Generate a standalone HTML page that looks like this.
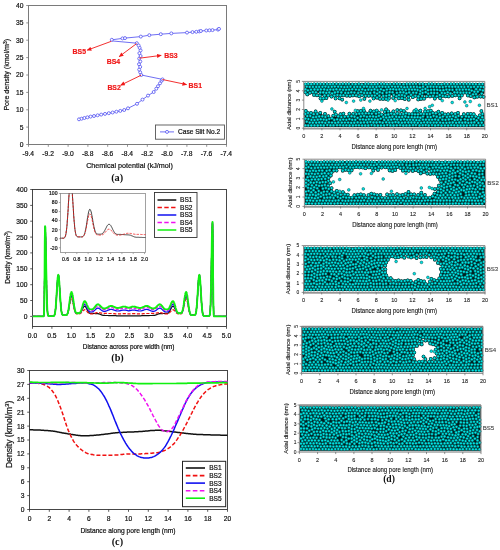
<!DOCTYPE html>
<html><head><meta charset="utf-8"><title>Figure</title>
<style>
html,body{margin:0;padding:0;background:#fff}
svg{display:block;font-family:"Liberation Sans", Arial, sans-serif}
.p circle{r:1.38px;fill:#00e6e6;stroke:#004848;stroke-width:.5px}
</style></head><body>
<svg width="500" height="550" viewBox="0 0 500 550">
<rect width="500" height="550" fill="#fff"/>
<g id="plot-a">
<rect x="28.5" y="5.5" width="198" height="139" fill="none" stroke="#7a7a7a" stroke-width="1"/>
<line x1="26.2" y1="144.5" x2="28.5" y2="144.5" stroke="#7a7a7a" stroke-width="0.8"/>
<text x="23.5" y="146.9" font-size="6.7" text-anchor="end" fill="#111" stroke="#111" stroke-width="0.2">0</text>
<line x1="26.2" y1="127.1" x2="28.5" y2="127.1" stroke="#7a7a7a" stroke-width="0.8"/>
<text x="23.5" y="129.5" font-size="6.7" text-anchor="end" fill="#111" stroke="#111" stroke-width="0.2">5</text>
<line x1="26.2" y1="109.8" x2="28.5" y2="109.8" stroke="#7a7a7a" stroke-width="0.8"/>
<text x="23.5" y="112.2" font-size="6.7" text-anchor="end" fill="#111" stroke="#111" stroke-width="0.2">10</text>
<line x1="26.2" y1="92.4" x2="28.5" y2="92.4" stroke="#7a7a7a" stroke-width="0.8"/>
<text x="23.5" y="94.8" font-size="6.7" text-anchor="end" fill="#111" stroke="#111" stroke-width="0.2">15</text>
<line x1="26.2" y1="75" x2="28.5" y2="75" stroke="#7a7a7a" stroke-width="0.8"/>
<text x="23.5" y="77.4" font-size="6.7" text-anchor="end" fill="#111" stroke="#111" stroke-width="0.2">20</text>
<line x1="26.2" y1="57.6" x2="28.5" y2="57.6" stroke="#7a7a7a" stroke-width="0.8"/>
<text x="23.5" y="60" font-size="6.7" text-anchor="end" fill="#111" stroke="#111" stroke-width="0.2">25</text>
<line x1="26.2" y1="40.2" x2="28.5" y2="40.2" stroke="#7a7a7a" stroke-width="0.8"/>
<text x="23.5" y="42.6" font-size="6.7" text-anchor="end" fill="#111" stroke="#111" stroke-width="0.2">30</text>
<line x1="26.2" y1="22.9" x2="28.5" y2="22.9" stroke="#7a7a7a" stroke-width="0.8"/>
<text x="23.5" y="25.3" font-size="6.7" text-anchor="end" fill="#111" stroke="#111" stroke-width="0.2">35</text>
<line x1="26.2" y1="5.5" x2="28.5" y2="5.5" stroke="#7a7a7a" stroke-width="0.8"/>
<text x="23.5" y="7.9" font-size="6.7" text-anchor="end" fill="#111" stroke="#111" stroke-width="0.2">40</text>
<line x1="28.5" y1="144.5" x2="28.5" y2="146.8" stroke="#7a7a7a" stroke-width="0.8"/>
<text x="28.3" y="155.7" font-size="6.7" text-anchor="middle" fill="#111" stroke="#111" stroke-width="0.2">-9.4</text>
<line x1="48.3" y1="144.5" x2="48.3" y2="146.8" stroke="#7a7a7a" stroke-width="0.8"/>
<text x="48.1" y="155.7" font-size="6.7" text-anchor="middle" fill="#111" stroke="#111" stroke-width="0.2">-9.2</text>
<line x1="68.1" y1="144.5" x2="68.1" y2="146.8" stroke="#7a7a7a" stroke-width="0.8"/>
<text x="67.9" y="155.7" font-size="6.7" text-anchor="middle" fill="#111" stroke="#111" stroke-width="0.2">-9.0</text>
<line x1="87.9" y1="144.5" x2="87.9" y2="146.8" stroke="#7a7a7a" stroke-width="0.8"/>
<text x="87.7" y="155.7" font-size="6.7" text-anchor="middle" fill="#111" stroke="#111" stroke-width="0.2">-8.8</text>
<line x1="107.7" y1="144.5" x2="107.7" y2="146.8" stroke="#7a7a7a" stroke-width="0.8"/>
<text x="107.5" y="155.7" font-size="6.7" text-anchor="middle" fill="#111" stroke="#111" stroke-width="0.2">-8.6</text>
<line x1="127.5" y1="144.5" x2="127.5" y2="146.8" stroke="#7a7a7a" stroke-width="0.8"/>
<text x="127.3" y="155.7" font-size="6.7" text-anchor="middle" fill="#111" stroke="#111" stroke-width="0.2">-8.4</text>
<line x1="147.3" y1="144.5" x2="147.3" y2="146.8" stroke="#7a7a7a" stroke-width="0.8"/>
<text x="147.1" y="155.7" font-size="6.7" text-anchor="middle" fill="#111" stroke="#111" stroke-width="0.2">-8.2</text>
<line x1="167.1" y1="144.5" x2="167.1" y2="146.8" stroke="#7a7a7a" stroke-width="0.8"/>
<text x="166.9" y="155.7" font-size="6.7" text-anchor="middle" fill="#111" stroke="#111" stroke-width="0.2">-8.0</text>
<line x1="186.9" y1="144.5" x2="186.9" y2="146.8" stroke="#7a7a7a" stroke-width="0.8"/>
<text x="186.7" y="155.7" font-size="6.7" text-anchor="middle" fill="#111" stroke="#111" stroke-width="0.2">-7.8</text>
<line x1="206.7" y1="144.5" x2="206.7" y2="146.8" stroke="#7a7a7a" stroke-width="0.8"/>
<text x="206.5" y="155.7" font-size="6.7" text-anchor="middle" fill="#111" stroke="#111" stroke-width="0.2">-7.6</text>
<line x1="226.5" y1="144.5" x2="226.5" y2="146.8" stroke="#7a7a7a" stroke-width="0.8"/>
<text x="226.3" y="155.7" font-size="6.7" text-anchor="middle" fill="#111" stroke="#111" stroke-width="0.2">-7.4</text>
<text x="129.5" y="167.5" font-size="7.2" text-anchor="middle" fill="#111" stroke="#111" stroke-width="0.2">Chemical potential (kJ/mol)</text>
<text x="9.4" y="74.8" font-size="7.1" text-anchor="middle" fill="#111" stroke="#111" stroke-width="0.2" transform="rotate(-90 9.4 74.8)">Pore density (kmol/m<tspan dy="-2.4" font-size="4.8">3</tspan><tspan dy="2.4">)</tspan></text>
<text x="117.2" y="181.2" font-size="10.3" text-anchor="middle" fill="#111" font-weight="bold" font-family='"Liberation Serif", "Times New Roman", serif'>(a)</text>
<polyline points="79,119.3 81.6,118.7 84.4,118 87.4,117.3 90.6,116.6 94,116 97.6,115.3 101.2,114.6 105,113.9 108.8,113.2 112.6,112.5 116.4,111.7 120.3,110.9 124.2,110 128,108.3 137,103.8 142.5,99.6 148,95.6 153.7,92 156.3,88.7 158,86.2 160,83.3 161.6,80.8 162.5,79.4 141.3,75 140.2,72.3 139.2,69.6 140.2,66.9 139,64.2 140.3,61.5 139.2,58.6 140.6,56 139.4,53.2 140.6,50.4 139.6,47.8 138.6,45.4 136.8,43.2 111.8,40.9 111.8,39.8 122.5,38.4 125,38.1 140.8,36.6 149.3,35.2 160.8,34.2 171.3,33.4 187,32.6 192.5,32.1 196.3,31.8 199.3,31.4 200.9,31 206.3,30.5 209.5,30.3 212.5,30.1 218,29.6 219,28.9" fill="none" stroke="#4a4af0" stroke-width="0.8"/>
<circle cx="79" cy="119.3" r="1.5" fill="#fff" stroke="#4a4af0" stroke-width="0.75"/>
<circle cx="81.6" cy="118.7" r="1.5" fill="#fff" stroke="#4a4af0" stroke-width="0.75"/>
<circle cx="84.4" cy="118" r="1.5" fill="#fff" stroke="#4a4af0" stroke-width="0.75"/>
<circle cx="87.4" cy="117.3" r="1.5" fill="#fff" stroke="#4a4af0" stroke-width="0.75"/>
<circle cx="90.6" cy="116.6" r="1.5" fill="#fff" stroke="#4a4af0" stroke-width="0.75"/>
<circle cx="94" cy="116" r="1.5" fill="#fff" stroke="#4a4af0" stroke-width="0.75"/>
<circle cx="97.6" cy="115.3" r="1.5" fill="#fff" stroke="#4a4af0" stroke-width="0.75"/>
<circle cx="101.2" cy="114.6" r="1.5" fill="#fff" stroke="#4a4af0" stroke-width="0.75"/>
<circle cx="105" cy="113.9" r="1.5" fill="#fff" stroke="#4a4af0" stroke-width="0.75"/>
<circle cx="108.8" cy="113.2" r="1.5" fill="#fff" stroke="#4a4af0" stroke-width="0.75"/>
<circle cx="112.6" cy="112.5" r="1.5" fill="#fff" stroke="#4a4af0" stroke-width="0.75"/>
<circle cx="116.4" cy="111.7" r="1.5" fill="#fff" stroke="#4a4af0" stroke-width="0.75"/>
<circle cx="120.3" cy="110.9" r="1.5" fill="#fff" stroke="#4a4af0" stroke-width="0.75"/>
<circle cx="124.2" cy="110" r="1.5" fill="#fff" stroke="#4a4af0" stroke-width="0.75"/>
<circle cx="128" cy="108.3" r="1.5" fill="#fff" stroke="#4a4af0" stroke-width="0.75"/>
<circle cx="137" cy="103.8" r="1.5" fill="#fff" stroke="#4a4af0" stroke-width="0.75"/>
<circle cx="142.5" cy="99.6" r="1.5" fill="#fff" stroke="#4a4af0" stroke-width="0.75"/>
<circle cx="148" cy="95.6" r="1.5" fill="#fff" stroke="#4a4af0" stroke-width="0.75"/>
<circle cx="153.7" cy="92" r="1.5" fill="#fff" stroke="#4a4af0" stroke-width="0.75"/>
<circle cx="156.3" cy="88.7" r="1.5" fill="#fff" stroke="#4a4af0" stroke-width="0.75"/>
<circle cx="158" cy="86.2" r="1.5" fill="#fff" stroke="#4a4af0" stroke-width="0.75"/>
<circle cx="160" cy="83.3" r="1.5" fill="#fff" stroke="#4a4af0" stroke-width="0.75"/>
<circle cx="161.6" cy="80.8" r="1.5" fill="#fff" stroke="#4a4af0" stroke-width="0.75"/>
<circle cx="162.5" cy="79.4" r="1.5" fill="#fff" stroke="#4a4af0" stroke-width="0.75"/>
<circle cx="141.3" cy="75" r="1.5" fill="#fff" stroke="#4a4af0" stroke-width="0.75"/>
<circle cx="140.2" cy="72.3" r="1.5" fill="#fff" stroke="#4a4af0" stroke-width="0.75"/>
<circle cx="139.2" cy="69.6" r="1.5" fill="#fff" stroke="#4a4af0" stroke-width="0.75"/>
<circle cx="140.2" cy="66.9" r="1.5" fill="#fff" stroke="#4a4af0" stroke-width="0.75"/>
<circle cx="139" cy="64.2" r="1.5" fill="#fff" stroke="#4a4af0" stroke-width="0.75"/>
<circle cx="140.3" cy="61.5" r="1.5" fill="#fff" stroke="#4a4af0" stroke-width="0.75"/>
<circle cx="139.2" cy="58.6" r="1.5" fill="#fff" stroke="#4a4af0" stroke-width="0.75"/>
<circle cx="140.6" cy="56" r="1.5" fill="#fff" stroke="#4a4af0" stroke-width="0.75"/>
<circle cx="139.4" cy="53.2" r="1.5" fill="#fff" stroke="#4a4af0" stroke-width="0.75"/>
<circle cx="140.6" cy="50.4" r="1.5" fill="#fff" stroke="#4a4af0" stroke-width="0.75"/>
<circle cx="139.6" cy="47.8" r="1.5" fill="#fff" stroke="#4a4af0" stroke-width="0.75"/>
<circle cx="138.6" cy="45.4" r="1.5" fill="#fff" stroke="#4a4af0" stroke-width="0.75"/>
<circle cx="136.8" cy="43.2" r="1.5" fill="#fff" stroke="#4a4af0" stroke-width="0.75"/>
<circle cx="111.8" cy="39.8" r="1.5" fill="#fff" stroke="#4a4af0" stroke-width="0.75"/>
<circle cx="122.5" cy="38.4" r="1.5" fill="#fff" stroke="#4a4af0" stroke-width="0.75"/>
<circle cx="125" cy="38.1" r="1.5" fill="#fff" stroke="#4a4af0" stroke-width="0.75"/>
<circle cx="140.8" cy="36.6" r="1.5" fill="#fff" stroke="#4a4af0" stroke-width="0.75"/>
<circle cx="149.3" cy="35.2" r="1.5" fill="#fff" stroke="#4a4af0" stroke-width="0.75"/>
<circle cx="160.8" cy="34.2" r="1.5" fill="#fff" stroke="#4a4af0" stroke-width="0.75"/>
<circle cx="171.3" cy="33.4" r="1.5" fill="#fff" stroke="#4a4af0" stroke-width="0.75"/>
<circle cx="187" cy="32.6" r="1.5" fill="#fff" stroke="#4a4af0" stroke-width="0.75"/>
<circle cx="192.5" cy="32.1" r="1.5" fill="#fff" stroke="#4a4af0" stroke-width="0.75"/>
<circle cx="196.3" cy="31.8" r="1.5" fill="#fff" stroke="#4a4af0" stroke-width="0.75"/>
<circle cx="199.3" cy="31.4" r="1.5" fill="#fff" stroke="#4a4af0" stroke-width="0.75"/>
<circle cx="200.9" cy="31" r="1.5" fill="#fff" stroke="#4a4af0" stroke-width="0.75"/>
<circle cx="206.3" cy="30.5" r="1.5" fill="#fff" stroke="#4a4af0" stroke-width="0.75"/>
<circle cx="209.5" cy="30.3" r="1.5" fill="#fff" stroke="#4a4af0" stroke-width="0.75"/>
<circle cx="212.5" cy="30.1" r="1.5" fill="#fff" stroke="#4a4af0" stroke-width="0.75"/>
<circle cx="218" cy="29.6" r="1.5" fill="#fff" stroke="#4a4af0" stroke-width="0.75"/>
<circle cx="219" cy="28.9" r="1.5" fill="#fff" stroke="#4a4af0" stroke-width="0.75"/>
<defs><marker id="ah" viewBox="0 0 10 10" refX="9" refY="5" markerWidth="5.2" markerHeight="4.6" orient="auto" markerUnits="userSpaceOnUse"><path d="M0,0.6 L10,5 L0,9.4 z" fill="#f01818"/></marker></defs>
<line x1="111.3" y1="41.3" x2="87.2" y2="50.2" stroke="#f01818" stroke-width="0.9" marker-end="url(#ah)"/>
<line x1="136.6" y1="43.6" x2="119.2" y2="56.6" stroke="#f01818" stroke-width="0.9" marker-end="url(#ah)"/>
<line x1="139.4" y1="58.2" x2="161.2" y2="55.4" stroke="#f01818" stroke-width="0.9" marker-end="url(#ah)"/>
<line x1="162.4" y1="79.5" x2="186.6" y2="84.6" stroke="#f01818" stroke-width="0.9" marker-end="url(#ah)"/>
<line x1="141.2" y1="75.2" x2="120.6" y2="85.2" stroke="#f01818" stroke-width="0.9" marker-end="url(#ah)"/>
<text x="72.6" y="53.6" font-size="6.9" text-anchor="start" fill="#f01818" stroke="#f01818" stroke-width="0.2" font-weight="bold">BS5</text>
<text x="106.8" y="63.6" font-size="6.9" text-anchor="start" fill="#f01818" stroke="#f01818" stroke-width="0.2" font-weight="bold">BS4</text>
<text x="164.2" y="58" font-size="6.9" text-anchor="start" fill="#f01818" stroke="#f01818" stroke-width="0.2" font-weight="bold">BS3</text>
<text x="188.6" y="88" font-size="6.9" text-anchor="start" fill="#f01818" stroke="#f01818" stroke-width="0.2" font-weight="bold">BS1</text>
<text x="107.4" y="90.4" font-size="6.9" text-anchor="start" fill="#f01818" stroke="#f01818" stroke-width="0.2" font-weight="bold">BS2</text>
<rect x="155.5" y="125" width="69" height="14.2" fill="#fff" stroke="#555" stroke-width="0.9"/>
<line x1="160" y1="131.9" x2="174" y2="131.9" stroke="#4a4af0" stroke-width="0.8"/>
<circle cx="167" cy="131.9" r="1.5" fill="#fff" stroke="#4a4af0" stroke-width="0.75"/>
<text x="178" y="134.3" font-size="6.6" text-anchor="start" fill="#111" stroke="#111" stroke-width="0.2">Case Slit No.2</text>
</g>
<g id="plot-b">
<rect x="32.5" y="189.5" width="194" height="137" fill="none" stroke="#333" stroke-width="0.9"/>
<line x1="30.2" y1="316.4" x2="32.5" y2="316.4" stroke="#333" stroke-width="0.8"/>
<text x="27.5" y="318.8" font-size="6.7" text-anchor="end" fill="#111" stroke="#111" stroke-width="0.2">0</text>
<line x1="30.2" y1="300.5" x2="32.5" y2="300.5" stroke="#333" stroke-width="0.8"/>
<text x="27.5" y="302.9" font-size="6.7" text-anchor="end" fill="#111" stroke="#111" stroke-width="0.2">50</text>
<line x1="30.2" y1="284.7" x2="32.5" y2="284.7" stroke="#333" stroke-width="0.8"/>
<text x="27.5" y="287.1" font-size="6.7" text-anchor="end" fill="#111" stroke="#111" stroke-width="0.2">100</text>
<line x1="30.2" y1="268.8" x2="32.5" y2="268.8" stroke="#333" stroke-width="0.8"/>
<text x="27.5" y="271.2" font-size="6.7" text-anchor="end" fill="#111" stroke="#111" stroke-width="0.2">150</text>
<line x1="30.2" y1="252.9" x2="32.5" y2="252.9" stroke="#333" stroke-width="0.8"/>
<text x="27.5" y="255.3" font-size="6.7" text-anchor="end" fill="#111" stroke="#111" stroke-width="0.2">200</text>
<line x1="30.2" y1="237.1" x2="32.5" y2="237.1" stroke="#333" stroke-width="0.8"/>
<text x="27.5" y="239.5" font-size="6.7" text-anchor="end" fill="#111" stroke="#111" stroke-width="0.2">250</text>
<line x1="30.2" y1="221.2" x2="32.5" y2="221.2" stroke="#333" stroke-width="0.8"/>
<text x="27.5" y="223.6" font-size="6.7" text-anchor="end" fill="#111" stroke="#111" stroke-width="0.2">300</text>
<line x1="30.2" y1="205.4" x2="32.5" y2="205.4" stroke="#333" stroke-width="0.8"/>
<text x="27.5" y="207.8" font-size="6.7" text-anchor="end" fill="#111" stroke="#111" stroke-width="0.2">350</text>
<line x1="30.2" y1="189.5" x2="32.5" y2="189.5" stroke="#333" stroke-width="0.8"/>
<text x="27.5" y="191.9" font-size="6.7" text-anchor="end" fill="#111" stroke="#111" stroke-width="0.2">400</text>
<line x1="32.5" y1="326.5" x2="32.5" y2="328.8" stroke="#333" stroke-width="0.8"/>
<text x="32.5" y="337.9" font-size="6.7" text-anchor="middle" fill="#111" stroke="#111" stroke-width="0.2">0.0</text>
<line x1="51.9" y1="326.5" x2="51.9" y2="328.8" stroke="#333" stroke-width="0.8"/>
<text x="51.9" y="337.9" font-size="6.7" text-anchor="middle" fill="#111" stroke="#111" stroke-width="0.2">0.5</text>
<line x1="71.3" y1="326.5" x2="71.3" y2="328.8" stroke="#333" stroke-width="0.8"/>
<text x="71.3" y="337.9" font-size="6.7" text-anchor="middle" fill="#111" stroke="#111" stroke-width="0.2">1.0</text>
<line x1="90.7" y1="326.5" x2="90.7" y2="328.8" stroke="#333" stroke-width="0.8"/>
<text x="90.7" y="337.9" font-size="6.7" text-anchor="middle" fill="#111" stroke="#111" stroke-width="0.2">1.5</text>
<line x1="110.1" y1="326.5" x2="110.1" y2="328.8" stroke="#333" stroke-width="0.8"/>
<text x="110.1" y="337.9" font-size="6.7" text-anchor="middle" fill="#111" stroke="#111" stroke-width="0.2">2.0</text>
<line x1="129.5" y1="326.5" x2="129.5" y2="328.8" stroke="#333" stroke-width="0.8"/>
<text x="129.5" y="337.9" font-size="6.7" text-anchor="middle" fill="#111" stroke="#111" stroke-width="0.2">2.5</text>
<line x1="148.9" y1="326.5" x2="148.9" y2="328.8" stroke="#333" stroke-width="0.8"/>
<text x="148.9" y="337.9" font-size="6.7" text-anchor="middle" fill="#111" stroke="#111" stroke-width="0.2">3.0</text>
<line x1="168.3" y1="326.5" x2="168.3" y2="328.8" stroke="#333" stroke-width="0.8"/>
<text x="168.3" y="337.9" font-size="6.7" text-anchor="middle" fill="#111" stroke="#111" stroke-width="0.2">3.5</text>
<line x1="187.7" y1="326.5" x2="187.7" y2="328.8" stroke="#333" stroke-width="0.8"/>
<text x="187.7" y="337.9" font-size="6.7" text-anchor="middle" fill="#111" stroke="#111" stroke-width="0.2">4.0</text>
<line x1="207.1" y1="326.5" x2="207.1" y2="328.8" stroke="#333" stroke-width="0.8"/>
<text x="207.1" y="337.9" font-size="6.7" text-anchor="middle" fill="#111" stroke="#111" stroke-width="0.2">4.5</text>
<line x1="226.5" y1="326.5" x2="226.5" y2="328.8" stroke="#333" stroke-width="0.8"/>
<text x="226.5" y="337.9" font-size="6.7" text-anchor="middle" fill="#111" stroke="#111" stroke-width="0.2">5.0</text>
<text x="128.6" y="348.8" font-size="6.4" text-anchor="middle" fill="#111" stroke="#111" stroke-width="0.2">Distance across pore width (nm)</text>
<text x="10.2" y="257.4" font-size="6.7" text-anchor="middle" fill="#111" stroke="#111" stroke-width="0.2" transform="rotate(-90 10.2 257.4)">Density (kmol/m<tspan dy="-2.2" font-size="4.6">3</tspan><tspan dy="2.2">)</tspan></text>
<text x="117.5" y="361.4" font-size="10.3" text-anchor="middle" fill="#111" font-weight="bold" font-family='"Liberation Serif", "Times New Roman", serif'>(b)</text>
<polyline points="32.5,316.4 32.6,316.4 32.8,316.4 32.9,316.4 33.1,316.4 33.2,316.4 33.3,316.4 33.5,316.4 33.6,316.4 33.7,316.4 33.9,316.4 34,316.4 34.2,316.4 34.3,316.4 34.4,316.4 34.6,316.4 34.7,316.4 34.9,316.4 35,316.4 35.1,316.4 35.3,316.4 35.4,316.4 35.6,316.4 35.7,316.4 35.8,316.4 36,316.4 36.1,316.4 36.2,316.4 36.4,316.4 36.5,316.4 36.7,316.4 36.8,316.4 36.9,316.4 37.1,316.4 37.2,316.4 37.4,316.4 37.5,316.4 37.6,316.4 37.8,316.4 37.9,316.4 38,316.4 38.2,316.4 38.3,316.4 38.5,316.4 38.6,316.4 38.7,316.4 38.9,316.4 39,316.4 39.2,316.4 39.3,316.4 39.4,316.4 39.6,316.4 39.7,316.4 39.8,316.4 40,316.4 40.1,316.4 40.3,316.4 40.4,316.4 40.5,316.4 40.7,316.4 40.8,316.4 41,316.4 41.1,316.4 41.2,316.4 41.4,316.4 41.5,316.4 41.7,316.4 41.8,316.4 41.9,316.4 42.1,316.4 42.2,316.4 42.3,316.4 42.5,316.4 42.6,316.4 42.8,316.4 42.9,316.4 43,316.4 43.2,316.4 43.3,316.4 43.5,316.4 43.6,316.3 43.7,316 43.9,315.3 44,313.4 44.1,309.4 44.3,302.2 44.4,290.9 44.6,275.9 44.7,258.7 44.8,242.4 45,230.8 45.1,226.9 45.3,227.9 45.4,230.6 45.5,234.8 45.7,240.3 45.8,246.9 46,254.1 46.1,261.7 46.2,269.4 46.4,276.8 46.5,283.7 46.6,290 46.8,295.5 46.9,300.3 47.1,304.2 47.2,307.4 47.3,309.9 47.5,311.7 47.6,313.1 47.8,314.2 47.9,314.8 48,315.3 48.2,315.6 48.3,315.8 48.4,315.9 48.6,316 48.7,316 48.9,316.1 49,316.1 49.1,316.1 49.3,316.1 49.4,316.1 49.6,316.1 49.7,316.1 49.8,316.1 50,316.1 50.1,316.1 50.2,316.1 50.4,316.1 50.5,316.1 50.7,316.1 50.8,316.1 50.9,316.1 51.1,316.1 51.2,316.1 51.4,316.1 51.5,316.1 51.6,316.1 51.8,316.1 51.9,316.1 52.1,316.1 52.2,316.1 52.3,316.1 52.5,316.1 52.6,316.1 52.7,316.1 52.9,316.1 53,316.1 53.2,316.1 53.3,316.1 53.4,316 53.6,316 53.7,316 53.9,315.9 54,315.8 54.1,315.7 54.3,315.5 54.4,315.2 54.5,314.9 54.7,314.5 54.8,314 55,313.3 55.1,312.6 55.2,311.7 55.4,310.6 55.5,309.4 55.7,308 55.8,306.4 55.9,304.7 56.1,302.8 56.2,300.8 56.4,298.6 56.5,296.4 56.6,294.1 56.8,291.7 56.9,289.4 57,287.1 57.2,284.9 57.3,282.9 57.5,281 57.6,279.3 57.7,277.9 57.9,276.7 58,275.9 58.2,275.4 58.3,275.2 58.4,275.3 58.6,275.8 58.7,276.6 58.8,277.6 59,279 59.1,280.6 59.3,282.4 59.4,284.4 59.5,286.6 59.7,288.8 59.8,291 60,293.3 60.1,295.6 60.2,297.8 60.4,299.9 60.5,301.9 60.7,303.7 60.8,305.5 60.9,307 61.1,308.4 61.2,309.6 61.3,310.7 61.5,311.6 61.6,312.4 61.8,313 61.9,313.5 62,313.9 62.2,314.3 62.3,314.5 62.5,314.7 62.6,314.8 62.7,314.9 62.9,315 63,315.1 63.1,315.1 63.3,315.1 63.4,315.1 63.6,315.1 63.7,315.1 63.8,315.1 64,315.1 64.1,315.1 64.3,315.1 64.4,315.1 64.5,315.1 64.7,315.1 64.8,315.1 64.9,315.1 65.1,315.1 65.2,315.1 65.4,315.1 65.5,315.1 65.6,315.1 65.8,315.1 65.9,315.1 66.1,315.1 66.2,315.1 66.3,315 66.5,315 66.6,314.9 66.8,314.9 66.9,314.7 67,314.6 67.2,314.4 67.3,314.2 67.4,314 67.6,313.7 67.7,313.3 67.9,312.9 68,312.5 68.1,311.9 68.3,311.4 68.4,310.7 68.6,310.1 68.7,309.3 68.8,308.6 69,307.7 69.1,306.9 69.2,306 69.4,305.1 69.5,304.2 69.7,303.3 69.8,302.4 69.9,301.5 70.1,300.6 70.2,299.8 70.4,299.1 70.5,298.4 70.6,297.7 70.8,297.2 70.9,296.7 71.1,296.3 71.2,296 71.3,295.9 71.5,295.8 71.6,295.8 71.7,295.9 71.9,296.1 72,296.5 72.2,296.8 72.3,297.3 72.4,297.9 72.6,298.5 72.7,299.1 72.9,299.9 73,300.6 73.1,301.4 73.3,302.2 73.4,303 73.5,303.9 73.7,304.7 73.8,305.5 74,306.3 74.1,307 74.2,307.7 74.4,308.4 74.5,309 74.7,309.6 74.8,310.2 74.9,310.6 75.1,311.1 75.2,311.5 75.3,311.8 75.5,312.1 75.6,312.3 75.8,312.5 75.9,312.7 76,312.8 76.2,312.9 76.3,313 76.5,313.1 76.6,313.1 76.7,313.2 76.9,313.2 77,313.2 77.2,313.2 77.3,313.2 77.4,313.2 77.6,313.2 77.7,313.2 77.8,313.2 78,313.2 78.1,313.2 78.3,313.2 78.4,313.2 78.5,313.2 78.7,313.2 78.8,313.2 79,313.2 79.1,313.2 79.2,313.2 79.4,313.1 79.5,313.1 79.6,313 79.8,313 79.9,312.9 80.1,312.8 80.2,312.7 80.3,312.6 80.5,312.5 80.6,312.3 80.8,312.2 80.9,312 81,311.8 81.2,311.6 81.3,311.4 81.5,311.1 81.6,310.9 81.7,310.6 81.9,310.3 82,310.1 82.1,309.8 82.3,309.5 82.4,309.2 82.6,308.9 82.7,308.6 82.8,308.4 83,308.1 83.1,307.8 83.3,307.6 83.4,307.4 83.5,307.1 83.7,307 83.8,306.8 83.9,306.6 84.1,306.5 84.2,306.4 84.4,306.3 84.5,306.3 84.6,306.2 84.8,306.3 84.9,306.3 85.1,306.3 85.2,306.4 85.3,306.5 85.5,306.7 85.6,306.8 85.7,307 85.9,307.2 86,307.5 86.2,307.7 86.3,308 86.4,308.2 86.6,308.5 86.7,308.8 86.9,309.1 87,309.4 87.1,309.7 87.3,310 87.4,310.2 87.6,310.5 87.7,310.8 87.8,311.1 88,311.3 88.1,311.5 88.2,311.8 88.4,312 88.5,312.2 88.7,312.4 88.8,312.5 88.9,312.7 89.1,312.8 89.2,312.9 89.4,313 89.5,313.1 89.6,313.2 89.8,313.2 89.9,313.3 90,313.3 90.2,313.3 90.3,313.4 90.5,313.4 90.6,313.4 90.7,313.4 90.9,313.4 91,313.4 91.2,313.4 91.3,313.4 91.4,313.4 91.6,313.4 91.7,313.4 91.9,313.4 92,313.4 92.1,313.4 92.3,313.4 92.4,313.4 92.5,313.4 92.7,313.4 92.8,313.4 93,313.4 93.1,313.4 93.2,313.4 93.4,313.4 93.5,313.4 93.7,313.4 93.8,313.5 93.9,313.5 94.1,313.5 94.2,313.5 94.3,313.5 94.5,313.5 94.6,313.5 94.8,313.5 94.9,313.5 95,313.6 95.2,313.6 95.3,313.6 95.5,313.6 95.6,313.6 95.7,313.6 95.9,313.6 96,313.6 96.1,313.6 96.3,313.6 96.4,313.7 96.6,313.7 96.7,313.7 96.8,313.7 97,313.7 97.1,313.7 97.3,313.7 97.4,313.7 97.5,313.7 97.7,313.7 97.8,313.7 98,313.7 98.1,313.7 98.2,313.7 98.4,313.7 98.5,313.8 98.6,313.8 98.8,313.8 98.9,313.8 99.1,313.9 99.2,313.9 99.3,314 99.5,314 99.6,314.1 99.8,314.1 99.9,314.2 100,314.2 100.2,314.3 100.3,314.3 100.4,314.4 100.6,314.5 100.7,314.5 100.9,314.6 101,314.7 101.1,314.7 101.3,314.8 101.4,314.8 101.6,314.9 101.7,315 101.8,315 102,315.1 102.1,315.1 102.3,315.2 102.4,315.2 102.5,315.2 102.7,315.3 102.8,315.3 102.9,315.3 103.1,315.4 103.2,315.4 103.4,315.4 103.5,315.4 103.6,315.4 103.8,315.4 103.9,315.4 104.1,315.4 104.2,315.4 104.3,315.4 104.5,315.4 104.6,315.4 104.7,315.4 104.9,315.4 105,315.5 105.2,315.5 105.3,315.5 105.4,315.5 105.6,315.5 105.7,315.5 105.9,315.5 106,315.5 106.1,315.5 106.3,315.5 106.4,315.5 106.6,315.5 106.7,315.5 106.8,315.5 107,315.5 107.1,315.5 107.2,315.5 107.4,315.5 107.5,315.5 107.7,315.5 107.8,315.5 107.9,315.5 108.1,315.5 108.2,315.5 108.4,315.5 108.5,315.6 108.6,315.6 108.8,315.6 108.9,315.6 109,315.6 109.2,315.6 109.3,315.6 109.5,315.6 109.6,315.6 109.7,315.6 109.9,315.6 110,315.6 110.2,315.6 110.3,315.6 110.4,315.6 110.6,315.6 110.7,315.6 110.8,315.6 111,315.6 111.1,315.6 111.3,315.6 111.4,315.6 111.5,315.6 111.7,315.6 111.8,315.6 112,315.6 112.1,315.6 112.2,315.6 112.4,315.6 112.5,315.6 112.7,315.6 112.8,315.6 112.9,315.6 113.1,315.6 113.2,315.6 113.3,315.6 113.5,315.7 113.6,315.7 113.8,315.7 113.9,315.7 114,315.7 114.2,315.7 114.3,315.7 114.5,315.7 114.6,315.7 114.7,315.7 114.9,315.7 115,315.7 115.1,315.7 115.3,315.7 115.4,315.7 115.6,315.7 115.7,315.7 115.8,315.7 116,315.7 116.1,315.7 116.3,315.7 116.4,315.8 116.5,315.8 116.7,315.8 116.8,315.8 117,315.8 117.1,315.8 117.2,315.8 117.4,315.8 117.5,315.8 117.6,315.8 117.8,315.8 117.9,315.8 118.1,315.8 118.2,315.8 118.3,315.8 118.5,315.8 118.6,315.8 118.8,315.8 118.9,315.8 119,315.8 119.2,315.8 119.3,315.8 119.4,315.8 119.6,315.8 119.7,315.8 119.9,315.8 120,315.8 120.1,315.8 120.3,315.8 120.4,315.8 120.6,315.8 120.7,315.8 120.8,315.8 121,315.8 121.1,315.8 121.2,315.8 121.4,315.8 121.5,315.8 121.7,315.8 121.8,315.8 121.9,315.8 122.1,315.8 122.2,315.8 122.4,315.8 122.5,315.8 122.6,315.8 122.8,315.8 122.9,315.8 123.1,315.8 123.2,315.8 123.3,315.8 123.5,315.8 123.6,315.8 123.7,315.8 123.9,315.8 124,315.8 124.2,315.8 124.3,315.8 124.4,315.8 124.6,315.8 124.7,315.8 124.9,315.8 125,315.8 125.1,315.8 125.3,315.8 125.4,315.8 125.5,315.8 125.7,315.8 125.8,315.8 126,315.8 126.1,315.8 126.2,315.8 126.4,315.8 126.5,315.8 126.7,315.8 126.8,315.8 126.9,315.8 127.1,315.8 127.2,315.8 127.4,315.8 127.5,315.8 127.6,315.8 127.8,315.8 127.9,315.8 128,315.8 128.2,315.8 128.3,315.8 128.5,315.8 128.6,315.8 128.7,315.8 128.9,315.8 129,315.8 129.2,315.8 129.3,315.8 129.4,315.8 129.6,315.8 129.7,315.8 129.8,315.8 130,315.8 130.1,315.8 130.3,315.8 130.4,315.8 130.5,315.8 130.7,315.8 130.8,315.8 131,315.8 131.1,315.8 131.2,315.8 131.4,315.8 131.5,315.8 131.6,315.8 131.8,315.8 131.9,315.8 132.1,315.8 132.2,315.8 132.3,315.8 132.5,315.8 132.6,315.8 132.8,315.8 132.9,315.8 133,315.8 133.2,315.8 133.3,315.8 133.5,315.8 133.6,315.8 133.7,315.8 133.9,315.8 134,315.8 134.1,315.8 134.3,315.8 134.4,315.8 134.6,315.8 134.7,315.8 134.8,315.8 135,315.8 135.1,315.8 135.3,315.8 135.4,315.8 135.5,315.8 135.7,315.8 135.8,315.8 135.9,315.8 136.1,315.8 136.2,315.8 136.4,315.8 136.5,315.8 136.6,315.8 136.8,315.8 136.9,315.8 137.1,315.8 137.2,315.8 137.3,315.8 137.5,315.8 137.6,315.8 137.8,315.8 137.9,315.8 138,315.8 138.2,315.8 138.3,315.8 138.4,315.8 138.6,315.8 138.7,315.8 138.9,315.8 139,315.8 139.1,315.8 139.3,315.8 139.4,315.8 139.6,315.8 139.7,315.8 139.8,315.8 140,315.8 140.1,315.8 140.2,315.8 140.4,315.8 140.5,315.8 140.7,315.8 140.8,315.8 140.9,315.8 141.1,315.8 141.2,315.8 141.4,315.7 141.5,315.7 141.6,315.7 141.8,315.7 141.9,315.7 142,315.7 142.2,315.7 142.3,315.7 142.5,315.7 142.6,315.7 142.7,315.7 142.9,315.7 143,315.7 143.2,315.7 143.3,315.7 143.4,315.7 143.6,315.7 143.7,315.7 143.9,315.7 144,315.7 144.1,315.7 144.3,315.7 144.4,315.6 144.5,315.6 144.7,315.6 144.8,315.6 145,315.6 145.1,315.6 145.2,315.6 145.4,315.6 145.5,315.6 145.7,315.6 145.8,315.6 145.9,315.6 146.1,315.6 146.2,315.6 146.3,315.6 146.5,315.6 146.6,315.6 146.8,315.6 146.9,315.6 147,315.6 147.2,315.6 147.3,315.6 147.5,315.6 147.6,315.6 147.7,315.6 147.9,315.6 148,315.6 148.2,315.6 148.3,315.6 148.4,315.6 148.6,315.6 148.7,315.6 148.8,315.6 149,315.6 149.1,315.6 149.3,315.6 149.4,315.5 149.5,315.5 149.7,315.5 149.8,315.5 150,315.5 150.1,315.5 150.2,315.5 150.4,315.5 150.5,315.5 150.6,315.5 150.8,315.5 150.9,315.5 151.1,315.5 151.2,315.5 151.3,315.5 151.5,315.5 151.6,315.5 151.8,315.5 151.9,315.5 152,315.5 152.2,315.5 152.3,315.5 152.4,315.5 152.6,315.5 152.7,315.4 152.9,315.4 153,315.4 153.1,315.4 153.3,315.4 153.4,315.4 153.6,315.4 153.7,315.4 153.8,315.4 154,315.4 154.1,315.4 154.3,315.4 154.4,315.4 154.5,315.4 154.7,315.3 154.8,315.3 154.9,315.3 155.1,315.2 155.2,315.2 155.4,315.2 155.5,315.1 155.6,315.1 155.8,315 155.9,315 156.1,314.9 156.2,314.9 156.3,314.8 156.5,314.7 156.6,314.7 156.7,314.6 156.9,314.6 157,314.5 157.2,314.4 157.3,314.4 157.4,314.3 157.6,314.2 157.7,314.2 157.9,314.1 158,314.1 158.1,314 158.3,314 158.4,313.9 158.6,313.9 158.7,313.8 158.8,313.8 159,313.8 159.1,313.8 159.2,313.7 159.4,313.7 159.5,313.7 159.7,313.7 159.8,313.7 159.9,313.7 160.1,313.7 160.2,313.7 160.4,313.7 160.5,313.7 160.6,313.7 160.8,313.7 160.9,313.7 161,313.7 161.2,313.7 161.3,313.7 161.5,313.6 161.6,313.6 161.7,313.6 161.9,313.6 162,313.6 162.2,313.6 162.3,313.6 162.4,313.6 162.6,313.6 162.7,313.5 162.9,313.5 163,313.5 163.1,313.5 163.3,313.5 163.4,313.5 163.5,313.5 163.7,313.5 163.8,313.5 164,313.5 164.1,313.4 164.2,313.4 164.4,313.4 164.5,313.4 164.7,313.4 164.8,313.4 164.9,313.4 165.1,313.4 165.2,313.4 165.3,313.4 165.5,313.4 165.6,313.4 165.8,313.4 165.9,313.4 166,313.4 166.2,313.4 166.3,313.4 166.5,313.4 166.6,313.4 166.7,313.4 166.9,313.4 167,313.4 167.1,313.4 167.3,313.4 167.4,313.3 167.6,313.3 167.7,313.3 167.8,313.2 168,313.2 168.1,313.1 168.3,313 168.4,312.9 168.5,312.8 168.7,312.7 168.8,312.5 169,312.4 169.1,312.2 169.2,312 169.4,311.8 169.5,311.6 169.6,311.4 169.8,311.1 169.9,310.8 170.1,310.6 170.2,310.3 170.3,310 170.5,309.7 170.6,309.4 170.8,309.1 170.9,308.8 171,308.6 171.2,308.3 171.3,308 171.4,307.8 171.6,307.5 171.7,307.3 171.9,307.1 172,306.9 172.1,306.7 172.3,306.6 172.4,306.5 172.6,306.4 172.7,306.3 172.8,306.3 173,306.2 173.1,306.3 173.3,306.3 173.4,306.4 173.5,306.5 173.7,306.6 173.8,306.7 173.9,306.9 174.1,307.1 174.2,307.3 174.4,307.5 174.5,307.8 174.6,308 174.8,308.3 174.9,308.6 175.1,308.9 175.2,309.1 175.3,309.4 175.5,309.7 175.6,310 175.7,310.3 175.9,310.5 176,310.8 176.2,311.1 176.3,311.3 176.4,311.5 176.6,311.7 176.7,311.9 176.9,312.1 177,312.3 177.1,312.4 177.3,312.6 177.4,312.7 177.5,312.8 177.7,312.9 177.8,313 178,313 178.1,313.1 178.2,313.1 178.4,313.2 178.5,313.2 178.7,313.2 178.8,313.2 178.9,313.2 179.1,313.2 179.2,313.2 179.4,313.2 179.5,313.2 179.6,313.2 179.8,313.2 179.9,313.2 180,313.2 180.2,313.2 180.3,313.2 180.5,313.2 180.6,313.2 180.7,313.2 180.9,313.2 181,313.1 181.2,313.1 181.3,313 181.4,313 181.6,312.9 181.7,312.7 181.8,312.6 182,312.4 182.1,312.1 182.3,311.8 182.4,311.5 182.5,311.2 182.7,310.7 182.8,310.3 183,309.7 183.1,309.2 183.2,308.5 183.4,307.9 183.5,307.2 183.7,306.4 183.8,305.6 183.9,304.9 184.1,304 184.2,303.2 184.3,302.4 184.5,301.6 184.6,300.8 184.8,300 184.9,299.3 185,298.6 185.2,298 185.3,297.4 185.5,296.9 185.6,296.5 185.7,296.2 185.9,296 186,295.8 186.1,295.8 186.3,295.8 186.4,296 186.6,296.2 186.7,296.6 186.8,297.1 187,297.6 187.1,298.2 187.3,298.9 187.4,299.7 187.5,300.5 187.7,301.3 187.8,302.2 187.9,303.1 188.1,304 188.2,304.9 188.4,305.8 188.5,306.7 188.6,307.6 188.8,308.4 188.9,309.2 189.1,309.9 189.2,310.6 189.3,311.2 189.5,311.8 189.6,312.4 189.8,312.8 189.9,313.2 190,313.6 190.2,313.9 190.3,314.2 190.4,314.4 190.6,314.6 190.7,314.7 190.9,314.8 191,314.9 191.1,315 191.3,315 191.4,315.1 191.6,315.1 191.7,315.1 191.8,315.1 192,315.1 192.1,315.1 192.2,315.1 192.4,315.1 192.5,315.1 192.7,315.1 192.8,315.1 192.9,315.1 193.1,315.1 193.2,315.1 193.4,315.1 193.5,315.1 193.6,315.1 193.8,315.1 193.9,315.1 194.1,315.1 194.2,315.1 194.3,315.1 194.5,315.1 194.6,315.1 194.7,315 194.9,315 195,314.9 195.2,314.7 195.3,314.6 195.4,314.3 195.6,314 195.7,313.6 195.9,313.1 196,312.5 196.1,311.8 196.3,310.9 196.4,309.9 196.5,308.7 196.7,307.3 196.8,305.8 197,304.1 197.1,302.3 197.2,300.3 197.4,298.2 197.5,296 197.7,293.8 197.8,291.5 197.9,289.2 198.1,287 198.2,284.9 198.3,282.8 198.5,281 198.6,279.3 198.8,277.9 198.9,276.8 199,275.9 199.2,275.4 199.3,275.2 199.5,275.3 199.6,275.7 199.7,276.5 199.9,277.6 200,279 200.2,280.6 200.3,282.5 200.4,284.5 200.6,286.7 200.7,288.9 200.8,291.3 201,293.6 201.1,295.9 201.3,298.2 201.4,300.3 201.5,302.4 201.7,304.3 201.8,306.1 202,307.7 202.1,309.1 202.2,310.4 202.4,311.5 202.5,312.4 202.6,313.2 202.8,313.9 202.9,314.4 203.1,314.8 203.2,315.2 203.3,315.4 203.5,315.6 203.6,315.8 203.8,315.9 203.9,316 204,316 204.2,316 204.3,316.1 204.5,316.1 204.6,316.1 204.7,316.1 204.9,316.1 205,316.1 205.1,316.1 205.3,316.1 205.4,316.1 205.6,316.1 205.7,316.1 205.8,316.1 206,316.1 206.1,316.1 206.3,316.1 206.4,316.1 206.5,316.1 206.7,316.1 206.8,316.1 206.9,316.1 207.1,316.1 207.2,316.1 207.4,316.1 207.5,316.1 207.6,316.1 207.8,316.1 207.9,316.1 208.1,316.1 208.2,316.1 208.3,316.1 208.5,316.1 208.6,316.1 208.8,316 208.9,316 209,316 209.2,315.9 209.3,315.8 209.4,315.6 209.6,315.3 209.7,314.9 209.9,314.2 210,313.2 210.1,311.9 210.3,310 210.4,307.5 210.6,304.3 210.7,300.4 210.8,295.6 211,290 211.1,283.5 211.2,276.4 211.4,268.7 211.5,260.6 211.7,252.6 211.8,244.9 211.9,237.9 212.1,231.8 212.2,227.1 212.4,223.9 212.5,222.5 212.6,224.9 212.8,235.6 212.9,252 213,270.2 213.2,286.7 213.3,299.4 213.5,307.8 213.6,312.6 213.7,314.9 213.9,315.9 214,316.3 214.2,316.4 214.3,316.4 214.4,316.4 214.6,316.4 214.7,316.4 214.9,316.4 215,316.4 215.1,316.4 215.3,316.4 215.4,316.4 215.5,316.4 215.7,316.4 215.8,316.4 216,316.4 216.1,316.4 216.2,316.4 216.4,316.4 216.5,316.4 216.7,316.4 216.8,316.4 216.9,316.4 217.1,316.4 217.2,316.4 217.3,316.4 217.5,316.4 217.6,316.4 217.8,316.4 217.9,316.4 218,316.4 218.2,316.4 218.3,316.4 218.5,316.4 218.6,316.4 218.7,316.4 218.9,316.4 219,316.4 219.2,316.4 219.3,316.4 219.4,316.4 219.6,316.4 219.7,316.4 219.8,316.4 220,316.4 220.1,316.4 220.3,316.4 220.4,316.4 220.5,316.4 220.7,316.4 220.8,316.4 221,316.4 221.1,316.4 221.2,316.4 221.4,316.4 221.5,316.4 221.6,316.4 221.8,316.4 221.9,316.4 222.1,316.4 222.2,316.4 222.3,316.4 222.5,316.4 222.6,316.4 222.8,316.4 222.9,316.4 223,316.4 223.2,316.4 223.3,316.4 223.4,316.4 223.6,316.4 223.7,316.4 223.9,316.4 224,316.4 224.1,316.4 224.3,316.4 224.4,316.4 224.6,316.4 224.7,316.4 224.8,316.4 225,316.4 225.1,316.4 225.3,316.4 225.4,316.4 225.5,316.4 225.7,316.4 225.8,316.4 225.9,316.4 226.1,316.4 226.2,316.4 226.4,316.4 226.5,316.4" fill="none" stroke="#111" stroke-width="1.2" stroke-linejoin="round"/>
<polyline points="32.5,316.4 32.6,316.4 32.8,316.4 32.9,316.4 33.1,316.4 33.2,316.4 33.3,316.4 33.5,316.4 33.6,316.4 33.7,316.4 33.9,316.4 34,316.4 34.2,316.4 34.3,316.4 34.4,316.4 34.6,316.4 34.7,316.4 34.9,316.4 35,316.4 35.1,316.4 35.3,316.4 35.4,316.4 35.6,316.4 35.7,316.4 35.8,316.4 36,316.4 36.1,316.4 36.2,316.4 36.4,316.4 36.5,316.4 36.7,316.4 36.8,316.4 36.9,316.4 37.1,316.4 37.2,316.4 37.4,316.4 37.5,316.4 37.6,316.4 37.8,316.4 37.9,316.4 38,316.4 38.2,316.4 38.3,316.4 38.5,316.4 38.6,316.4 38.7,316.4 38.9,316.4 39,316.4 39.2,316.4 39.3,316.4 39.4,316.4 39.6,316.4 39.7,316.4 39.8,316.4 40,316.4 40.1,316.4 40.3,316.4 40.4,316.4 40.5,316.4 40.7,316.4 40.8,316.4 41,316.4 41.1,316.4 41.2,316.4 41.4,316.4 41.5,316.4 41.7,316.4 41.8,316.4 41.9,316.4 42.1,316.4 42.2,316.4 42.3,316.4 42.5,316.4 42.6,316.4 42.8,316.4 42.9,316.4 43,316.4 43.2,316.4 43.3,316.4 43.5,316.4 43.6,316.3 43.7,316 43.9,315.3 44,313.4 44.1,309.4 44.3,302.2 44.4,290.9 44.6,275.9 44.7,258.7 44.8,242.4 45,230.8 45.1,226.9 45.3,227.9 45.4,230.6 45.5,234.8 45.7,240.3 45.8,246.9 46,254.1 46.1,261.7 46.2,269.4 46.4,276.8 46.5,283.7 46.6,290 46.8,295.5 46.9,300.3 47.1,304.2 47.2,307.4 47.3,309.9 47.5,311.7 47.6,313.1 47.8,314.2 47.9,314.8 48,315.3 48.2,315.6 48.3,315.8 48.4,315.9 48.6,316 48.7,316 48.9,316.1 49,316.1 49.1,316.1 49.3,316.1 49.4,316.1 49.6,316.1 49.7,316.1 49.8,316.1 50,316.1 50.1,316.1 50.2,316.1 50.4,316.1 50.5,316.1 50.7,316.1 50.8,316.1 50.9,316.1 51.1,316.1 51.2,316.1 51.4,316.1 51.5,316.1 51.6,316.1 51.8,316.1 51.9,316.1 52.1,316.1 52.2,316.1 52.3,316.1 52.5,316.1 52.6,316.1 52.7,316.1 52.9,316.1 53,316.1 53.2,316.1 53.3,316.1 53.4,316 53.6,316 53.7,316 53.9,315.9 54,315.8 54.1,315.7 54.3,315.5 54.4,315.2 54.5,314.9 54.7,314.5 54.8,314 55,313.3 55.1,312.6 55.2,311.7 55.4,310.6 55.5,309.4 55.7,308 55.8,306.4 55.9,304.7 56.1,302.8 56.2,300.8 56.4,298.6 56.5,296.4 56.6,294.1 56.8,291.7 56.9,289.4 57,287.1 57.2,284.9 57.3,282.9 57.5,281 57.6,279.3 57.7,277.9 57.9,276.7 58,275.9 58.2,275.4 58.3,275.2 58.4,275.3 58.6,275.8 58.7,276.6 58.8,277.6 59,279 59.1,280.6 59.3,282.4 59.4,284.4 59.5,286.6 59.7,288.8 59.8,291 60,293.3 60.1,295.6 60.2,297.8 60.4,299.9 60.5,301.9 60.7,303.7 60.8,305.5 60.9,307 61.1,308.4 61.2,309.6 61.3,310.7 61.5,311.6 61.6,312.4 61.8,313 61.9,313.5 62,313.9 62.2,314.3 62.3,314.5 62.5,314.7 62.6,314.8 62.7,314.9 62.9,315 63,315.1 63.1,315.1 63.3,315.1 63.4,315.1 63.6,315.1 63.7,315.1 63.8,315.1 64,315.1 64.1,315.1 64.3,315.1 64.4,315.1 64.5,315.1 64.7,315.1 64.8,315.1 64.9,315.1 65.1,315.1 65.2,315.1 65.4,315.1 65.5,315.1 65.6,315.1 65.8,315.1 65.9,315.1 66.1,315.1 66.2,315.1 66.3,315.1 66.5,315 66.6,315 66.8,314.9 66.9,314.8 67,314.7 67.2,314.5 67.3,314.4 67.4,314.2 67.6,313.9 67.7,313.6 67.9,313.3 68,312.9 68.1,312.5 68.3,312 68.4,311.5 68.6,310.9 68.7,310.3 68.8,309.6 69,309 69.1,308.2 69.2,307.5 69.4,306.8 69.5,306 69.7,305.2 69.8,304.5 69.9,303.7 70.1,303 70.2,302.3 70.4,301.7 70.5,301.1 70.6,300.6 70.8,300.1 70.9,299.7 71.1,299.4 71.2,299.2 71.3,299 71.5,299 71.6,299 71.7,299.1 71.9,299.3 72,299.5 72.2,299.9 72.3,300.3 72.4,300.7 72.6,301.3 72.7,301.8 72.9,302.4 73,303.1 73.1,303.8 73.3,304.5 73.4,305.2 73.5,305.9 73.7,306.6 73.8,307.2 74,307.9 74.1,308.6 74.2,309.2 74.4,309.7 74.5,310.3 74.7,310.8 74.8,311.2 74.9,311.6 75.1,312 75.2,312.3 75.3,312.6 75.5,312.9 75.6,313.1 75.8,313.3 75.9,313.4 76,313.5 76.2,313.6 76.3,313.7 76.5,313.7 76.6,313.8 76.7,313.8 76.9,313.8 77,313.8 77.2,313.9 77.3,313.9 77.4,313.9 77.6,313.9 77.7,313.9 77.8,313.9 78,313.9 78.1,313.9 78.3,313.9 78.4,313.9 78.5,313.9 78.7,313.9 78.8,313.9 79,313.8 79.1,313.8 79.2,313.8 79.4,313.8 79.5,313.8 79.6,313.8 79.8,313.7 79.9,313.7 80.1,313.6 80.2,313.6 80.3,313.5 80.5,313.4 80.6,313.3 80.8,313.2 80.9,313.1 81,313 81.2,312.9 81.3,312.8 81.5,312.6 81.6,312.5 81.7,312.3 81.9,312.2 82,312 82.1,311.8 82.3,311.7 82.4,311.5 82.6,311.3 82.7,311.1 82.8,311 83,310.8 83.1,310.7 83.3,310.5 83.4,310.4 83.5,310.3 83.7,310.2 83.8,310.1 83.9,310 84.1,309.9 84.2,309.8 84.4,309.8 84.5,309.8 84.6,309.7 84.8,309.7 84.9,309.8 85.1,309.8 85.2,309.8 85.3,309.9 85.5,310 85.6,310.1 85.7,310.2 85.9,310.3 86,310.4 86.2,310.6 86.3,310.7 86.4,310.9 86.6,311 86.7,311.2 86.9,311.4 87,311.5 87.1,311.7 87.3,311.9 87.4,312 87.6,312.2 87.7,312.4 87.8,312.5 88,312.7 88.1,312.8 88.2,312.9 88.4,313.1 88.5,313.2 88.7,313.3 88.8,313.4 88.9,313.4 89.1,313.5 89.2,313.6 89.4,313.6 89.5,313.7 89.6,313.7 89.8,313.8 89.9,313.8 90,313.8 90.2,313.8 90.3,313.8 90.5,313.9 90.6,313.9 90.7,313.9 90.9,313.9 91,313.9 91.2,313.9 91.3,313.9 91.4,313.9 91.6,313.9 91.7,313.9 91.9,313.9 92,313.8 92.1,313.8 92.3,313.8 92.4,313.8 92.5,313.8 92.7,313.8 92.8,313.8 93,313.8 93.1,313.7 93.2,313.7 93.4,313.7 93.5,313.6 93.7,313.6 93.8,313.6 93.9,313.5 94.1,313.5 94.2,313.5 94.3,313.4 94.5,313.4 94.6,313.3 94.8,313.3 94.9,313.2 95,313.2 95.2,313.2 95.3,313.1 95.5,313.1 95.6,313 95.7,313 95.9,312.9 96,312.9 96.1,312.9 96.3,312.8 96.4,312.8 96.6,312.7 96.7,312.7 96.8,312.7 97,312.7 97.1,312.6 97.3,312.6 97.4,312.6 97.5,312.6 97.7,312.6 97.8,312.6 98,312.6 98.1,312.6 98.2,312.6 98.4,312.6 98.5,312.6 98.6,312.6 98.8,312.6 98.9,312.7 99.1,312.7 99.2,312.7 99.3,312.7 99.5,312.7 99.6,312.8 99.8,312.8 99.9,312.8 100,312.8 100.2,312.9 100.3,312.9 100.4,312.9 100.6,312.9 100.7,313 100.9,313 101,313 101.1,313.1 101.3,313.1 101.4,313.1 101.6,313.1 101.7,313.2 101.8,313.2 102,313.2 102.1,313.2 102.3,313.3 102.4,313.3 102.5,313.3 102.7,313.3 102.8,313.3 102.9,313.3 103.1,313.3 103.2,313.4 103.4,313.4 103.5,313.4 103.6,313.4 103.8,313.4 103.9,313.4 104.1,313.4 104.2,313.4 104.3,313.4 104.5,313.4 104.6,313.4 104.7,313.4 104.9,313.4 105,313.4 105.2,313.4 105.3,313.4 105.4,313.4 105.6,313.4 105.7,313.4 105.9,313.4 106,313.4 106.1,313.4 106.3,313.4 106.4,313.4 106.6,313.4 106.7,313.4 106.8,313.4 107,313.4 107.1,313.4 107.2,313.4 107.4,313.5 107.5,313.5 107.7,313.5 107.8,313.5 107.9,313.5 108.1,313.5 108.2,313.5 108.4,313.5 108.5,313.5 108.6,313.5 108.8,313.5 108.9,313.5 109,313.5 109.2,313.5 109.3,313.5 109.5,313.5 109.6,313.5 109.7,313.5 109.9,313.5 110,313.5 110.2,313.5 110.3,313.5 110.4,313.5 110.6,313.5 110.7,313.5 110.8,313.5 111,313.5 111.1,313.5 111.3,313.5 111.4,313.5 111.5,313.5 111.7,313.6 111.8,313.6 112,313.6 112.1,313.6 112.2,313.6 112.4,313.6 112.5,313.6 112.7,313.6 112.8,313.6 112.9,313.6 113.1,313.6 113.2,313.6 113.3,313.6 113.5,313.6 113.6,313.6 113.8,313.7 113.9,313.7 114,313.7 114.2,313.7 114.3,313.7 114.5,313.7 114.6,313.7 114.7,313.7 114.9,313.7 115,313.8 115.1,313.8 115.3,313.8 115.4,313.8 115.6,313.8 115.7,313.8 115.8,313.8 116,313.8 116.1,313.8 116.3,313.8 116.4,313.8 116.5,313.8 116.7,313.8 116.8,313.8 117,313.9 117.1,313.9 117.2,313.9 117.4,313.9 117.5,313.9 117.6,313.9 117.8,313.9 117.9,313.9 118.1,313.9 118.2,313.9 118.3,313.9 118.5,313.9 118.6,313.9 118.8,313.9 118.9,313.8 119,313.8 119.2,313.8 119.3,313.8 119.4,313.8 119.6,313.8 119.7,313.8 119.9,313.8 120,313.8 120.1,313.8 120.3,313.8 120.4,313.8 120.6,313.8 120.7,313.8 120.8,313.8 121,313.8 121.1,313.8 121.2,313.8 121.4,313.8 121.5,313.8 121.7,313.8 121.8,313.8 121.9,313.7 122.1,313.7 122.2,313.7 122.4,313.7 122.5,313.7 122.6,313.7 122.8,313.7 122.9,313.7 123.1,313.7 123.2,313.7 123.3,313.7 123.5,313.7 123.6,313.7 123.7,313.7 123.9,313.7 124,313.7 124.2,313.7 124.3,313.7 124.4,313.7 124.6,313.7 124.7,313.7 124.9,313.7 125,313.7 125.1,313.7 125.3,313.7 125.4,313.7 125.5,313.7 125.7,313.7 125.8,313.7 126,313.7 126.1,313.7 126.2,313.8 126.4,313.8 126.5,313.8 126.7,313.8 126.8,313.8 126.9,313.8 127.1,313.8 127.2,313.8 127.4,313.8 127.5,313.8 127.6,313.8 127.8,313.8 127.9,313.8 128,313.8 128.2,313.8 128.3,313.8 128.5,313.8 128.6,313.9 128.7,313.9 128.9,313.9 129,313.9 129.2,313.8 129.3,313.8 129.4,313.8 129.6,313.8 129.7,313.8 129.8,313.8 130,313.8 130.1,313.8 130.3,313.8 130.4,313.8 130.5,313.8 130.7,313.8 130.8,313.8 131,313.8 131.1,313.8 131.2,313.8 131.4,313.8 131.5,313.7 131.6,313.7 131.8,313.7 131.9,313.7 132.1,313.7 132.2,313.7 132.3,313.7 132.5,313.7 132.6,313.7 132.8,313.7 132.9,313.7 133,313.7 133.2,313.7 133.3,313.7 133.5,313.7 133.6,313.7 133.7,313.7 133.9,313.7 134,313.7 134.1,313.7 134.3,313.7 134.4,313.7 134.6,313.7 134.7,313.7 134.8,313.7 135,313.7 135.1,313.7 135.3,313.7 135.4,313.7 135.5,313.7 135.7,313.7 135.8,313.8 135.9,313.8 136.1,313.8 136.2,313.8 136.4,313.8 136.5,313.8 136.6,313.8 136.8,313.8 136.9,313.8 137.1,313.8 137.2,313.8 137.3,313.8 137.5,313.8 137.6,313.8 137.8,313.8 137.9,313.8 138,313.8 138.2,313.8 138.3,313.8 138.4,313.8 138.6,313.8 138.7,313.8 138.9,313.9 139,313.9 139.1,313.9 139.3,313.9 139.4,313.9 139.6,313.9 139.7,313.9 139.8,313.9 140,313.9 140.1,313.9 140.2,313.9 140.4,313.9 140.5,313.9 140.7,313.9 140.8,313.8 140.9,313.8 141.1,313.8 141.2,313.8 141.4,313.8 141.5,313.8 141.6,313.8 141.8,313.8 141.9,313.8 142,313.8 142.2,313.8 142.3,313.8 142.5,313.8 142.6,313.8 142.7,313.7 142.9,313.7 143,313.7 143.2,313.7 143.3,313.7 143.4,313.7 143.6,313.7 143.7,313.7 143.9,313.7 144,313.7 144.1,313.6 144.3,313.6 144.4,313.6 144.5,313.6 144.7,313.6 144.8,313.6 145,313.6 145.1,313.6 145.2,313.6 145.4,313.6 145.5,313.6 145.7,313.6 145.8,313.6 145.9,313.6 146.1,313.5 146.2,313.5 146.3,313.5 146.5,313.5 146.6,313.5 146.8,313.5 146.9,313.5 147,313.5 147.2,313.5 147.3,313.5 147.5,313.5 147.6,313.5 147.7,313.5 147.9,313.5 148,313.5 148.2,313.5 148.3,313.5 148.4,313.5 148.6,313.5 148.7,313.5 148.8,313.5 149,313.5 149.1,313.5 149.3,313.5 149.4,313.5 149.5,313.5 149.7,313.5 149.8,313.5 150,313.5 150.1,313.5 150.2,313.5 150.4,313.4 150.5,313.4 150.6,313.4 150.8,313.4 150.9,313.4 151.1,313.4 151.2,313.4 151.3,313.4 151.5,313.4 151.6,313.4 151.8,313.4 151.9,313.4 152,313.4 152.2,313.4 152.3,313.4 152.4,313.4 152.6,313.4 152.7,313.4 152.9,313.4 153,313.4 153.1,313.4 153.3,313.4 153.4,313.4 153.6,313.4 153.7,313.4 153.8,313.4 154,313.4 154.1,313.4 154.3,313.4 154.4,313.4 154.5,313.3 154.7,313.3 154.8,313.3 154.9,313.3 155.1,313.3 155.2,313.3 155.4,313.3 155.5,313.2 155.6,313.2 155.8,313.2 155.9,313.2 156.1,313.1 156.2,313.1 156.3,313.1 156.5,313.1 156.6,313 156.7,313 156.9,313 157,312.9 157.2,312.9 157.3,312.9 157.4,312.9 157.6,312.8 157.7,312.8 157.9,312.8 158,312.8 158.1,312.7 158.3,312.7 158.4,312.7 158.6,312.7 158.7,312.7 158.8,312.6 159,312.6 159.1,312.6 159.2,312.6 159.4,312.6 159.5,312.6 159.7,312.6 159.8,312.6 159.9,312.6 160.1,312.6 160.2,312.6 160.4,312.6 160.5,312.6 160.6,312.7 160.8,312.7 160.9,312.7 161,312.7 161.2,312.8 161.3,312.8 161.5,312.8 161.6,312.9 161.7,312.9 161.9,313 162,313 162.2,313.1 162.3,313.1 162.4,313.1 162.6,313.2 162.7,313.2 162.9,313.3 163,313.3 163.1,313.4 163.3,313.4 163.4,313.5 163.5,313.5 163.7,313.5 163.8,313.6 164,313.6 164.1,313.6 164.2,313.7 164.4,313.7 164.5,313.7 164.7,313.7 164.8,313.8 164.9,313.8 165.1,313.8 165.2,313.8 165.3,313.8 165.5,313.8 165.6,313.8 165.8,313.9 165.9,313.9 166,313.9 166.2,313.9 166.3,313.9 166.5,313.9 166.6,313.9 166.7,313.9 166.9,313.9 167,313.9 167.1,313.9 167.3,313.8 167.4,313.8 167.6,313.8 167.7,313.8 167.8,313.8 168,313.7 168.1,313.7 168.3,313.7 168.4,313.6 168.5,313.5 168.7,313.5 168.8,313.4 169,313.3 169.1,313.2 169.2,313.1 169.4,313 169.5,312.8 169.6,312.7 169.8,312.5 169.9,312.4 170.1,312.2 170.2,312.1 170.3,311.9 170.5,311.7 170.6,311.6 170.8,311.4 170.9,311.2 171,311.1 171.2,310.9 171.3,310.8 171.4,310.6 171.6,310.5 171.7,310.3 171.9,310.2 172,310.1 172.1,310 172.3,309.9 172.4,309.9 172.6,309.8 172.7,309.8 172.8,309.7 173,309.7 173.1,309.7 173.3,309.8 173.4,309.8 173.5,309.9 173.7,309.9 173.8,310 173.9,310.1 174.1,310.2 174.2,310.4 174.4,310.5 174.5,310.6 174.6,310.8 174.8,311 174.9,311.1 175.1,311.3 175.2,311.5 175.3,311.6 175.5,311.8 175.6,312 175.7,312.1 175.9,312.3 176,312.4 176.2,312.6 176.3,312.7 176.4,312.9 176.6,313 176.7,313.1 176.9,313.2 177,313.3 177.1,313.4 177.3,313.5 177.4,313.6 177.5,313.6 177.7,313.7 177.8,313.7 178,313.7 178.1,313.8 178.2,313.8 178.4,313.8 178.5,313.8 178.7,313.8 178.8,313.9 178.9,313.9 179.1,313.9 179.2,313.9 179.4,313.9 179.5,313.9 179.6,313.9 179.8,313.9 179.9,313.9 180,313.9 180.2,313.9 180.3,313.9 180.5,313.9 180.6,313.8 180.7,313.8 180.9,313.8 181,313.8 181.2,313.8 181.3,313.7 181.4,313.6 181.6,313.5 181.7,313.4 181.8,313.3 182,313.1 182.1,312.9 182.3,312.7 182.4,312.4 182.5,312.1 182.7,311.7 182.8,311.3 183,310.9 183.1,310.4 183.2,309.9 183.4,309.3 183.5,308.7 183.7,308 183.8,307.4 183.9,306.7 184.1,306 184.2,305.3 184.3,304.6 184.5,303.9 184.6,303.2 184.8,302.6 184.9,302 185,301.4 185.2,300.8 185.3,300.4 185.5,299.9 185.6,299.6 185.7,299.3 185.9,299.1 186,299 186.1,299 186.3,299 186.4,299.1 186.6,299.3 186.7,299.6 186.8,300 187,300.5 187.1,301 187.3,301.6 187.4,302.2 187.5,302.9 187.7,303.6 187.8,304.3 187.9,305.1 188.1,305.8 188.2,306.6 188.4,307.4 188.5,308.1 188.6,308.8 188.8,309.5 188.9,310.2 189.1,310.8 189.2,311.4 189.3,311.9 189.5,312.4 189.6,312.8 189.8,313.2 189.9,313.5 190,313.8 190.2,314.1 190.3,314.3 190.4,314.5 190.6,314.7 190.7,314.8 190.9,314.9 191,315 191.1,315 191.3,315.1 191.4,315.1 191.6,315.1 191.7,315.1 191.8,315.1 192,315.1 192.1,315.1 192.2,315.1 192.4,315.1 192.5,315.1 192.7,315.1 192.8,315.1 192.9,315.1 193.1,315.1 193.2,315.1 193.4,315.1 193.5,315.1 193.6,315.1 193.8,315.1 193.9,315.1 194.1,315.1 194.2,315.1 194.3,315.1 194.5,315.1 194.6,315.1 194.7,315 194.9,315 195,314.9 195.2,314.7 195.3,314.6 195.4,314.3 195.6,314 195.7,313.6 195.9,313.1 196,312.5 196.1,311.8 196.3,310.9 196.4,309.9 196.5,308.7 196.7,307.3 196.8,305.8 197,304.1 197.1,302.3 197.2,300.3 197.4,298.2 197.5,296 197.7,293.8 197.8,291.5 197.9,289.2 198.1,287 198.2,284.9 198.3,282.8 198.5,281 198.6,279.3 198.8,277.9 198.9,276.8 199,275.9 199.2,275.4 199.3,275.2 199.5,275.3 199.6,275.7 199.7,276.5 199.9,277.6 200,279 200.2,280.6 200.3,282.5 200.4,284.5 200.6,286.7 200.7,288.9 200.8,291.3 201,293.6 201.1,295.9 201.3,298.2 201.4,300.3 201.5,302.4 201.7,304.3 201.8,306.1 202,307.7 202.1,309.1 202.2,310.4 202.4,311.5 202.5,312.4 202.6,313.2 202.8,313.9 202.9,314.4 203.1,314.8 203.2,315.2 203.3,315.4 203.5,315.6 203.6,315.8 203.8,315.9 203.9,316 204,316 204.2,316 204.3,316.1 204.5,316.1 204.6,316.1 204.7,316.1 204.9,316.1 205,316.1 205.1,316.1 205.3,316.1 205.4,316.1 205.6,316.1 205.7,316.1 205.8,316.1 206,316.1 206.1,316.1 206.3,316.1 206.4,316.1 206.5,316.1 206.7,316.1 206.8,316.1 206.9,316.1 207.1,316.1 207.2,316.1 207.4,316.1 207.5,316.1 207.6,316.1 207.8,316.1 207.9,316.1 208.1,316.1 208.2,316.1 208.3,316.1 208.5,316.1 208.6,316.1 208.8,316 208.9,316 209,316 209.2,315.9 209.3,315.8 209.4,315.6 209.6,315.3 209.7,314.9 209.9,314.2 210,313.2 210.1,311.9 210.3,310 210.4,307.5 210.6,304.3 210.7,300.4 210.8,295.6 211,290 211.1,283.5 211.2,276.4 211.4,268.7 211.5,260.6 211.7,252.6 211.8,244.9 211.9,237.9 212.1,231.8 212.2,227.1 212.4,223.9 212.5,222.5 212.6,224.9 212.8,235.6 212.9,252 213,270.2 213.2,286.7 213.3,299.4 213.5,307.8 213.6,312.6 213.7,314.9 213.9,315.9 214,316.3 214.2,316.4 214.3,316.4 214.4,316.4 214.6,316.4 214.7,316.4 214.9,316.4 215,316.4 215.1,316.4 215.3,316.4 215.4,316.4 215.5,316.4 215.7,316.4 215.8,316.4 216,316.4 216.1,316.4 216.2,316.4 216.4,316.4 216.5,316.4 216.7,316.4 216.8,316.4 216.9,316.4 217.1,316.4 217.2,316.4 217.3,316.4 217.5,316.4 217.6,316.4 217.8,316.4 217.9,316.4 218,316.4 218.2,316.4 218.3,316.4 218.5,316.4 218.6,316.4 218.7,316.4 218.9,316.4 219,316.4 219.2,316.4 219.3,316.4 219.4,316.4 219.6,316.4 219.7,316.4 219.8,316.4 220,316.4 220.1,316.4 220.3,316.4 220.4,316.4 220.5,316.4 220.7,316.4 220.8,316.4 221,316.4 221.1,316.4 221.2,316.4 221.4,316.4 221.5,316.4 221.6,316.4 221.8,316.4 221.9,316.4 222.1,316.4 222.2,316.4 222.3,316.4 222.5,316.4 222.6,316.4 222.8,316.4 222.9,316.4 223,316.4 223.2,316.4 223.3,316.4 223.4,316.4 223.6,316.4 223.7,316.4 223.9,316.4 224,316.4 224.1,316.4 224.3,316.4 224.4,316.4 224.6,316.4 224.7,316.4 224.8,316.4 225,316.4 225.1,316.4 225.3,316.4 225.4,316.4 225.5,316.4 225.7,316.4 225.8,316.4 225.9,316.4 226.1,316.4 226.2,316.4 226.4,316.4 226.5,316.4" fill="none" stroke="#f01010" stroke-width="1.2" stroke-dasharray="3.2 1.6" stroke-linejoin="round"/>
<polyline points="32.5,316.4 32.6,316.4 32.8,316.4 32.9,316.4 33.1,316.4 33.2,316.4 33.3,316.4 33.5,316.4 33.6,316.4 33.7,316.4 33.9,316.4 34,316.4 34.2,316.4 34.3,316.4 34.4,316.4 34.6,316.4 34.7,316.4 34.9,316.4 35,316.4 35.1,316.4 35.3,316.4 35.4,316.4 35.6,316.4 35.7,316.4 35.8,316.4 36,316.4 36.1,316.4 36.2,316.4 36.4,316.4 36.5,316.4 36.7,316.4 36.8,316.4 36.9,316.4 37.1,316.4 37.2,316.4 37.4,316.4 37.5,316.4 37.6,316.4 37.8,316.4 37.9,316.4 38,316.4 38.2,316.4 38.3,316.4 38.5,316.4 38.6,316.4 38.7,316.4 38.9,316.4 39,316.4 39.2,316.4 39.3,316.4 39.4,316.4 39.6,316.4 39.7,316.4 39.8,316.4 40,316.4 40.1,316.4 40.3,316.4 40.4,316.4 40.5,316.4 40.7,316.4 40.8,316.4 41,316.4 41.1,316.4 41.2,316.4 41.4,316.4 41.5,316.4 41.7,316.4 41.8,316.4 41.9,316.4 42.1,316.4 42.2,316.4 42.3,316.4 42.5,316.4 42.6,316.4 42.8,316.4 42.9,316.4 43,316.4 43.2,316.4 43.3,316.4 43.5,316.4 43.6,316.3 43.7,316 43.9,315.3 44,313.4 44.1,309.4 44.3,302.2 44.4,290.9 44.6,275.9 44.7,258.7 44.8,242.4 45,230.8 45.1,226.9 45.3,227.9 45.4,230.6 45.5,234.8 45.7,240.3 45.8,246.9 46,254.1 46.1,261.7 46.2,269.4 46.4,276.8 46.5,283.7 46.6,290 46.8,295.5 46.9,300.3 47.1,304.2 47.2,307.4 47.3,309.9 47.5,311.7 47.6,313.1 47.8,314.2 47.9,314.8 48,315.3 48.2,315.6 48.3,315.8 48.4,315.9 48.6,316 48.7,316 48.9,316.1 49,316.1 49.1,316.1 49.3,316.1 49.4,316.1 49.6,316.1 49.7,316.1 49.8,316.1 50,316.1 50.1,316.1 50.2,316.1 50.4,316.1 50.5,316.1 50.7,316.1 50.8,316.1 50.9,316.1 51.1,316.1 51.2,316.1 51.4,316.1 51.5,316.1 51.6,316.1 51.8,316.1 51.9,316.1 52.1,316.1 52.2,316.1 52.3,316.1 52.5,316.1 52.6,316.1 52.7,316.1 52.9,316.1 53,316.1 53.2,316.1 53.3,316.1 53.4,316 53.6,316 53.7,316 53.9,315.9 54,315.8 54.1,315.7 54.3,315.5 54.4,315.2 54.5,314.9 54.7,314.5 54.8,314 55,313.3 55.1,312.6 55.2,311.7 55.4,310.6 55.5,309.4 55.7,308 55.8,306.4 55.9,304.7 56.1,302.8 56.2,300.8 56.4,298.6 56.5,296.4 56.6,294.1 56.8,291.7 56.9,289.4 57,287.1 57.2,284.9 57.3,282.9 57.5,281 57.6,279.3 57.7,277.9 57.9,276.7 58,275.9 58.2,275.4 58.3,275.2 58.4,275.3 58.6,275.8 58.7,276.6 58.8,277.6 59,279 59.1,280.6 59.3,282.4 59.4,284.4 59.5,286.6 59.7,288.8 59.8,291 60,293.3 60.1,295.6 60.2,297.8 60.4,299.9 60.5,301.9 60.7,303.7 60.8,305.5 60.9,307 61.1,308.4 61.2,309.6 61.3,310.7 61.5,311.6 61.6,312.4 61.8,313 61.9,313.5 62,313.9 62.2,314.3 62.3,314.5 62.5,314.7 62.6,314.8 62.7,314.9 62.9,315 63,315.1 63.1,315.1 63.3,315.1 63.4,315.1 63.6,315.1 63.7,315.1 63.8,315.1 64,315.1 64.1,315.1 64.3,315.1 64.4,315.1 64.5,315.1 64.7,315.1 64.8,315.1 64.9,315.1 65.1,315.1 65.2,315.1 65.4,315.1 65.5,315.1 65.6,315.1 65.8,315.1 65.9,315.1 66.1,315.1 66.2,315.1 66.3,315 66.5,315 66.6,314.9 66.8,314.8 66.9,314.7 67,314.6 67.2,314.4 67.3,314.2 67.4,313.9 67.6,313.6 67.7,313.2 67.9,312.8 68,312.3 68.1,311.8 68.3,311.2 68.4,310.5 68.6,309.8 68.7,309.1 68.8,308.2 69,307.4 69.1,306.5 69.2,305.6 69.4,304.6 69.5,303.7 69.7,302.7 69.8,301.8 69.9,300.8 70.1,299.9 70.2,299.1 70.4,298.3 70.5,297.5 70.6,296.9 70.8,296.3 70.9,295.8 71.1,295.4 71.2,295.1 71.3,294.9 71.5,294.8 71.6,294.9 71.7,295 71.9,295.2 72,295.6 72.2,296 72.3,296.5 72.4,297.1 72.6,297.7 72.7,298.4 72.9,299.2 73,300 73.1,300.9 73.3,301.7 73.4,302.6 73.5,303.5 73.7,304.4 73.8,305.2 74,306.1 74.1,306.9 74.2,307.6 74.4,308.4 74.5,309 74.7,309.7 74.8,310.2 74.9,310.8 75.1,311.2 75.2,311.6 75.3,312 75.5,312.3 75.6,312.6 75.8,312.8 75.9,313 76,313.1 76.2,313.2 76.3,313.3 76.5,313.4 76.6,313.4 76.7,313.5 76.9,313.5 77,313.5 77.2,313.5 77.3,313.5 77.4,313.5 77.6,313.5 77.7,313.5 77.8,313.5 78,313.5 78.1,313.5 78.3,313.5 78.4,313.5 78.5,313.5 78.7,313.5 78.8,313.5 79,313.5 79.1,313.5 79.2,313.5 79.4,313.4 79.5,313.4 79.6,313.3 79.8,313.2 79.9,313.1 80.1,313 80.2,312.9 80.3,312.7 80.5,312.6 80.6,312.4 80.8,312.1 80.9,311.9 81,311.6 81.2,311.4 81.3,311.1 81.5,310.8 81.6,310.4 81.7,310.1 81.9,309.7 82,309.4 82.1,309 82.3,308.6 82.4,308.2 82.6,307.9 82.7,307.5 82.8,307.1 83,306.8 83.1,306.4 83.3,306.1 83.4,305.8 83.5,305.5 83.7,305.3 83.8,305 83.9,304.8 84.1,304.7 84.2,304.5 84.4,304.4 84.5,304.4 84.6,304.3 84.8,304.4 84.9,304.4 85.1,304.5 85.2,304.5 85.3,304.7 85.5,304.8 85.6,305 85.7,305.2 85.9,305.4 86,305.6 86.2,305.9 86.3,306.2 86.4,306.5 86.6,306.8 86.7,307.1 86.9,307.4 87,307.7 87.1,308 87.3,308.3 87.4,308.6 87.6,308.9 87.7,309.2 87.8,309.5 88,309.7 88.1,310 88.2,310.2 88.4,310.5 88.5,310.7 88.7,310.9 88.8,311 88.9,311.2 89.1,311.3 89.2,311.4 89.4,311.6 89.5,311.6 89.6,311.7 89.8,311.8 89.9,311.8 90,311.9 90.2,311.9 90.3,311.9 90.5,311.9 90.6,311.9 90.7,312 90.9,312 91,312 91.2,312 91.3,312 91.4,312 91.6,312 91.7,311.9 91.9,311.9 92,311.9 92.1,311.9 92.3,311.9 92.4,311.8 92.5,311.8 92.7,311.7 92.8,311.7 93,311.6 93.1,311.6 93.2,311.5 93.4,311.4 93.5,311.3 93.7,311.2 93.8,311.1 93.9,311 94.1,310.9 94.2,310.8 94.3,310.6 94.5,310.5 94.6,310.4 94.8,310.2 94.9,310.1 95,310 95.2,309.8 95.3,309.7 95.5,309.6 95.6,309.4 95.7,309.3 95.9,309.2 96,309 96.1,308.9 96.3,308.8 96.4,308.7 96.6,308.6 96.7,308.5 96.8,308.4 97,308.4 97.1,308.3 97.3,308.3 97.4,308.2 97.5,308.2 97.7,308.2 97.8,308.2 98,308.2 98.1,308.2 98.2,308.2 98.4,308.2 98.5,308.2 98.6,308.3 98.8,308.3 98.9,308.4 99.1,308.5 99.2,308.5 99.3,308.6 99.5,308.7 99.6,308.8 99.8,308.9 99.9,309 100,309.1 100.2,309.2 100.3,309.3 100.4,309.4 100.6,309.6 100.7,309.7 100.9,309.8 101,309.9 101.1,310 101.3,310.1 101.4,310.2 101.6,310.3 101.7,310.4 101.8,310.5 102,310.6 102.1,310.7 102.3,310.8 102.4,310.9 102.5,310.9 102.7,311 102.8,311.1 102.9,311.1 103.1,311.2 103.2,311.2 103.4,311.2 103.5,311.3 103.6,311.3 103.8,311.3 103.9,311.3 104.1,311.3 104.2,311.3 104.3,311.3 104.5,311.3 104.6,311.3 104.7,311.3 104.9,311.3 105,311.3 105.2,311.3 105.3,311.3 105.4,311.2 105.6,311.2 105.7,311.2 105.9,311.1 106,311.1 106.1,311 106.3,311 106.4,310.9 106.6,310.9 106.7,310.8 106.8,310.8 107,310.7 107.1,310.7 107.2,310.6 107.4,310.5 107.5,310.5 107.7,310.4 107.8,310.4 107.9,310.3 108.1,310.2 108.2,310.2 108.4,310.1 108.5,310.1 108.6,310 108.8,309.9 108.9,309.9 109,309.8 109.2,309.8 109.3,309.7 109.5,309.7 109.6,309.6 109.7,309.6 109.9,309.6 110,309.5 110.2,309.5 110.3,309.5 110.4,309.5 110.6,309.4 110.7,309.4 110.8,309.4 111,309.4 111.1,309.4 111.3,309.4 111.4,309.4 111.5,309.4 111.7,309.5 111.8,309.5 112,309.5 112.1,309.5 112.2,309.5 112.4,309.6 112.5,309.6 112.7,309.6 112.8,309.7 112.9,309.7 113.1,309.8 113.2,309.8 113.3,309.8 113.5,309.9 113.6,309.9 113.8,310 113.9,310 114,310.1 114.2,310.1 114.3,310.2 114.5,310.2 114.6,310.3 114.7,310.4 114.9,310.4 115,310.5 115.1,310.5 115.3,310.5 115.4,310.6 115.6,310.6 115.7,310.7 115.8,310.7 116,310.8 116.1,310.8 116.3,310.8 116.4,310.9 116.5,310.9 116.7,310.9 116.8,310.9 117,311 117.1,311 117.2,311 117.4,311 117.5,311 117.6,311 117.8,311 117.9,311 118.1,311 118.2,311 118.3,311 118.5,311 118.6,311 118.8,310.9 118.9,310.9 119,310.9 119.2,310.9 119.3,310.9 119.4,310.8 119.6,310.8 119.7,310.8 119.9,310.8 120,310.7 120.1,310.7 120.3,310.7 120.4,310.7 120.6,310.6 120.7,310.6 120.8,310.6 121,310.5 121.1,310.5 121.2,310.5 121.4,310.4 121.5,310.4 121.7,310.4 121.8,310.3 121.9,310.3 122.1,310.3 122.2,310.3 122.4,310.2 122.5,310.2 122.6,310.2 122.8,310.2 122.9,310.1 123.1,310.1 123.2,310.1 123.3,310.1 123.5,310.1 123.6,310.1 123.7,310.1 123.9,310.1 124,310.1 124.2,310.1 124.3,310.1 124.4,310.1 124.6,310.1 124.7,310.1 124.9,310.1 125,310.1 125.1,310.1 125.3,310.1 125.4,310.1 125.5,310.2 125.7,310.2 125.8,310.2 126,310.2 126.1,310.3 126.2,310.3 126.4,310.3 126.5,310.4 126.7,310.4 126.8,310.4 126.9,310.5 127.1,310.5 127.2,310.5 127.4,310.6 127.5,310.6 127.6,310.6 127.8,310.7 127.9,310.7 128,310.7 128.2,310.7 128.3,310.8 128.5,310.8 128.6,310.8 128.7,310.8 128.9,310.8 129,310.8 129.2,310.8 129.3,310.8 129.4,310.7 129.6,310.7 129.7,310.7 129.8,310.7 130,310.6 130.1,310.6 130.3,310.6 130.4,310.5 130.5,310.5 130.7,310.5 130.8,310.4 131,310.4 131.1,310.4 131.2,310.3 131.4,310.3 131.5,310.3 131.6,310.3 131.8,310.2 131.9,310.2 132.1,310.2 132.2,310.1 132.3,310.1 132.5,310.1 132.6,310.1 132.8,310.1 132.9,310.1 133,310.1 133.2,310.1 133.3,310.1 133.5,310.1 133.6,310.1 133.7,310.1 133.9,310.1 134,310.1 134.1,310.1 134.3,310.1 134.4,310.1 134.6,310.1 134.7,310.1 134.8,310.2 135,310.2 135.1,310.2 135.3,310.2 135.4,310.3 135.5,310.3 135.7,310.3 135.8,310.3 135.9,310.4 136.1,310.4 136.2,310.4 136.4,310.5 136.5,310.5 136.6,310.5 136.8,310.6 136.9,310.6 137.1,310.6 137.2,310.6 137.3,310.7 137.5,310.7 137.6,310.7 137.8,310.8 137.9,310.8 138,310.8 138.2,310.8 138.3,310.9 138.4,310.9 138.6,310.9 138.7,310.9 138.9,310.9 139,311 139.1,311 139.3,311 139.4,311 139.6,311 139.7,311 139.8,311 140,311 140.1,311 140.2,311 140.4,311 140.5,311 140.7,311 140.8,310.9 140.9,310.9 141.1,310.9 141.2,310.9 141.4,310.8 141.5,310.8 141.6,310.8 141.8,310.7 141.9,310.7 142,310.7 142.2,310.6 142.3,310.6 142.5,310.5 142.6,310.5 142.7,310.4 142.9,310.4 143,310.3 143.2,310.3 143.3,310.2 143.4,310.2 143.6,310.1 143.7,310 143.9,310 144,309.9 144.1,309.9 144.3,309.9 144.4,309.8 144.5,309.8 144.7,309.7 144.8,309.7 145,309.6 145.1,309.6 145.2,309.6 145.4,309.5 145.5,309.5 145.7,309.5 145.8,309.5 145.9,309.5 146.1,309.4 146.2,309.4 146.3,309.4 146.5,309.4 146.6,309.4 146.8,309.4 146.9,309.4 147,309.4 147.2,309.5 147.3,309.5 147.5,309.5 147.6,309.5 147.7,309.6 147.9,309.6 148,309.6 148.2,309.7 148.3,309.7 148.4,309.8 148.6,309.8 148.7,309.9 148.8,309.9 149,310 149.1,310 149.3,310.1 149.4,310.2 149.5,310.2 149.7,310.3 149.8,310.3 150,310.4 150.1,310.5 150.2,310.5 150.4,310.6 150.5,310.7 150.6,310.7 150.8,310.8 150.9,310.8 151.1,310.9 151.2,310.9 151.3,311 151.5,311 151.6,311.1 151.8,311.1 151.9,311.2 152,311.2 152.2,311.2 152.3,311.2 152.4,311.3 152.6,311.3 152.7,311.3 152.9,311.3 153,311.3 153.1,311.3 153.3,311.3 153.4,311.3 153.6,311.3 153.7,311.3 153.8,311.3 154,311.3 154.1,311.3 154.3,311.2 154.4,311.2 154.5,311.2 154.7,311.1 154.8,311.1 154.9,311 155.1,310.9 155.2,310.9 155.4,310.8 155.5,310.7 155.6,310.6 155.8,310.5 155.9,310.5 156.1,310.4 156.2,310.2 156.3,310.1 156.5,310 156.6,309.9 156.7,309.8 156.9,309.7 157,309.6 157.2,309.5 157.3,309.4 157.4,309.2 157.6,309.1 157.7,309 157.9,308.9 158,308.8 158.1,308.7 158.3,308.6 158.4,308.6 158.6,308.5 158.7,308.4 158.8,308.4 159,308.3 159.1,308.3 159.2,308.2 159.4,308.2 159.5,308.2 159.7,308.2 159.8,308.2 159.9,308.2 160.1,308.2 160.2,308.2 160.4,308.2 160.5,308.3 160.6,308.4 160.8,308.4 160.9,308.5 161,308.6 161.2,308.7 161.3,308.8 161.5,308.9 161.6,309 161.7,309.1 161.9,309.3 162,309.4 162.2,309.5 162.3,309.7 162.4,309.8 162.6,309.9 162.7,310.1 162.9,310.2 163,310.3 163.1,310.5 163.3,310.6 163.4,310.7 163.5,310.9 163.7,311 163.8,311.1 164,311.2 164.1,311.3 164.2,311.4 164.4,311.5 164.5,311.5 164.7,311.6 164.8,311.7 164.9,311.7 165.1,311.8 165.2,311.8 165.3,311.9 165.5,311.9 165.6,311.9 165.8,311.9 165.9,311.9 166,312 166.2,312 166.3,312 166.5,312 166.6,312 166.7,312 166.9,312 167,311.9 167.1,311.9 167.3,311.9 167.4,311.9 167.6,311.9 167.7,311.8 167.8,311.8 168,311.7 168.1,311.7 168.3,311.6 168.4,311.5 168.5,311.4 168.7,311.2 168.8,311.1 169,310.9 169.1,310.7 169.2,310.5 169.4,310.3 169.5,310 169.6,309.8 169.8,309.5 169.9,309.3 170.1,309 170.2,308.7 170.3,308.4 170.5,308.1 170.6,307.7 170.8,307.4 170.9,307.1 171,306.8 171.2,306.5 171.3,306.2 171.4,306 171.6,305.7 171.7,305.5 171.9,305.2 172,305 172.1,304.8 172.3,304.7 172.4,304.6 172.6,304.5 172.7,304.4 172.8,304.4 173,304.3 173.1,304.4 173.3,304.4 173.4,304.5 173.5,304.6 173.7,304.8 173.8,305 173.9,305.2 174.1,305.5 174.2,305.8 174.4,306.1 174.5,306.4 174.6,306.7 174.8,307.1 174.9,307.4 175.1,307.8 175.2,308.2 175.3,308.5 175.5,308.9 175.6,309.3 175.7,309.7 175.9,310 176,310.4 176.2,310.7 176.3,311 176.4,311.3 176.6,311.6 176.7,311.9 176.9,312.1 177,312.3 177.1,312.5 177.3,312.7 177.4,312.8 177.5,313 177.7,313.1 177.8,313.2 178,313.3 178.1,313.4 178.2,313.4 178.4,313.5 178.5,313.5 178.7,313.5 178.8,313.5 178.9,313.5 179.1,313.5 179.2,313.5 179.4,313.5 179.5,313.5 179.6,313.5 179.8,313.5 179.9,313.5 180,313.5 180.2,313.5 180.3,313.5 180.5,313.5 180.6,313.5 180.7,313.5 180.9,313.5 181,313.5 181.2,313.4 181.3,313.3 181.4,313.3 181.6,313.1 181.7,313 181.8,312.8 182,312.6 182.1,312.4 182.3,312.1 182.4,311.7 182.5,311.3 182.7,310.9 182.8,310.4 183,309.8 183.1,309.2 183.2,308.5 183.4,307.8 183.5,307 183.7,306.2 183.8,305.4 183.9,304.6 184.1,303.7 184.2,302.8 184.3,301.9 184.5,301 184.6,300.2 184.8,299.4 184.9,298.6 185,297.9 185.2,297.2 185.3,296.6 185.5,296.1 185.6,295.6 185.7,295.3 185.9,295 186,294.9 186.1,294.8 186.3,294.9 186.4,295 186.6,295.3 186.7,295.7 186.8,296.2 187,296.7 187.1,297.4 187.3,298.1 187.4,298.9 187.5,299.7 187.7,300.6 187.8,301.6 187.9,302.5 188.1,303.5 188.2,304.4 188.4,305.4 188.5,306.3 188.6,307.2 188.8,308.1 188.9,308.9 189.1,309.7 189.2,310.4 189.3,311.1 189.5,311.7 189.6,312.2 189.8,312.7 189.9,313.1 190,313.5 190.2,313.8 190.3,314.1 190.4,314.4 190.6,314.5 190.7,314.7 190.9,314.8 191,314.9 191.1,315 191.3,315 191.4,315.1 191.6,315.1 191.7,315.1 191.8,315.1 192,315.1 192.1,315.1 192.2,315.1 192.4,315.1 192.5,315.1 192.7,315.1 192.8,315.1 192.9,315.1 193.1,315.1 193.2,315.1 193.4,315.1 193.5,315.1 193.6,315.1 193.8,315.1 193.9,315.1 194.1,315.1 194.2,315.1 194.3,315.1 194.5,315.1 194.6,315.1 194.7,315 194.9,315 195,314.9 195.2,314.7 195.3,314.6 195.4,314.3 195.6,314 195.7,313.6 195.9,313.1 196,312.5 196.1,311.8 196.3,310.9 196.4,309.9 196.5,308.7 196.7,307.3 196.8,305.8 197,304.1 197.1,302.3 197.2,300.3 197.4,298.2 197.5,296 197.7,293.8 197.8,291.5 197.9,289.2 198.1,287 198.2,284.9 198.3,282.8 198.5,281 198.6,279.3 198.8,277.9 198.9,276.8 199,275.9 199.2,275.4 199.3,275.2 199.5,275.3 199.6,275.7 199.7,276.5 199.9,277.6 200,279 200.2,280.6 200.3,282.5 200.4,284.5 200.6,286.7 200.7,288.9 200.8,291.3 201,293.6 201.1,295.9 201.3,298.2 201.4,300.3 201.5,302.4 201.7,304.3 201.8,306.1 202,307.7 202.1,309.1 202.2,310.4 202.4,311.5 202.5,312.4 202.6,313.2 202.8,313.9 202.9,314.4 203.1,314.8 203.2,315.2 203.3,315.4 203.5,315.6 203.6,315.8 203.8,315.9 203.9,316 204,316 204.2,316 204.3,316.1 204.5,316.1 204.6,316.1 204.7,316.1 204.9,316.1 205,316.1 205.1,316.1 205.3,316.1 205.4,316.1 205.6,316.1 205.7,316.1 205.8,316.1 206,316.1 206.1,316.1 206.3,316.1 206.4,316.1 206.5,316.1 206.7,316.1 206.8,316.1 206.9,316.1 207.1,316.1 207.2,316.1 207.4,316.1 207.5,316.1 207.6,316.1 207.8,316.1 207.9,316.1 208.1,316.1 208.2,316.1 208.3,316.1 208.5,316.1 208.6,316.1 208.8,316 208.9,316 209,316 209.2,315.9 209.3,315.8 209.4,315.6 209.6,315.3 209.7,314.9 209.9,314.2 210,313.2 210.1,311.9 210.3,310 210.4,307.5 210.6,304.3 210.7,300.4 210.8,295.6 211,290 211.1,283.5 211.2,276.4 211.4,268.7 211.5,260.6 211.7,252.6 211.8,244.9 211.9,237.9 212.1,231.8 212.2,227.1 212.4,223.9 212.5,222.5 212.6,224.9 212.8,235.6 212.9,252 213,270.2 213.2,286.7 213.3,299.4 213.5,307.8 213.6,312.6 213.7,314.9 213.9,315.9 214,316.3 214.2,316.4 214.3,316.4 214.4,316.4 214.6,316.4 214.7,316.4 214.9,316.4 215,316.4 215.1,316.4 215.3,316.4 215.4,316.4 215.5,316.4 215.7,316.4 215.8,316.4 216,316.4 216.1,316.4 216.2,316.4 216.4,316.4 216.5,316.4 216.7,316.4 216.8,316.4 216.9,316.4 217.1,316.4 217.2,316.4 217.3,316.4 217.5,316.4 217.6,316.4 217.8,316.4 217.9,316.4 218,316.4 218.2,316.4 218.3,316.4 218.5,316.4 218.6,316.4 218.7,316.4 218.9,316.4 219,316.4 219.2,316.4 219.3,316.4 219.4,316.4 219.6,316.4 219.7,316.4 219.8,316.4 220,316.4 220.1,316.4 220.3,316.4 220.4,316.4 220.5,316.4 220.7,316.4 220.8,316.4 221,316.4 221.1,316.4 221.2,316.4 221.4,316.4 221.5,316.4 221.6,316.4 221.8,316.4 221.9,316.4 222.1,316.4 222.2,316.4 222.3,316.4 222.5,316.4 222.6,316.4 222.8,316.4 222.9,316.4 223,316.4 223.2,316.4 223.3,316.4 223.4,316.4 223.6,316.4 223.7,316.4 223.9,316.4 224,316.4 224.1,316.4 224.3,316.4 224.4,316.4 224.6,316.4 224.7,316.4 224.8,316.4 225,316.4 225.1,316.4 225.3,316.4 225.4,316.4 225.5,316.4 225.7,316.4 225.8,316.4 225.9,316.4 226.1,316.4 226.2,316.4 226.4,316.4 226.5,316.4" fill="none" stroke="#1010f0" stroke-width="1.2" stroke-linejoin="round"/>
<polyline points="32.5,316.4 32.6,316.4 32.8,316.4 32.9,316.4 33.1,316.4 33.2,316.4 33.3,316.4 33.5,316.4 33.6,316.4 33.7,316.4 33.9,316.4 34,316.4 34.2,316.4 34.3,316.4 34.4,316.4 34.6,316.4 34.7,316.4 34.9,316.4 35,316.4 35.1,316.4 35.3,316.4 35.4,316.4 35.6,316.4 35.7,316.4 35.8,316.4 36,316.4 36.1,316.4 36.2,316.4 36.4,316.4 36.5,316.4 36.7,316.4 36.8,316.4 36.9,316.4 37.1,316.4 37.2,316.4 37.4,316.4 37.5,316.4 37.6,316.4 37.8,316.4 37.9,316.4 38,316.4 38.2,316.4 38.3,316.4 38.5,316.4 38.6,316.4 38.7,316.4 38.9,316.4 39,316.4 39.2,316.4 39.3,316.4 39.4,316.4 39.6,316.4 39.7,316.4 39.8,316.4 40,316.4 40.1,316.4 40.3,316.4 40.4,316.4 40.5,316.4 40.7,316.4 40.8,316.4 41,316.4 41.1,316.4 41.2,316.4 41.4,316.4 41.5,316.4 41.7,316.4 41.8,316.4 41.9,316.4 42.1,316.4 42.2,316.4 42.3,316.4 42.5,316.4 42.6,316.4 42.8,316.4 42.9,316.4 43,316.4 43.2,316.4 43.3,316.4 43.5,316.4 43.6,316.3 43.7,316 43.9,315.3 44,313.4 44.1,309.4 44.3,302.2 44.4,290.9 44.6,275.9 44.7,258.7 44.8,242.4 45,230.8 45.1,226.9 45.3,227.9 45.4,230.6 45.5,234.8 45.7,240.3 45.8,246.9 46,254.1 46.1,261.7 46.2,269.4 46.4,276.8 46.5,283.7 46.6,290 46.8,295.5 46.9,300.3 47.1,304.2 47.2,307.4 47.3,309.9 47.5,311.7 47.6,313.1 47.8,314.2 47.9,314.8 48,315.3 48.2,315.6 48.3,315.8 48.4,315.9 48.6,316 48.7,316 48.9,316.1 49,316.1 49.1,316.1 49.3,316.1 49.4,316.1 49.6,316.1 49.7,316.1 49.8,316.1 50,316.1 50.1,316.1 50.2,316.1 50.4,316.1 50.5,316.1 50.7,316.1 50.8,316.1 50.9,316.1 51.1,316.1 51.2,316.1 51.4,316.1 51.5,316.1 51.6,316.1 51.8,316.1 51.9,316.1 52.1,316.1 52.2,316.1 52.3,316.1 52.5,316.1 52.6,316.1 52.7,316.1 52.9,316.1 53,316.1 53.2,316.1 53.3,316.1 53.4,316 53.6,316 53.7,316 53.9,315.9 54,315.8 54.1,315.7 54.3,315.5 54.4,315.2 54.5,314.9 54.7,314.5 54.8,314 55,313.3 55.1,312.6 55.2,311.7 55.4,310.6 55.5,309.4 55.7,308 55.8,306.4 55.9,304.7 56.1,302.8 56.2,300.8 56.4,298.6 56.5,296.4 56.6,294.1 56.8,291.7 56.9,289.4 57,287.1 57.2,284.9 57.3,282.9 57.5,281 57.6,279.3 57.7,277.9 57.9,276.7 58,275.9 58.2,275.4 58.3,275.2 58.4,275.3 58.6,275.8 58.7,276.6 58.8,277.6 59,279 59.1,280.6 59.3,282.4 59.4,284.4 59.5,286.6 59.7,288.8 59.8,291 60,293.3 60.1,295.6 60.2,297.8 60.4,299.9 60.5,301.9 60.7,303.7 60.8,305.5 60.9,307 61.1,308.4 61.2,309.6 61.3,310.7 61.5,311.6 61.6,312.4 61.8,313 61.9,313.5 62,313.9 62.2,314.3 62.3,314.5 62.5,314.7 62.6,314.8 62.7,314.9 62.9,315 63,315.1 63.1,315.1 63.3,315.1 63.4,315.1 63.6,315.1 63.7,315.1 63.8,315.1 64,315.1 64.1,315.1 64.3,315.1 64.4,315.1 64.5,315.1 64.7,315.1 64.8,315.1 64.9,315.1 65.1,315.1 65.2,315.1 65.4,315.1 65.5,315.1 65.6,315.1 65.8,315.1 65.9,315.1 66.1,315.1 66.2,315.1 66.3,315 66.5,315 66.6,314.9 66.8,314.8 66.9,314.7 67,314.5 67.2,314.4 67.3,314.1 67.4,313.8 67.6,313.5 67.7,313.1 67.9,312.7 68,312.1 68.1,311.6 68.3,310.9 68.4,310.2 68.6,309.5 68.7,308.7 68.8,307.8 69,306.9 69.1,305.9 69.2,305 69.4,304 69.5,302.9 69.7,301.9 69.8,300.9 69.9,299.9 70.1,299 70.2,298.1 70.4,297.2 70.5,296.4 70.6,295.7 70.8,295.1 70.9,294.6 71.1,294.2 71.2,293.8 71.3,293.6 71.5,293.6 71.6,293.6 71.7,293.7 71.9,294 72,294.3 72.2,294.8 72.3,295.3 72.4,295.9 72.6,296.6 72.7,297.4 72.9,298.2 73,299.1 73.1,300 73.3,300.9 73.4,301.8 73.5,302.7 73.7,303.7 73.8,304.6 74,305.5 74.1,306.3 74.2,307.1 74.4,307.9 74.5,308.6 74.7,309.3 74.8,309.9 74.9,310.4 75.1,310.9 75.2,311.4 75.3,311.7 75.5,312.1 75.6,312.4 75.8,312.6 75.9,312.8 76,312.9 76.2,313.1 76.3,313.2 76.5,313.2 76.6,313.3 76.7,313.3 76.9,313.3 77,313.4 77.2,313.4 77.3,313.4 77.4,313.4 77.6,313.4 77.7,313.4 77.8,313.4 78,313.4 78.1,313.4 78.3,313.4 78.4,313.4 78.5,313.4 78.7,313.4 78.8,313.4 79,313.4 79.1,313.3 79.2,313.3 79.4,313.2 79.5,313.2 79.6,313.1 79.8,313 79.9,312.9 80.1,312.8 80.2,312.6 80.3,312.4 80.5,312.2 80.6,312 80.8,311.8 80.9,311.5 81,311.2 81.2,310.9 81.3,310.5 81.5,310.2 81.6,309.8 81.7,309.4 81.9,309 82,308.6 82.1,308.1 82.3,307.7 82.4,307.3 82.6,306.8 82.7,306.4 82.8,306 83,305.6 83.1,305.2 83.3,304.8 83.4,304.5 83.5,304.1 83.7,303.8 83.8,303.6 83.9,303.3 84.1,303.1 84.2,303 84.4,302.9 84.5,302.8 84.6,302.8 84.8,302.8 84.9,302.8 85.1,302.9 85.2,303 85.3,303.1 85.5,303.2 85.6,303.4 85.7,303.6 85.9,303.9 86,304.1 86.2,304.4 86.3,304.7 86.4,305 86.6,305.3 86.7,305.6 86.9,305.9 87,306.2 87.1,306.6 87.3,306.9 87.4,307.2 87.6,307.5 87.7,307.8 87.8,308.1 88,308.4 88.1,308.6 88.2,308.9 88.4,309.1 88.5,309.3 88.7,309.5 88.8,309.7 88.9,309.9 89.1,310 89.2,310.2 89.4,310.3 89.5,310.4 89.6,310.4 89.8,310.5 89.9,310.6 90,310.6 90.2,310.6 90.3,310.7 90.5,310.7 90.6,310.7 90.7,310.7 90.9,310.7 91,310.7 91.2,310.7 91.3,310.7 91.4,310.7 91.6,310.7 91.7,310.7 91.9,310.7 92,310.6 92.1,310.6 92.3,310.6 92.4,310.5 92.5,310.5 92.7,310.4 92.8,310.4 93,310.3 93.1,310.2 93.2,310.1 93.4,310 93.5,309.9 93.7,309.8 93.8,309.7 93.9,309.6 94.1,309.4 94.2,309.3 94.3,309.1 94.5,309 94.6,308.8 94.8,308.7 94.9,308.5 95,308.4 95.2,308.2 95.3,308 95.5,307.9 95.6,307.7 95.7,307.6 95.9,307.4 96,307.3 96.1,307.1 96.3,307 96.4,306.9 96.6,306.8 96.7,306.7 96.8,306.6 97,306.5 97.1,306.4 97.3,306.4 97.4,306.3 97.5,306.3 97.7,306.3 97.8,306.2 98,306.2 98.1,306.3 98.2,306.3 98.4,306.3 98.5,306.3 98.6,306.4 98.8,306.5 98.9,306.5 99.1,306.6 99.2,306.7 99.3,306.8 99.5,306.9 99.6,307 99.8,307.1 99.9,307.2 100,307.3 100.2,307.4 100.3,307.5 100.4,307.7 100.6,307.8 100.7,307.9 100.9,308 101,308.2 101.1,308.3 101.3,308.4 101.4,308.5 101.6,308.6 101.7,308.8 101.8,308.9 102,309 102.1,309.1 102.3,309.1 102.4,309.2 102.5,309.3 102.7,309.4 102.8,309.4 102.9,309.5 103.1,309.5 103.2,309.6 103.4,309.6 103.5,309.7 103.6,309.7 103.8,309.7 103.9,309.7 104.1,309.7 104.2,309.7 104.3,309.7 104.5,309.7 104.6,309.7 104.7,309.7 104.9,309.7 105,309.7 105.2,309.7 105.3,309.7 105.4,309.6 105.6,309.6 105.7,309.5 105.9,309.5 106,309.5 106.1,309.4 106.3,309.4 106.4,309.3 106.6,309.2 106.7,309.2 106.8,309.1 107,309 107.1,309 107.2,308.9 107.4,308.8 107.5,308.8 107.7,308.7 107.8,308.6 107.9,308.5 108.1,308.5 108.2,308.4 108.4,308.3 108.5,308.3 108.6,308.2 108.8,308.1 108.9,308.1 109,308 109.2,307.9 109.3,307.9 109.5,307.8 109.6,307.8 109.7,307.7 109.9,307.7 110,307.7 110.2,307.6 110.3,307.6 110.4,307.6 110.6,307.5 110.7,307.5 110.8,307.5 111,307.5 111.1,307.5 111.3,307.5 111.4,307.5 111.5,307.5 111.7,307.6 111.8,307.6 112,307.6 112.1,307.6 112.2,307.7 112.4,307.7 112.5,307.7 112.7,307.8 112.8,307.8 112.9,307.9 113.1,307.9 113.2,308 113.3,308 113.5,308.1 113.6,308.1 113.8,308.2 113.9,308.3 114,308.3 114.2,308.4 114.3,308.4 114.5,308.5 114.6,308.6 114.7,308.6 114.9,308.7 115,308.8 115.1,308.8 115.3,308.9 115.4,308.9 115.6,309 115.7,309 115.8,309.1 116,309.1 116.1,309.2 116.3,309.2 116.4,309.3 116.5,309.3 116.7,309.3 116.8,309.3 117,309.4 117.1,309.4 117.2,309.4 117.4,309.4 117.5,309.4 117.6,309.4 117.8,309.4 117.9,309.4 118.1,309.4 118.2,309.4 118.3,309.4 118.5,309.4 118.6,309.4 118.8,309.3 118.9,309.3 119,309.3 119.2,309.3 119.3,309.2 119.4,309.2 119.6,309.2 119.7,309.1 119.9,309.1 120,309.1 120.1,309 120.3,309 120.4,308.9 120.6,308.9 120.7,308.9 120.8,308.8 121,308.8 121.1,308.7 121.2,308.7 121.4,308.7 121.5,308.6 121.7,308.6 121.8,308.5 121.9,308.5 122.1,308.5 122.2,308.4 122.4,308.4 122.5,308.4 122.6,308.3 122.8,308.3 122.9,308.3 123.1,308.3 123.2,308.2 123.3,308.2 123.5,308.2 123.6,308.2 123.7,308.2 123.9,308.2 124,308.2 124.2,308.2 124.3,308.2 124.4,308.2 124.6,308.2 124.7,308.2 124.9,308.2 125,308.2 125.1,308.2 125.3,308.3 125.4,308.3 125.5,308.3 125.7,308.3 125.8,308.4 126,308.4 126.1,308.5 126.2,308.5 126.4,308.5 126.5,308.6 126.7,308.6 126.8,308.7 126.9,308.7 127.1,308.8 127.2,308.8 127.4,308.9 127.5,308.9 127.6,308.9 127.8,309 127.9,309 128,309.1 128.2,309.1 128.3,309.1 128.5,309.2 128.6,309.2 128.7,309.2 128.9,309.2 129,309.2 129.2,309.2 129.3,309.1 129.4,309.1 129.6,309.1 129.7,309 129.8,309 130,309 130.1,308.9 130.3,308.9 130.4,308.8 130.5,308.8 130.7,308.7 130.8,308.7 131,308.6 131.1,308.6 131.2,308.6 131.4,308.5 131.5,308.5 131.6,308.4 131.8,308.4 131.9,308.3 132.1,308.3 132.2,308.3 132.3,308.3 132.5,308.2 132.6,308.2 132.8,308.2 132.9,308.2 133,308.2 133.2,308.2 133.3,308.2 133.5,308.2 133.6,308.2 133.7,308.2 133.9,308.2 134,308.2 134.1,308.2 134.3,308.2 134.4,308.2 134.6,308.2 134.7,308.3 134.8,308.3 135,308.3 135.1,308.4 135.3,308.4 135.4,308.4 135.5,308.5 135.7,308.5 135.8,308.5 135.9,308.6 136.1,308.6 136.2,308.7 136.4,308.7 136.5,308.7 136.6,308.8 136.8,308.8 136.9,308.9 137.1,308.9 137.2,308.9 137.3,309 137.5,309 137.6,309.1 137.8,309.1 137.9,309.1 138,309.2 138.2,309.2 138.3,309.2 138.4,309.3 138.6,309.3 138.7,309.3 138.9,309.3 139,309.4 139.1,309.4 139.3,309.4 139.4,309.4 139.6,309.4 139.7,309.4 139.8,309.4 140,309.4 140.1,309.4 140.2,309.4 140.4,309.4 140.5,309.4 140.7,309.4 140.8,309.3 140.9,309.3 141.1,309.3 141.2,309.3 141.4,309.2 141.5,309.2 141.6,309.1 141.8,309.1 141.9,309 142,309 142.2,308.9 142.3,308.9 142.5,308.8 142.6,308.8 142.7,308.7 142.9,308.6 143,308.6 143.2,308.5 143.3,308.5 143.4,308.4 143.6,308.3 143.7,308.3 143.9,308.2 144,308.1 144.1,308.1 144.3,308 144.4,308 144.5,307.9 144.7,307.9 144.8,307.8 145,307.8 145.1,307.7 145.2,307.7 145.4,307.7 145.5,307.6 145.7,307.6 145.8,307.6 145.9,307.6 146.1,307.5 146.2,307.5 146.3,307.5 146.5,307.5 146.6,307.5 146.8,307.5 146.9,307.5 147,307.5 147.2,307.6 147.3,307.6 147.5,307.6 147.6,307.6 147.7,307.7 147.9,307.7 148,307.8 148.2,307.8 148.3,307.9 148.4,307.9 148.6,308 148.7,308 148.8,308.1 149,308.2 149.1,308.2 149.3,308.3 149.4,308.4 149.5,308.5 149.7,308.5 149.8,308.6 150,308.7 150.1,308.7 150.2,308.8 150.4,308.9 150.5,309 150.6,309 150.8,309.1 150.9,309.2 151.1,309.2 151.2,309.3 151.3,309.3 151.5,309.4 151.6,309.4 151.8,309.5 151.9,309.5 152,309.6 152.2,309.6 152.3,309.6 152.4,309.7 152.6,309.7 152.7,309.7 152.9,309.7 153,309.7 153.1,309.7 153.3,309.7 153.4,309.7 153.6,309.7 153.7,309.7 153.8,309.7 154,309.7 154.1,309.7 154.3,309.6 154.4,309.6 154.5,309.6 154.7,309.5 154.8,309.5 154.9,309.4 155.1,309.3 155.2,309.2 155.4,309.2 155.5,309.1 155.6,309 155.8,308.9 155.9,308.8 156.1,308.7 156.2,308.6 156.3,308.4 156.5,308.3 156.6,308.2 156.7,308.1 156.9,307.9 157,307.8 157.2,307.7 157.3,307.6 157.4,307.4 157.6,307.3 157.7,307.2 157.9,307.1 158,307 158.1,306.9 158.3,306.8 158.4,306.7 158.6,306.6 158.7,306.5 158.8,306.5 159,306.4 159.1,306.4 159.2,306.3 159.4,306.3 159.5,306.3 159.7,306.3 159.8,306.2 159.9,306.3 160.1,306.3 160.2,306.3 160.4,306.4 160.5,306.4 160.6,306.5 160.8,306.6 160.9,306.7 161,306.8 161.2,306.9 161.3,307 161.5,307.1 161.6,307.3 161.7,307.4 161.9,307.5 162,307.7 162.2,307.8 162.3,308 162.4,308.2 162.6,308.3 162.7,308.5 162.9,308.6 163,308.8 163.1,309 163.3,309.1 163.4,309.3 163.5,309.4 163.7,309.5 163.8,309.7 164,309.8 164.1,309.9 164.2,310 164.4,310.1 164.5,310.2 164.7,310.3 164.8,310.4 164.9,310.4 165.1,310.5 165.2,310.5 165.3,310.6 165.5,310.6 165.6,310.6 165.8,310.7 165.9,310.7 166,310.7 166.2,310.7 166.3,310.7 166.5,310.7 166.6,310.7 166.7,310.7 166.9,310.7 167,310.7 167.1,310.7 167.3,310.7 167.4,310.6 167.6,310.6 167.7,310.6 167.8,310.5 168,310.5 168.1,310.4 168.3,310.3 168.4,310.2 168.5,310.1 168.7,309.9 168.8,309.8 169,309.6 169.1,309.4 169.2,309.2 169.4,308.9 169.5,308.7 169.6,308.4 169.8,308.2 169.9,307.9 170.1,307.6 170.2,307.3 170.3,306.9 170.5,306.6 170.6,306.3 170.8,306 170.9,305.6 171,305.3 171.2,305 171.3,304.7 171.4,304.4 171.6,304.2 171.7,303.9 171.9,303.7 172,303.5 172.1,303.3 172.3,303.1 172.4,303 172.6,302.9 172.7,302.8 172.8,302.8 173,302.8 173.1,302.8 173.3,302.9 173.4,303 173.5,303.1 173.7,303.3 173.8,303.5 173.9,303.8 174.1,304.1 174.2,304.4 174.4,304.7 174.5,305.1 174.6,305.5 174.8,305.9 174.9,306.3 175.1,306.7 175.2,307.2 175.3,307.6 175.5,308 175.6,308.5 175.7,308.9 175.9,309.3 176,309.7 176.2,310.1 176.3,310.5 176.4,310.8 176.6,311.1 176.7,311.4 176.9,311.7 177,312 177.1,312.2 177.3,312.4 177.4,312.6 177.5,312.7 177.7,312.9 177.8,313 178,313.1 178.1,313.2 178.2,313.2 178.4,313.3 178.5,313.3 178.7,313.3 178.8,313.4 178.9,313.4 179.1,313.4 179.2,313.4 179.4,313.4 179.5,313.4 179.6,313.4 179.8,313.4 179.9,313.4 180,313.4 180.2,313.4 180.3,313.4 180.5,313.4 180.6,313.4 180.7,313.4 180.9,313.3 181,313.3 181.2,313.2 181.3,313.2 181.4,313.1 181.6,313 181.7,312.8 181.8,312.6 182,312.4 182.1,312.1 182.3,311.8 182.4,311.5 182.5,311 182.7,310.5 182.8,310 183,309.4 183.1,308.8 183.2,308.1 183.4,307.3 183.5,306.5 183.7,305.7 183.8,304.8 183.9,303.9 184.1,302.9 184.2,302 184.3,301.1 184.5,300.1 184.6,299.2 184.8,298.4 184.9,297.5 185,296.8 185.2,296.1 185.3,295.4 185.5,294.9 185.6,294.4 185.7,294 185.9,293.8 186,293.6 186.1,293.6 186.3,293.6 186.4,293.8 186.6,294.1 186.7,294.5 186.8,295 187,295.6 187.1,296.3 187.3,297 187.4,297.9 187.5,298.8 187.7,299.7 187.8,300.7 187.9,301.7 188.1,302.7 188.2,303.8 188.4,304.8 188.5,305.7 188.6,306.7 188.8,307.6 188.9,308.5 189.1,309.3 189.2,310.1 189.3,310.8 189.5,311.4 189.6,312 189.8,312.6 189.9,313 190,313.4 190.2,313.8 190.3,314.1 190.4,314.3 190.6,314.5 190.7,314.7 190.9,314.8 191,314.9 191.1,315 191.3,315 191.4,315.1 191.6,315.1 191.7,315.1 191.8,315.1 192,315.1 192.1,315.1 192.2,315.1 192.4,315.1 192.5,315.1 192.7,315.1 192.8,315.1 192.9,315.1 193.1,315.1 193.2,315.1 193.4,315.1 193.5,315.1 193.6,315.1 193.8,315.1 193.9,315.1 194.1,315.1 194.2,315.1 194.3,315.1 194.5,315.1 194.6,315.1 194.7,315 194.9,315 195,314.9 195.2,314.7 195.3,314.6 195.4,314.3 195.6,314 195.7,313.6 195.9,313.1 196,312.5 196.1,311.8 196.3,310.9 196.4,309.9 196.5,308.7 196.7,307.3 196.8,305.8 197,304.1 197.1,302.3 197.2,300.3 197.4,298.2 197.5,296 197.7,293.8 197.8,291.5 197.9,289.2 198.1,287 198.2,284.9 198.3,282.8 198.5,281 198.6,279.3 198.8,277.9 198.9,276.8 199,275.9 199.2,275.4 199.3,275.2 199.5,275.3 199.6,275.7 199.7,276.5 199.9,277.6 200,279 200.2,280.6 200.3,282.5 200.4,284.5 200.6,286.7 200.7,288.9 200.8,291.3 201,293.6 201.1,295.9 201.3,298.2 201.4,300.3 201.5,302.4 201.7,304.3 201.8,306.1 202,307.7 202.1,309.1 202.2,310.4 202.4,311.5 202.5,312.4 202.6,313.2 202.8,313.9 202.9,314.4 203.1,314.8 203.2,315.2 203.3,315.4 203.5,315.6 203.6,315.8 203.8,315.9 203.9,316 204,316 204.2,316 204.3,316.1 204.5,316.1 204.6,316.1 204.7,316.1 204.9,316.1 205,316.1 205.1,316.1 205.3,316.1 205.4,316.1 205.6,316.1 205.7,316.1 205.8,316.1 206,316.1 206.1,316.1 206.3,316.1 206.4,316.1 206.5,316.1 206.7,316.1 206.8,316.1 206.9,316.1 207.1,316.1 207.2,316.1 207.4,316.1 207.5,316.1 207.6,316.1 207.8,316.1 207.9,316.1 208.1,316.1 208.2,316.1 208.3,316.1 208.5,316.1 208.6,316.1 208.8,316 208.9,316 209,316 209.2,315.9 209.3,315.8 209.4,315.6 209.6,315.3 209.7,314.9 209.9,314.2 210,313.2 210.1,311.9 210.3,310 210.4,307.5 210.6,304.3 210.7,300.4 210.8,295.6 211,290 211.1,283.5 211.2,276.4 211.4,268.7 211.5,260.6 211.7,252.6 211.8,244.9 211.9,237.9 212.1,231.8 212.2,227.1 212.4,223.9 212.5,222.5 212.6,224.9 212.8,235.6 212.9,252 213,270.2 213.2,286.7 213.3,299.4 213.5,307.8 213.6,312.6 213.7,314.9 213.9,315.9 214,316.3 214.2,316.4 214.3,316.4 214.4,316.4 214.6,316.4 214.7,316.4 214.9,316.4 215,316.4 215.1,316.4 215.3,316.4 215.4,316.4 215.5,316.4 215.7,316.4 215.8,316.4 216,316.4 216.1,316.4 216.2,316.4 216.4,316.4 216.5,316.4 216.7,316.4 216.8,316.4 216.9,316.4 217.1,316.4 217.2,316.4 217.3,316.4 217.5,316.4 217.6,316.4 217.8,316.4 217.9,316.4 218,316.4 218.2,316.4 218.3,316.4 218.5,316.4 218.6,316.4 218.7,316.4 218.9,316.4 219,316.4 219.2,316.4 219.3,316.4 219.4,316.4 219.6,316.4 219.7,316.4 219.8,316.4 220,316.4 220.1,316.4 220.3,316.4 220.4,316.4 220.5,316.4 220.7,316.4 220.8,316.4 221,316.4 221.1,316.4 221.2,316.4 221.4,316.4 221.5,316.4 221.6,316.4 221.8,316.4 221.9,316.4 222.1,316.4 222.2,316.4 222.3,316.4 222.5,316.4 222.6,316.4 222.8,316.4 222.9,316.4 223,316.4 223.2,316.4 223.3,316.4 223.4,316.4 223.6,316.4 223.7,316.4 223.9,316.4 224,316.4 224.1,316.4 224.3,316.4 224.4,316.4 224.6,316.4 224.7,316.4 224.8,316.4 225,316.4 225.1,316.4 225.3,316.4 225.4,316.4 225.5,316.4 225.7,316.4 225.8,316.4 225.9,316.4 226.1,316.4 226.2,316.4 226.4,316.4 226.5,316.4" fill="none" stroke="#f010f0" stroke-width="1.2" stroke-dasharray="3.2 1.6" stroke-linejoin="round"/>
<polyline points="32.5,316.4 32.6,316.4 32.8,316.4 32.9,316.4 33.1,316.4 33.2,316.4 33.3,316.4 33.5,316.4 33.6,316.4 33.7,316.4 33.9,316.4 34,316.4 34.2,316.4 34.3,316.4 34.4,316.4 34.6,316.4 34.7,316.4 34.9,316.4 35,316.4 35.1,316.4 35.3,316.4 35.4,316.4 35.6,316.4 35.7,316.4 35.8,316.4 36,316.4 36.1,316.4 36.2,316.4 36.4,316.4 36.5,316.4 36.7,316.4 36.8,316.4 36.9,316.4 37.1,316.4 37.2,316.4 37.4,316.4 37.5,316.4 37.6,316.4 37.8,316.4 37.9,316.4 38,316.4 38.2,316.4 38.3,316.4 38.5,316.4 38.6,316.4 38.7,316.4 38.9,316.4 39,316.4 39.2,316.4 39.3,316.4 39.4,316.4 39.6,316.4 39.7,316.4 39.8,316.4 40,316.4 40.1,316.4 40.3,316.4 40.4,316.4 40.5,316.4 40.7,316.4 40.8,316.4 41,316.4 41.1,316.4 41.2,316.4 41.4,316.4 41.5,316.4 41.7,316.4 41.8,316.4 41.9,316.4 42.1,316.4 42.2,316.4 42.3,316.4 42.5,316.4 42.6,316.4 42.8,316.4 42.9,316.4 43,316.4 43.2,316.4 43.3,316.4 43.5,316.4 43.6,316.3 43.7,316 43.9,315.3 44,313.3 44.1,309.3 44.3,302.1 44.4,290.8 44.6,275.6 44.7,258.3 44.8,241.9 45,230.2 45.1,226.3 45.3,227.3 45.4,230 45.5,234.2 45.7,239.8 45.8,246.4 46,253.7 46.1,261.3 46.2,269 46.4,276.5 46.5,283.5 46.6,289.8 46.8,295.4 46.9,300.2 47.1,304.1 47.2,307.3 47.3,309.8 47.5,311.7 47.6,313.1 47.8,314.1 47.9,314.8 48,315.3 48.2,315.6 48.3,315.8 48.4,315.9 48.6,316 48.7,316 48.9,316.1 49,316.1 49.1,316.1 49.3,316.1 49.4,316.1 49.6,316.1 49.7,316.1 49.8,316.1 50,316.1 50.1,316.1 50.2,316.1 50.4,316.1 50.5,316.1 50.7,316.1 50.8,316.1 50.9,316.1 51.1,316.1 51.2,316.1 51.4,316.1 51.5,316.1 51.6,316.1 51.8,316.1 51.9,316.1 52.1,316.1 52.2,316.1 52.3,316.1 52.5,316.1 52.6,316.1 52.7,316.1 52.9,316.1 53,316.1 53.2,316.1 53.3,316.1 53.4,316 53.6,316 53.7,316 53.9,315.9 54,315.8 54.1,315.7 54.3,315.5 54.4,315.2 54.5,314.9 54.7,314.5 54.8,314 55,313.3 55.1,312.6 55.2,311.6 55.4,310.6 55.5,309.3 55.7,307.9 55.8,306.3 55.9,304.6 56.1,302.7 56.2,300.6 56.4,298.5 56.5,296.2 56.6,293.9 56.8,291.5 56.9,289.2 57,286.9 57.2,284.7 57.3,282.6 57.5,280.7 57.6,279 57.7,277.6 57.9,276.4 58,275.6 58.2,275 58.3,274.8 58.4,275 58.6,275.5 58.7,276.3 58.8,277.3 59,278.7 59.1,280.3 59.3,282.2 59.4,284.2 59.5,286.3 59.7,288.6 59.8,290.9 60,293.2 60.1,295.4 60.2,297.6 60.4,299.8 60.5,301.8 60.7,303.7 60.8,305.4 60.9,306.9 61.1,308.3 61.2,309.6 61.3,310.7 61.5,311.6 61.6,312.3 61.8,313 61.9,313.5 62,313.9 62.2,314.3 62.3,314.5 62.5,314.7 62.6,314.8 62.7,314.9 62.9,315 63,315.1 63.1,315.1 63.3,315.1 63.4,315.1 63.6,315.1 63.7,315.1 63.8,315.1 64,315.1 64.1,315.1 64.3,315.1 64.4,315.1 64.5,315.1 64.7,315.1 64.8,315.1 64.9,315.1 65.1,315.1 65.2,315.1 65.4,315.1 65.5,315.1 65.6,315.1 65.8,315.1 65.9,315.1 66.1,315.1 66.2,315.1 66.3,315 66.5,315 66.6,314.9 66.8,314.8 66.9,314.7 67,314.5 67.2,314.3 67.3,314 67.4,313.7 67.6,313.4 67.7,313 67.9,312.5 68,311.9 68.1,311.3 68.3,310.6 68.4,309.9 68.6,309.1 68.7,308.2 68.8,307.3 69,306.3 69.1,305.3 69.2,304.2 69.4,303.1 69.5,302 69.7,301 69.8,299.9 69.9,298.8 70.1,297.8 70.2,296.8 70.4,295.9 70.5,295.1 70.6,294.3 70.8,293.6 70.9,293.1 71.1,292.6 71.2,292.3 71.3,292.1 71.5,292 71.6,292 71.7,292.2 71.9,292.4 72,292.8 72.2,293.3 72.3,293.8 72.4,294.5 72.6,295.3 72.7,296.1 72.9,296.9 73,297.9 73.1,298.8 73.3,299.8 73.4,300.8 73.5,301.8 73.7,302.8 73.8,303.8 74,304.7 74.1,305.7 74.2,306.5 74.4,307.4 74.5,308.1 74.7,308.8 74.8,309.5 74.9,310.1 75.1,310.6 75.2,311.1 75.3,311.5 75.5,311.8 75.6,312.1 75.8,312.4 75.9,312.6 76,312.7 76.2,312.9 76.3,313 76.5,313.1 76.6,313.1 76.7,313.2 76.9,313.2 77,313.2 77.2,313.2 77.3,313.2 77.4,313.2 77.6,313.2 77.7,313.2 77.8,313.2 78,313.2 78.1,313.2 78.3,313.2 78.4,313.2 78.5,313.2 78.7,313.2 78.8,313.2 79,313.2 79.1,313.2 79.2,313.1 79.4,313.1 79.5,313 79.6,312.9 79.8,312.8 79.9,312.7 80.1,312.5 80.2,312.4 80.3,312.2 80.5,311.9 80.6,311.7 80.8,311.4 80.9,311.1 81,310.7 81.2,310.4 81.3,310 81.5,309.6 81.6,309.1 81.7,308.7 81.9,308.2 82,307.8 82.1,307.3 82.3,306.8 82.4,306.3 82.6,305.8 82.7,305.3 82.8,304.8 83,304.4 83.1,303.9 83.3,303.5 83.4,303.1 83.5,302.7 83.7,302.4 83.8,302.1 83.9,301.8 84.1,301.6 84.2,301.4 84.4,301.3 84.5,301.2 84.6,301.2 84.8,301.2 84.9,301.2 85.1,301.3 85.2,301.4 85.3,301.5 85.5,301.7 85.6,301.9 85.7,302.1 85.9,302.3 86,302.6 86.2,302.9 86.3,303.2 86.4,303.5 86.6,303.8 86.7,304.1 86.9,304.4 87,304.8 87.1,305.1 87.3,305.5 87.4,305.8 87.6,306.1 87.7,306.4 87.8,306.7 88,307 88.1,307.3 88.2,307.6 88.4,307.8 88.5,308 88.7,308.2 88.8,308.4 88.9,308.6 89.1,308.7 89.2,308.9 89.4,309 89.5,309.1 89.6,309.2 89.8,309.2 89.9,309.3 90,309.3 90.2,309.4 90.3,309.4 90.5,309.4 90.6,309.4 90.7,309.4 90.9,309.4 91,309.4 91.2,309.4 91.3,309.4 91.4,309.4 91.6,309.4 91.7,309.4 91.9,309.4 92,309.4 92.1,309.3 92.3,309.3 92.4,309.3 92.5,309.2 92.7,309.1 92.8,309.1 93,309 93.1,308.9 93.2,308.8 93.4,308.7 93.5,308.6 93.7,308.4 93.8,308.3 93.9,308.1 94.1,308 94.2,307.8 94.3,307.7 94.5,307.5 94.6,307.3 94.8,307.1 94.9,306.9 95,306.8 95.2,306.6 95.3,306.4 95.5,306.2 95.6,306 95.7,305.9 95.9,305.7 96,305.5 96.1,305.4 96.3,305.2 96.4,305.1 96.6,305 96.7,304.8 96.8,304.7 97,304.6 97.1,304.6 97.3,304.5 97.4,304.4 97.5,304.4 97.7,304.4 97.8,304.3 98,304.3 98.1,304.4 98.2,304.4 98.4,304.4 98.5,304.5 98.6,304.5 98.8,304.6 98.9,304.7 99.1,304.8 99.2,304.9 99.3,305 99.5,305.1 99.6,305.2 99.8,305.3 99.9,305.4 100,305.6 100.2,305.7 100.3,305.9 100.4,306 100.6,306.2 100.7,306.3 100.9,306.5 101,306.6 101.1,306.8 101.3,306.9 101.4,307 101.6,307.2 101.7,307.3 101.8,307.4 102,307.6 102.1,307.7 102.3,307.8 102.4,307.9 102.5,308 102.7,308 102.8,308.1 102.9,308.2 103.1,308.2 103.2,308.3 103.4,308.3 103.5,308.4 103.6,308.4 103.8,308.4 103.9,308.4 104.1,308.5 104.2,308.5 104.3,308.5 104.5,308.5 104.6,308.5 104.7,308.5 104.9,308.4 105,308.4 105.2,308.4 105.3,308.4 105.4,308.3 105.6,308.3 105.7,308.3 105.9,308.2 106,308.1 106.1,308.1 106.3,308 106.4,308 106.6,307.9 106.7,307.8 106.8,307.8 107,307.7 107.1,307.6 107.2,307.5 107.4,307.4 107.5,307.4 107.7,307.3 107.8,307.2 107.9,307.1 108.1,307 108.2,306.9 108.4,306.9 108.5,306.8 108.6,306.7 108.8,306.6 108.9,306.5 109,306.5 109.2,306.4 109.3,306.3 109.5,306.3 109.6,306.2 109.7,306.2 109.9,306.1 110,306.1 110.2,306 110.3,306 110.4,306 110.6,306 110.7,305.9 110.8,305.9 111,305.9 111.1,305.9 111.3,305.9 111.4,305.9 111.5,306 111.7,306 111.8,306 112,306 112.1,306.1 112.2,306.1 112.4,306.1 112.5,306.2 112.7,306.2 112.8,306.3 112.9,306.3 113.1,306.4 113.2,306.4 113.3,306.5 113.5,306.5 113.6,306.6 113.8,306.7 113.9,306.7 114,306.8 114.2,306.9 114.3,306.9 114.5,307 114.6,307.1 114.7,307.1 114.9,307.2 115,307.3 115.1,307.3 115.3,307.4 115.4,307.5 115.6,307.5 115.7,307.6 115.8,307.6 116,307.7 116.1,307.7 116.3,307.8 116.4,307.8 116.5,307.8 116.7,307.9 116.8,307.9 117,307.9 117.1,308 117.2,308 117.4,308 117.5,308 117.6,308 117.8,308 117.9,308 118.1,308 118.2,308 118.3,308 118.5,307.9 118.6,307.9 118.8,307.9 118.9,307.9 119,307.8 119.2,307.8 119.3,307.8 119.4,307.8 119.6,307.7 119.7,307.7 119.9,307.6 120,307.6 120.1,307.6 120.3,307.5 120.4,307.5 120.6,307.4 120.7,307.4 120.8,307.3 121,307.3 121.1,307.2 121.2,307.2 121.4,307.1 121.5,307.1 121.7,307 121.8,307 121.9,307 122.1,306.9 122.2,306.9 122.4,306.8 122.5,306.8 122.6,306.8 122.8,306.7 122.9,306.7 123.1,306.7 123.2,306.7 123.3,306.6 123.5,306.6 123.6,306.6 123.7,306.6 123.9,306.6 124,306.6 124.2,306.6 124.3,306.6 124.4,306.6 124.6,306.6 124.7,306.6 124.9,306.6 125,306.6 125.1,306.6 125.3,306.7 125.4,306.7 125.5,306.7 125.7,306.8 125.8,306.8 126,306.9 126.1,306.9 126.2,307 126.4,307 126.5,307.1 126.7,307.1 126.8,307.2 126.9,307.2 127.1,307.3 127.2,307.3 127.4,307.4 127.5,307.4 127.6,307.5 127.8,307.5 127.9,307.6 128,307.6 128.2,307.6 128.3,307.7 128.5,307.7 128.6,307.7 128.7,307.8 128.9,307.8 129,307.7 129.2,307.7 129.3,307.7 129.4,307.7 129.6,307.6 129.7,307.6 129.8,307.5 130,307.5 130.1,307.4 130.3,307.4 130.4,307.3 130.5,307.3 130.7,307.2 130.8,307.2 131,307.1 131.1,307.1 131.2,307 131.4,307 131.5,306.9 131.6,306.9 131.8,306.8 131.9,306.8 132.1,306.8 132.2,306.7 132.3,306.7 132.5,306.7 132.6,306.6 132.8,306.6 132.9,306.6 133,306.6 133.2,306.6 133.3,306.6 133.5,306.6 133.6,306.6 133.7,306.6 133.9,306.6 134,306.6 134.1,306.6 134.3,306.6 134.4,306.7 134.6,306.7 134.7,306.7 134.8,306.7 135,306.8 135.1,306.8 135.3,306.8 135.4,306.9 135.5,306.9 135.7,306.9 135.8,307 135.9,307 136.1,307.1 136.2,307.1 136.4,307.2 136.5,307.2 136.6,307.3 136.8,307.3 136.9,307.4 137.1,307.4 137.2,307.5 137.3,307.5 137.5,307.5 137.6,307.6 137.8,307.6 137.9,307.7 138,307.7 138.2,307.7 138.3,307.8 138.4,307.8 138.6,307.8 138.7,307.9 138.9,307.9 139,307.9 139.1,307.9 139.3,308 139.4,308 139.6,308 139.7,308 139.8,308 140,308 140.1,308 140.2,308 140.4,308 140.5,308 140.7,307.9 140.8,307.9 140.9,307.9 141.1,307.9 141.2,307.8 141.4,307.8 141.5,307.7 141.6,307.7 141.8,307.6 141.9,307.6 142,307.5 142.2,307.5 142.3,307.4 142.5,307.3 142.6,307.3 142.7,307.2 142.9,307.2 143,307.1 143.2,307 143.3,307 143.4,306.9 143.6,306.8 143.7,306.7 143.9,306.7 144,306.6 144.1,306.6 144.3,306.5 144.4,306.4 144.5,306.4 144.7,306.3 144.8,306.3 145,306.2 145.1,306.2 145.2,306.1 145.4,306.1 145.5,306.1 145.7,306 145.8,306 145.9,306 146.1,306 146.2,305.9 146.3,305.9 146.5,305.9 146.6,305.9 146.8,305.9 146.9,305.9 147,306 147.2,306 147.3,306 147.5,306 147.6,306.1 147.7,306.1 147.9,306.2 148,306.2 148.2,306.3 148.3,306.3 148.4,306.4 148.6,306.5 148.7,306.5 148.8,306.6 149,306.7 149.1,306.8 149.3,306.8 149.4,306.9 149.5,307 149.7,307.1 149.8,307.2 150,307.3 150.1,307.3 150.2,307.4 150.4,307.5 150.5,307.6 150.6,307.7 150.8,307.7 150.9,307.8 151.1,307.9 151.2,308 151.3,308 151.5,308.1 151.6,308.1 151.8,308.2 151.9,308.2 152,308.3 152.2,308.3 152.3,308.4 152.4,308.4 152.6,308.4 152.7,308.4 152.9,308.5 153,308.5 153.1,308.5 153.3,308.5 153.4,308.5 153.6,308.5 153.7,308.4 153.8,308.4 154,308.4 154.1,308.4 154.3,308.4 154.4,308.3 154.5,308.3 154.7,308.2 154.8,308.1 154.9,308.1 155.1,308 155.2,307.9 155.4,307.8 155.5,307.7 155.6,307.6 155.8,307.5 155.9,307.3 156.1,307.2 156.2,307.1 156.3,306.9 156.5,306.8 156.6,306.6 156.7,306.5 156.9,306.3 157,306.2 157.2,306 157.3,305.9 157.4,305.8 157.6,305.6 157.7,305.5 157.9,305.3 158,305.2 158.1,305.1 158.3,305 158.4,304.9 158.6,304.8 158.7,304.7 158.8,304.6 159,304.5 159.1,304.5 159.2,304.4 159.4,304.4 159.5,304.4 159.7,304.3 159.8,304.3 159.9,304.4 160.1,304.4 160.2,304.4 160.4,304.5 160.5,304.5 160.6,304.6 160.8,304.7 160.9,304.8 161,304.9 161.2,305.1 161.3,305.2 161.5,305.3 161.6,305.5 161.7,305.7 161.9,305.8 162,306 162.2,306.2 162.3,306.4 162.4,306.5 162.6,306.7 162.7,306.9 162.9,307.1 163,307.3 163.1,307.4 163.3,307.6 163.4,307.8 163.5,307.9 163.7,308.1 163.8,308.3 164,308.4 164.1,308.5 164.2,308.6 164.4,308.8 164.5,308.9 164.7,309 164.8,309.1 164.9,309.1 165.1,309.2 165.2,309.3 165.3,309.3 165.5,309.3 165.6,309.4 165.8,309.4 165.9,309.4 166,309.4 166.2,309.4 166.3,309.4 166.5,309.4 166.6,309.4 166.7,309.4 166.9,309.4 167,309.4 167.1,309.4 167.3,309.4 167.4,309.4 167.6,309.3 167.7,309.3 167.8,309.2 168,309.2 168.1,309.1 168.3,309 168.4,308.9 168.5,308.8 168.7,308.6 168.8,308.5 169,308.3 169.1,308.1 169.2,307.8 169.4,307.6 169.5,307.4 169.6,307.1 169.8,306.8 169.9,306.5 170.1,306.2 170.2,305.9 170.3,305.5 170.5,305.2 170.6,304.9 170.8,304.5 170.9,304.2 171,303.8 171.2,303.5 171.3,303.2 171.4,302.9 171.6,302.6 171.7,302.4 171.9,302.1 172,301.9 172.1,301.7 172.3,301.5 172.4,301.4 172.6,301.3 172.7,301.2 172.8,301.2 173,301.2 173.1,301.2 173.3,301.3 173.4,301.4 173.5,301.6 173.7,301.8 173.8,302 173.9,302.3 174.1,302.7 174.2,303 174.4,303.4 174.5,303.8 174.6,304.3 174.8,304.7 174.9,305.2 175.1,305.7 175.2,306.2 175.3,306.7 175.5,307.2 175.6,307.7 175.7,308.1 175.9,308.6 176,309.1 176.2,309.5 176.3,309.9 176.4,310.3 176.6,310.7 176.7,311 176.9,311.3 177,311.6 177.1,311.9 177.3,312.1 177.4,312.3 177.5,312.5 177.7,312.7 177.8,312.8 178,312.9 178.1,313 178.2,313.1 178.4,313.1 178.5,313.2 178.7,313.2 178.8,313.2 178.9,313.2 179.1,313.2 179.2,313.2 179.4,313.2 179.5,313.2 179.6,313.2 179.8,313.2 179.9,313.2 180,313.2 180.2,313.2 180.3,313.2 180.5,313.2 180.6,313.2 180.7,313.2 180.9,313.2 181,313.1 181.2,313.1 181.3,313 181.4,312.9 181.6,312.8 181.7,312.6 181.8,312.4 182,312.2 182.1,311.9 182.3,311.5 182.4,311.2 182.5,310.7 182.7,310.2 182.8,309.6 183,309 183.1,308.3 183.2,307.5 183.4,306.7 183.5,305.8 183.7,304.9 183.8,304 183.9,303 184.1,302 184.2,301 184.3,300 184.5,299 184.6,298.1 184.8,297.1 184.9,296.2 185,295.4 185.2,294.7 185.3,294 185.5,293.4 185.6,292.9 185.7,292.5 185.9,292.2 186,292 186.1,292 186.3,292 186.4,292.2 186.6,292.5 186.7,293 186.8,293.5 187,294.1 187.1,294.9 187.3,295.7 187.4,296.6 187.5,297.6 187.7,298.6 187.8,299.6 187.9,300.7 188.1,301.8 188.2,302.9 188.4,304 188.5,305.1 188.6,306.1 188.8,307.1 188.9,308 189.1,308.9 189.2,309.7 189.3,310.5 189.5,311.2 189.6,311.8 189.8,312.4 189.9,312.9 190,313.3 190.2,313.7 190.3,314 190.4,314.2 190.6,314.5 190.7,314.6 190.9,314.8 191,314.9 191.1,315 191.3,315 191.4,315.1 191.6,315.1 191.7,315.1 191.8,315.1 192,315.1 192.1,315.1 192.2,315.1 192.4,315.1 192.5,315.1 192.7,315.1 192.8,315.1 192.9,315.1 193.1,315.1 193.2,315.1 193.4,315.1 193.5,315.1 193.6,315.1 193.8,315.1 193.9,315.1 194.1,315.1 194.2,315.1 194.3,315.1 194.5,315.1 194.6,315.1 194.7,315 194.9,315 195,314.9 195.2,314.7 195.3,314.6 195.4,314.3 195.6,314 195.7,313.6 195.9,313.1 196,312.5 196.1,311.7 196.3,310.9 196.4,309.8 196.5,308.6 196.7,307.2 196.8,305.7 197,304 197.1,302.2 197.2,300.2 197.4,298.1 197.5,295.9 197.7,293.6 197.8,291.3 197.9,289 198.1,286.8 198.2,284.6 198.3,282.6 198.5,280.7 198.6,279 198.8,277.6 198.9,276.5 199,275.6 199.2,275.1 199.3,274.8 199.5,275 199.6,275.4 199.7,276.2 199.9,277.3 200,278.7 200.2,280.3 200.3,282.2 200.4,284.2 200.6,286.4 200.7,288.7 200.8,291.1 201,293.4 201.1,295.7 201.3,298 201.4,300.2 201.5,302.3 201.7,304.2 201.8,306 202,307.6 202.1,309 202.2,310.3 202.4,311.4 202.5,312.4 202.6,313.2 202.8,313.8 202.9,314.4 203.1,314.8 203.2,315.2 203.3,315.4 203.5,315.6 203.6,315.8 203.8,315.9 203.9,316 204,316 204.2,316 204.3,316.1 204.5,316.1 204.6,316.1 204.7,316.1 204.9,316.1 205,316.1 205.1,316.1 205.3,316.1 205.4,316.1 205.6,316.1 205.7,316.1 205.8,316.1 206,316.1 206.1,316.1 206.3,316.1 206.4,316.1 206.5,316.1 206.7,316.1 206.8,316.1 206.9,316.1 207.1,316.1 207.2,316.1 207.4,316.1 207.5,316.1 207.6,316.1 207.8,316.1 207.9,316.1 208.1,316.1 208.2,316.1 208.3,316.1 208.5,316.1 208.6,316.1 208.8,316 208.9,316 209,316 209.2,315.9 209.3,315.8 209.4,315.6 209.6,315.3 209.7,314.9 209.9,314.2 210,313.2 210.1,311.8 210.3,309.9 210.4,307.5 210.6,304.3 210.7,300.3 210.8,295.5 211,289.8 211.1,283.3 211.2,276.1 211.4,268.3 211.5,260.3 211.7,252.2 211.8,244.4 211.9,237.3 212.1,231.2 212.2,226.5 212.4,223.3 212.5,221.9 212.6,224.3 212.8,235.1 212.9,251.6 213,269.9 213.2,286.5 213.3,299.3 213.5,307.7 213.6,312.5 213.7,314.9 213.9,315.9 214,316.3 214.2,316.4 214.3,316.4 214.4,316.4 214.6,316.4 214.7,316.4 214.9,316.4 215,316.4 215.1,316.4 215.3,316.4 215.4,316.4 215.5,316.4 215.7,316.4 215.8,316.4 216,316.4 216.1,316.4 216.2,316.4 216.4,316.4 216.5,316.4 216.7,316.4 216.8,316.4 216.9,316.4 217.1,316.4 217.2,316.4 217.3,316.4 217.5,316.4 217.6,316.4 217.8,316.4 217.9,316.4 218,316.4 218.2,316.4 218.3,316.4 218.5,316.4 218.6,316.4 218.7,316.4 218.9,316.4 219,316.4 219.2,316.4 219.3,316.4 219.4,316.4 219.6,316.4 219.7,316.4 219.8,316.4 220,316.4 220.1,316.4 220.3,316.4 220.4,316.4 220.5,316.4 220.7,316.4 220.8,316.4 221,316.4 221.1,316.4 221.2,316.4 221.4,316.4 221.5,316.4 221.6,316.4 221.8,316.4 221.9,316.4 222.1,316.4 222.2,316.4 222.3,316.4 222.5,316.4 222.6,316.4 222.8,316.4 222.9,316.4 223,316.4 223.2,316.4 223.3,316.4 223.4,316.4 223.6,316.4 223.7,316.4 223.9,316.4 224,316.4 224.1,316.4 224.3,316.4 224.4,316.4 224.6,316.4 224.7,316.4 224.8,316.4 225,316.4 225.1,316.4 225.3,316.4 225.4,316.4 225.5,316.4 225.7,316.4 225.8,316.4 225.9,316.4 226.1,316.4 226.2,316.4 226.4,316.4 226.5,316.4" fill="none" stroke="#10f010" stroke-width="1.9" stroke-linejoin="round"/>
<rect x="60.5" y="193.5" width="85" height="59" fill="#fff" stroke="#8a8a8a" stroke-width="0.8"/>
<clipPath id="ic"><rect x="60.5" y="193.5" width="85" height="59"/></clipPath>
<line x1="58.9" y1="247.7" x2="60.5" y2="247.7" stroke="#8a8a8a" stroke-width="0.7"/>
<text x="57.5" y="249.5" font-size="5.1" text-anchor="end" fill="#111" stroke="#111" stroke-width="0.2">-20</text>
<line x1="58.9" y1="238.7" x2="60.5" y2="238.7" stroke="#8a8a8a" stroke-width="0.7"/>
<text x="57.5" y="240.5" font-size="5.1" text-anchor="end" fill="#111" stroke="#111" stroke-width="0.2">0</text>
<line x1="58.9" y1="229.7" x2="60.5" y2="229.7" stroke="#8a8a8a" stroke-width="0.7"/>
<text x="57.5" y="231.5" font-size="5.1" text-anchor="end" fill="#111" stroke="#111" stroke-width="0.2">20</text>
<line x1="58.9" y1="220.6" x2="60.5" y2="220.6" stroke="#8a8a8a" stroke-width="0.7"/>
<text x="57.5" y="222.4" font-size="5.1" text-anchor="end" fill="#111" stroke="#111" stroke-width="0.2">40</text>
<line x1="58.9" y1="211.6" x2="60.5" y2="211.6" stroke="#8a8a8a" stroke-width="0.7"/>
<text x="57.5" y="213.4" font-size="5.1" text-anchor="end" fill="#111" stroke="#111" stroke-width="0.2">60</text>
<line x1="58.9" y1="202.5" x2="60.5" y2="202.5" stroke="#8a8a8a" stroke-width="0.7"/>
<text x="57.5" y="204.3" font-size="5.1" text-anchor="end" fill="#111" stroke="#111" stroke-width="0.2">80</text>
<line x1="58.9" y1="193.5" x2="60.5" y2="193.5" stroke="#8a8a8a" stroke-width="0.7"/>
<text x="57.5" y="195.3" font-size="5.1" text-anchor="end" fill="#111" stroke="#111" stroke-width="0.2">100</text>
<line x1="65.5" y1="252.5" x2="65.5" y2="254.1" stroke="#8a8a8a" stroke-width="0.7"/>
<text x="65.5" y="260.7" font-size="5.1" text-anchor="middle" fill="#111" stroke="#111" stroke-width="0.2">0.6</text>
<line x1="76.8" y1="252.5" x2="76.8" y2="254.1" stroke="#8a8a8a" stroke-width="0.7"/>
<text x="76.8" y="260.7" font-size="5.1" text-anchor="middle" fill="#111" stroke="#111" stroke-width="0.2">0.8</text>
<line x1="88.1" y1="252.5" x2="88.1" y2="254.1" stroke="#8a8a8a" stroke-width="0.7"/>
<text x="88.1" y="260.7" font-size="5.1" text-anchor="middle" fill="#111" stroke="#111" stroke-width="0.2">1.0</text>
<line x1="99.4" y1="252.5" x2="99.4" y2="254.1" stroke="#8a8a8a" stroke-width="0.7"/>
<text x="99.4" y="260.7" font-size="5.1" text-anchor="middle" fill="#111" stroke="#111" stroke-width="0.2">1.2</text>
<line x1="110.6" y1="252.5" x2="110.6" y2="254.1" stroke="#8a8a8a" stroke-width="0.7"/>
<text x="110.6" y="260.7" font-size="5.1" text-anchor="middle" fill="#111" stroke="#111" stroke-width="0.2">1.4</text>
<line x1="121.9" y1="252.5" x2="121.9" y2="254.1" stroke="#8a8a8a" stroke-width="0.7"/>
<text x="121.9" y="260.7" font-size="5.1" text-anchor="middle" fill="#111" stroke="#111" stroke-width="0.2">1.6</text>
<line x1="133.2" y1="252.5" x2="133.2" y2="254.1" stroke="#8a8a8a" stroke-width="0.7"/>
<text x="133.2" y="260.7" font-size="5.1" text-anchor="middle" fill="#111" stroke="#111" stroke-width="0.2">1.8</text>
<line x1="144.5" y1="252.5" x2="144.5" y2="254.1" stroke="#8a8a8a" stroke-width="0.7"/>
<text x="144.5" y="260.7" font-size="5.1" text-anchor="middle" fill="#111" stroke="#111" stroke-width="0.2">2.0</text>
<polyline points="58.6,238.2 58.8,238.2 59.1,238.2 59.4,238.2 59.7,238.2 59.9,238.2 60.2,238.2 60.5,238.2 60.8,238.2 61,238.2 61.3,238.2 61.6,238.2 61.8,238.2 62.1,238.2 62.4,238.2 62.7,238.2 62.9,238.2 63.2,238.2 63.5,238.2 63.8,238.2 64,238.1 64.3,237.9 64.6,237.7 64.9,237.3 65.1,236.8 65.4,236.1 65.7,235 66,233.7 66.2,232 66.5,229.9 66.8,227.3 67.1,224.3 67.3,220.9 67.6,217.1 67.9,212.9 68.2,208.6 68.4,204 68.7,199.5 69,195.2 69.3,191.1 69.5,187.5 69.8,184.5 70.1,182.2 70.3,180.6 70.6,180 70.9,180.2 71.2,181.3 71.4,183.2 71.7,185.8 72,189 72.3,192.8 72.5,196.9 72.8,201.3 73.1,205.7 73.4,210.1 73.6,214.2 73.9,218.1 74.2,221.7 74.5,224.8 74.7,227.5 75,229.8 75.3,231.7 75.6,233.2 75.8,234.3 76.1,235.2 76.4,235.8 76.7,236.2 76.9,236.5 77.2,236.7 77.5,236.8 77.8,236.8 78,236.9 78.3,236.9 78.6,236.9 78.8,236.9 79.1,236.9 79.4,236.9 79.7,236.9 79.9,236.9 80.2,236.9 80.5,236.9 80.8,236.9 81,236.9 81.3,236.9 81.6,236.9 81.9,236.9 82.1,236.8 82.4,236.8 82.7,236.7 83,236.5 83.2,236.3 83.5,236 83.8,235.6 84.1,235.1 84.3,234.5 84.6,233.7 84.9,232.8 85.2,231.7 85.4,230.5 85.7,229.2 86,227.7 86.3,226.1 86.5,224.4 86.8,222.7 87.1,220.9 87.3,219.2 87.6,217.4 87.9,215.8 88.2,214.3 88.4,212.9 88.7,211.7 89,210.7 89.3,210 89.5,209.5 89.8,209.3 90.1,209.4 90.4,209.7 90.6,210.3 90.9,211.1 91.2,212 91.5,213.2 91.7,214.5 92,216 92.3,217.5 92.6,219.1 92.8,220.7 93.1,222.3 93.4,223.8 93.7,225.3 93.9,226.6 94.2,227.9 94.5,229 94.8,230.1 95,230.9 95.3,231.7 95.6,232.3 95.8,232.8 96.1,233.2 96.4,233.5 96.7,233.8 96.9,233.9 97.2,234 97.5,234.1 97.8,234.1 98,234.2 98.3,234.2 98.6,234.2 98.9,234.2 99.1,234.2 99.4,234.2 99.7,234.2 100,234.2 100.2,234.2 100.5,234.2 100.8,234.1 101.1,234.1 101.3,234 101.6,234 101.9,233.9 102.2,233.7 102.4,233.5 102.7,233.3 103,233.1 103.3,232.8 103.5,232.4 103.8,232.1 104.1,231.6 104.3,231.2 104.6,230.7 104.9,230.2 105.2,229.7 105.4,229.1 105.7,228.6 106,228 106.3,227.5 106.5,226.9 106.8,226.4 107.1,226 107.4,225.5 107.6,225.2 107.9,224.9 108.2,224.6 108.5,224.4 108.7,224.3 109,224.2 109.3,224.3 109.6,224.4 109.8,224.5 110.1,224.8 110.4,225.1 110.7,225.4 110.9,225.8 111.2,226.3 111.5,226.8 111.8,227.3 112,227.9 112.3,228.4 112.6,229 112.8,229.6 113.1,230.1 113.4,230.6 113.7,231.2 113.9,231.6 114.2,232.1 114.5,232.5 114.8,232.8 115,233.2 115.3,233.4 115.6,233.7 115.9,233.9 116.1,234 116.4,234.2 116.7,234.2 117,234.3 117.2,234.4 117.5,234.4 117.8,234.4 118.1,234.4 118.3,234.4 118.6,234.4 118.9,234.4 119.2,234.4 119.4,234.4 119.7,234.4 120,234.4 120.3,234.4 120.5,234.4 120.8,234.4 121.1,234.4 121.3,234.5 121.6,234.5 121.9,234.5 122.2,234.5 122.4,234.5 122.7,234.5 123,234.6 123.3,234.6 123.5,234.6 123.8,234.6 124.1,234.6 124.4,234.7 124.6,234.7 124.9,234.7 125.2,234.7 125.5,234.7 125.7,234.8 126,234.8 126.3,234.8 126.6,234.8 126.8,234.8 127.1,234.8 127.4,234.8 127.7,234.9 127.9,234.9 128.2,234.9 128.5,234.9 128.8,234.9 129,234.9 129.3,235 129.6,235 129.8,235.1 130.1,235.1 130.4,235.2 130.7,235.3 130.9,235.4 131.2,235.5 131.5,235.7 131.8,235.8 132,235.9 132.3,236 132.6,236.1 132.9,236.3 133.1,236.4 133.4,236.5 133.7,236.6 134,236.7 134.2,236.8 134.5,236.9 134.8,237 135.1,237 135.3,237.1 135.6,237.2 135.9,237.2 136.2,237.3 136.4,237.3 136.7,237.3 137,237.3 137.2,237.3 137.5,237.3 137.8,237.3 138.1,237.3 138.3,237.3 138.6,237.3 138.9,237.4 139.2,237.4 139.4,237.4 139.7,237.4 140,237.4 140.3,237.4 140.5,237.4 140.8,237.4 141.1,237.4 141.4,237.4 141.6,237.4 141.9,237.4 142.2,237.4 142.5,237.5 142.7,237.5 143,237.5 143.3,237.5 143.6,237.5 143.8,237.5 144.1,237.5 144.4,237.5 144.7,237.5 144.9,237.5 145.2,237.5 145.5,237.5 145.7,237.6 146,237.6" fill="none" stroke="#111" stroke-width="0.8" clip-path="url(#ic)" stroke-linejoin="round"/>
<polyline points="58.6,238.2 58.8,238.2 59.1,238.2 59.4,238.2 59.7,238.2 59.9,238.2 60.2,238.2 60.5,238.2 60.8,238.2 61,238.2 61.3,238.2 61.6,238.2 61.8,238.2 62.1,238.2 62.4,238.2 62.7,238.2 62.9,238.2 63.2,238.2 63.5,238.2 63.8,238.2 64,238.1 64.3,237.9 64.6,237.7 64.9,237.3 65.1,236.8 65.4,236.1 65.7,235 66,233.7 66.2,232 66.5,229.9 66.8,227.3 67.1,224.3 67.3,220.9 67.6,217.1 67.9,212.9 68.2,208.6 68.4,204 68.7,199.5 69,195.2 69.3,191.1 69.5,187.5 69.8,184.5 70.1,182.2 70.3,180.6 70.6,180 70.9,180.2 71.2,181.3 71.4,183.2 71.7,185.8 72,189 72.3,192.8 72.5,196.9 72.8,201.3 73.1,205.7 73.4,210.1 73.6,214.2 73.9,218.1 74.2,221.7 74.5,224.8 74.7,227.5 75,229.8 75.3,231.7 75.6,233.2 75.8,234.3 76.1,235.2 76.4,235.8 76.7,236.2 76.9,236.5 77.2,236.7 77.5,236.8 77.8,236.8 78,236.9 78.3,236.9 78.6,236.9 78.8,236.9 79.1,236.9 79.4,236.9 79.7,236.9 79.9,236.9 80.2,236.9 80.5,236.9 80.8,236.9 81,236.9 81.3,236.9 81.6,236.9 81.9,236.9 82.1,236.8 82.4,236.8 82.7,236.7 83,236.6 83.2,236.4 83.5,236.1 83.8,235.8 84.1,235.4 84.3,234.9 84.6,234.2 84.9,233.5 85.2,232.6 85.4,231.6 85.7,230.4 86,229.2 86.3,227.9 86.5,226.5 86.8,225 87.1,223.5 87.3,222.1 87.6,220.6 87.9,219.3 88.2,218 88.4,216.8 88.7,215.8 89,215 89.3,214.4 89.5,214 89.8,213.8 90.1,213.9 90.4,214.2 90.6,214.7 90.9,215.3 91.2,216.2 91.5,217.2 91.7,218.3 92,219.5 92.3,220.8 92.6,222.2 92.8,223.5 93.1,224.9 93.4,226.2 93.7,227.5 93.9,228.6 94.2,229.7 94.5,230.7 94.8,231.6 95,232.3 95.3,233 95.6,233.5 95.8,233.9 96.1,234.3 96.4,234.5 96.7,234.7 96.9,234.9 97.2,235 97.5,235 97.8,235.1 98,235.1 98.3,235.1 98.6,235.1 98.9,235.1 99.1,235.1 99.4,235.1 99.7,235.1 100,235.1 100.2,235.1 100.5,235.1 100.8,235.1 101.1,235 101.3,235 101.6,235 101.9,234.9 102.2,234.8 102.4,234.7 102.7,234.6 103,234.4 103.3,234.3 103.5,234.1 103.8,233.8 104.1,233.6 104.3,233.3 104.6,233 104.9,232.7 105.2,232.4 105.4,232.1 105.7,231.8 106,231.4 106.3,231.1 106.5,230.8 106.8,230.5 107.1,230.2 107.4,230 107.6,229.8 107.9,229.6 108.2,229.4 108.5,229.3 108.7,229.2 109,229.2 109.3,229.2 109.6,229.3 109.8,229.4 110.1,229.5 110.4,229.7 110.7,229.9 110.9,230.1 111.2,230.4 111.5,230.7 111.8,231 112,231.3 112.3,231.6 112.6,232 112.8,232.3 113.1,232.6 113.4,232.9 113.7,233.2 113.9,233.5 114.2,233.7 114.5,234 114.8,234.2 115,234.4 115.3,234.5 115.6,234.7 115.9,234.8 116.1,234.9 116.4,234.9 116.7,235 117,235 117.2,235.1 117.5,235.1 117.8,235.1 118.1,235.1 118.3,235.1 118.6,235.1 118.9,235.1 119.2,235.1 119.4,235.1 119.7,235.1 120,235.1 120.3,235 120.5,235 120.8,235 121.1,234.9 121.3,234.9 121.6,234.8 121.9,234.8 122.2,234.7 122.4,234.6 122.7,234.6 123,234.5 123.3,234.4 123.5,234.3 123.8,234.2 124.1,234.1 124.4,234.1 124.6,234 124.9,233.9 125.2,233.8 125.5,233.7 125.7,233.6 126,233.6 126.3,233.5 126.6,233.4 126.8,233.4 127.1,233.4 127.4,233.3 127.7,233.3 127.9,233.3 128.2,233.3 128.5,233.3 128.8,233.3 129,233.3 129.3,233.3 129.6,233.3 129.8,233.4 130.1,233.4 130.4,233.4 130.7,233.5 130.9,233.5 131.2,233.6 131.5,233.6 131.8,233.7 132,233.7 132.3,233.8 132.6,233.9 132.9,233.9 133.1,234 133.4,234 133.7,234.1 134,234.1 134.2,234.2 134.5,234.2 134.8,234.2 135.1,234.3 135.3,234.3 135.6,234.3 135.9,234.3 136.2,234.4 136.4,234.4 136.7,234.4 137,234.4 137.2,234.4 137.5,234.4 137.8,234.4 138.1,234.4 138.3,234.4 138.6,234.4 138.9,234.4 139.2,234.4 139.4,234.4 139.7,234.4 140,234.4 140.3,234.4 140.5,234.4 140.8,234.5 141.1,234.5 141.4,234.5 141.6,234.5 141.9,234.5 142.2,234.5 142.5,234.5 142.7,234.5 143,234.5 143.3,234.5 143.6,234.6 143.8,234.6 144.1,234.6 144.4,234.6 144.7,234.6 144.9,234.6 145.2,234.6 145.5,234.6 145.7,234.6 146,234.6" fill="none" stroke="#f01010" stroke-width="0.8" stroke-dasharray="2.4 1.2" clip-path="url(#ic)" stroke-linejoin="round"/>
<rect x="154.5" y="192.5" width="42.5" height="45" fill="#fff" stroke="#333" stroke-width="0.9"/>
<line x1="157.5" y1="200" x2="176.3" y2="200" stroke="#111" stroke-width="1.5"/>
<text x="180" y="202.4" font-size="6.6" text-anchor="start" fill="#111" stroke="#111" stroke-width="0.2">BS1</text>
<line x1="157.5" y1="207.5" x2="176.3" y2="207.5" stroke="#f01010" stroke-width="1.5" stroke-dasharray="4.4 2.4"/>
<text x="180" y="209.9" font-size="6.6" text-anchor="start" fill="#111" stroke="#111" stroke-width="0.2">BS2</text>
<line x1="157.5" y1="215" x2="176.3" y2="215" stroke="#1010f0" stroke-width="1.5"/>
<text x="180" y="217.4" font-size="6.6" text-anchor="start" fill="#111" stroke="#111" stroke-width="0.2">BS3</text>
<line x1="157.5" y1="222.5" x2="176.3" y2="222.5" stroke="#f010f0" stroke-width="1.5" stroke-dasharray="4.4 2.4"/>
<text x="180" y="224.9" font-size="6.6" text-anchor="start" fill="#111" stroke="#111" stroke-width="0.2">BS4</text>
<line x1="157.5" y1="230" x2="176.3" y2="230" stroke="#10f010" stroke-width="1.5"/>
<text x="180" y="232.4" font-size="6.6" text-anchor="start" fill="#111" stroke="#111" stroke-width="0.2">BS5</text>
</g>
<g id="plot-c">
<rect x="29.5" y="370.5" width="198" height="139" fill="none" stroke="#333" stroke-width="0.9"/>
<line x1="27.2" y1="509.5" x2="29.5" y2="509.5" stroke="#333" stroke-width="0.8"/>
<text x="24.5" y="511.9" font-size="6.7" text-anchor="end" fill="#111" stroke="#111" stroke-width="0.2">0</text>
<line x1="27.2" y1="495.6" x2="29.5" y2="495.6" stroke="#333" stroke-width="0.8"/>
<text x="24.5" y="498" font-size="6.7" text-anchor="end" fill="#111" stroke="#111" stroke-width="0.2">3</text>
<line x1="27.2" y1="481.7" x2="29.5" y2="481.7" stroke="#333" stroke-width="0.8"/>
<text x="24.5" y="484.1" font-size="6.7" text-anchor="end" fill="#111" stroke="#111" stroke-width="0.2">6</text>
<line x1="27.2" y1="467.8" x2="29.5" y2="467.8" stroke="#333" stroke-width="0.8"/>
<text x="24.5" y="470.2" font-size="6.7" text-anchor="end" fill="#111" stroke="#111" stroke-width="0.2">9</text>
<line x1="27.2" y1="453.9" x2="29.5" y2="453.9" stroke="#333" stroke-width="0.8"/>
<text x="24.5" y="456.3" font-size="6.7" text-anchor="end" fill="#111" stroke="#111" stroke-width="0.2">12</text>
<line x1="27.2" y1="440" x2="29.5" y2="440" stroke="#333" stroke-width="0.8"/>
<text x="24.5" y="442.4" font-size="6.7" text-anchor="end" fill="#111" stroke="#111" stroke-width="0.2">15</text>
<line x1="27.2" y1="426.1" x2="29.5" y2="426.1" stroke="#333" stroke-width="0.8"/>
<text x="24.5" y="428.5" font-size="6.7" text-anchor="end" fill="#111" stroke="#111" stroke-width="0.2">18</text>
<line x1="27.2" y1="412.2" x2="29.5" y2="412.2" stroke="#333" stroke-width="0.8"/>
<text x="24.5" y="414.6" font-size="6.7" text-anchor="end" fill="#111" stroke="#111" stroke-width="0.2">21</text>
<line x1="27.2" y1="398.3" x2="29.5" y2="398.3" stroke="#333" stroke-width="0.8"/>
<text x="24.5" y="400.7" font-size="6.7" text-anchor="end" fill="#111" stroke="#111" stroke-width="0.2">24</text>
<line x1="27.2" y1="384.4" x2="29.5" y2="384.4" stroke="#333" stroke-width="0.8"/>
<text x="24.5" y="386.8" font-size="6.7" text-anchor="end" fill="#111" stroke="#111" stroke-width="0.2">27</text>
<line x1="27.2" y1="370.5" x2="29.5" y2="370.5" stroke="#333" stroke-width="0.8"/>
<text x="24.5" y="372.9" font-size="6.7" text-anchor="end" fill="#111" stroke="#111" stroke-width="0.2">30</text>
<line x1="29.5" y1="509.5" x2="29.5" y2="511.8" stroke="#333" stroke-width="0.8"/>
<text x="29.5" y="520.8" font-size="6.7" text-anchor="middle" fill="#111" stroke="#111" stroke-width="0.2">0</text>
<line x1="49.3" y1="509.5" x2="49.3" y2="511.8" stroke="#333" stroke-width="0.8"/>
<text x="49.3" y="520.8" font-size="6.7" text-anchor="middle" fill="#111" stroke="#111" stroke-width="0.2">2</text>
<line x1="69.1" y1="509.5" x2="69.1" y2="511.8" stroke="#333" stroke-width="0.8"/>
<text x="69.1" y="520.8" font-size="6.7" text-anchor="middle" fill="#111" stroke="#111" stroke-width="0.2">4</text>
<line x1="88.9" y1="509.5" x2="88.9" y2="511.8" stroke="#333" stroke-width="0.8"/>
<text x="88.9" y="520.8" font-size="6.7" text-anchor="middle" fill="#111" stroke="#111" stroke-width="0.2">6</text>
<line x1="108.7" y1="509.5" x2="108.7" y2="511.8" stroke="#333" stroke-width="0.8"/>
<text x="108.7" y="520.8" font-size="6.7" text-anchor="middle" fill="#111" stroke="#111" stroke-width="0.2">8</text>
<line x1="128.5" y1="509.5" x2="128.5" y2="511.8" stroke="#333" stroke-width="0.8"/>
<text x="128.5" y="520.8" font-size="6.7" text-anchor="middle" fill="#111" stroke="#111" stroke-width="0.2">10</text>
<line x1="148.3" y1="509.5" x2="148.3" y2="511.8" stroke="#333" stroke-width="0.8"/>
<text x="148.3" y="520.8" font-size="6.7" text-anchor="middle" fill="#111" stroke="#111" stroke-width="0.2">12</text>
<line x1="168.1" y1="509.5" x2="168.1" y2="511.8" stroke="#333" stroke-width="0.8"/>
<text x="168.1" y="520.8" font-size="6.7" text-anchor="middle" fill="#111" stroke="#111" stroke-width="0.2">14</text>
<line x1="187.9" y1="509.5" x2="187.9" y2="511.8" stroke="#333" stroke-width="0.8"/>
<text x="187.9" y="520.8" font-size="6.7" text-anchor="middle" fill="#111" stroke="#111" stroke-width="0.2">16</text>
<line x1="207.7" y1="509.5" x2="207.7" y2="511.8" stroke="#333" stroke-width="0.8"/>
<text x="207.7" y="520.8" font-size="6.7" text-anchor="middle" fill="#111" stroke="#111" stroke-width="0.2">18</text>
<line x1="227.5" y1="509.5" x2="227.5" y2="511.8" stroke="#333" stroke-width="0.8"/>
<text x="227.5" y="520.8" font-size="6.7" text-anchor="middle" fill="#111" stroke="#111" stroke-width="0.2">20</text>
<text x="128" y="532.9" font-size="6.7" text-anchor="middle" fill="#111" stroke="#111" stroke-width="0.2">Distance along pore length (nm)</text>
<text x="11.8" y="434.4" font-size="8.55" text-anchor="middle" fill="#111" stroke="#111" stroke-width="0.2" transform="rotate(-90 11.8 434.4)">Density (kmol/m<tspan dy="-2.8" font-size="5.7">3</tspan><tspan dy="2.8">)</tspan></text>
<text x="117.4" y="545" font-size="10.3" text-anchor="middle" fill="#111" font-weight="bold" font-family='"Liberation Serif", "Times New Roman", serif'>(c)</text>
<polyline points="29.5,429.8 30.3,429.8 31.2,429.8 32,429.8 32.8,429.8 33.6,429.9 34.5,429.9 35.3,429.9 36.1,429.9 37,430 37.8,430 38.6,430.1 39.4,430.1 40.3,430.1 41.1,430.2 41.9,430.2 42.8,430.3 43.6,430.3 44.4,430.4 45.2,430.4 46.1,430.5 46.9,430.6 47.7,430.6 48.6,430.7 49.4,430.7 50.2,430.8 51,430.9 51.9,431 52.7,431.1 53.5,431.2 54.4,431.3 55.2,431.5 56,431.6 56.8,431.7 57.7,431.9 58.5,432.1 59.3,432.2 60.2,432.4 61,432.5 61.8,432.7 62.6,432.9 63.5,433 64.3,433.2 65.1,433.3 66,433.5 66.8,433.6 67.6,433.8 68.4,433.9 69.3,434 70.1,434.1 70.9,434.3 71.8,434.4 72.6,434.5 73.4,434.7 74.2,434.8 75.1,434.9 75.9,435.1 76.7,435.2 77.6,435.3 78.4,435.4 79.2,435.5 80,435.6 80.9,435.7 81.7,435.8 82.5,435.8 83.3,435.8 84.2,435.8 85,435.8 85.8,435.8 86.7,435.8 87.5,435.7 88.3,435.7 89.1,435.7 90,435.6 90.8,435.6 91.6,435.5 92.5,435.4 93.3,435.4 94.1,435.3 94.9,435.2 95.8,435.2 96.6,435.1 97.4,435 98.3,434.9 99.1,434.9 99.9,434.8 100.7,434.7 101.6,434.6 102.4,434.5 103.2,434.4 104.1,434.3 104.9,434.2 105.7,434.1 106.5,434 107.4,433.9 108.2,433.8 109,433.7 109.9,433.6 110.7,433.4 111.5,433.3 112.3,433.2 113.2,433.1 114,433 114.8,432.9 115.7,432.8 116.5,432.8 117.3,432.7 118.1,432.6 119,432.6 119.8,432.5 120.6,432.5 121.5,432.4 122.3,432.4 123.1,432.3 123.9,432.3 124.8,432.3 125.6,432.2 126.4,432.2 127.3,432.1 128.1,432.1 128.9,432.1 129.7,432 130.6,432 131.4,432 132.2,431.9 133.1,431.9 133.9,431.9 134.7,431.8 135.5,431.8 136.4,431.8 137.2,431.7 138,431.7 138.9,431.6 139.7,431.6 140.5,431.5 141.3,431.5 142.2,431.4 143,431.3 143.8,431.2 144.7,431.2 145.5,431.1 146.3,431 147.1,430.9 148,430.9 148.8,430.8 149.6,430.7 150.5,430.6 151.3,430.6 152.1,430.5 152.9,430.5 153.8,430.4 154.6,430.4 155.4,430.3 156.3,430.3 157.1,430.3 157.9,430.3 158.7,430.3 159.6,430.3 160.4,430.3 161.2,430.4 162.1,430.5 162.9,430.6 163.7,430.7 164.5,430.8 165.4,430.9 166.2,431 167,431.1 167.9,431.2 168.7,431.3 169.5,431.4 170.3,431.5 171.2,431.6 172,431.7 172.8,431.8 173.7,431.9 174.5,432 175.3,432.1 176.1,432.2 177,432.3 177.8,432.4 178.6,432.5 179.4,432.6 180.3,432.7 181.1,432.8 181.9,432.9 182.8,433 183.6,433.1 184.4,433.2 185.2,433.3 186.1,433.4 186.9,433.5 187.7,433.6 188.6,433.7 189.4,433.8 190.2,433.8 191,433.9 191.9,434 192.7,434.1 193.5,434.2 194.4,434.2 195.2,434.3 196,434.3 196.8,434.4 197.7,434.4 198.5,434.5 199.3,434.5 200.2,434.5 201,434.6 201.8,434.6 202.6,434.6 203.5,434.7 204.3,434.7 205.1,434.7 206,434.7 206.8,434.7 207.6,434.8 208.4,434.8 209.3,434.8 210.1,434.8 210.9,434.9 211.8,434.9 212.6,434.9 213.4,434.9 214.2,435 215.1,435 215.9,435 216.7,435 217.6,435.1 218.4,435.1 219.2,435.1 220,435.1 220.9,435.2 221.7,435.2 222.5,435.2 223.4,435.2 224.2,435.3 225,435.3 225.8,435.3 226.7,435.3 227.5,435.4" fill="none" stroke="#111" stroke-width="1.5" stroke-linejoin="round"/>
<polyline points="29.5,383 30.3,383 31.2,383 32,383 32.8,383.1 33.6,383.1 34.5,383.1 35.3,383.2 36.1,383.2 37,383.3 37.8,383.3 38.6,383.4 39.4,383.5 40.3,383.6 41.1,383.7 41.9,383.9 42.8,384.2 43.6,384.5 44.4,384.8 45.2,385.2 46.1,385.6 46.9,386 47.7,386.5 48.6,387.1 49.4,387.7 50.2,388.6 51,389.4 51.9,390.4 52.7,391.5 53.5,392.6 54.4,393.8 55.2,395.2 56,396.8 56.8,398.5 57.7,400.5 58.5,402.5 59.3,404.6 60.2,406.8 61,408.9 61.8,411.1 62.6,413.5 63.5,416.1 64.3,418.7 65.1,421.3 66,423.9 66.8,426.3 67.6,428.6 68.4,430.6 69.3,432.5 70.1,434.3 70.9,436.1 71.8,437.8 72.6,439.3 73.4,440.8 74.2,442.1 75.1,443.3 75.9,444.3 76.7,445.3 77.6,446.3 78.4,447.1 79.2,447.9 80,448.7 80.9,449.4 81.7,450 82.5,450.6 83.3,451.1 84.2,451.7 85,452.2 85.8,452.7 86.7,453.1 87.5,453.5 88.3,453.7 89.1,454 90,454.1 90.8,454.3 91.6,454.5 92.5,454.6 93.3,454.8 94.1,454.9 94.9,455 95.8,455.1 96.6,455.2 97.4,455.3 98.3,455.3 99.1,455.3 99.9,455.3 100.7,455.3 101.6,455.3 102.4,455.3 103.2,455.3 104.1,455.3 104.9,455.3 105.7,455.3 106.5,455.3 107.4,455.3 108.2,455.3 109,455.3 109.9,455.3 110.7,455.3 111.5,455.2 112.3,455.2 113.2,455.2 114,455.1 114.8,455.1 115.7,455 116.5,455 117.3,454.9 118.1,454.9 119,454.8 119.8,454.7 120.6,454.6 121.5,454.5 122.3,454.4 123.1,454.3 123.9,454.2 124.8,454.1 125.6,454.1 126.4,454 127.3,453.9 128.1,453.9 128.9,453.9 129.7,453.9 130.6,453.9 131.4,453.9 132.2,453.9 133.1,453.9 133.9,453.9 134.7,453.9 135.5,453.9 136.4,453.9 137.2,453.9 138,453.9 138.9,453.9 139.7,453.9 140.5,453.9 141.3,453.8 142.2,453.8 143,453.8 143.8,453.7 144.7,453.7 145.5,453.6 146.3,453.6 147.1,453.5 148,453.5 148.8,453.4 149.6,453.4 150.5,453.3 151.3,453.2 152.1,453.2 152.9,453.1 153.8,453 154.6,453 155.4,452.9 156.3,452.8 157.1,452.7 157.9,452.6 158.7,452.4 159.6,452.2 160.4,452 161.2,451.8 162.1,451.5 162.9,451.1 163.7,450.8 164.5,450.5 165.4,450.1 166.2,449.7 167,449.2 167.9,448.7 168.7,448.2 169.5,447.6 170.3,447 171.2,446.3 172,445.6 172.8,444.8 173.7,443.9 174.5,443 175.3,441.9 176.1,440.8 177,439.6 177.8,438.4 178.6,437.2 179.4,436 180.3,434.7 181.1,433.3 181.9,431.9 182.8,430.5 183.6,429 184.4,427.5 185.2,426 186.1,424.4 186.9,422.8 187.7,421.1 188.6,419.4 189.4,417.8 190.2,416.2 191,414.5 191.9,412.8 192.7,411.2 193.5,409.5 194.4,407.9 195.2,406.4 196,404.9 196.8,403.5 197.7,402.1 198.5,400.7 199.3,399.4 200.2,398.1 201,397 201.8,395.9 202.6,394.9 203.5,393.9 204.3,393 205.1,392.2 206,391.4 206.8,390.7 207.6,390 208.4,389.4 209.3,388.9 210.1,388.4 210.9,387.9 211.8,387.4 212.6,387 213.4,386.6 214.2,386.3 215.1,386 215.9,385.7 216.7,385.5 217.6,385.3 218.4,385.1 219.2,384.9 220,384.8 220.9,384.6 221.7,384.5 222.5,384.4 223.4,384.3 224.2,384.2 225,384.1 225.8,384 226.7,384 227.5,383.9" fill="none" stroke="#f01010" stroke-width="1.5" stroke-dasharray="4 2" stroke-linejoin="round"/>
<polyline points="29.5,383 30.3,383 31.2,383 32,383.1 32.8,383.1 33.6,383.1 34.5,383.1 35.3,383.1 36.1,383.2 37,383.2 37.8,383.2 38.6,383.3 39.4,383.3 40.3,383.3 41.1,383.3 41.9,383.4 42.8,383.4 43.6,383.4 44.4,383.5 45.2,383.5 46.1,383.6 46.9,383.6 47.7,383.7 48.6,383.7 49.4,383.8 50.2,383.9 51,384 51.9,384 52.7,384.1 53.5,384.2 54.4,384.2 55.2,384.3 56,384.3 56.8,384.4 57.7,384.4 58.5,384.4 59.3,384.4 60.2,384.4 61,384.4 61.8,384.3 62.6,384.3 63.5,384.3 64.3,384.2 65.1,384.2 66,384.1 66.8,384 67.6,384 68.4,383.9 69.3,383.8 70.1,383.7 70.9,383.7 71.8,383.6 72.6,383.6 73.4,383.5 74.2,383.5 75.1,383.4 75.9,383.4 76.7,383.3 77.6,383.3 78.4,383.2 79.2,383.2 80,383.1 80.9,383.1 81.7,383.1 82.5,383 83.3,383 84.2,383 85,383 85.8,383.1 86.7,383.2 87.5,383.3 88.3,383.5 89.1,383.7 90,383.9 90.8,384.1 91.6,384.3 92.5,384.6 93.3,384.9 94.1,385.4 94.9,385.9 95.8,386.5 96.6,387.1 97.4,387.8 98.3,388.5 99.1,389.3 99.9,390.2 100.7,391.2 101.6,392.4 102.4,393.6 103.2,394.9 104.1,396.2 104.9,397.6 105.7,399.1 106.5,400.7 107.4,402.5 108.2,404.3 109,406.1 109.9,408 110.7,409.9 111.5,411.9 112.3,413.9 113.2,416 114,418.2 114.8,420.3 115.7,422.4 116.5,424.4 117.3,426.3 118.1,428.3 119,430.1 119.8,432 120.6,433.8 121.5,435.5 122.3,437.2 123.1,438.7 123.9,440.2 124.8,441.7 125.6,443.1 126.4,444.4 127.3,445.7 128.1,446.9 128.9,448 129.7,449 130.6,450 131.4,451 132.2,451.9 133.1,452.7 133.9,453.5 134.7,454.1 135.5,454.7 136.4,455.2 137.2,455.8 138,456.2 138.9,456.6 139.7,456.9 140.5,457.2 141.3,457.4 142.2,457.6 143,457.7 143.8,457.9 144.7,458 145.5,458 146.3,458.1 147.1,458 148,458 148.8,457.9 149.6,457.7 150.5,457.6 151.3,457.4 152.1,457.2 152.9,456.9 153.8,456.6 154.6,456.2 155.4,455.8 156.3,455.2 157.1,454.7 157.9,454.1 158.7,453.5 159.6,452.8 160.4,452.1 161.2,451.3 162.1,450.4 162.9,449.4 163.7,448.4 164.5,447.4 165.4,446.2 166.2,444.8 167,443.4 167.9,441.9 168.7,440.4 169.5,438.8 170.3,437.2 171.2,435.5 172,433.8 172.8,432 173.7,430.1 174.5,428.2 175.3,426.3 176.1,424.4 177,422.5 177.8,420.6 178.6,418.6 179.4,416.6 180.3,414.7 181.1,412.7 181.9,410.9 182.8,409 183.6,407.1 184.4,405.3 185.2,403.5 186.1,401.7 186.9,400.1 187.7,398.6 188.6,397.2 189.4,395.9 190.2,394.6 191,393.4 191.9,392.2 192.7,391.2 193.5,390.3 194.4,389.4 195.2,388.7 196,387.9 196.8,387.2 197.7,386.6 198.5,386 199.3,385.6 200.2,385.1 201,384.7 201.8,384.3 202.6,384 203.5,383.6 204.3,383.3 205.1,383.1 206,382.8 206.8,382.7 207.6,382.6 208.4,382.5 209.3,382.4 210.1,382.4 210.9,382.3 211.8,382.3 212.6,382.2 213.4,382.2 214.2,382.1 215.1,382.1 215.9,382.1 216.7,382.1 217.6,382.1 218.4,382.1 219.2,382.1 220,382.1 220.9,382.1 221.7,382.1 222.5,382.1 223.4,382.1 224.2,382.1 225,382.1 225.8,382.1 226.7,382.1 227.5,382.1" fill="none" stroke="#1010f0" stroke-width="1.5" stroke-linejoin="round"/>
<polyline points="29.5,382.5 30.3,382.6 31.2,382.6 32,382.7 32.8,382.7 33.6,382.7 34.5,382.8 35.3,382.8 36.1,382.8 37,382.8 37.8,382.9 38.6,382.9 39.4,382.9 40.3,382.9 41.1,382.9 41.9,382.9 42.8,383 43.6,383 44.4,383 45.2,383 46.1,383 46.9,383 47.7,383 48.6,383 49.4,383 50.2,383 51,383 51.9,383 52.7,383 53.5,383 54.4,382.9 55.2,382.9 56,382.9 56.8,382.9 57.7,382.8 58.5,382.8 59.3,382.8 60.2,382.7 61,382.7 61.8,382.7 62.6,382.7 63.5,382.6 64.3,382.6 65.1,382.6 66,382.6 66.8,382.6 67.6,382.6 68.4,382.5 69.3,382.5 70.1,382.6 70.9,382.6 71.8,382.6 72.6,382.6 73.4,382.6 74.2,382.6 75.1,382.6 75.9,382.7 76.7,382.7 77.6,382.7 78.4,382.8 79.2,382.8 80,382.8 80.9,382.8 81.7,382.9 82.5,382.9 83.3,382.9 84.2,382.9 85,383 85.8,383 86.7,383 87.5,383 88.3,383 89.1,383 90,383 90.8,383 91.6,383 92.5,383 93.3,383 94.1,382.9 94.9,382.9 95.8,382.9 96.6,382.9 97.4,382.8 98.3,382.8 99.1,382.8 99.9,382.7 100.7,382.7 101.6,382.7 102.4,382.7 103.2,382.6 104.1,382.6 104.9,382.6 105.7,382.6 106.5,382.6 107.4,382.6 108.2,382.5 109,382.5 109.9,382.5 110.7,382.6 111.5,382.6 112.3,382.6 113.2,382.6 114,382.6 114.8,382.6 115.7,382.6 116.5,382.7 117.3,382.7 118.1,382.7 119,382.8 119.8,382.8 120.6,382.8 121.5,382.9 122.3,382.9 123.1,383 123.9,383 124.8,383.1 125.6,383.3 126.4,383.5 127.3,383.7 128.1,384 128.9,384.3 129.7,384.6 130.6,384.9 131.4,385.3 132.2,385.7 133.1,386.3 133.9,386.9 134.7,387.6 135.5,388.3 136.4,389 137.2,389.8 138,390.7 138.9,391.7 139.7,392.7 140.5,393.9 141.3,395 142.2,396.2 143,397.4 143.8,398.6 144.7,399.9 145.5,401.3 146.3,402.7 147.1,404.1 148,405.6 148.8,407.1 149.6,408.6 150.5,410.3 151.3,411.9 152.1,413.6 152.9,415.3 153.8,416.9 154.6,418.4 155.4,420 156.3,421.6 157.1,423.2 157.9,424.6 158.7,425.9 159.6,427.1 160.4,428.2 161.2,429.2 162.1,430 162.9,430.6 163.7,430.9 164.5,431.2 165.4,431.4 166.2,431.6 167,431.7 167.9,431.6 168.7,431.2 169.5,430.7 170.3,430 171.2,429.3 172,428.5 172.8,427.6 173.7,426.3 174.5,424.9 175.3,423.3 176.1,421.6 177,419.8 177.8,418.2 178.6,416.5 179.4,414.9 180.3,413.1 181.1,411.4 181.9,409.6 182.8,407.9 183.6,406.3 184.4,404.5 185.2,402.8 186.1,401.2 186.9,399.6 187.7,398.1 188.6,396.8 189.4,395.4 190.2,394.2 191,393 191.9,391.8 192.7,390.8 193.5,389.8 194.4,388.9 195.2,388.1 196,387.2 196.8,386.5 197.7,385.7 198.5,385.1 199.3,384.6 200.2,384.2 201,383.9 201.8,383.5 202.6,383.2 203.5,383 204.3,382.7 205.1,382.5 206,382.3 206.8,382.2 207.6,382.1 208.4,382 209.3,382 210.1,381.9 210.9,381.8 211.8,381.8 212.6,381.8 213.4,381.7 214.2,381.7 215.1,381.7 215.9,381.6 216.7,381.6 217.6,381.6 218.4,381.6 219.2,381.6 220,381.6 220.9,381.6 221.7,381.6 222.5,381.6 223.4,381.6 224.2,381.6 225,381.6 225.8,381.6 226.7,381.6 227.5,381.6" fill="none" stroke="#f010f0" stroke-width="1.5" stroke-dasharray="4 2" stroke-linejoin="round"/>
<polyline points="29.5,382.1 30.3,382.1 31.2,382.2 32,382.2 32.8,382.3 33.6,382.3 34.5,382.3 35.3,382.4 36.1,382.4 37,382.4 37.8,382.4 38.6,382.5 39.4,382.5 40.3,382.5 41.1,382.5 41.9,382.5 42.8,382.5 43.6,382.5 44.4,382.5 45.2,382.5 46.1,382.5 46.9,382.5 47.7,382.5 48.6,382.5 49.4,382.5 50.2,382.5 51,382.4 51.9,382.4 52.7,382.4 53.5,382.4 54.4,382.4 55.2,382.4 56,382.3 56.8,382.3 57.7,382.3 58.5,382.3 59.3,382.3 60.2,382.3 61,382.3 61.8,382.3 62.6,382.3 63.5,382.3 64.3,382.4 65.1,382.4 66,382.4 66.8,382.4 67.6,382.4 68.4,382.4 69.3,382.5 70.1,382.5 70.9,382.5 71.8,382.5 72.6,382.5 73.4,382.5 74.2,382.5 75.1,382.6 75.9,382.6 76.7,382.6 77.6,382.6 78.4,382.6 79.2,382.6 80,382.6 80.9,382.6 81.7,382.7 82.5,382.7 83.3,382.7 84.2,382.7 85,382.7 85.8,382.7 86.7,382.7 87.5,382.8 88.3,382.8 89.1,382.8 90,382.8 90.8,382.8 91.6,382.9 92.5,382.9 93.3,382.9 94.1,383 94.9,383 95.8,383 96.6,383.1 97.4,383.1 98.3,383.1 99.1,383.2 99.9,383.2 100.7,383.2 101.6,383.2 102.4,383.2 103.2,383.2 104.1,383.2 104.9,383.2 105.7,383.2 106.5,383.2 107.4,383.1 108.2,383.1 109,383 109.9,383 110.7,382.9 111.5,382.9 112.3,382.8 113.2,382.8 114,382.7 114.8,382.7 115.7,382.6 116.5,382.6 117.3,382.6 118.1,382.5 119,382.5 119.8,382.6 120.6,382.6 121.5,382.6 122.3,382.7 123.1,382.7 123.9,382.7 124.8,382.8 125.6,382.8 126.4,382.9 127.3,382.9 128.1,383 128.9,383 129.7,383.1 130.6,383.1 131.4,383.2 132.2,383.2 133.1,383.3 133.9,383.3 134.7,383.4 135.5,383.4 136.4,383.5 137.2,383.5 138,383.6 138.9,383.6 139.7,383.6 140.5,383.7 141.3,383.7 142.2,383.7 143,383.7 143.8,383.7 144.7,383.7 145.5,383.7 146.3,383.7 147.1,383.7 148,383.7 148.8,383.6 149.6,383.6 150.5,383.6 151.3,383.6 152.1,383.6 152.9,383.5 153.8,383.5 154.6,383.5 155.4,383.5 156.3,383.5 157.1,383.5 157.9,383.5 158.7,383.5 159.6,383.5 160.4,383.5 161.2,383.5 162.1,383.5 162.9,383.5 163.7,383.5 164.5,383.5 165.4,383.5 166.2,383.5 167,383.5 167.9,383.5 168.7,383.5 169.5,383.5 170.3,383.5 171.2,383.5 172,383.5 172.8,383.5 173.7,383.5 174.5,383.5 175.3,383.5 176.1,383.5 177,383.4 177.8,383.4 178.6,383.4 179.4,383.4 180.3,383.4 181.1,383.4 181.9,383.4 182.8,383.3 183.6,383.3 184.4,383.3 185.2,383.3 186.1,383.3 186.9,383.3 187.7,383.2 188.6,383.2 189.4,383.2 190.2,383.2 191,383.2 191.9,383.2 192.7,383.2 193.5,383.2 194.4,383.1 195.2,383.1 196,383.1 196.8,383.1 197.7,383.1 198.5,383.1 199.3,383.1 200.2,383.1 201,383 201.8,383 202.6,383 203.5,383 204.3,383 205.1,383 206,383 206.8,382.9 207.6,382.9 208.4,382.9 209.3,382.9 210.1,382.9 210.9,382.9 211.8,382.9 212.6,382.9 213.4,382.9 214.2,382.8 215.1,382.8 215.9,382.8 216.7,382.8 217.6,382.8 218.4,382.8 219.2,382.7 220,382.7 220.9,382.7 221.7,382.7 222.5,382.7 223.4,382.7 224.2,382.6 225,382.6 225.8,382.6 226.7,382.6 227.5,382.5" fill="none" stroke="#10f010" stroke-width="1.7" stroke-linejoin="round"/>
<rect x="182.5" y="461.3" width="43.2" height="45.4" fill="#fff" stroke="#222" stroke-width="1"/>
<line x1="185.8" y1="468" x2="205" y2="468" stroke="#111" stroke-width="1.6"/>
<text x="209.2" y="470.4" font-size="6.6" text-anchor="start" fill="#111" stroke="#111" stroke-width="0.2">BS1</text>
<line x1="185.8" y1="475.6" x2="205" y2="475.6" stroke="#f01010" stroke-width="1.6" stroke-dasharray="4.6 2.4"/>
<text x="209.2" y="478" font-size="6.6" text-anchor="start" fill="#111" stroke="#111" stroke-width="0.2">BS2</text>
<line x1="185.8" y1="483.1" x2="205" y2="483.1" stroke="#1010f0" stroke-width="1.6"/>
<text x="209.2" y="485.5" font-size="6.6" text-anchor="start" fill="#111" stroke="#111" stroke-width="0.2">BS3</text>
<line x1="185.8" y1="490.7" x2="205" y2="490.7" stroke="#f010f0" stroke-width="1.6" stroke-dasharray="4.6 2.4"/>
<text x="209.2" y="493.1" font-size="6.6" text-anchor="start" fill="#111" stroke="#111" stroke-width="0.2">BS4</text>
<line x1="185.8" y1="498.2" x2="205" y2="498.2" stroke="#10f010" stroke-width="1.6"/>
<text x="209.2" y="500.6" font-size="6.6" text-anchor="start" fill="#111" stroke="#111" stroke-width="0.2">BS5</text>
</g>
<g id="plot-d">
<clipPath id="cp0"><rect x="304.4" y="83.1" width="180.1" height="43.8"/></clipPath>
<path d="M305.4,125.4h.01M308.2,125.5h.01M311.3,125.5h.01M314.5,125.4h.01M317.7,125.5h.01M320.7,125.3h.01M323.8,125.5h.01M327.3,125.1h.01M330.4,125.4h.01M333.5,125.4h.01M337,125.2h.01M340.1,125.2h.01M343.3,125.4h.01M346.4,125.3h.01M349.6,125.5h.01M352.9,125.5h.01M356,125.3h.01M359,125.3h.01M362.1,125.5h.01M365.2,125.5h.01M368.3,125.5h.01M371.5,125.1h.01M374.6,125.4h.01M377.8,125.5h.01M380.9,125.5h.01M384.1,125.5h.01M387.3,125.1h.01M390.4,125.4h.01M393.5,125.5h.01M396.7,125.3h.01M400.1,125.2h.01M403.3,125.5h.01M406.4,125.4h.01M409.6,125.4h.01M413,125.2h.01M416,125.1h.01M419.5,125.5h.01M422.7,125.3h.01M425.7,125.1h.01M428.7,125.5h.01M432,125.1h.01M435.1,125.5h.01M438.2,125.2h.01M441.5,125.5h.01M444.9,125.4h.01M448.1,125.5h.01M451.2,125.2h.01M454.3,125.3h.01M457.6,125.5h.01M460.6,125.5h.01M463.7,125.5h.01M466.8,125.5h.01M470.2,125.4h.01M473.3,125.2h.01M476.4,125.3h.01M480.1,125.4h.01M483.5,125.2h.01M306.7,121.7h.01M309.7,122.6h.01M312.8,122.7h.01M316.2,122.7h.01M319.2,122.5h.01M322.2,122.4h.01M325.3,122.8h.01M328.9,122.4h.01M332,122.6h.01M335.2,122.8h.01M338.3,122.4h.01M341.8,122.6h.01M344.9,122.6h.01M348.1,122.6h.01M351.2,122.8h.01M354.3,122.7h.01M357.6,122.4h.01M360.8,122.7h.01M364,122.5h.01M367.4,122.5h.01M370.4,122.1h.01M373.5,122.5h.01M376.6,122.5h.01M379.7,122.2h.01M382.7,122.7h.01M386.2,122.3h.01M389.4,122.6h.01M392.5,122.6h.01M395.5,122.2h.01M398.5,122.5h.01M401.9,122.7h.01M405,122.5h.01M408.4,122.5h.01M411.4,122.5h.01M414.5,122.5h.01M417.8,122.8h.01M421.1,122.8h.01M424.1,122.4h.01M427.4,122.5h.01M430.4,122.6h.01M433.7,122.6h.01M436.6,122.6h.01M440.1,122.6h.01M443.2,122.8h.01M446.5,122.8h.01M449.6,122.6h.01M452.7,122.5h.01M456.1,122.8h.01M459.2,122.5h.01M462.3,122.7h.01M465.3,122.5h.01M468.4,122.8h.01M471.4,122.6h.01M474.4,122.4h.01M478.4,122.9h.01M481.7,122.7h.01M305.4,118.6h.01M308.4,119.1h.01M311.4,119.9h.01M314.5,120.1h.01M317.7,119.7h.01M320.7,119.3h.01M323.7,119.6h.01M326.5,120h.01M334.2,120h.01M337.2,119.4h.01M340.2,119.9h.01M346.4,119.8h.01M349.4,119.2h.01M352.3,119.8h.01M355.3,119.8h.01M360,119.6h.01M363,119.5h.01M365.9,119.8h.01M368.8,119.4h.01M371.8,119.4h.01M374.8,119.6h.01M377.8,119.6h.01M380.7,118.7h.01M384.2,119.9h.01M388.1,120h.01M391.2,119.7h.01M394.3,119.2h.01M397.3,119.6h.01M400.8,119.8h.01M403.9,119.5h.01M406.9,119.8h.01M410,119.8h.01M413.1,119.9h.01M416.3,120.1h.01M419.3,120.3h.01M422.9,119.7h.01M425.9,119.7h.01M429.1,119.8h.01M432.1,119.8h.01M435.2,119.5h.01M438.3,120h.01M442.4,119.7h.01M445.5,119.8h.01M448.8,119.5h.01M451.8,119.1h.01M454.7,120.1h.01M457.7,119.7h.01M460.8,119.8h.01M464.8,119.3h.01M467.8,119.8h.01M470.9,119.5h.01M473.9,119.1h.01M476.7,120.4h.01M480.7,119.8h.01M483.6,119.9h.01M313.1,117.3h.01M316.1,117h.01M319.2,116.5h.01M357.6,117.8h.01M360.8,116.5h.01M366.9,116.8h.01M370,116.4h.01M373.1,116.5h.01M376.1,116.8h.01M383.3,117h.01M386.3,117.6h.01M389.5,117.2h.01M392.4,116.7h.01M396.2,116.7h.01M399.2,117.1h.01M402.2,116.9h.01M408.4,117.1h.01M411.7,117.1h.01M414.7,117.3h.01M417.7,117.2h.01M420.4,117.7h.01M423,116.6h.01M427.6,117h.01M430.7,117.1h.01M433.6,116h.01M436.7,116.7h.01M440,117.5h.01M482.3,117.2h.01M388.3,114.5h.01M422.6,92.8h.01M323.3,92.5h.01M326.3,92.9h.01M334.9,92.5h.01M337.9,92h.01M341.3,92.5h.01M374.2,92.5h.01M377.1,93.6h.01M379.7,92.2h.01M382.5,93.1h.01M386.6,92.7h.01M389.6,92.2h.01M392.6,92.3h.01M396.9,92.8h.01M400.3,92.3h.01M403.5,92.4h.01M406.4,93.4h.01M409.2,92.5h.01M416.3,92.8h.01M420.3,91h.01M419.9,93.9h.01M425.7,92.2h.01M431.2,92.9h.01M434.2,93h.01M437.3,93.1h.01M457.3,92.5h.01M474.4,91.7h.01M477.8,91.7h.01M305.4,89.3h.01M307.9,90.4h.01M311,89.7h.01M314.5,89.5h.01M317.7,89.7h.01M320.8,89.5h.01M324.2,89.5h.01M327.3,89.9h.01M330.3,89.6h.01M333.4,89.7h.01M336.4,89.3h.01M339.9,89.6h.01M343,89.9h.01M346.1,89.8h.01M349.1,89.7h.01M352.2,89.3h.01M355.9,89.6h.01M359,89.9h.01M362.3,89.4h.01M365.3,90.1h.01M368.4,89.7h.01M371.5,89.8h.01M374.6,89.4h.01M377.5,90h.01M380.9,89.3h.01M383.8,90.3h.01M386.9,89.6h.01M390.3,89.3h.01M393.3,89.3h.01M396.3,89.7h.01M399.4,89.5h.01M402.4,89.6h.01M405.8,90h.01M409,89.5h.01M412,89.7h.01M414.9,89.6h.01M417.6,90h.01M422.5,89.6h.01M425.4,88.9h.01M428,90.2h.01M431.1,89.8h.01M434.2,89.8h.01M437.2,89.8h.01M440.2,90.3h.01M443.4,90.2h.01M446.4,89.6h.01M449.5,89.8h.01M452.5,89.9h.01M456.5,89.7h.01M459.6,89.7h.01M462.7,89.7h.01M466,89.6h.01M469,89.7h.01M471.7,90.6h.01M476.1,89.2h.01M480,89.7h.01M482.9,90.5h.01M306.7,86.7h.01M309.7,86.9h.01M312.9,86.9h.01M316.2,86.9h.01M319.2,86.9h.01M322.4,86.8h.01M325.4,86.6h.01M328.5,87h.01M331.8,86.8h.01M334.8,86.6h.01M338.2,86.7h.01M341.3,86.8h.01M344.4,87.1h.01M347.4,86.9h.01M350.5,86.7h.01M354.2,87h.01M357.3,86.8h.01M360.3,87h.01M363.9,86.7h.01M366.9,86.7h.01M370,87h.01M373,86.9h.01M376.4,86.9h.01M379.4,86.6h.01M382.5,86.7h.01M385.5,86.8h.01M388.6,86.9h.01M392,86.6h.01M395.1,86.8h.01M398.1,86.7h.01M401.3,86.8h.01M404.4,87.2h.01M407.4,87h.01M410.7,86.9h.01M413.8,86.8h.01M417,86.9h.01M420,87.3h.01M423.1,86.7h.01M427.5,86.9h.01M430.5,86.7h.01M433.5,86.8h.01M436.6,86.8h.01M439.7,87.1h.01M442.8,87.1h.01M445.9,86.6h.01M449.2,86.7h.01M452.3,86.8h.01M455.3,86.7h.01M458.3,86.9h.01M461.4,86.8h.01M464.4,87h.01M468,86.7h.01M471,87.1h.01M474.1,86.8h.01M477.8,86.8h.01M480.9,86.8h.01M483.6,87.1h.01M305.4,84.2h.01M308.2,83.9h.01M311.2,84.2h.01M314.3,83.9h.01M317.4,84h.01M320.5,84h.01M323.7,84h.01M327,84h.01M330.1,84.2h.01M333.1,84h.01M336.5,83.9h.01M339.8,84.1h.01M342.8,83.9h.01M345.9,84h.01M348.9,83.9h.01M352.4,84.1h.01M355.6,84.2h.01M358.8,83.9h.01M361.9,84.3h.01M365.4,84h.01M368.4,83.9h.01M371.5,84.2h.01M374.7,84.2h.01M377.7,84h.01M381.1,83.9h.01M384.1,83.9h.01M387.1,84.2h.01M390.2,84.1h.01M393.8,83.9h.01M396.9,83.9h.01M399.9,84.1h.01M403.5,84.2h.01M406.7,84h.01M409.8,84h.01M412.9,83.9h.01M416,83.9h.01M419.6,84h.01M422.7,83.9h.01M425.8,84.4h.01M428.8,83.9h.01M431.9,83.9h.01M435,84.1h.01M438.4,84.2h.01M441.5,84.3h.01M444.5,83.9h.01M447.6,84.1h.01M450.9,84h.01M453.9,83.9h.01M457,84.1h.01M460.1,83.9h.01M463.5,84h.01M466.6,83.9h.01M469.7,84h.01M472.8,84.1h.01M475.9,84.2h.01M479.4,84.2h.01M482.5,84.1h.01" fill="none" stroke="#002020" stroke-width="6.4" stroke-linecap="round" clip-path="url(#cp0)"/>
<path d="M329.2,119.1h.01M343.3,119.6h.01M307.3,116.1h.01M310.3,116h.01M322.4,116.4h.01M325.4,117h.01M328.4,116.1h.01M331.9,118.3h.01M333.3,115.6h.01M338.3,116.4h.01M341.4,117.1h.01M344.7,116.7h.01M348,116.5h.01M351.5,116.3h.01M354.5,116.7h.01M364,116h.01M378.9,115.9h.01M405.4,116.5h.01M442.9,116.6h.01M446.9,117h.01M449.9,116.6h.01M453,116.1h.01M455.8,117.2h.01M458.5,115.9h.01M461.9,116.8h.01M465.9,116.4h.01M468.9,116.8h.01M472,116.6h.01M475.7,116.5h.01M478.4,117.9h.01M305.4,114h.01M308,113h.01M311,112.9h.01M313.7,114.2h.01M317.3,114h.01M320.3,112.8h.01M325,113.8h.01M335.9,114.5h.01M340.5,114.2h.01M343.4,113.7h.01M349.4,113.7h.01M353.3,113.7h.01M356.4,114.1h.01M359.3,113.7h.01M362.4,113.5h.01M365.8,113.3h.01M368.8,113.4h.01M371.9,113.7h.01M376,113.7h.01M379,112.7h.01M381.6,114.5h.01M385.4,114.8h.01M391.3,113.6h.01M394.3,114.2h.01M397.3,113.5h.01M400.2,114.1h.01M403.2,114h.01M409.1,114h.01M412.1,114h.01M415,114.3h.01M418,114.3h.01M420.9,113.8h.01M423.8,114h.01M426.9,114.1h.01M429.9,114h.01M432.8,112.9h.01M435.8,113.3h.01M439.6,114.4h.01M442.2,112.9h.01M445,114.4h.01M448.1,114.1h.01M451.7,113.4h.01M455.2,114h.01M458,112.8h.01M463.8,114.2h.01M467.7,113.8h.01M470.7,113.8h.01M473.7,114.2h.01M479.8,115.3h.01M482.5,114h.01M305.8,110.9h.01M315.6,111.4h.01M334.7,111.6h.01M357.7,111.1h.01M360.8,110.9h.01M363.9,110.7h.01M370.5,110.7h.01M373.8,111.3h.01M376.7,110.5h.01M384.7,111.8h.01M386.1,109.3h.01M388.2,111.4h.01M393.4,111.3h.01M397.3,110.1h.01M403.9,111h.01M406.1,113.4h.01M414.3,111.2h.01M417.4,111.3h.01M420.4,110.6h.01M425.1,111.4h.01M428,111.2h.01M430.8,110.6h.01M438.4,111.7h.01M481.4,111h.01M400.9,110.3h.01M320.5,98.5h.01M323.4,98.4h.01M326.4,98.1h.01M335.6,98.5h.01M339.5,98.3h.01M342.2,99.6h.01M364.4,98.8h.01M373.6,98.5h.01M377,97.7h.01M380,98.8h.01M383,99h.01M386.1,98.9h.01M389,98.2h.01M393.2,98h.01M398.8,98.3h.01M401.9,98.2h.01M404.8,99.1h.01M408.7,99.7h.01M412.8,97.2h.01M418.2,99.5h.01M421.1,98.9h.01M424,98.7h.01M434.8,98.6h.01M440.1,98.2h.01M459.6,98.3h.01M474.3,97.4h.01M483.6,96.8h.01M307.3,94.4h.01M314,95h.01M317,95.3h.01M320,95.6h.01M324.5,95.5h.01M328.2,95.5h.01M331.5,96.6h.01M334.4,95.6h.01M337.4,95.1h.01M340.4,95.4h.01M343.4,95.3h.01M346.8,95.7h.01M349.9,95.8h.01M352.9,95.4h.01M356.2,95.4h.01M359.2,96.3h.01M362,95.3h.01M365.6,95.8h.01M368.7,95.8h.01M371.8,95.7h.01M374.8,95.6h.01M379.4,95.7h.01M383.3,96h.01M386.3,95.8h.01M389.3,95.2h.01M393.8,95h.01M396.4,96.4h.01M399,95.2h.01M402,95.1h.01M404.8,96h.01M408.4,96.6h.01M411,94.9h.01M415.4,95.8h.01M418.4,96.5h.01M422.2,95.9h.01M426.6,96.3h.01M430,96.4h.01M433.1,95.9h.01M436.9,96.3h.01M439.7,95.1h.01M442.7,95.9h.01M445.7,96.3h.01M448.7,96.4h.01M452.3,95.9h.01M455.3,95.3h.01M458.8,95.4h.01M461.8,95.5h.01M467.8,95.5h.01M470.7,96.1h.01M473.1,94.4h.01M477.3,96.7h.01M480.6,96.6h.01M305.4,92.3h.01M309.9,92.8h.01M312.8,92.1h.01M315.9,92.3h.01M320.3,92.5h.01M329.3,92.5h.01M332.1,93.5h.01M345.3,92.9h.01M348.3,92.9h.01M351.3,92.4h.01M354.4,92.6h.01M358.1,93h.01M361.1,92.2h.01M364.1,93h.01M367.2,93h.01M370.3,93h.01M413.2,92.7h.01M428.2,93.7h.01M441.8,92.9h.01M444.8,93.2h.01M447.7,92.4h.01M450.5,93.5h.01M454.4,92.4h.01M460.5,92.7h.01M463.4,92.7h.01M466.5,92.7h.01M469.6,92.8h.01M476,94.1h.01M481.7,93.6h.01" fill="none" stroke="#001a1a" stroke-width="3.7" stroke-linecap="round"/>
<g class="p">
<circle cx="373.8" cy="111.3"/><circle cx="352.4" cy="84.1"/><circle cx="314.5" cy="125.4"/><circle cx="329.3" cy="92.5"/><circle cx="306.7" cy="121.7"/><circle cx="406.7" cy="84"/><circle cx="456.1" cy="122.8"/><circle cx="340.1" cy="125.2"/><circle cx="370" cy="87"/><circle cx="320.3" cy="112.8"/><circle cx="320" cy="95.6"/><circle cx="365.4" cy="84"/><circle cx="403.5" cy="92.4"/><circle cx="461.8" cy="95.5"/><circle cx="470.3" cy="101.5"/><circle cx="319.2" cy="86.9"/><circle cx="322.4" cy="116.4"/><circle cx="320.5" cy="98.5"/><circle cx="311" cy="89.7"/><circle cx="320.8" cy="89.5"/><circle cx="380" cy="98.8"/><circle cx="417.4" cy="111.3"/><circle cx="308" cy="113"/><circle cx="371.5" cy="125.1"/><circle cx="379.4" cy="86.6"/><circle cx="445.9" cy="86.6"/><circle cx="327" cy="84"/><circle cx="479.4" cy="84.2"/><circle cx="444.8" cy="93.2"/><circle cx="417.6" cy="90"/><circle cx="428" cy="111.2"/><circle cx="391.2" cy="119.7"/><circle cx="391.3" cy="113.6"/><circle cx="457.3" cy="92.5"/><circle cx="468.9" cy="116.8"/><circle cx="434.2" cy="93"/><circle cx="390.2" cy="84.1"/><circle cx="416" cy="125.1"/><circle cx="452.5" cy="89.9"/><circle cx="400.2" cy="114.1"/><circle cx="403.2" cy="114"/><circle cx="470.7" cy="113.8"/><circle cx="427.6" cy="117"/><circle cx="458.8" cy="95.4"/><circle cx="314.3" cy="83.9"/><circle cx="306.7" cy="86.7"/><circle cx="463.4" cy="92.7"/><circle cx="413" cy="125.2"/><circle cx="333.1" cy="84"/><circle cx="440.2" cy="90.3"/><circle cx="364" cy="116"/><circle cx="352.2" cy="89.3"/><circle cx="365.3" cy="90.1"/><circle cx="472" cy="116.6"/><circle cx="416.3" cy="120.1"/><circle cx="368.3" cy="125.5"/><circle cx="340.5" cy="114.2"/><circle cx="420.9" cy="113.8"/><circle cx="344.9" cy="122.6"/><circle cx="313.7" cy="114.2"/><circle cx="429.1" cy="119.8"/><circle cx="428.8" cy="83.9"/><circle cx="476.7" cy="120.4"/><circle cx="481.7" cy="122.7"/><circle cx="451.2" cy="125.2"/><circle cx="474.3" cy="97.4"/><circle cx="305.8" cy="110.9"/><circle cx="467.7" cy="113.8"/><circle cx="359" cy="125.3"/><circle cx="416.3" cy="92.8"/><circle cx="335.9" cy="114.5"/><circle cx="380.9" cy="125.5"/><circle cx="448.7" cy="96.4"/><circle cx="441.5" cy="125.5"/><circle cx="462.3" cy="122.7"/><circle cx="343.4" cy="95.3"/><circle cx="346.4" cy="119.8"/><circle cx="393.2" cy="98"/><circle cx="461.9" cy="116.8"/><circle cx="374.7" cy="84.2"/><circle cx="332.1" cy="93.5"/><circle cx="374.8" cy="119.6"/><circle cx="458.3" cy="86.9"/><circle cx="380.9" cy="89.3"/><circle cx="307.9" cy="90.4"/><circle cx="369.9" cy="101.1"/><circle cx="411.7" cy="117.1"/><circle cx="476.4" cy="125.3"/><circle cx="482.3" cy="117.2"/><circle cx="400.1" cy="125.2"/><circle cx="360.8" cy="116.5"/><circle cx="351.2" cy="122.8"/><circle cx="377.7" cy="84"/><circle cx="374.8" cy="95.6"/><circle cx="321.9" cy="101.1"/><circle cx="331.5" cy="96.6"/><circle cx="388.2" cy="111.4"/><circle cx="460.6" cy="125.5"/><circle cx="343.3" cy="125.4"/><circle cx="424.1" cy="122.4"/><circle cx="466.5" cy="92.7"/><circle cx="442.8" cy="87.1"/><circle cx="371.8" cy="119.4"/><circle cx="438.4" cy="84.2"/><circle cx="365.8" cy="113.3"/><circle cx="462.7" cy="89.7"/><circle cx="440.1" cy="98.2"/><circle cx="361.9" cy="84.3"/><circle cx="416" cy="83.9"/><circle cx="425.8" cy="84.4"/><circle cx="373.6" cy="98.5"/><circle cx="397.3" cy="113.5"/><circle cx="432" cy="125.1"/><circle cx="338.3" cy="116.4"/><circle cx="404.8" cy="99.1"/><circle cx="449.2" cy="86.7"/><circle cx="453.9" cy="83.9"/><circle cx="436.6" cy="86.8"/><circle cx="308.2" cy="125.5"/><circle cx="325.3" cy="122.8"/><circle cx="338.2" cy="86.7"/><circle cx="312.8" cy="92.1"/><circle cx="432.3" cy="105.3"/><circle cx="343" cy="89.9"/><circle cx="466.6" cy="83.9"/><circle cx="440.1" cy="122.6"/><circle cx="362.4" cy="113.5"/><circle cx="349.4" cy="119.2"/><circle cx="407.4" cy="87"/><circle cx="337.2" cy="119.4"/><circle cx="431.1" cy="89.8"/><circle cx="417" cy="86.9"/><circle cx="482.9" cy="90.5"/><circle cx="418.4" cy="96.5"/><circle cx="305.4" cy="114"/><circle cx="435.2" cy="119.5"/><circle cx="366.9" cy="86.7"/><circle cx="324.5" cy="95.5"/><circle cx="434.2" cy="89.8"/><circle cx="316.2" cy="86.9"/><circle cx="379.7" cy="92.2"/><circle cx="316.1" cy="117"/><circle cx="354.5" cy="116.7"/><circle cx="352.9" cy="125.5"/><circle cx="328.5" cy="87"/><circle cx="367.4" cy="122.5"/><circle cx="341.4" cy="117.1"/><circle cx="459.6" cy="89.7"/><circle cx="392.4" cy="116.7"/><circle cx="340.4" cy="95.4"/><circle cx="346.3" cy="102.5"/><circle cx="447.7" cy="92.4"/><circle cx="357.7" cy="111.1"/><circle cx="431.9" cy="83.9"/><circle cx="311.4" cy="119.9"/><circle cx="418.2" cy="99.5"/><circle cx="348.1" cy="122.6"/><circle cx="341.3" cy="86.8"/><circle cx="354.2" cy="87"/><circle cx="337" cy="125.2"/><circle cx="428" cy="90.2"/><circle cx="466.7" cy="105.7"/><circle cx="370.3" cy="93"/><circle cx="346.1" cy="89.8"/><circle cx="425.9" cy="119.7"/><circle cx="358.8" cy="83.9"/><circle cx="409.6" cy="125.4"/><circle cx="356.4" cy="114.1"/><circle cx="421.1" cy="122.8"/><circle cx="339.8" cy="84.1"/><circle cx="325.4" cy="86.6"/><circle cx="381.6" cy="109.9"/><circle cx="392" cy="86.6"/><circle cx="342.8" cy="83.9"/><circle cx="363" cy="119.5"/><circle cx="332" cy="122.6"/><circle cx="379.4" cy="95.7"/><circle cx="436.9" cy="96.3"/><circle cx="354.4" cy="92.6"/><circle cx="387.1" cy="84.2"/><circle cx="397.3" cy="119.6"/><circle cx="380.7" cy="118.7"/><circle cx="422.7" cy="125.3"/><circle cx="464.4" cy="87"/><circle cx="422.6" cy="92.8"/><circle cx="315.9" cy="92.3"/><circle cx="337.4" cy="95.1"/><circle cx="360" cy="119.6"/><circle cx="357.6" cy="122.4"/><circle cx="408.7" cy="99.7"/><circle cx="418" cy="114.3"/><circle cx="433.5" cy="86.8"/><circle cx="425.7" cy="125.1"/><circle cx="449.9" cy="116.6"/><circle cx="454.4" cy="92.4"/><circle cx="328.4" cy="116.1"/><circle cx="365.2" cy="125.5"/><circle cx="448.1" cy="114.1"/><circle cx="317" cy="95.3"/><circle cx="470.9" cy="119.5"/><circle cx="454.7" cy="120.1"/><circle cx="476" cy="94.1"/><circle cx="357.3" cy="86.8"/><circle cx="316.2" cy="122.7"/><circle cx="479.8" cy="115.3"/><circle cx="386.2" cy="122.3"/><circle cx="421.1" cy="98.9"/><circle cx="480.1" cy="125.4"/><circle cx="412.1" cy="114"/><circle cx="362.1" cy="125.5"/><circle cx="409.1" cy="114"/><circle cx="363.9" cy="110.7"/><circle cx="413.2" cy="92.7"/><circle cx="396.4" cy="96.4"/><circle cx="446.5" cy="122.8"/><circle cx="402.4" cy="89.6"/><circle cx="308.2" cy="83.9"/><circle cx="381.6" cy="114.5"/><circle cx="388.3" cy="114.5"/><circle cx="390.3" cy="89.3"/><circle cx="426.6" cy="96.3"/><circle cx="458.5" cy="115.9"/><circle cx="467.8" cy="95.5"/><circle cx="420.3" cy="91"/><circle cx="477.8" cy="91.7"/><circle cx="381.1" cy="83.9"/><circle cx="466.8" cy="125.5"/><circle cx="364.1" cy="93"/><circle cx="399" cy="95.2"/><circle cx="386.3" cy="95.8"/><circle cx="466" cy="89.6"/><circle cx="387.3" cy="125.1"/><circle cx="420.4" cy="110.6"/><circle cx="377" cy="97.7"/><circle cx="483.5" cy="125.2"/><circle cx="389.3" cy="95.2"/><circle cx="310.3" cy="116"/><circle cx="317.4" cy="84"/><circle cx="352.3" cy="119.8"/><circle cx="473.7" cy="114.2"/><circle cx="469.7" cy="84"/><circle cx="353.3" cy="113.7"/><circle cx="312.8" cy="122.7"/><circle cx="389.6" cy="92.2"/><circle cx="444.5" cy="83.9"/><circle cx="459.6" cy="98.3"/><circle cx="385.4" cy="114.8"/><circle cx="309.9" cy="92.8"/><circle cx="463.8" cy="114.2"/><circle cx="478.4" cy="117.9"/><circle cx="452.7" cy="122.5"/><circle cx="349.9" cy="95.8"/><circle cx="470.7" cy="96.1"/><circle cx="355.4" cy="110.4"/><circle cx="413.1" cy="119.9"/><circle cx="469" cy="89.7"/><circle cx="433.6" cy="116"/><circle cx="438.2" cy="125.2"/><circle cx="456.5" cy="89.7"/><circle cx="419.5" cy="125.5"/><circle cx="343.3" cy="119.6"/><circle cx="455.3" cy="86.7"/><circle cx="475.9" cy="84.2"/><circle cx="347.4" cy="86.9"/><circle cx="376.7" cy="110.5"/><circle cx="416" cy="109.5"/><circle cx="482.5" cy="114"/><circle cx="446.9" cy="117"/><circle cx="422.5" cy="89.6"/><circle cx="333.3" cy="115.6"/><circle cx="474.1" cy="86.8"/><circle cx="359.2" cy="96.3"/><circle cx="441.8" cy="92.9"/><circle cx="383.3" cy="96"/><circle cx="339.9" cy="89.6"/><circle cx="355.9" cy="89.6"/><circle cx="349.6" cy="125.5"/><circle cx="326.4" cy="98.1"/><circle cx="454.3" cy="125.3"/><circle cx="425.1" cy="108.5"/><circle cx="376.4" cy="86.9"/><circle cx="448.1" cy="125.5"/><circle cx="386.9" cy="89.6"/><circle cx="314.5" cy="89.5"/><circle cx="371.9" cy="113.7"/><circle cx="442.7" cy="95.9"/><circle cx="323.7" cy="119.6"/><circle cx="395.5" cy="122.2"/><circle cx="323.4" cy="98.4"/><circle cx="445.5" cy="119.8"/><circle cx="468.4" cy="122.8"/><circle cx="371.5" cy="84.2"/><circle cx="478.4" cy="122.9"/><circle cx="480.7" cy="119.8"/><circle cx="323.7" cy="84"/><circle cx="430.5" cy="86.7"/><circle cx="389.4" cy="122.6"/><circle cx="382.7" cy="122.7"/><circle cx="338.3" cy="122.4"/><circle cx="331.9" cy="109"/><circle cx="406.4" cy="93.4"/><circle cx="444.9" cy="125.4"/><circle cx="428.2" cy="93.7"/><circle cx="345.3" cy="92.9"/><circle cx="422.9" cy="119.7"/><circle cx="329.2" cy="119.1"/><circle cx="455.2" cy="114"/><circle cx="325" cy="113.8"/><circle cx="367.2" cy="93"/><circle cx="327.3" cy="89.9"/><circle cx="346.8" cy="95.7"/><circle cx="413.8" cy="86.8"/><circle cx="362.3" cy="89.4"/><circle cx="438.4" cy="111.7"/><circle cx="450.9" cy="84"/><circle cx="368.4" cy="89.7"/><circle cx="382.5" cy="93.1"/><circle cx="342.2" cy="99.6"/><circle cx="425.7" cy="92.2"/><circle cx="370.4" cy="122.1"/><circle cx="386.3" cy="117.6"/><circle cx="473.1" cy="94.4"/><circle cx="422.2" cy="95.9"/><circle cx="371.5" cy="89.8"/><circle cx="450.5" cy="93.5"/><circle cx="312.9" cy="86.9"/><circle cx="395.1" cy="86.8"/><circle cx="376.1" cy="116.8"/><circle cx="435.8" cy="113.3"/><circle cx="409.2" cy="92.5"/><circle cx="353.6" cy="101.1"/><circle cx="422.7" cy="83.9"/><circle cx="389.5" cy="117.2"/><circle cx="349.1" cy="89.7"/><circle cx="335.2" cy="122.8"/><circle cx="472.8" cy="84.1"/><circle cx="414.7" cy="117.3"/><circle cx="368.8" cy="113.4"/><circle cx="417.7" cy="117.2"/><circle cx="443.2" cy="122.8"/><circle cx="337.9" cy="92"/><circle cx="452.3" cy="86.8"/><circle cx="404.4" cy="87.2"/><circle cx="327.3" cy="125.1"/><circle cx="382.5" cy="86.7"/><circle cx="360.8" cy="122.7"/><circle cx="440" cy="117.5"/><circle cx="311" cy="112.9"/><circle cx="480.6" cy="96.6"/><circle cx="468" cy="86.7"/><circle cx="464.8" cy="119.3"/><circle cx="403.9" cy="119.5"/><circle cx="364.4" cy="98.8"/><circle cx="334.4" cy="95.6"/><circle cx="346.4" cy="125.3"/><circle cx="330.1" cy="84.2"/><circle cx="322.2" cy="122.4"/><circle cx="402.2" cy="116.9"/><circle cx="394.3" cy="114.2"/><circle cx="363.9" cy="86.7"/><circle cx="311.3" cy="125.5"/><circle cx="469.6" cy="92.8"/><circle cx="393.4" cy="111.3"/><circle cx="460.8" cy="119.8"/><circle cx="460.5" cy="92.7"/><circle cx="412.9" cy="83.9"/><circle cx="343.4" cy="113.7"/><circle cx="423" cy="116.6"/><circle cx="402" cy="95.1"/><circle cx="406.4" cy="125.4"/><circle cx="308.4" cy="119.1"/><circle cx="415" cy="114.3"/><circle cx="331.8" cy="86.8"/><circle cx="319.2" cy="122.5"/><circle cx="345.9" cy="84"/><circle cx="396.9" cy="83.9"/><circle cx="401.9" cy="98.2"/><circle cx="482.5" cy="84.1"/><circle cx="348" cy="116.5"/><circle cx="348.3" cy="92.9"/><circle cx="328.9" cy="122.4"/><circle cx="334.8" cy="86.6"/><circle cx="403.3" cy="125.5"/><circle cx="429.6" cy="106.7"/><circle cx="326.5" cy="120"/><circle cx="383.8" cy="90.3"/><circle cx="359.3" cy="113.7"/><circle cx="340.2" cy="119.9"/><circle cx="389" cy="98.2"/><circle cx="384.7" cy="111.8"/><circle cx="471.7" cy="90.6"/><circle cx="373" cy="86.9"/><circle cx="356.2" cy="95.4"/><circle cx="354.3" cy="122.7"/><circle cx="374.6" cy="89.4"/><circle cx="333.5" cy="125.4"/><circle cx="314" cy="95"/><circle cx="455.3" cy="95.3"/><circle cx="442.4" cy="119.7"/><circle cx="383.3" cy="117"/><circle cx="406.1" cy="113.4"/><circle cx="483.6" cy="96.8"/><circle cx="446.4" cy="89.6"/><circle cx="322.4" cy="86.8"/><circle cx="419.6" cy="84"/><circle cx="377.1" cy="93.6"/><circle cx="386.1" cy="109.3"/><circle cx="452.3" cy="95.9"/><circle cx="434.8" cy="98.6"/><circle cx="341.3" cy="92.5"/><circle cx="351.3" cy="92.4"/><circle cx="437.2" cy="89.8"/><circle cx="403.5" cy="84.2"/><circle cx="363.5" cy="108.5"/><circle cx="334.2" cy="120"/><circle cx="400.9" cy="110.3"/><circle cx="443.4" cy="90.2"/><circle cx="333.4" cy="89.7"/><circle cx="313.1" cy="117.3"/><circle cx="396.9" cy="92.8"/><circle cx="393.3" cy="89.3"/><circle cx="447.6" cy="84.1"/><circle cx="368.7" cy="95.8"/><circle cx="463.5" cy="84"/><circle cx="311.2" cy="84.2"/><circle cx="423.8" cy="114"/><circle cx="439.6" cy="114.4"/><circle cx="364" cy="122.5"/><circle cx="368.4" cy="83.9"/><circle cx="385.5" cy="86.8"/><circle cx="384.1" cy="83.9"/><circle cx="408.4" cy="122.5"/><circle cx="305.4" cy="84.2"/><circle cx="458" cy="112.8"/><circle cx="360.3" cy="87"/><circle cx="433.1" cy="95.9"/><circle cx="417.8" cy="122.8"/><circle cx="320.7" cy="125.3"/><circle cx="358.1" cy="93"/><circle cx="406.9" cy="119.8"/><circle cx="441.5" cy="84.3"/><circle cx="430.8" cy="110.6"/><circle cx="453" cy="116.1"/><circle cx="436.7" cy="116.7"/><circle cx="348.9" cy="83.9"/><circle cx="465.9" cy="116.4"/><circle cx="393.8" cy="95"/><circle cx="409" cy="89.5"/><circle cx="439.7" cy="95.1"/><circle cx="461.4" cy="86.8"/><circle cx="464.9" cy="102"/><circle cx="370.5" cy="110.7"/><circle cx="401.9" cy="122.7"/><circle cx="376" cy="113.7"/><circle cx="414.9" cy="89.6"/><circle cx="420" cy="87.3"/><circle cx="477.8" cy="86.8"/><circle cx="457.6" cy="125.5"/><circle cx="314.5" cy="120.1"/><circle cx="423.1" cy="86.7"/><circle cx="317.7" cy="89.7"/><circle cx="405" cy="122.5"/><circle cx="307.3" cy="94.4"/><circle cx="383" cy="99"/><circle cx="330.3" cy="89.6"/><circle cx="442.3" cy="100.6"/><circle cx="350.5" cy="86.7"/><circle cx="398.1" cy="86.7"/><circle cx="467.8" cy="119.8"/><circle cx="455.8" cy="117.2"/><circle cx="379" cy="112.7"/><circle cx="373.1" cy="116.5"/><circle cx="424" cy="98.7"/><circle cx="323.8" cy="125.5"/><circle cx="360.8" cy="110.9"/><circle cx="352.9" cy="95.4"/><circle cx="430" cy="96.4"/><circle cx="349.4" cy="113.7"/><circle cx="330.4" cy="125.4"/><circle cx="307.3" cy="116.1"/><circle cx="397.3" cy="110.1"/><circle cx="399.4" cy="89.5"/><circle cx="336.5" cy="83.9"/><circle cx="400.3" cy="92.3"/><circle cx="481.7" cy="93.6"/><circle cx="374.2" cy="92.5"/><circle cx="411.4" cy="122.5"/><circle cx="355.3" cy="119.8"/><circle cx="320.3" cy="92.5"/><circle cx="429.9" cy="114"/><circle cx="412.8" cy="97.2"/><circle cx="357.6" cy="117.8"/><circle cx="370" cy="116.4"/><circle cx="325.4" cy="117"/><circle cx="392.6" cy="92.3"/><circle cx="483.6" cy="87.1"/><circle cx="351.5" cy="116.3"/><circle cx="404.8" cy="96"/><circle cx="470.2" cy="125.4"/><circle cx="433.7" cy="122.6"/><circle cx="309.7" cy="122.6"/><circle cx="393.8" cy="83.9"/><circle cx="319.2" cy="116.5"/><circle cx="410.7" cy="86.9"/><circle cx="398.8" cy="98.3"/><circle cx="414.5" cy="122.5"/><circle cx="428.7" cy="125.5"/><circle cx="463.7" cy="125.5"/><circle cx="471.4" cy="122.6"/><circle cx="408.4" cy="96.6"/><circle cx="366.9" cy="116.8"/><circle cx="405.4" cy="116.5"/><circle cx="390.4" cy="125.4"/><circle cx="373.5" cy="122.5"/><circle cx="305.4" cy="118.6"/><circle cx="317.7" cy="119.7"/><circle cx="400.8" cy="119.8"/><circle cx="457.7" cy="119.7"/><circle cx="480" cy="89.7"/><circle cx="379.7" cy="122.2"/><circle cx="388.6" cy="86.9"/><circle cx="474.4" cy="91.7"/><circle cx="442.9" cy="116.6"/><circle cx="359" cy="89.9"/><circle cx="341.8" cy="122.6"/><circle cx="356" cy="125.3"/><circle cx="315.6" cy="111.4"/><circle cx="445" cy="114.4"/><circle cx="396.2" cy="116.7"/><circle cx="480.9" cy="86.8"/><circle cx="451.8" cy="119.1"/><circle cx="384.1" cy="125.5"/><circle cx="384.2" cy="119.9"/><circle cx="479.4" cy="105.3"/><circle cx="483.6" cy="119.9"/><circle cx="451.7" cy="113.4"/><circle cx="386.6" cy="92.7"/><circle cx="457" cy="84.1"/><circle cx="452.2" cy="102.5"/><circle cx="377.8" cy="125.5"/><circle cx="426.9" cy="114.1"/><circle cx="448.8" cy="119.5"/><circle cx="459.2" cy="122.5"/><circle cx="396.7" cy="125.3"/><circle cx="305.4" cy="125.4"/><circle cx="425.4" cy="88.9"/><circle cx="394.3" cy="119.2"/><circle cx="377.5" cy="90"/><circle cx="435" cy="84.1"/><circle cx="371.8" cy="95.7"/><circle cx="419.9" cy="93.9"/><circle cx="477.3" cy="96.7"/><circle cx="408.4" cy="117.1"/><circle cx="471" cy="87.1"/><circle cx="368.8" cy="119.4"/><circle cx="324.2" cy="89.5"/><circle cx="403.9" cy="111"/><circle cx="355.6" cy="84.2"/><circle cx="305.4" cy="92.3"/><circle cx="435.1" cy="125.5"/><circle cx="399.9" cy="84.1"/><circle cx="317.3" cy="114"/><circle cx="361.1" cy="92.2"/><circle cx="344.7" cy="116.7"/><circle cx="432.8" cy="112.9"/><circle cx="405.8" cy="90"/><circle cx="445.7" cy="96.3"/><circle cx="460.1" cy="83.9"/><circle cx="430.7" cy="117.1"/><circle cx="376.6" cy="122.5"/><circle cx="481.4" cy="111"/><circle cx="437.3" cy="93.1"/><circle cx="335.6" cy="98.5"/><circle cx="365.9" cy="119.8"/><circle cx="365.6" cy="95.8"/><circle cx="438.3" cy="120"/><circle cx="414.3" cy="111.2"/><circle cx="378.9" cy="115.9"/><circle cx="395.2" cy="100.6"/><circle cx="449.5" cy="89.8"/><circle cx="398.5" cy="122.5"/><circle cx="323.3" cy="92.5"/><circle cx="465.3" cy="122.5"/><circle cx="336.4" cy="89.3"/><circle cx="388" cy="100.1"/><circle cx="476.1" cy="89.2"/><circle cx="430.4" cy="122.6"/><circle cx="396.3" cy="89.7"/><circle cx="377.8" cy="119.6"/><circle cx="407" cy="108.5"/><circle cx="474.4" cy="122.4"/><circle cx="473.9" cy="119.1"/><circle cx="317.7" cy="125.5"/><circle cx="412" cy="89.7"/><circle cx="436.6" cy="122.6"/><circle cx="320.7" cy="119.3"/><circle cx="331.9" cy="118.3"/><circle cx="427.4" cy="122.5"/><circle cx="388.1" cy="120"/><circle cx="439.7" cy="87.1"/><circle cx="393.5" cy="125.5"/><circle cx="411" cy="94.9"/><circle cx="320.5" cy="84"/><circle cx="399.2" cy="117.1"/><circle cx="386.1" cy="98.9"/><circle cx="427.5" cy="86.9"/><circle cx="409.8" cy="84"/><circle cx="360.8" cy="100.1"/><circle cx="449.6" cy="122.6"/><circle cx="420.4" cy="117.7"/><circle cx="334.7" cy="111.6"/><circle cx="415.4" cy="95.8"/><circle cx="425.1" cy="111.4"/><circle cx="344.4" cy="87.1"/><circle cx="442.2" cy="112.9"/><circle cx="401.3" cy="86.8"/><circle cx="473.3" cy="125.2"/><circle cx="392.5" cy="122.6"/><circle cx="431.2" cy="92.9"/><circle cx="374.6" cy="125.4"/><circle cx="328.2" cy="95.5"/><circle cx="475.7" cy="116.5"/><circle cx="419.3" cy="120.3"/><circle cx="410" cy="119.8"/><circle cx="309.7" cy="86.9"/><circle cx="362" cy="95.3"/><circle cx="339.5" cy="98.3"/><circle cx="334.9" cy="92.5"/><circle cx="305.4" cy="89.3"/><circle cx="432.1" cy="119.8"/><circle cx="326.3" cy="92.9"/>
</g>
<path d="M303.8,128.2 V81.4 H484.8 V128.2" fill="none" stroke="#7c7c7c" stroke-width="0.9"/>
<rect x="303.4" y="127.6" width="181.8" height="1.9" fill="#959595"/>
<line x1="301.9" y1="128.2" x2="303.8" y2="128.2" stroke="#666" stroke-width="0.7"/>
<text x="299.7" y="128.2" font-size="4.8" text-anchor="middle" fill="#222" stroke="#222" stroke-width="0.1" transform="rotate(-90 299.7 128.2)">0</text>
<line x1="301.9" y1="118.8" x2="303.8" y2="118.8" stroke="#666" stroke-width="0.7"/>
<text x="299.7" y="118.8" font-size="4.8" text-anchor="middle" fill="#222" stroke="#222" stroke-width="0.1" transform="rotate(-90 299.7 118.8)">1</text>
<line x1="301.9" y1="109.5" x2="303.8" y2="109.5" stroke="#666" stroke-width="0.7"/>
<text x="299.7" y="109.5" font-size="4.8" text-anchor="middle" fill="#222" stroke="#222" stroke-width="0.1" transform="rotate(-90 299.7 109.5)">2</text>
<line x1="301.9" y1="100.1" x2="303.8" y2="100.1" stroke="#666" stroke-width="0.7"/>
<text x="299.7" y="100.1" font-size="4.8" text-anchor="middle" fill="#222" stroke="#222" stroke-width="0.1" transform="rotate(-90 299.7 100.1)">3</text>
<line x1="301.9" y1="90.8" x2="303.8" y2="90.8" stroke="#666" stroke-width="0.7"/>
<text x="299.7" y="90.8" font-size="4.8" text-anchor="middle" fill="#222" stroke="#222" stroke-width="0.1" transform="rotate(-90 299.7 90.8)">4</text>
<line x1="301.9" y1="81.4" x2="303.8" y2="81.4" stroke="#666" stroke-width="0.7"/>
<text x="299.7" y="81.4" font-size="4.8" text-anchor="middle" fill="#222" stroke="#222" stroke-width="0.1" transform="rotate(-90 299.7 81.4)">5</text>
<line x1="303.8" y1="128.2" x2="303.8" y2="130.3" stroke="#666" stroke-width="0.7"/>
<text x="303.8" y="137.7" font-size="5.5" text-anchor="middle" fill="#222" stroke="#222" stroke-width="0.1">0</text>
<line x1="321.9" y1="128.2" x2="321.9" y2="130.3" stroke="#666" stroke-width="0.7"/>
<text x="321.9" y="137.7" font-size="5.5" text-anchor="middle" fill="#222" stroke="#222" stroke-width="0.1">2</text>
<line x1="340" y1="128.2" x2="340" y2="130.3" stroke="#666" stroke-width="0.7"/>
<text x="340" y="137.7" font-size="5.5" text-anchor="middle" fill="#222" stroke="#222" stroke-width="0.1">4</text>
<line x1="358.1" y1="128.2" x2="358.1" y2="130.3" stroke="#666" stroke-width="0.7"/>
<text x="358.1" y="137.7" font-size="5.5" text-anchor="middle" fill="#222" stroke="#222" stroke-width="0.1">6</text>
<line x1="376.2" y1="128.2" x2="376.2" y2="130.3" stroke="#666" stroke-width="0.7"/>
<text x="376.2" y="137.7" font-size="5.5" text-anchor="middle" fill="#222" stroke="#222" stroke-width="0.1">8</text>
<line x1="394.3" y1="128.2" x2="394.3" y2="130.3" stroke="#666" stroke-width="0.7"/>
<text x="394.3" y="137.7" font-size="5.5" text-anchor="middle" fill="#222" stroke="#222" stroke-width="0.1">10</text>
<line x1="412.4" y1="128.2" x2="412.4" y2="130.3" stroke="#666" stroke-width="0.7"/>
<text x="412.4" y="137.7" font-size="5.5" text-anchor="middle" fill="#222" stroke="#222" stroke-width="0.1">12</text>
<line x1="430.5" y1="128.2" x2="430.5" y2="130.3" stroke="#666" stroke-width="0.7"/>
<text x="430.5" y="137.7" font-size="5.5" text-anchor="middle" fill="#222" stroke="#222" stroke-width="0.1">14</text>
<line x1="448.6" y1="128.2" x2="448.6" y2="130.3" stroke="#666" stroke-width="0.7"/>
<text x="448.6" y="137.7" font-size="5.5" text-anchor="middle" fill="#222" stroke="#222" stroke-width="0.1">16</text>
<line x1="466.7" y1="128.2" x2="466.7" y2="130.3" stroke="#666" stroke-width="0.7"/>
<text x="466.7" y="137.7" font-size="5.5" text-anchor="middle" fill="#222" stroke="#222" stroke-width="0.1">18</text>
<line x1="484.8" y1="128.2" x2="484.8" y2="130.3" stroke="#666" stroke-width="0.7"/>
<text x="484.8" y="137.7" font-size="5.5" text-anchor="middle" fill="#222" stroke="#222" stroke-width="0.1">20</text>
<text x="394.3" y="148.5" font-size="6.4" text-anchor="middle" fill="#111" stroke="#111" stroke-width="0.1" textLength="85.6" lengthAdjust="spacingAndGlyphs">Distance along pore length (nm)</text>
<text x="291.1" y="104.8" font-size="6.0" text-anchor="middle" fill="#111" stroke="#111" stroke-width="0.1" transform="rotate(-90 291.1 104.8)" textLength="50.6" lengthAdjust="spacingAndGlyphs">Axial distance (nm)</text>
<text x="486.5" y="106.7" font-size="6.1" text-anchor="start" fill="#444" stroke="#444" stroke-width="0.1">BS1</text>
<clipPath id="cp1"><rect x="305" y="160.9" width="180.3" height="44.2"/></clipPath>
<path d="M306,203.6h.01M309,203.4h.01M312.1,203.6h.01M315.5,203.7h.01M318.8,203.5h.01M321.8,203.6h.01M324.9,203.4h.01M328,203.5h.01M331,203.5h.01M334.5,203.6h.01M337.7,203.4h.01M340.8,203.3h.01M344,203.7h.01M347.1,203.7h.01M350.5,203.7h.01M353.6,203.7h.01M356.7,203.6h.01M359.8,203.7h.01M362.8,203.7h.01M365.9,203.6h.01M369.2,203.7h.01M372.3,203.7h.01M375.4,203.7h.01M378.8,203.6h.01M381.9,203.6h.01M385,203.6h.01M388.2,203.5h.01M391.6,203.5h.01M394.7,203.3h.01M398,203.7h.01M401,202.9h.01M404.4,203.7h.01M407.5,203.7h.01M410.8,203.4h.01M414,203.7h.01M417.1,203.4h.01M420.2,203.5h.01M424,203.6h.01M427.2,203.7h.01M430.5,203.7h.01M434,203.6h.01M437,203.7h.01M440.1,203.7h.01M443.2,203.7h.01M446.6,203.7h.01M449.7,203.6h.01M452.8,203.7h.01M455.8,203.4h.01M459,203.7h.01M462.2,203.6h.01M465.4,203.5h.01M468.5,203.6h.01M472.2,203.7h.01M475.9,203.6h.01M479.1,203.6h.01M482.2,203.7h.01M307,200.6h.01M310.2,200.5h.01M313.2,200.8h.01M316.8,200.8h.01M319.9,200.5h.01M323,200.7h.01M326.3,200.6h.01M329.4,200.6h.01M332.5,200.8h.01M335.5,200.6h.01M338.6,200.4h.01M342.4,200.6h.01M345.4,200.8h.01M348.4,200.7h.01M351.5,200.6h.01M354.6,200.6h.01M357.8,200.6h.01M361,200.7h.01M364.1,200.4h.01M367.5,201h.01M370.7,200.7h.01M373.9,200.9h.01M377,201h.01M380.3,200.6h.01M383.3,200.7h.01M386.6,200.8h.01M389.7,200.8h.01M392.9,200.7h.01M396,200.5h.01M399,200.6h.01M402.9,200.5h.01M405.9,200.9h.01M409,200.8h.01M412.4,200.6h.01M415.5,200.6h.01M418.7,200.8h.01M421.8,200.8h.01M425,200.6h.01M431.2,200.6h.01M434.2,200.2h.01M437.2,200.6h.01M440.4,200.5h.01M443.7,200.6h.01M446.8,200.4h.01M449.9,200.6h.01M453.4,200.5h.01M457.1,200.7h.01M460.1,200.7h.01M463.1,200.6h.01M466.1,200.5h.01M469.1,200.5h.01M472,200.5h.01M475,200.7h.01M478.1,200.7h.01M481.2,200.5h.01M484.4,201.5h.01M306,197.7h.01M308.7,197.8h.01M311.8,197.8h.01M314.9,198.3h.01M318,197.8h.01M320.8,196.6h.01M324.2,197.9h.01M327.3,197.6h.01M330.3,197.5h.01M333.6,198h.01M340.5,198.1h.01M438.6,197.9h.01M442.2,197.9h.01M445.5,197.5h.01M449.1,197.8h.01M452.4,197.5h.01M455.4,198h.01M458.5,198h.01M461.5,197.1h.01M464.4,197.9h.01M467.7,197.8h.01M470.7,197.6h.01M473.7,197.7h.01M476.6,198.1h.01M479.3,197h.01M484.4,198.3h.01M306.7,194.6h.01M309.9,195h.01M312.9,194.7h.01M315.9,195.5h.01M318.4,194.3h.01M323.4,194.9h.01M326.4,194.6h.01M329.4,194h.01M332.2,195.1h.01M437.3,194.8h.01M440.3,195.5h.01M443.4,195h.01M445.7,192.8h.01M450.6,194.9h.01M452.4,192.9h.01M454.5,195.2h.01M457.8,195h.01M460.7,194h.01M466.1,195.3h.01M469.1,194.9h.01M472.7,194.7h.01M476,195h.01M480.1,193.9h.01M482.1,196.4h.01M484.4,195h.01M306,191.6h.01M308.6,190.9h.01M311.2,192.2h.01M315.6,192.4h.01M318.7,191h.01M321.2,193h.01M323.9,191.7h.01M327.2,191.6h.01M441.1,192.5h.01M443.5,190.7h.01M447.5,195h.01M449.6,191.9h.01M453.9,190.3h.01M456,192.4h.01M458.8,191.6h.01M463.9,190.5h.01M465.9,192.5h.01M468.8,191.8h.01M471.7,191.7h.01M474.7,192.2h.01M477.7,191.9h.01M483.1,192.3h.01M308,187.8h.01M310.9,188.4h.01M313.5,190.2h.01M317.2,188.3h.01M319.1,185.8h.01M322.9,188.7h.01M325.9,188h.01M444.1,187.7h.01M447.2,189.9h.01M451.1,189.1h.01M453.7,187.4h.01M456.7,189.2h.01M461.3,190h.01M463.7,187.4h.01M466.8,189.4h.01M469.6,188.9h.01M472.7,188.6h.01M475.6,189.3h.01M479.8,188.9h.01M482.8,189.2h.01M306,186h.01M308.4,184.6h.01M311.9,185.4h.01M314.2,187.3h.01M316.2,185.1h.01M322,185.6h.01M324.9,185h.01M446.9,186.8h.01M450.1,186.2h.01M455.1,184.8h.01M457.8,185.4h.01M459.4,187.8h.01M465,184.6h.01M467.5,186.3h.01M470.8,186h.01M473.9,185.7h.01M477.5,187h.01M480.3,185.6h.01M484,186.2h.01M306,182.8h.01M310.7,182.5h.01M313.8,182.8h.01M316.8,182.1h.01M319.8,182.7h.01M322.7,182.1h.01M445.6,182h.01M448,183.8h.01M450.9,183.2h.01M453.7,182.3h.01M457.9,180.7h.01M459.8,183h.01M462.1,184.8h.01M466.9,182.3h.01M469.6,183.2h.01M474.9,182.3h.01M477.2,184h.01M479.7,182.4h.01M482.6,183.4h.01M306,179.6h.01M308.5,180.5h.01M311.8,179.6h.01M315.1,179.5h.01M318.5,179.5h.01M321.6,179.1h.01M325.2,178.9h.01M446.1,179h.01M449,180.8h.01M452.1,179.7h.01M455.2,179.6h.01M463,181.3h.01M460.5,179.3h.01M465.6,179.6h.01M469.9,179.8h.01M472.2,181.8h.01M474.5,179.2h.01M477.4,180.3h.01M481.5,179.9h.01M484.4,180h.01M307.6,177.2h.01M310.5,176.5h.01M313.5,176.9h.01M316.7,176.8h.01M319.7,176.2h.01M323.3,176.5h.01M326.3,175.9h.01M443.9,176.1h.01M446.9,176.1h.01M449.5,177.7h.01M452.4,176.6h.01M455.6,175.9h.01M459.2,176.4h.01M463.2,177.9h.01M465.4,175.9h.01M467.9,177.6h.01M473.3,176.3h.01M479.3,177.7h.01M476.4,176.6h.01M483.1,177.2h.01M306,173.8h.01M308.7,174h.01M311.9,173.6h.01M314.9,174.1h.01M318,173.6h.01M321.7,173.7h.01M324.7,173.2h.01M442.4,173.3h.01M445.9,173.2h.01M449.6,174.6h.01M452.4,173.4h.01M457.7,171.3h.01M460.1,173.3h.01M462.8,174.7h.01M467.9,174.1h.01M470.3,176h.01M471.8,173.2h.01M475,173.7h.01M479.3,171.2h.01M482.4,174.1h.01M307,170.6h.01M310,171.1h.01M313.1,170.7h.01M316,171.1h.01M319.2,170.6h.01M322.3,170.6h.01M326.6,170.8h.01M329.6,170.3h.01M437.5,170.3h.01M440.5,170.8h.01M444.1,170.6h.01M447.1,170.4h.01M450,171.4h.01M453.3,170.4h.01M455.2,172.8h.01M460.3,170h.01M462.9,171.4h.01M465.8,171.9h.01M468.9,171.2h.01M473,170.4h.01M476.3,170.3h.01M479.3,174.5h.01M482.6,171h.01M306,167.8h.01M308.5,167.1h.01M311.3,168.1h.01M314.9,168h.01M318,167.7h.01M321.1,167.7h.01M324.2,167.7h.01M327.2,167.6h.01M330.8,167.4h.01M423.5,167.9h.01M426.5,167.5h.01M432.8,167.8h.01M436,167.5h.01M439.1,167.6h.01M442.1,168.2h.01M445.2,167.7h.01M448.2,167.4h.01M451.1,168.3h.01M455.1,167.8h.01M458.1,167.9h.01M462.1,167.5h.01M464.9,168.9h.01M468,167.9h.01M471.1,167.9h.01M474.6,167.6h.01M477.9,167.5h.01M480.8,168.4h.01M484.3,168.3h.01M306.5,164.7h.01M310.4,164.7h.01M313.4,164.9h.01M316.4,164.9h.01M319.5,164.9h.01M322.8,164.7h.01M325.9,164.7h.01M329,164.9h.01M332.2,164.6h.01M335.4,164.8h.01M348.7,164.7h.01M376.9,164.5h.01M389.7,164.7h.01M392.8,164.5h.01M396,164.3h.01M402.5,164.7h.01M406.3,165h.01M409.7,165.2h.01M413.3,164.9h.01M416.3,164.9h.01M419.2,164.6h.01M422.3,164.8h.01M425.3,164.7h.01M428.3,165h.01M431.3,164.9h.01M434.3,164.9h.01M437.6,164.7h.01M441,165.2h.01M444,164.7h.01M447,164.6h.01M450.9,165.1h.01M454,164.8h.01M457.3,164.8h.01M460.4,165h.01M463.9,165h.01M467,164.9h.01M470,165h.01M473.1,164.8h.01M476.1,164.9h.01M480,165.1h.01M483.1,164.9h.01M306,161.7h.01M308.6,162.1h.01M311.6,161.7h.01M314.7,161.8h.01M317.7,162h.01M321,162.1h.01M324.1,161.7h.01M327.3,161.8h.01M330.4,161.7h.01M333.6,161.7h.01M336.7,162.1h.01M339.9,161.8h.01M342.9,161.8h.01M346.8,161.9h.01M350,162h.01M353.1,162h.01M356.2,161.7h.01M359.6,161.9h.01M362.7,161.8h.01M365.8,161.8h.01M368.9,161.9h.01M371.9,162h.01M374.9,162.2h.01M378.8,162h.01M382,161.8h.01M385,161.8h.01M388.2,161.8h.01M391.2,161.8h.01M394.3,161.8h.01M397.8,161.7h.01M400.8,162h.01M403.9,161.7h.01M406.9,162h.01M410,162h.01M413,161.9h.01M416.6,161.7h.01M420.1,161.7h.01M423.1,161.8h.01M426.2,161.8h.01M429.3,161.8h.01M432.4,161.8h.01M435.8,162.2h.01M439.1,161.9h.01M442.1,162.3h.01M445.3,161.8h.01M448.8,162.2h.01M451.8,162h.01M454.8,161.7h.01M457.9,161.7h.01M461,161.9h.01M464.5,162h.01M467.6,161.7h.01M470.8,161.9h.01M474.1,161.8h.01M477.6,162.2h.01M480.7,161.9h.01M483.7,161.7h.01" fill="none" stroke="#002020" stroke-width="6.4" stroke-linecap="round" clip-path="url(#cp1)"/>
<path d="M428,200.3h.01M337.7,197h.01M343.2,197.1h.01M346.2,197.7h.01M349.2,197.6h.01M352.2,197.5h.01M356.1,197.8h.01M359.2,197.5h.01M362.3,197.8h.01M365.6,197.6h.01M368.8,198.2h.01M372,197.2h.01M375.1,197.9h.01M378.4,198.1h.01M381.9,197.6h.01M385,198h.01M388.1,198h.01M391.5,197.9h.01M394.6,197.7h.01M397.7,197.7h.01M400.9,198.2h.01M404.1,197.6h.01M407.3,198.1h.01M410.4,198h.01M413.4,197.4h.01M416.5,197.6h.01M419.5,197.8h.01M423.2,198h.01M426.2,197.7h.01M429.8,197.7h.01M432.7,196.4h.01M435.6,197.4h.01M335.3,195.4h.01M337.9,193.8h.01M340.8,194.7h.01M344.8,194.4h.01M347.8,194.7h.01M354.4,195.2h.01M357.8,194.7h.01M360.8,194.3h.01M363.9,195h.01M368.5,195h.01M371.3,193.7h.01M374.2,194.3h.01M377.2,195.1h.01M380.4,194.8h.01M387.1,194.4h.01M390.1,195.2h.01M393,194.9h.01M397,194.2h.01M399.7,195.3h.01M402.6,194.8h.01M405.5,194h.01M408.2,195.1h.01M411.1,194.3h.01M414.2,194.3h.01M418.2,194.9h.01M421.5,195.5h.01M424.9,194.8h.01M434.5,193.6h.01M331.5,191.3h.01M336.8,190.8h.01M334.2,192.5h.01M342.9,192h.01M408.5,191.9h.01M421.3,192.6h.01M438.1,191.8h.01M328.8,188.9h.01M331.6,188.1h.01M434.9,189.1h.01M437.9,188.6h.01M440.8,189.3h.01M328.1,185.6h.01M438.8,185.6h.01M441.5,186.2h.01M444,184.5h.01M325.7,182.1h.01M330.1,183.2h.01M441.3,182.6h.01M328.4,180.8h.01M440,179.7h.01M443.1,179.2h.01M328.6,177.8h.01M330.8,175.6h.01M437.8,176.8h.01M440.9,176.7h.01M328.4,173.6h.01M331.5,172.8h.01M420.7,173.4h.01M427.3,173.6h.01M430.3,174h.01M433.4,173.6h.01M436.4,174h.01M439.4,173.8h.01M333.7,170.6h.01M336.6,170.6h.01M342.7,170.7h.01M345.6,169.8h.01M348.5,170.2h.01M351.6,170.4h.01M373.3,170.6h.01M378,169.9h.01M389.6,170.4h.01M392.5,170.9h.01M395.3,170.1h.01M402.9,170.7h.01M405.7,170.3h.01M408.7,170.8h.01M412.7,170.9h.01M415.7,170.1h.01M418.4,171.1h.01M421.4,170.2h.01M423.9,172h.01M426.6,170.6h.01M431.4,170.9h.01M434.5,170.7h.01M333.9,167.5h.01M337,167.5h.01M340.1,167.4h.01M343.2,167.5h.01M346.5,166.8h.01M350.2,167.5h.01M353.3,167.6h.01M356.3,167.2h.01M359.5,167.5h.01M362.6,167.5h.01M365.5,168.2h.01M369,167.4h.01M372,167.8h.01M375.3,168.1h.01M378.7,167h.01M381.6,167.6h.01M385.2,167.3h.01M388.2,167.6h.01M391.2,167.5h.01M394.3,167.2h.01M397.3,167.1h.01M400.5,167.9h.01M403.7,167.7h.01M407.6,167.7h.01M410.6,168.3h.01M413.6,167.8h.01M417.6,167.8h.01M420.6,167.5h.01M429.3,168.6h.01M338.5,164.7h.01M341.7,164.6h.01M344.8,164.3h.01M351.7,164.8h.01M354.8,164.6h.01M357.9,164.5h.01M361,164.8h.01M364.1,164.7h.01M367.4,164.7h.01M370.8,164.9h.01M373.9,165.2h.01M380.6,164.6h.01M383.6,164.6h.01M386.7,164.5h.01M399.4,164.8h.01" fill="none" stroke="#001a1a" stroke-width="3.7" stroke-linecap="round"/>
<g class="p">
<circle cx="408.2" cy="195.1"/><circle cx="306" cy="191.6"/><circle cx="306" cy="182.8"/><circle cx="468.5" cy="203.6"/><circle cx="316.2" cy="185.1"/><circle cx="467.6" cy="161.7"/><circle cx="449.7" cy="203.6"/><circle cx="340.8" cy="203.3"/><circle cx="333.9" cy="167.5"/><circle cx="465" cy="184.6"/><circle cx="345.4" cy="200.8"/><circle cx="474.1" cy="161.8"/><circle cx="430.5" cy="203.7"/><circle cx="311.8" cy="197.8"/><circle cx="420.6" cy="167.5"/><circle cx="392.8" cy="164.5"/><circle cx="394.6" cy="197.7"/><circle cx="320.8" cy="196.6"/><circle cx="380.3" cy="200.6"/><circle cx="471.1" cy="167.9"/><circle cx="429.3" cy="168.6"/><circle cx="465.6" cy="179.6"/><circle cx="462.2" cy="203.6"/><circle cx="405.7" cy="170.3"/><circle cx="452.8" cy="203.7"/><circle cx="312.1" cy="203.6"/><circle cx="344.8" cy="164.3"/><circle cx="459.4" cy="187.8"/><circle cx="351.6" cy="170.4"/><circle cx="361" cy="200.7"/><circle cx="460.3" cy="170"/><circle cx="450.9" cy="183.2"/><circle cx="439.1" cy="167.6"/><circle cx="306" cy="186"/><circle cx="348.4" cy="200.7"/><circle cx="479.1" cy="203.6"/><circle cx="413.4" cy="197.4"/><circle cx="479.3" cy="174.5"/><circle cx="334.5" cy="203.6"/><circle cx="314.9" cy="198.3"/><circle cx="313.8" cy="182.8"/><circle cx="321.6" cy="179.1"/><circle cx="365.6" cy="197.6"/><circle cx="402.6" cy="194.8"/><circle cx="468.8" cy="191.8"/><circle cx="308.4" cy="184.6"/><circle cx="480.1" cy="193.9"/><circle cx="455.6" cy="175.9"/><circle cx="462.1" cy="167.5"/><circle cx="314.7" cy="161.8"/><circle cx="432.7" cy="196.4"/><circle cx="375.1" cy="197.9"/><circle cx="373.9" cy="200.9"/><circle cx="444.1" cy="170.6"/><circle cx="331.6" cy="188.1"/><circle cx="473" cy="170.4"/><circle cx="365.8" cy="161.8"/><circle cx="410.8" cy="203.4"/><circle cx="307" cy="200.6"/><circle cx="460.5" cy="179.3"/><circle cx="368.5" cy="195"/><circle cx="364.1" cy="164.7"/><circle cx="434.5" cy="170.7"/><circle cx="344.8" cy="194.4"/><circle cx="447.1" cy="170.4"/><circle cx="343.2" cy="167.5"/><circle cx="322.7" cy="182.1"/><circle cx="417.6" cy="167.8"/><circle cx="377" cy="201"/><circle cx="457.3" cy="164.8"/><circle cx="348.5" cy="170.2"/><circle cx="306.7" cy="194.6"/><circle cx="407.6" cy="167.7"/><circle cx="391.2" cy="167.5"/><circle cx="329.4" cy="200.6"/><circle cx="327.2" cy="167.6"/><circle cx="373.3" cy="170.6"/><circle cx="428.3" cy="165"/><circle cx="420.7" cy="173.4"/><circle cx="368.8" cy="198.2"/><circle cx="474.5" cy="179.2"/><circle cx="458.8" cy="191.6"/><circle cx="427.3" cy="173.6"/><circle cx="442.1" cy="168.2"/><circle cx="310.4" cy="164.7"/><circle cx="396" cy="164.3"/><circle cx="325.2" cy="178.9"/><circle cx="484.4" cy="180"/><circle cx="394.3" cy="167.2"/><circle cx="423.2" cy="198"/><circle cx="445.5" cy="197.5"/><circle cx="436.4" cy="174"/><circle cx="365.9" cy="203.6"/><circle cx="433.4" cy="173.6"/><circle cx="472.2" cy="181.8"/><circle cx="319.2" cy="170.6"/><circle cx="437.5" cy="170.3"/><circle cx="463.9" cy="190.5"/><circle cx="477.2" cy="184"/><circle cx="437.2" cy="200.6"/><circle cx="342.4" cy="200.6"/><circle cx="429.3" cy="161.8"/><circle cx="314.2" cy="187.3"/><circle cx="457.9" cy="180.7"/><circle cx="393" cy="194.9"/><circle cx="466.1" cy="200.5"/><circle cx="362.7" cy="161.8"/><circle cx="426.2" cy="197.7"/><circle cx="434.3" cy="164.9"/><circle cx="310.9" cy="188.4"/><circle cx="407.3" cy="198.1"/><circle cx="371.9" cy="162"/><circle cx="337.7" cy="203.4"/><circle cx="469.9" cy="179.8"/><circle cx="444" cy="184.5"/><circle cx="470.3" cy="176"/><circle cx="475" cy="200.7"/><circle cx="391.4" cy="191.3"/><circle cx="318.8" cy="203.5"/><circle cx="470" cy="165"/><circle cx="346.2" cy="197.7"/><circle cx="309.9" cy="195"/><circle cx="462.9" cy="171.4"/><circle cx="471.8" cy="173.2"/><circle cx="367.5" cy="201"/><circle cx="452.4" cy="176.6"/><circle cx="343.2" cy="197.1"/><circle cx="402.9" cy="170.7"/><circle cx="310" cy="171.1"/><circle cx="455.1" cy="184.8"/><circle cx="478.1" cy="200.7"/><circle cx="350" cy="162"/><circle cx="459" cy="203.7"/><circle cx="328" cy="203.5"/><circle cx="482.6" cy="183.4"/><circle cx="324.1" cy="161.7"/><circle cx="466.1" cy="195.3"/><circle cx="315.1" cy="179.5"/><circle cx="370.7" cy="200.7"/><circle cx="453.4" cy="200.5"/><circle cx="480" cy="165.1"/><circle cx="440.5" cy="170.8"/><circle cx="382" cy="161.8"/><circle cx="474.7" cy="192.2"/><circle cx="446.1" cy="179"/><circle cx="342.9" cy="161.8"/><circle cx="410" cy="162"/><circle cx="481.2" cy="200.5"/><circle cx="425.3" cy="164.7"/><circle cx="463" cy="181.3"/><circle cx="373.9" cy="165.2"/><circle cx="365.5" cy="168.2"/><circle cx="463.1" cy="200.6"/><circle cx="431.3" cy="164.9"/><circle cx="328.1" cy="185.6"/><circle cx="448.2" cy="167.4"/><circle cx="381.9" cy="203.6"/><circle cx="337.9" cy="193.8"/><circle cx="330.3" cy="197.5"/><circle cx="452.4" cy="192.9"/><circle cx="443.7" cy="200.6"/><circle cx="445.2" cy="167.7"/><circle cx="339.7" cy="179.5"/><circle cx="477.6" cy="162.2"/><circle cx="479.8" cy="188.9"/><circle cx="309" cy="203.4"/><circle cx="419.5" cy="197.8"/><circle cx="394.7" cy="203.3"/><circle cx="376.9" cy="164.5"/><circle cx="401" cy="202.9"/><circle cx="397.7" cy="197.7"/><circle cx="482.6" cy="171"/><circle cx="482.8" cy="189.2"/><circle cx="400.5" cy="167.9"/><circle cx="440.8" cy="189.3"/><circle cx="437.6" cy="164.7"/><circle cx="377.2" cy="195.1"/><circle cx="314.9" cy="174.1"/><circle cx="359.5" cy="167.5"/><circle cx="319.9" cy="200.5"/><circle cx="484" cy="186.2"/><circle cx="322" cy="185.6"/><circle cx="371.4" cy="173.4"/><circle cx="318" cy="173.6"/><circle cx="404.1" cy="197.6"/><circle cx="356.2" cy="161.7"/><circle cx="399.7" cy="195.3"/><circle cx="335.5" cy="200.6"/><circle cx="321" cy="162.1"/><circle cx="391.6" cy="203.5"/><circle cx="368.9" cy="161.9"/><circle cx="460.4" cy="165"/><circle cx="416.6" cy="161.7"/><circle cx="315.6" cy="192.4"/><circle cx="416.5" cy="197.6"/><circle cx="398" cy="203.7"/><circle cx="445.6" cy="182"/><circle cx="306" cy="167.8"/><circle cx="432.4" cy="161.8"/><circle cx="461.3" cy="190"/><circle cx="454" cy="164.8"/><circle cx="347.8" cy="194.7"/><circle cx="344" cy="203.7"/><circle cx="316" cy="171.1"/><circle cx="339.7" cy="191.3"/><circle cx="325.9" cy="188"/><circle cx="449.5" cy="177.7"/><circle cx="455.2" cy="179.6"/><circle cx="454.5" cy="195.2"/><circle cx="444" cy="164.7"/><circle cx="387.1" cy="194.4"/><circle cx="471.7" cy="191.7"/><circle cx="429.4" cy="187.5"/><circle cx="460.1" cy="200.7"/><circle cx="388.2" cy="161.8"/><circle cx="403.7" cy="167.7"/><circle cx="370.8" cy="164.9"/><circle cx="341.7" cy="164.6"/><circle cx="313.4" cy="164.9"/><circle cx="484.4" cy="198.3"/><circle cx="452.4" cy="173.4"/><circle cx="441" cy="165.2"/><circle cx="328.4" cy="180.8"/><circle cx="318.4" cy="194.3"/><circle cx="449.1" cy="197.8"/><circle cx="441.3" cy="182.6"/><circle cx="415.5" cy="200.6"/><circle cx="353.3" cy="167.6"/><circle cx="421.5" cy="195.5"/><circle cx="483.1" cy="164.9"/><circle cx="463.9" cy="165"/><circle cx="421.3" cy="188"/><circle cx="450" cy="171.4"/><circle cx="346.8" cy="161.9"/><circle cx="421.4" cy="170.2"/><circle cx="308.7" cy="174"/><circle cx="311.9" cy="173.6"/><circle cx="328.4" cy="173.6"/><circle cx="327.2" cy="191.6"/><circle cx="378.8" cy="203.6"/><circle cx="306" cy="161.7"/><circle cx="306" cy="197.7"/><circle cx="307" cy="170.6"/><circle cx="443.2" cy="203.7"/><circle cx="346.5" cy="166.8"/><circle cx="319.5" cy="164.9"/><circle cx="415.7" cy="170.1"/><circle cx="447.2" cy="189.9"/><circle cx="360.6" cy="173.8"/><circle cx="385" cy="161.8"/><circle cx="465.4" cy="203.5"/><circle cx="337.7" cy="197"/><circle cx="442.2" cy="197.9"/><circle cx="416.3" cy="164.9"/><circle cx="476" cy="195"/><circle cx="354.4" cy="195.2"/><circle cx="336.7" cy="162.1"/><circle cx="350.5" cy="203.7"/><circle cx="328.6" cy="177.8"/><circle cx="425" cy="200.6"/><circle cx="333.4" cy="181.9"/><circle cx="402.5" cy="164.7"/><circle cx="381.6" cy="167.6"/><circle cx="484.4" cy="195"/><circle cx="442.4" cy="173.3"/><circle cx="434" cy="203.6"/><circle cx="375.3" cy="168.1"/><circle cx="477.9" cy="167.5"/><circle cx="422.3" cy="164.8"/><circle cx="482.1" cy="196.4"/><circle cx="392.9" cy="200.7"/><circle cx="306" cy="203.6"/><circle cx="423.1" cy="161.8"/><circle cx="467.7" cy="197.8"/><circle cx="477.5" cy="187"/><circle cx="313.5" cy="190.2"/><circle cx="470.7" cy="197.6"/><circle cx="375.4" cy="203.7"/><circle cx="324.9" cy="185"/><circle cx="400.8" cy="162"/><circle cx="445.3" cy="161.8"/><circle cx="385.2" cy="167.3"/><circle cx="397.3" cy="167.1"/><circle cx="359.6" cy="161.9"/><circle cx="418.7" cy="200.8"/><circle cx="336.6" cy="170.6"/><circle cx="339.9" cy="161.8"/><circle cx="450.6" cy="194.9"/><circle cx="331" cy="203.5"/><circle cx="468" cy="167.9"/><circle cx="409" cy="200.8"/><circle cx="311.9" cy="185.4"/><circle cx="448.8" cy="162.2"/><circle cx="335.3" cy="195.4"/><circle cx="473.3" cy="176.3"/><circle cx="467.9" cy="174.1"/><circle cx="337" cy="167.5"/><circle cx="464.4" cy="197.9"/><circle cx="473.9" cy="185.7"/><circle cx="435.8" cy="162.2"/><circle cx="449.6" cy="191.9"/><circle cx="338.6" cy="200.4"/><circle cx="321.1" cy="167.7"/><circle cx="463.7" cy="187.4"/><circle cx="321.7" cy="173.7"/><circle cx="316.7" cy="176.8"/><circle cx="349.2" cy="197.6"/><circle cx="330.1" cy="183.2"/><circle cx="324.2" cy="197.9"/><circle cx="326.4" cy="194.6"/><circle cx="480.3" cy="185.6"/><circle cx="470.8" cy="161.9"/><circle cx="351.5" cy="200.6"/><circle cx="374.2" cy="194.3"/><circle cx="480.8" cy="168.4"/><circle cx="315.5" cy="203.7"/><circle cx="418.2" cy="194.9"/><circle cx="464.9" cy="168.9"/><circle cx="475" cy="173.7"/><circle cx="340.8" cy="194.7"/><circle cx="459.2" cy="176.4"/><circle cx="324.9" cy="203.4"/><circle cx="323.3" cy="176.5"/><circle cx="400.9" cy="198.2"/><circle cx="324.2" cy="167.7"/><circle cx="359.8" cy="203.7"/><circle cx="419.2" cy="164.6"/><circle cx="316.8" cy="200.8"/><circle cx="324.7" cy="173.2"/><circle cx="310.5" cy="176.5"/><circle cx="316.8" cy="182.1"/><circle cx="445.7" cy="192.8"/><circle cx="461.5" cy="197.1"/><circle cx="446.8" cy="200.4"/><circle cx="469.1" cy="194.9"/><circle cx="483.1" cy="177.2"/><circle cx="311.2" cy="192.2"/><circle cx="477.7" cy="191.9"/><circle cx="409.7" cy="165.2"/><circle cx="475.6" cy="189.3"/><circle cx="408.5" cy="191.9"/><circle cx="310.2" cy="200.5"/><circle cx="363.9" cy="195"/><circle cx="361" cy="164.8"/><circle cx="405.9" cy="173.4"/><circle cx="473.7" cy="197.7"/><circle cx="449" cy="180.8"/><circle cx="317.2" cy="188.3"/><circle cx="408.7" cy="170.8"/><circle cx="326.3" cy="175.9"/><circle cx="414.2" cy="194.3"/><circle cx="391.2" cy="161.8"/><circle cx="308.7" cy="197.8"/><circle cx="357.9" cy="164.5"/><circle cx="378" cy="169.9"/><circle cx="414" cy="203.7"/><circle cx="348.7" cy="164.7"/><circle cx="413" cy="161.9"/><circle cx="483.1" cy="192.3"/><circle cx="334.2" cy="192.5"/><circle cx="413.6" cy="167.8"/><circle cx="396" cy="200.5"/><circle cx="312.9" cy="194.7"/><circle cx="411.1" cy="194.3"/><circle cx="404.4" cy="203.7"/><circle cx="357.8" cy="194.7"/><circle cx="460.7" cy="194"/><circle cx="423.9" cy="172"/><circle cx="484.3" cy="168.3"/><circle cx="325.7" cy="182.1"/><circle cx="331.5" cy="191.3"/><circle cx="364.1" cy="200.4"/><circle cx="421.8" cy="200.8"/><circle cx="319.7" cy="176.2"/><circle cx="323.9" cy="191.7"/><circle cx="447" cy="164.6"/><circle cx="426.6" cy="170.6"/><circle cx="399" cy="200.6"/><circle cx="453.7" cy="187.4"/><circle cx="389.6" cy="170.4"/><circle cx="323.4" cy="194.9"/><circle cx="458.1" cy="167.9"/><circle cx="431.2" cy="200.6"/><circle cx="385" cy="203.6"/><circle cx="356.7" cy="203.6"/><circle cx="383.6" cy="164.6"/><circle cx="458.5" cy="198"/><circle cx="406.3" cy="165"/><circle cx="464.5" cy="162"/><circle cx="451.1" cy="168.3"/><circle cx="369.2" cy="203.7"/><circle cx="327.3" cy="161.8"/><circle cx="440.1" cy="203.7"/><circle cx="318" cy="197.8"/><circle cx="450.1" cy="186.2"/><circle cx="462.8" cy="174.7"/><circle cx="459.8" cy="183"/><circle cx="342.9" cy="192"/><circle cx="479.3" cy="171.2"/><circle cx="479.7" cy="182.4"/><circle cx="443.4" cy="195"/><circle cx="383.3" cy="200.7"/><circle cx="380.4" cy="194.8"/><circle cx="349.7" cy="172.9"/><circle cx="461" cy="161.9"/><circle cx="326.6" cy="170.8"/><circle cx="397.8" cy="161.7"/><circle cx="438.6" cy="197.9"/><circle cx="465.9" cy="192.5"/><circle cx="330.8" cy="175.6"/><circle cx="332.2" cy="195.1"/><circle cx="360.8" cy="194.3"/><circle cx="331.5" cy="172.8"/><circle cx="451.1" cy="189.1"/><circle cx="328.8" cy="188.9"/><circle cx="322.8" cy="164.7"/><circle cx="430.3" cy="174"/><circle cx="443.9" cy="176.1"/><circle cx="386.6" cy="200.8"/><circle cx="441.1" cy="192.5"/><circle cx="476.6" cy="198.1"/><circle cx="338.5" cy="164.7"/><circle cx="410.6" cy="168.3"/><circle cx="378.7" cy="167"/><circle cx="332.2" cy="164.6"/><circle cx="439.1" cy="161.9"/><circle cx="484.4" cy="201.5"/><circle cx="451.8" cy="162"/><circle cx="437.3" cy="194.8"/><circle cx="429.8" cy="197.7"/><circle cx="480.7" cy="161.9"/><circle cx="386.7" cy="164.5"/><circle cx="456.7" cy="189.2"/><circle cx="432.1" cy="188.5"/><circle cx="452.4" cy="197.5"/><circle cx="432.8" cy="167.8"/><circle cx="357.8" cy="200.6"/><circle cx="335.4" cy="164.8"/><circle cx="413.3" cy="164.9"/><circle cx="402.9" cy="200.5"/><circle cx="394.3" cy="161.8"/><circle cx="457.9" cy="161.7"/><circle cx="466.9" cy="182.3"/><circle cx="467.5" cy="186.3"/><circle cx="405.9" cy="200.9"/><circle cx="469.6" cy="183.2"/><circle cx="332.5" cy="200.8"/><circle cx="434.5" cy="193.6"/><circle cx="434.9" cy="189.1"/><circle cx="383.2" cy="179"/><circle cx="420.1" cy="161.7"/><circle cx="476.3" cy="170.3"/><circle cx="469.6" cy="188.9"/><circle cx="347.1" cy="203.7"/><circle cx="336.8" cy="190.8"/><circle cx="354.6" cy="200.6"/><circle cx="380.6" cy="164.6"/><circle cx="323" cy="200.7"/><circle cx="371.3" cy="193.7"/><circle cx="378.8" cy="162"/><circle cx="362.6" cy="167.5"/><circle cx="455.1" cy="167.8"/><circle cx="389.7" cy="200.8"/><circle cx="476.1" cy="164.9"/><circle cx="421.3" cy="192.6"/><circle cx="448" cy="183.8"/><circle cx="345.6" cy="169.8"/><circle cx="329.6" cy="170.3"/><circle cx="351.7" cy="164.8"/><circle cx="407.5" cy="203.7"/><circle cx="395.3" cy="170.1"/><circle cx="362.8" cy="203.7"/><circle cx="465.8" cy="171.9"/><circle cx="412.7" cy="170.9"/><circle cx="449.6" cy="174.6"/><circle cx="455.2" cy="172.8"/><circle cx="405.5" cy="194"/><circle cx="473.1" cy="164.8"/><circle cx="412.4" cy="200.6"/><circle cx="434.2" cy="200.2"/><circle cx="455.4" cy="198"/><circle cx="326.3" cy="200.6"/><circle cx="446.9" cy="176.1"/><circle cx="340.1" cy="167.4"/><circle cx="440" cy="179.7"/><circle cx="481.5" cy="179.9"/><circle cx="348.8" cy="189.9"/><circle cx="443.5" cy="190.7"/><circle cx="444.1" cy="187.7"/><circle cx="327.3" cy="197.6"/><circle cx="330.8" cy="167.4"/><circle cx="385" cy="198"/><circle cx="472.7" cy="194.7"/><circle cx="426.5" cy="167.5"/><circle cx="308" cy="187.8"/><circle cx="359.2" cy="197.5"/><circle cx="463.2" cy="177.9"/><circle cx="467.9" cy="177.6"/><circle cx="457.1" cy="200.7"/><circle cx="470.8" cy="186"/><circle cx="308.6" cy="162.1"/><circle cx="340.5" cy="198.1"/><circle cx="453.7" cy="182.3"/><circle cx="391.5" cy="197.9"/><circle cx="443.1" cy="179.2"/><circle cx="439.4" cy="173.8"/><circle cx="363.3" cy="188.9"/><circle cx="321.2" cy="193"/><circle cx="479.3" cy="197"/><circle cx="457.7" cy="171.3"/><circle cx="319.1" cy="185.8"/><circle cx="417.1" cy="203.4"/><circle cx="438.1" cy="191.8"/><circle cx="333.6" cy="161.7"/><circle cx="474.9" cy="182.3"/><circle cx="311.3" cy="168.1"/><circle cx="449.9" cy="200.6"/><circle cx="445.9" cy="173.2"/><circle cx="428" cy="200.3"/><circle cx="308.6" cy="190.9"/><circle cx="313.1" cy="170.7"/><circle cx="322.3" cy="170.6"/><circle cx="306.5" cy="164.7"/><circle cx="330.4" cy="161.7"/><circle cx="319.8" cy="182.7"/><circle cx="457.8" cy="195"/><circle cx="446.6" cy="203.7"/><circle cx="306" cy="173.8"/><circle cx="317.7" cy="162"/><circle cx="447.5" cy="195"/><circle cx="388.2" cy="167.6"/><circle cx="310.7" cy="182.5"/><circle cx="418.4" cy="171.1"/><circle cx="455.8" cy="203.4"/><circle cx="466.8" cy="189.4"/><circle cx="479.3" cy="177.7"/><circle cx="374.9" cy="162.2"/><circle cx="460.1" cy="173.3"/><circle cx="437" cy="203.7"/><circle cx="467" cy="164.9"/><circle cx="454.8" cy="161.7"/><circle cx="403.9" cy="161.7"/><circle cx="441.5" cy="186.2"/><circle cx="468.9" cy="171.2"/><circle cx="356.1" cy="197.8"/><circle cx="322.9" cy="188.7"/><circle cx="333.7" cy="170.6"/><circle cx="440.4" cy="200.5"/><circle cx="456" cy="192.4"/><circle cx="367.4" cy="164.7"/><circle cx="442.1" cy="162.3"/><circle cx="424" cy="203.6"/><circle cx="462.1" cy="184.8"/><circle cx="311.6" cy="161.7"/><circle cx="372" cy="197.2"/><circle cx="329.4" cy="194"/><circle cx="350.2" cy="167.5"/><circle cx="476.4" cy="176.6"/><circle cx="482.2" cy="203.7"/><circle cx="427.2" cy="203.7"/><circle cx="475.9" cy="203.6"/><circle cx="410.4" cy="198"/><circle cx="438.8" cy="185.6"/><circle cx="369" cy="167.4"/><circle cx="440.9" cy="176.7"/><circle cx="446.9" cy="186.8"/><circle cx="333.6" cy="198"/><circle cx="465.4" cy="175.9"/><circle cx="388.1" cy="198"/><circle cx="472.7" cy="188.6"/><circle cx="472" cy="200.5"/><circle cx="453.9" cy="190.3"/><circle cx="372" cy="167.8"/><circle cx="353.1" cy="162"/><circle cx="318.5" cy="179.5"/><circle cx="325.9" cy="164.7"/><circle cx="431.4" cy="170.9"/><circle cx="452.1" cy="179.7"/><circle cx="353.6" cy="203.7"/><circle cx="437.9" cy="188.6"/><circle cx="342.7" cy="170.7"/><circle cx="392.5" cy="170.9"/><circle cx="469.1" cy="200.5"/><circle cx="308.5" cy="167.1"/><circle cx="389.7" cy="164.7"/><circle cx="315.9" cy="195.5"/><circle cx="390.1" cy="195.2"/><circle cx="307.6" cy="177.2"/><circle cx="397" cy="194.2"/><circle cx="423.5" cy="167.9"/><circle cx="321.8" cy="203.6"/><circle cx="318" cy="167.7"/><circle cx="424.9" cy="194.8"/><circle cx="352.2" cy="197.5"/><circle cx="354.8" cy="164.6"/><circle cx="308.5" cy="180.5"/><circle cx="381.9" cy="197.6"/><circle cx="406.9" cy="162"/><circle cx="313.5" cy="176.9"/><circle cx="316.4" cy="164.9"/><circle cx="440.3" cy="195.5"/><circle cx="450.9" cy="165.1"/><circle cx="311.8" cy="179.6"/><circle cx="483.7" cy="161.7"/><circle cx="453.3" cy="170.4"/><circle cx="388.2" cy="203.5"/><circle cx="356.3" cy="167.2"/><circle cx="477.4" cy="180.3"/><circle cx="313.2" cy="200.8"/><circle cx="362.3" cy="197.8"/><circle cx="472.2" cy="203.7"/><circle cx="482.4" cy="174.1"/><circle cx="306" cy="179.6"/><circle cx="378.4" cy="198.1"/><circle cx="426.2" cy="161.8"/><circle cx="318.7" cy="191"/><circle cx="329" cy="164.9"/><circle cx="314.9" cy="168"/><circle cx="372.3" cy="203.7"/><circle cx="420.2" cy="203.5"/><circle cx="474.6" cy="167.6"/><circle cx="437.8" cy="176.8"/><circle cx="436" cy="167.5"/><circle cx="399.4" cy="164.8"/><circle cx="435.6" cy="197.4"/><circle cx="457.8" cy="185.4"/>
</g>
<path d="M304.4,206.4 V159.2 H485.6 V206.4" fill="none" stroke="#7c7c7c" stroke-width="0.9"/>
<rect x="304" y="205.8" width="182" height="1.9" fill="#959595"/>
<line x1="302.5" y1="206.4" x2="304.4" y2="206.4" stroke="#666" stroke-width="0.7"/>
<text x="300.3" y="206.4" font-size="4.8" text-anchor="middle" fill="#222" stroke="#222" stroke-width="0.1" transform="rotate(-90 300.3 206.4)">0</text>
<line x1="302.5" y1="197" x2="304.4" y2="197" stroke="#666" stroke-width="0.7"/>
<text x="300.3" y="197" font-size="4.8" text-anchor="middle" fill="#222" stroke="#222" stroke-width="0.1" transform="rotate(-90 300.3 197)">1</text>
<line x1="302.5" y1="187.5" x2="304.4" y2="187.5" stroke="#666" stroke-width="0.7"/>
<text x="300.3" y="187.5" font-size="4.8" text-anchor="middle" fill="#222" stroke="#222" stroke-width="0.1" transform="rotate(-90 300.3 187.5)">2</text>
<line x1="302.5" y1="178.1" x2="304.4" y2="178.1" stroke="#666" stroke-width="0.7"/>
<text x="300.3" y="178.1" font-size="4.8" text-anchor="middle" fill="#222" stroke="#222" stroke-width="0.1" transform="rotate(-90 300.3 178.1)">3</text>
<line x1="302.5" y1="168.6" x2="304.4" y2="168.6" stroke="#666" stroke-width="0.7"/>
<text x="300.3" y="168.6" font-size="4.8" text-anchor="middle" fill="#222" stroke="#222" stroke-width="0.1" transform="rotate(-90 300.3 168.6)">4</text>
<line x1="302.5" y1="159.2" x2="304.4" y2="159.2" stroke="#666" stroke-width="0.7"/>
<text x="300.3" y="159.2" font-size="4.8" text-anchor="middle" fill="#222" stroke="#222" stroke-width="0.1" transform="rotate(-90 300.3 159.2)">5</text>
<line x1="304.4" y1="206.4" x2="304.4" y2="208.5" stroke="#666" stroke-width="0.7"/>
<text x="304.4" y="215.9" font-size="5.5" text-anchor="middle" fill="#222" stroke="#222" stroke-width="0.1">0</text>
<line x1="322.5" y1="206.4" x2="322.5" y2="208.5" stroke="#666" stroke-width="0.7"/>
<text x="322.5" y="215.9" font-size="5.5" text-anchor="middle" fill="#222" stroke="#222" stroke-width="0.1">2</text>
<line x1="340.6" y1="206.4" x2="340.6" y2="208.5" stroke="#666" stroke-width="0.7"/>
<text x="340.6" y="215.9" font-size="5.5" text-anchor="middle" fill="#222" stroke="#222" stroke-width="0.1">4</text>
<line x1="358.8" y1="206.4" x2="358.8" y2="208.5" stroke="#666" stroke-width="0.7"/>
<text x="358.8" y="215.9" font-size="5.5" text-anchor="middle" fill="#222" stroke="#222" stroke-width="0.1">6</text>
<line x1="376.9" y1="206.4" x2="376.9" y2="208.5" stroke="#666" stroke-width="0.7"/>
<text x="376.9" y="215.9" font-size="5.5" text-anchor="middle" fill="#222" stroke="#222" stroke-width="0.1">8</text>
<line x1="395" y1="206.4" x2="395" y2="208.5" stroke="#666" stroke-width="0.7"/>
<text x="395" y="215.9" font-size="5.5" text-anchor="middle" fill="#222" stroke="#222" stroke-width="0.1">10</text>
<line x1="413.1" y1="206.4" x2="413.1" y2="208.5" stroke="#666" stroke-width="0.7"/>
<text x="413.1" y="215.9" font-size="5.5" text-anchor="middle" fill="#222" stroke="#222" stroke-width="0.1">12</text>
<line x1="431.2" y1="206.4" x2="431.2" y2="208.5" stroke="#666" stroke-width="0.7"/>
<text x="431.2" y="215.9" font-size="5.5" text-anchor="middle" fill="#222" stroke="#222" stroke-width="0.1">14</text>
<line x1="449.4" y1="206.4" x2="449.4" y2="208.5" stroke="#666" stroke-width="0.7"/>
<text x="449.4" y="215.9" font-size="5.5" text-anchor="middle" fill="#222" stroke="#222" stroke-width="0.1">16</text>
<line x1="467.5" y1="206.4" x2="467.5" y2="208.5" stroke="#666" stroke-width="0.7"/>
<text x="467.5" y="215.9" font-size="5.5" text-anchor="middle" fill="#222" stroke="#222" stroke-width="0.1">18</text>
<line x1="485.6" y1="206.4" x2="485.6" y2="208.5" stroke="#666" stroke-width="0.7"/>
<text x="485.6" y="215.9" font-size="5.5" text-anchor="middle" fill="#222" stroke="#222" stroke-width="0.1">20</text>
<text x="395" y="226.7" font-size="6.4" text-anchor="middle" fill="#111" stroke="#111" stroke-width="0.1" textLength="85.6" lengthAdjust="spacingAndGlyphs">Distance along pore length (nm)</text>
<text x="292.2" y="182.8" font-size="6.0" text-anchor="middle" fill="#111" stroke="#111" stroke-width="0.1" transform="rotate(-90 292.2 182.8)" textLength="50.6" lengthAdjust="spacingAndGlyphs">Axial distance (nm)</text>
<text x="487.3" y="184.7" font-size="6.1" text-anchor="start" fill="#444" stroke="#444" stroke-width="0.1">BS2</text>
<clipPath id="cp2"><rect x="304.2" y="247.3" width="180.5" height="43.8"/></clipPath>
<path d="M305.2,289.7h.01M307.9,289.7h.01M311,289.7h.01M314,289.6h.01M317.6,289.5h.01M320.7,289.6h.01M323.9,289.6h.01M327,289.7h.01M330.3,289.5h.01M333.5,289.6h.01M336.8,289.6h.01M339.8,289.6h.01M342.9,289.7h.01M346.6,289.4h.01M349.6,289.7h.01M352.9,289.7h.01M356,289.7h.01M359.2,289.7h.01M362.4,289.7h.01M365.6,289.6h.01M368.9,289.7h.01M371.9,289.5h.01M375.4,289.6h.01M378.5,289.6h.01M381.5,289.7h.01M384.9,289.6h.01M388.1,289.7h.01M391.2,289.6h.01M394.2,289.4h.01M397.5,289.6h.01M400.8,289.7h.01M403.9,289.4h.01M407,289.4h.01M410,289.7h.01M412.9,289.7h.01M417,289.4h.01M420,289.7h.01M423,289.4h.01M426,289.7h.01M429.4,289.3h.01M432.4,289.7h.01M435.5,289.7h.01M438.5,289.4h.01M441.7,289.6h.01M445,289.4h.01M448.2,289.7h.01M451.5,289.7h.01M454.6,289.6h.01M457.7,289.7h.01M461.3,289.5h.01M464.5,289.6h.01M467.6,289.6h.01M470.7,289.6h.01M473.8,289.7h.01M476.9,289.7h.01M480.4,289.5h.01M483.5,289.7h.01M306.4,286.8h.01M309.5,286.8h.01M312.7,286.6h.01M315.7,287.1h.01M319.2,286.7h.01M322.2,287h.01M325.5,286.9h.01M328.7,286.8h.01M332,286.8h.01M335.6,287.1h.01M338.8,286.3h.01M341.8,286.6h.01M344.7,287h.01M348.1,286.7h.01M351.2,287h.01M354.8,286.8h.01M357.9,286.8h.01M360.9,286.9h.01M364.1,286.9h.01M367.3,287h.01M370.8,286.4h.01M373.8,287h.01M376.9,286.9h.01M380,286.9h.01M383.2,287h.01M386.5,286.9h.01M389.6,286.7h.01M392.7,286.7h.01M396,286.9h.01M399.1,286.9h.01M402.2,286.8h.01M405.4,286.7h.01M408.8,286.8h.01M411.9,286.5h.01M414.8,287.4h.01M418.2,286.5h.01M421.3,286.8h.01M431.3,286.7h.01M434.4,286.7h.01M437.4,286.4h.01M440.4,286.7h.01M443.5,286.7h.01M447.1,286.7h.01M450.2,286.8h.01M453.3,286.6h.01M456.3,286.8h.01M459.4,287.1h.01M463,286.9h.01M466.1,286.9h.01M469.4,286.7h.01M472.6,286.8h.01M475.7,286.4h.01M478.8,286.8h.01M482.6,286.6h.01M305.2,283.9h.01M307.9,284h.01M311,283.9h.01M314,283.3h.01M317,284.3h.01M319.9,283.6h.01M322.9,284h.01M327.1,284.2h.01M330.1,283.9h.01M333.1,283.8h.01M336.2,284.4h.01M338.9,283.1h.01M342.9,283.7h.01M346,284.3h.01M349.9,284.1h.01M352.9,284.4h.01M355.7,283.7h.01M358.7,283.8h.01M361.7,283.8h.01M364.7,283.8h.01M367.8,283.9h.01M370.7,283.2h.01M373.7,283.9h.01M376.8,283.8h.01M379.9,283.7h.01M383.1,284h.01M386.1,283.7h.01M435.3,283.2h.01M439.1,283.7h.01M442.2,283.8h.01M445.3,284.1h.01M448.3,283.8h.01M451.4,283.9h.01M454.5,283.6h.01M457.6,283.5h.01M461.1,284.5h.01M463.9,283.3h.01M466.9,283.9h.01M470.5,283.8h.01M473.5,283.7h.01M476.4,283.1h.01M480.3,284h.01M483.8,283h.01M306.4,281.2h.01M309.5,281.1h.01M316.5,281.2h.01M313.7,280h.01M319.4,280.5h.01M322.4,280.5h.01M325,282.1h.01M329.2,279.8h.01M331.9,281h.01M335.7,281.6h.01M336.8,279.1h.01M341.2,281h.01M344.9,281.3h.01M347.9,281.8h.01M350.5,280.3h.01M354,280.7h.01M357,281h.01M360.1,280.9h.01M363.2,281h.01M366.3,281.2h.01M369.3,280.3h.01M373.3,280.8h.01M376.3,280.8h.01M379.3,280h.01M382.1,281h.01M385.8,280.6h.01M443.9,281.2h.01M446.9,281h.01M449.8,281.1h.01M452.7,280.5h.01M457.6,280.3h.01M460.2,281.7h.01M462.8,280.3h.01M465.7,280.7h.01M468.7,281.4h.01M472,280.7h.01M475.1,280.2h.01M478.8,281.3h.01M481.7,281h.01M305.2,278.4h.01M308,278.2h.01M311.1,278.3h.01M314.4,276.8h.01M317.4,278.1h.01M320.7,277.7h.01M323.8,277.6h.01M326.2,279.5h.01M330.2,276.9h.01M333.7,278.4h.01M336.7,276.2h.01M339.5,278.1h.01M342.2,276.8h.01M344.9,278.2h.01M347.9,278.6h.01M352.3,277.9h.01M355.3,277.8h.01M358.3,278.1h.01M361.2,277.7h.01M364.1,277.9h.01M366.9,275.2h.01M369.5,276.9h.01M375.1,277.9h.01M377.9,277.1h.01M380.9,277h.01M383.7,278.3h.01M445.6,278.1h.01M448.7,278.2h.01M451.7,277.4h.01M455,278.7h.01M456.5,276.2h.01M459.2,277.6h.01M465.1,277.4h.01M467.8,278.4h.01M470.8,277.8h.01M475.7,277.1h.01M478.4,278.2h.01M481.3,277.3h.01M483.8,279h.01M305.2,271.9h.01M308.4,275.1h.01M311.6,275.2h.01M314.3,273.6h.01M320,274.7h.01M322.9,274h.01M325.8,273.9h.01M327.2,276.6h.01M331.4,274.1h.01M334.4,274.4h.01M338.6,274h.01M341.6,273.7h.01M344.5,274.8h.01M347.5,275.4h.01M350.5,275.4h.01M353.5,274.4h.01M357.1,275.2h.01M360.1,274.8h.01M363.2,274.9h.01M366.9,278.3h.01M372.2,277.8h.01M373.1,274.8h.01M376.1,274.6h.01M379.3,273.9h.01M447.2,275.4h.01M450.2,274.6h.01M453.6,275h.01M458.2,273.7h.01M461.2,274.5h.01M462.1,277.3h.01M467.3,275.4h.01M470.2,274.6h.01M473,275.6h.01M475.8,274h.01M478.7,275.1h.01M483.8,275.7h.01M305.2,275.1h.01M308.8,271.9h.01M312,271.5h.01M317.7,271.9h.01M317,275h.01M320.7,271.7h.01M323.7,271h.01M327.1,271.2h.01M330.1,271.4h.01M333.2,271.5h.01M336.2,271.8h.01M339.7,271.3h.01M343.6,271.3h.01M346.5,272.4h.01M349.5,272.4h.01M352.4,271.4h.01M355.8,272.4h.01M358.9,272.1h.01M362,271.9h.01M365.2,272.5h.01M368.2,272.5h.01M371.1,272h.01M374,271.7h.01M377,271.6h.01M445,272.3h.01M448.1,272.3h.01M452.2,272.3h.01M455.5,272.6h.01M457.9,270.8h.01M460.9,271.3h.01M463.9,271.8h.01M466.9,272.3h.01M470.6,271.4h.01M475.1,271h.01M478.1,271.8h.01M481,273h.01M483.8,272.3h.01M306.8,269.4h.01M309.8,268.9h.01M312.7,268.2h.01M315.2,270h.01M318,268.8h.01M321.1,268.5h.01M325.8,268.6h.01M328.7,268.4h.01M331.8,268.8h.01M334.8,268.8h.01M338.2,268.6h.01M341.3,268.7h.01M344.3,268.3h.01M347,269.4h.01M350,268.9h.01M352.9,268.3h.01M357.1,269.6h.01M360.2,269.1h.01M363.1,268.6h.01M366.7,269.8h.01M370.2,269h.01M372.8,267.4h.01M375.6,266.3h.01M379.7,270.7h.01M447.4,269.3h.01M450.4,269.7h.01M454.2,269.8h.01M456.4,267.9h.01M459.6,268h.01M465.1,268.8h.01M468.1,269.5h.01M470.5,267.8h.01M473.5,268.3h.01M477.7,268.6h.01M480.6,269.8h.01M483.6,269.1h.01M305.2,266.9h.01M308.1,266.3h.01M311.1,265.5h.01M315,266.2h.01M317.8,265.7h.01M323.5,266.7h.01M323.5,263.7h.01M326.8,265.6h.01M330.6,265.9h.01M333.6,265.3h.01M336.5,266.1h.01M340.2,265.8h.01M343.2,265.4h.01M347.3,266.2h.01M350.2,265.2h.01M355.6,267.1h.01M356,264.2h.01M359.1,266.2h.01M362.8,265.4h.01M365.6,266.9h.01M368.6,266.2h.01M374.4,263.5h.01M377.7,268.6h.01M378.7,265.5h.01M445.6,266.8h.01M449.1,266.5h.01M452.4,267.6h.01M454.8,265.3h.01M457.6,264.4h.01M462.3,267.5h.01M464.7,265.5h.01M467.6,266.4h.01M471.6,264.9h.01M475.7,266.3h.01M478.4,264.7h.01M480.8,266.7h.01M305.8,263.8h.01M309,262.3h.01M312.7,262.8h.01M315.9,263.2h.01M319,262.7h.01M320.9,265.4h.01M326.4,262.5h.01M329.1,263.3h.01M332.1,262.6h.01M335.2,262.7h.01M338.2,263.5h.01M341.4,262.9h.01M345.5,263.5h.01M348.3,262.6h.01M351.2,262.1h.01M353.1,264.5h.01M357.9,261.9h.01M360.5,263.4h.01M363.9,262.5h.01M366.4,264h.01M369.2,262.9h.01M371.6,264.5h.01M377.2,262.8h.01M380.2,262.8h.01M446.9,264.2h.01M451.6,264.6h.01M452.3,261.8h.01M455.5,262.3h.01M460.6,265h.01M462.5,262.7h.01M465.6,262.5h.01M468.6,262.7h.01M471.5,261.8h.01M474.8,263.3h.01M481,263h.01M483.5,265.1h.01M305.2,260.4h.01M308.1,259.2h.01M311.3,259.9h.01M314.4,260.1h.01M317.5,259.7h.01M320.6,260.2h.01M323.9,260.5h.01M326.8,259.3h.01M329.8,260.2h.01M333.3,259.7h.01M336.6,259.8h.01M339.6,260.4h.01M343.9,261h.01M346.6,259.8h.01M349.6,259.4h.01M352.6,259.6h.01M355.7,259.8h.01M359,259.1h.01M361.6,260.4h.01M364.5,259.3h.01M367.3,260.4h.01M371.7,261.2h.01M374.6,260.3h.01M378.5,260h.01M381.6,260h.01M443,259.8h.01M445.9,261.2h.01M449,259.7h.01M449.6,262.7h.01M454.2,259.3h.01M458.2,260.9h.01M461.1,259.9h.01M464.1,259.8h.01M467.8,259.6h.01M470.8,258.8h.01M473.7,259.4h.01M476.5,260.7h.01M479.5,260.2h.01M483.8,261.9h.01M305.7,257.2h.01M310.2,256.9h.01M313.3,257.1h.01M316.4,256.7h.01M319.6,257.1h.01M322.6,257.7h.01M325.4,256.4h.01M328.7,256.8h.01M332.5,256.7h.01M335.6,256.8h.01M339.3,257.2h.01M342.1,255.7h.01M342.1,258.6h.01M347.7,256.8h.01M351.1,256.7h.01M354.3,256.9h.01M357.2,256.6h.01M358.5,253.7h.01M364,256.3h.01M366.9,257.4h.01M370.9,258.2h.01M372.9,255.8h.01M375.6,257.3h.01M378.6,256.9h.01M381.6,256.8h.01M440.7,257.5h.01M443.7,256.6h.01M446.3,258.2h.01M448.5,256.1h.01M451.5,257.2h.01M454.6,256.5h.01M457.5,257.4h.01M461,256.8h.01M465.8,257.2h.01M468.8,256.4h.01M472.7,256.5h.01M475.8,257h.01M480.9,257.3h.01M483.1,254h.01M305.2,254.1h.01M308.1,254.5h.01M311.2,253.8h.01M314.3,253.8h.01M317.4,253.7h.01M320.5,254.1h.01M323.6,253.8h.01M327.3,253.9h.01M330.5,254.2h.01M333.6,253.7h.01M336.7,253.8h.01M339.7,253.7h.01M343.5,253.2h.01M346.4,253.9h.01M349.4,254.1h.01M352.5,254h.01M355.6,254.1h.01M360.3,256.3h.01M362.2,253.8h.01M365.3,253.5h.01M368.2,254.5h.01M371,253.5h.01M375.3,254h.01M378.4,253.8h.01M381.4,253.6h.01M384.5,253.9h.01M387.5,253.8h.01M390.6,253.8h.01M400.4,253.5h.01M413.1,253.6h.01M435.7,253.9h.01M438.7,254.6h.01M441.8,254.1h.01M444.9,253.7h.01M448.7,253.1h.01M451.8,253.4h.01M454.9,253.4h.01M457.9,254.2h.01M461.3,253.7h.01M464.3,254.5h.01M467.3,253.8h.01M470.8,254h.01M474,253.6h.01M477,254h.01M480,254.1h.01M483.8,257h.01M306.2,251.2h.01M309.4,251.1h.01M312.7,251.1h.01M315.9,251h.01M319.2,251.1h.01M322.3,250.9h.01M325.5,251.3h.01M328.5,251h.01M331.7,251.3h.01M335.2,251h.01M338.2,251h.01M341.3,251h.01M344.9,250.6h.01M347.9,251.1h.01M350.9,251.4h.01M354.2,251.3h.01M357.2,250.9h.01M360.3,251.2h.01M363.6,251h.01M367,250.9h.01M370.1,250.6h.01M373.2,251.2h.01M376.3,251h.01M379.7,251h.01M383.2,251h.01M386.3,250.9h.01M389.4,250.9h.01M392.5,251h.01M395.9,251.3h.01M398.9,250.8h.01M402.1,250.9h.01M405.2,251.1h.01M408.3,251.1h.01M411.8,250.9h.01M415,250.9h.01M418.2,251.1h.01M421.5,251.1h.01M424.6,250.9h.01M427.9,250.8h.01M430.9,251.1h.01M434.2,251h.01M437.3,251.2h.01M440.4,251.1h.01M443.5,250.9h.01M446.5,250.9h.01M450.3,250.6h.01M453.5,250.8h.01M456.8,251.1h.01M459.9,251h.01M463.1,250.9h.01M466.2,250.9h.01M469.3,251.1h.01M472.5,251h.01M475.7,251.1h.01M478.9,251h.01M482.3,250.9h.01M305.2,248.1h.01M308.1,248.2h.01M311.2,248.3h.01M314.4,248.1h.01M317.6,248.3h.01M320.8,248.1h.01M324.2,248.4h.01M327.2,248.1h.01M330.3,248.4h.01M333.8,248.1h.01M336.9,248.1h.01M340,248.1h.01M343.1,248.1h.01M346.6,248.1h.01M349.5,248.5h.01M352.6,248.8h.01M355.5,248.4h.01M358.8,248.2h.01M361.8,248.5h.01M365.3,248.1h.01M368.4,248.1h.01M372,248.1h.01M375.1,248.1h.01M378.3,248.1h.01M381.5,248.4h.01M384.6,248.3h.01M387.9,248.1h.01M391,248.2h.01M394.2,248.3h.01M397.3,248.1h.01M400.6,248.1h.01M403.7,248.1h.01M406.8,248.3h.01M409.9,248.5h.01M413.4,248.2h.01M416.7,248.3h.01M419.8,248.3h.01M422.9,248.2h.01M426.1,248.2h.01M429.5,248.2h.01M432.5,248.3h.01M435.7,248.1h.01M438.8,248.3h.01M442,248.1h.01M445.1,248.1h.01M448.2,248.2h.01M452.1,248.2h.01M455.2,248.1h.01M458.3,248.4h.01M461.4,248.1h.01M464.7,248.2h.01M467.8,248.2h.01M470.9,248.4h.01M474.1,248.3h.01M477.2,248.2h.01M480.5,248.3h.01M483.8,248.2h.01" fill="none" stroke="#002020" stroke-width="6.4" stroke-linecap="round" clip-path="url(#cp2)"/>
<path d="M424.4,286.7h.01M427.4,286.9h.01M390.4,283.6h.01M393.5,283.4h.01M396.5,283.9h.01M399.6,283.8h.01M403,283.8h.01M406.1,283.7h.01M409.1,283.6h.01M412.6,283.2h.01M415.3,284.6h.01M419,283.3h.01M422.2,284h.01M425.8,284h.01M429.2,284.5h.01M432.2,283.6h.01M388.9,280.9h.01M392.7,280.4h.01M395.6,280.9h.01M398.5,280.4h.01M401.4,281.1h.01M404.7,280.9h.01M407.7,280.4h.01M410.7,280.8h.01M415.8,281.7h.01M421,280.9h.01M424.1,281.4h.01M429.9,281.5h.01M434.2,280h.01M437.2,280.8h.01M440.8,281.1h.01M387.6,278h.01M390.7,278.2h.01M418.3,279.9h.01M431.4,278.8h.01M439.3,278.4h.01M442.3,277.8h.01M383.3,275.2h.01M386.3,275.3h.01M440.8,274.9h.01M444.2,275.3h.01M382.2,272.4h.01M385.1,272.4h.01M441.8,271.9h.01M382.4,269.1h.01M385.4,269.3h.01M440.7,268.9h.01M443.8,269.4h.01M381.7,266h.01M385.2,265.6h.01M442.6,266.3h.01M383.2,263.2h.01M386.2,262.5h.01M437.9,262.9h.01M440.7,263.8h.01M443.8,263.4h.01M384.6,259.8h.01M387.9,259.8h.01M411.1,257.4h.01M434.8,259.7h.01M438.8,260h.01M386.1,256.6h.01M389.2,256.9h.01M392.3,256.3h.01M395.3,257.4h.01M398.4,257.2h.01M401.4,256.4h.01M404.3,257.7h.01M408.2,256.6h.01M414,256.5h.01M416.6,258.1h.01M420.4,257.3h.01M423.5,256.8h.01M426.6,257.1h.01M431.2,257.3h.01M434.2,256.6h.01M437.1,257.4h.01M393.9,253.8h.01M397.4,254.2h.01M403.6,254.1h.01M406.7,253.9h.01M410,253.8h.01M416.8,254.7h.01M420.3,254.1h.01M423.4,253.7h.01M426.5,253.6h.01M429.3,254.8h.01M432.6,253.8h.01" fill="none" stroke="#001a1a" stroke-width="3.7" stroke-linecap="round"/>
<g class="p">
<circle cx="370.7" cy="283.2"/><circle cx="438.8" cy="248.3"/><circle cx="330.3" cy="248.4"/><circle cx="347.9" cy="251.1"/><circle cx="434.4" cy="286.7"/><circle cx="349.5" cy="272.4"/><circle cx="432.5" cy="248.3"/><circle cx="394.2" cy="248.3"/><circle cx="320.7" cy="271.7"/><circle cx="317.6" cy="248.3"/><circle cx="359.1" cy="266.2"/><circle cx="326.4" cy="262.5"/><circle cx="471.5" cy="261.8"/><circle cx="317.7" cy="271.9"/><circle cx="379.7" cy="270.7"/><circle cx="325" cy="282.1"/><circle cx="400.6" cy="248.1"/><circle cx="378.5" cy="260"/><circle cx="460.9" cy="271.3"/><circle cx="424.6" cy="250.9"/><circle cx="345.5" cy="263.5"/><circle cx="314.4" cy="260.1"/><circle cx="446.5" cy="250.9"/><circle cx="473.7" cy="259.4"/><circle cx="421.5" cy="262.4"/><circle cx="414.3" cy="273.7"/><circle cx="333.2" cy="271.5"/><circle cx="458.3" cy="248.4"/><circle cx="481.7" cy="281"/><circle cx="403" cy="283.8"/><circle cx="320" cy="274.7"/><circle cx="445.6" cy="266.8"/><circle cx="434.8" cy="259.7"/><circle cx="446.3" cy="258.2"/><circle cx="419.8" cy="248.3"/><circle cx="355.7" cy="259.8"/><circle cx="330.1" cy="283.9"/><circle cx="305.2" cy="266.9"/><circle cx="451.4" cy="283.9"/><circle cx="355.3" cy="277.8"/><circle cx="478.7" cy="275.1"/><circle cx="365.3" cy="248.1"/><circle cx="410" cy="253.8"/><circle cx="362.8" cy="265.4"/><circle cx="320.9" cy="265.4"/><circle cx="336.5" cy="266.1"/><circle cx="363.1" cy="268.6"/><circle cx="482.6" cy="286.6"/><circle cx="455.5" cy="272.6"/><circle cx="335.6" cy="256.8"/><circle cx="367" cy="250.9"/><circle cx="338.8" cy="286.3"/><circle cx="475.1" cy="280.2"/><circle cx="419" cy="283.3"/><circle cx="439.3" cy="278.4"/><circle cx="366.9" cy="257.4"/><circle cx="333.1" cy="283.8"/><circle cx="394.2" cy="289.4"/><circle cx="382.2" cy="272.4"/><circle cx="346.6" cy="248.1"/><circle cx="341.6" cy="273.7"/><circle cx="440.7" cy="257.5"/><circle cx="384.6" cy="248.3"/><circle cx="319.2" cy="286.7"/><circle cx="350.2" cy="265.2"/><circle cx="427.9" cy="250.8"/><circle cx="445.1" cy="248.1"/><circle cx="323.7" cy="271"/><circle cx="420" cy="289.7"/><circle cx="434.2" cy="280"/><circle cx="312.7" cy="268.2"/><circle cx="390.4" cy="283.6"/><circle cx="362.4" cy="289.7"/><circle cx="378.3" cy="248.1"/><circle cx="454.2" cy="269.8"/><circle cx="480.5" cy="248.3"/><circle cx="344.3" cy="268.3"/><circle cx="406.8" cy="248.3"/><circle cx="352.6" cy="248.8"/><circle cx="343.9" cy="261"/><circle cx="332.1" cy="262.6"/><circle cx="421.3" cy="286.8"/><circle cx="453.6" cy="275"/><circle cx="346.6" cy="259.8"/><circle cx="326.8" cy="265.6"/><circle cx="375.4" cy="289.6"/><circle cx="327.2" cy="248.1"/><circle cx="366.4" cy="264"/><circle cx="320.7" cy="277.7"/><circle cx="314" cy="283.3"/><circle cx="314.3" cy="273.6"/><circle cx="454.6" cy="256.5"/><circle cx="442.6" cy="266.3"/><circle cx="339.5" cy="278.1"/><circle cx="441.8" cy="254.1"/><circle cx="352.6" cy="259.6"/><circle cx="368.2" cy="254.5"/><circle cx="475.7" cy="286.4"/><circle cx="353.5" cy="274.4"/><circle cx="476.5" cy="260.7"/><circle cx="368.2" cy="272.5"/><circle cx="453.3" cy="286.6"/><circle cx="448.7" cy="253.1"/><circle cx="336.2" cy="271.8"/><circle cx="327.2" cy="276.6"/><circle cx="364.1" cy="286.9"/><circle cx="375.6" cy="266.3"/><circle cx="369.2" cy="262.9"/><circle cx="368.9" cy="289.7"/><circle cx="329.1" cy="263.3"/><circle cx="311.1" cy="278.3"/><circle cx="376.8" cy="283.8"/><circle cx="427.4" cy="286.9"/><circle cx="387.9" cy="259.8"/><circle cx="379.7" cy="251"/><circle cx="483.8" cy="272.3"/><circle cx="432.4" cy="289.7"/><circle cx="376.3" cy="251"/><circle cx="352.3" cy="277.9"/><circle cx="305.2" cy="248.1"/><circle cx="408.2" cy="256.6"/><circle cx="361.7" cy="283.8"/><circle cx="399.6" cy="283.8"/><circle cx="313.7" cy="280"/><circle cx="447.2" cy="275.4"/><circle cx="333.8" cy="248.1"/><circle cx="314" cy="289.6"/><circle cx="323.8" cy="277.6"/><circle cx="466.9" cy="272.3"/><circle cx="411.1" cy="257.4"/><circle cx="457.6" cy="264.4"/><circle cx="357.1" cy="269.6"/><circle cx="470.8" cy="258.8"/><circle cx="338.2" cy="268.6"/><circle cx="451.5" cy="257.2"/><circle cx="344.9" cy="250.6"/><circle cx="452.7" cy="280.5"/><circle cx="481" cy="263"/><circle cx="463.9" cy="283.3"/><circle cx="382.1" cy="281"/><circle cx="393.9" cy="253.8"/><circle cx="355.8" cy="272.4"/><circle cx="456.8" cy="251.1"/><circle cx="475.7" cy="277.1"/><circle cx="454.9" cy="253.4"/><circle cx="477" cy="254"/><circle cx="359.2" cy="289.7"/><circle cx="480.8" cy="266.7"/><circle cx="355.5" cy="248.4"/><circle cx="467.3" cy="275.4"/><circle cx="358.3" cy="278.1"/><circle cx="376.9" cy="286.9"/><circle cx="467.8" cy="248.2"/><circle cx="309.8" cy="268.9"/><circle cx="435.7" cy="248.1"/><circle cx="383.2" cy="251"/><circle cx="346.6" cy="289.4"/><circle cx="475.7" cy="251.1"/><circle cx="389.6" cy="286.7"/><circle cx="385.2" cy="265.6"/><circle cx="357" cy="281"/><circle cx="355.6" cy="267.1"/><circle cx="333.5" cy="289.6"/><circle cx="448.5" cy="256.1"/><circle cx="314.4" cy="276.8"/><circle cx="399.1" cy="286.9"/><circle cx="371" cy="253.5"/><circle cx="442.3" cy="277.8"/><circle cx="311.1" cy="265.5"/><circle cx="473" cy="275.6"/><circle cx="468.1" cy="269.5"/><circle cx="375.1" cy="277.9"/><circle cx="341.4" cy="262.9"/><circle cx="386.3" cy="275.3"/><circle cx="469.3" cy="251.1"/><circle cx="349.6" cy="289.7"/><circle cx="448.1" cy="272.3"/><circle cx="308.1" cy="259.2"/><circle cx="352.4" cy="271.4"/><circle cx="398.9" cy="250.8"/><circle cx="312" cy="271.5"/><circle cx="317.4" cy="278.1"/><circle cx="330.6" cy="265.9"/><circle cx="441.8" cy="271.9"/><circle cx="400.8" cy="289.7"/><circle cx="339.3" cy="257.2"/><circle cx="371.9" cy="289.5"/><circle cx="431.3" cy="286.7"/><circle cx="309.5" cy="286.8"/><circle cx="469.4" cy="286.7"/><circle cx="396.1" cy="261.5"/><circle cx="361.6" cy="260.4"/><circle cx="465.1" cy="277.4"/><circle cx="347.7" cy="256.8"/><circle cx="467.8" cy="259.6"/><circle cx="365.6" cy="289.6"/><circle cx="483.8" cy="283"/><circle cx="472.6" cy="286.8"/><circle cx="466.1" cy="286.9"/><circle cx="478.8" cy="286.8"/><circle cx="351.2" cy="287"/><circle cx="450.2" cy="274.6"/><circle cx="375.3" cy="254"/><circle cx="381.7" cy="266"/><circle cx="346" cy="284.3"/><circle cx="413.1" cy="253.6"/><circle cx="448.3" cy="283.8"/><circle cx="457.5" cy="257.4"/><circle cx="308" cy="278.2"/><circle cx="396" cy="286.9"/><circle cx="330.2" cy="276.9"/><circle cx="478.4" cy="264.7"/><circle cx="411.9" cy="286.5"/><circle cx="350.5" cy="275.4"/><circle cx="373.3" cy="280.8"/><circle cx="323.5" cy="263.7"/><circle cx="381.4" cy="253.6"/><circle cx="311.2" cy="253.8"/><circle cx="476.9" cy="289.7"/><circle cx="349.9" cy="284.1"/><circle cx="456.5" cy="276.2"/><circle cx="331.4" cy="274.1"/><circle cx="435.5" cy="289.7"/><circle cx="441.7" cy="289.6"/><circle cx="454.5" cy="283.6"/><circle cx="360.3" cy="256.3"/><circle cx="322.3" cy="250.9"/><circle cx="403.7" cy="248.1"/><circle cx="349.5" cy="248.5"/><circle cx="366.3" cy="281.2"/><circle cx="327.3" cy="253.9"/><circle cx="462.8" cy="280.3"/><circle cx="446.9" cy="281"/><circle cx="381.6" cy="260"/><circle cx="369.3" cy="280.3"/><circle cx="319" cy="262.7"/><circle cx="452.4" cy="267.6"/><circle cx="314.3" cy="253.8"/><circle cx="474" cy="253.6"/><circle cx="341.2" cy="281"/><circle cx="395.9" cy="251.3"/><circle cx="342.9" cy="283.7"/><circle cx="420.3" cy="254.1"/><circle cx="452.3" cy="261.8"/><circle cx="459.4" cy="287.1"/><circle cx="343.5" cy="253.2"/><circle cx="372.2" cy="277.8"/><circle cx="437.1" cy="257.4"/><circle cx="472.7" cy="256.5"/><circle cx="470.5" cy="267.8"/><circle cx="414" cy="256.5"/><circle cx="459.2" cy="277.6"/><circle cx="381.5" cy="248.4"/><circle cx="341.8" cy="286.6"/><circle cx="362" cy="271.9"/><circle cx="392.5" cy="251"/><circle cx="397.3" cy="248.1"/><circle cx="470.8" cy="254"/><circle cx="443.9" cy="281.2"/><circle cx="336.2" cy="284.4"/><circle cx="483.8" cy="248.2"/><circle cx="305.2" cy="254.1"/><circle cx="327.1" cy="284.2"/><circle cx="480.4" cy="289.5"/><circle cx="377.7" cy="268.6"/><circle cx="401.4" cy="281.1"/><circle cx="418.2" cy="286.5"/><circle cx="336.7" cy="253.8"/><circle cx="311" cy="289.7"/><circle cx="412.6" cy="283.2"/><circle cx="467.3" cy="253.8"/><circle cx="374.4" cy="263.5"/><circle cx="347.5" cy="275.4"/><circle cx="306.2" cy="251.2"/><circle cx="306.8" cy="269.4"/><circle cx="358.5" cy="253.7"/><circle cx="470.9" cy="248.4"/><circle cx="339.7" cy="271.3"/><circle cx="321.1" cy="268.5"/><circle cx="426" cy="289.7"/><circle cx="458.2" cy="273.7"/><circle cx="416.6" cy="258.1"/><circle cx="483.6" cy="269.1"/><circle cx="384.5" cy="253.9"/><circle cx="330.1" cy="271.4"/><circle cx="347" cy="269.4"/><circle cx="377" cy="271.6"/><circle cx="448.2" cy="289.7"/><circle cx="473.8" cy="289.7"/><circle cx="361.8" cy="248.5"/><circle cx="379.3" cy="280"/><circle cx="407" cy="289.4"/><circle cx="306.4" cy="286.8"/><circle cx="443.8" cy="263.4"/><circle cx="328.7" cy="256.8"/><circle cx="383.2" cy="263.2"/><circle cx="383.1" cy="284"/><circle cx="315" cy="266.2"/><circle cx="372.8" cy="267.4"/><circle cx="444.9" cy="253.7"/><circle cx="307.9" cy="289.7"/><circle cx="403.6" cy="254.1"/><circle cx="456.4" cy="267.9"/><circle cx="342.1" cy="255.7"/><circle cx="325.8" cy="273.9"/><circle cx="462.5" cy="262.7"/><circle cx="380.2" cy="262.8"/><circle cx="350" cy="268.9"/><circle cx="341.3" cy="268.7"/><circle cx="363.2" cy="281"/><circle cx="440.7" cy="263.8"/><circle cx="440.8" cy="274.9"/><circle cx="315.7" cy="287.1"/><circle cx="482.3" cy="250.9"/><circle cx="370.2" cy="269"/><circle cx="364.5" cy="259.3"/><circle cx="457.9" cy="270.8"/><circle cx="377.2" cy="262.8"/><circle cx="323.5" cy="266.7"/><circle cx="327" cy="289.7"/><circle cx="322.6" cy="257.7"/><circle cx="333.3" cy="259.7"/><circle cx="392.3" cy="256.3"/><circle cx="316.4" cy="256.7"/><circle cx="426.6" cy="257.1"/><circle cx="380.9" cy="277"/><circle cx="378.7" cy="265.5"/><circle cx="364.1" cy="277.9"/><circle cx="363.6" cy="251"/><circle cx="317" cy="275"/><circle cx="311" cy="283.9"/><circle cx="381.5" cy="289.7"/><circle cx="434.2" cy="256.6"/><circle cx="361.2" cy="277.7"/><circle cx="352.9" cy="268.3"/><circle cx="354.8" cy="286.8"/><circle cx="385.4" cy="269.3"/><circle cx="462.1" cy="277.3"/><circle cx="461.2" cy="274.5"/><circle cx="309.4" cy="251.1"/><circle cx="465.8" cy="257.2"/><circle cx="349.6" cy="259.4"/><circle cx="470.2" cy="274.6"/><circle cx="336.6" cy="259.8"/><circle cx="305.2" cy="275.1"/><circle cx="410.7" cy="280.8"/><circle cx="305.2" cy="278.4"/><circle cx="424.4" cy="286.7"/><circle cx="451.5" cy="289.7"/><circle cx="379.9" cy="283.7"/><circle cx="480.6" cy="269.8"/><circle cx="445.9" cy="261.2"/><circle cx="387.9" cy="248.1"/><circle cx="376.3" cy="280.8"/><circle cx="383.2" cy="287"/><circle cx="429.9" cy="281.5"/><circle cx="449.1" cy="266.5"/><circle cx="453.5" cy="250.8"/><circle cx="367.3" cy="287"/><circle cx="425.8" cy="284"/><circle cx="432.6" cy="253.8"/><circle cx="339.6" cy="260.4"/><circle cx="353.1" cy="264.5"/><circle cx="370.1" cy="250.6"/><circle cx="385.8" cy="280.6"/><circle cx="342.9" cy="289.7"/><circle cx="438.5" cy="289.4"/><circle cx="330.5" cy="254.2"/><circle cx="403.9" cy="289.4"/><circle cx="442.2" cy="283.8"/><circle cx="305.2" cy="271.9"/><circle cx="426.5" cy="253.6"/><circle cx="443.5" cy="286.7"/><circle cx="362.2" cy="253.8"/><circle cx="366.9" cy="275.2"/><circle cx="319.4" cy="280.5"/><circle cx="470.7" cy="289.6"/><circle cx="305.2" cy="289.7"/><circle cx="311.3" cy="259.9"/><circle cx="307.9" cy="284"/><circle cx="396.5" cy="283.9"/><circle cx="480" cy="254.1"/><circle cx="392.7" cy="280.4"/><circle cx="325.8" cy="268.6"/><circle cx="323.6" cy="253.8"/><circle cx="317.5" cy="259.7"/><circle cx="369.5" cy="276.9"/><circle cx="455" cy="278.7"/><circle cx="326.2" cy="279.5"/><circle cx="393.5" cy="283.4"/><circle cx="347.9" cy="281.8"/><circle cx="352.5" cy="254"/><circle cx="429.2" cy="284.5"/><circle cx="322.9" cy="274"/><circle cx="366.9" cy="278.3"/><circle cx="427.9" cy="277.4"/><circle cx="336.9" cy="248.1"/><circle cx="373.7" cy="283.9"/><circle cx="378.4" cy="253.8"/><circle cx="346.5" cy="272.4"/><circle cx="475.7" cy="266.3"/><circle cx="384.6" cy="259.8"/><circle cx="404.3" cy="257.7"/><circle cx="319.6" cy="257.1"/><circle cx="365.6" cy="266.9"/><circle cx="440.7" cy="268.9"/><circle cx="461.1" cy="259.9"/><circle cx="355.6" cy="254.1"/><circle cx="462.3" cy="267.5"/><circle cx="371.6" cy="264.5"/><circle cx="330.3" cy="289.5"/><circle cx="483.8" cy="279"/><circle cx="317.8" cy="265.7"/><circle cx="387.6" cy="278"/><circle cx="464.5" cy="289.6"/><circle cx="402.1" cy="250.9"/><circle cx="388.1" cy="289.7"/><circle cx="336.7" cy="276.2"/><circle cx="329.2" cy="279.8"/><circle cx="338.9" cy="283.1"/><circle cx="456.3" cy="286.8"/><circle cx="386.2" cy="262.5"/><circle cx="481.3" cy="277.3"/><circle cx="315.9" cy="263.2"/><circle cx="472.5" cy="251"/><circle cx="312.7" cy="251.1"/><circle cx="432.2" cy="283.6"/><circle cx="357.9" cy="261.9"/><circle cx="315.2" cy="270"/><circle cx="460.6" cy="265"/><circle cx="466.9" cy="283.9"/><circle cx="483.5" cy="265.1"/><circle cx="308.1" cy="248.2"/><circle cx="402.2" cy="286.8"/><circle cx="415.3" cy="284.6"/><circle cx="445.3" cy="284.1"/><circle cx="338.6" cy="274"/><circle cx="386.5" cy="286.9"/><circle cx="328.7" cy="268.4"/><circle cx="363.9" cy="262.5"/><circle cx="329.8" cy="260.2"/><circle cx="415.8" cy="281.7"/><circle cx="470.6" cy="271.4"/><circle cx="409.9" cy="248.5"/><circle cx="413.4" cy="248.2"/><circle cx="422.2" cy="284"/><circle cx="311.2" cy="248.3"/><circle cx="452.1" cy="248.2"/><circle cx="467.8" cy="278.4"/><circle cx="465.6" cy="262.5"/><circle cx="358.8" cy="248.2"/><circle cx="421" cy="280.9"/><circle cx="464.3" cy="254.5"/><circle cx="331.7" cy="251.3"/><circle cx="370.9" cy="258.2"/><circle cx="342.1" cy="258.6"/><circle cx="364.7" cy="283.8"/><circle cx="397.4" cy="254.2"/><circle cx="472" cy="280.7"/><circle cx="366.7" cy="269.8"/><circle cx="451.6" cy="264.6"/><circle cx="372.9" cy="255.8"/><circle cx="319.2" cy="251.1"/><circle cx="374.6" cy="260.3"/><circle cx="474.8" cy="263.3"/><circle cx="416.7" cy="248.3"/><circle cx="474.1" cy="248.3"/><circle cx="451.7" cy="277.4"/><circle cx="308.1" cy="266.3"/><circle cx="398.4" cy="257.2"/><circle cx="375.6" cy="257.3"/><circle cx="336.8" cy="279.1"/><circle cx="360.5" cy="263.4"/><circle cx="444.2" cy="275.3"/><circle cx="408.8" cy="286.8"/><circle cx="359" cy="259.1"/><circle cx="408.3" cy="251.1"/><circle cx="386.3" cy="250.9"/><circle cx="314.4" cy="248.1"/><circle cx="395.3" cy="257.4"/><circle cx="437.2" cy="280.8"/><circle cx="445.6" cy="278.1"/><circle cx="470.8" cy="277.8"/><circle cx="388.9" cy="280.9"/><circle cx="383.7" cy="278.3"/><circle cx="319.9" cy="283.6"/><circle cx="430.9" cy="251.1"/><circle cx="420.4" cy="257.3"/><circle cx="367.3" cy="260.4"/><circle cx="471.6" cy="264.9"/><circle cx="470.5" cy="283.8"/><circle cx="449" cy="259.7"/><circle cx="397.5" cy="289.6"/><circle cx="443.7" cy="256.6"/><circle cx="435.7" cy="253.9"/><circle cx="339.8" cy="289.6"/><circle cx="461.1" cy="284.5"/><circle cx="478.4" cy="278.2"/><circle cx="465.1" cy="268.8"/><circle cx="333.6" cy="265.3"/><circle cx="356" cy="264.2"/><circle cx="332" cy="286.8"/><circle cx="317.4" cy="253.7"/><circle cx="358.7" cy="283.8"/><circle cx="440.8" cy="281.1"/><circle cx="373.2" cy="251.2"/><circle cx="343.1" cy="248.1"/><circle cx="457.7" cy="289.7"/><circle cx="468.6" cy="262.7"/><circle cx="349.4" cy="254.1"/><circle cx="451.8" cy="253.4"/><circle cx="341.3" cy="251"/><circle cx="308.1" cy="254.5"/><circle cx="354.2" cy="251.3"/><circle cx="308.4" cy="275.1"/><circle cx="377.9" cy="277.1"/><circle cx="414.8" cy="287.4"/><circle cx="311.6" cy="275.2"/><circle cx="325.4" cy="256.4"/><circle cx="365.2" cy="272.5"/><circle cx="477.2" cy="248.2"/><circle cx="312.7" cy="286.6"/><circle cx="368.4" cy="248.1"/><circle cx="336.8" cy="289.6"/><circle cx="411.8" cy="250.9"/><circle cx="316.5" cy="281.2"/><circle cx="335.7" cy="281.6"/><circle cx="406.1" cy="283.7"/><circle cx="457.6" cy="283.5"/><circle cx="461.3" cy="253.7"/><circle cx="360.3" cy="251.2"/><circle cx="443.8" cy="269.4"/><circle cx="483.8" cy="257"/><circle cx="412.9" cy="289.7"/><circle cx="475.8" cy="257"/><circle cx="437.9" cy="262.9"/><circle cx="348.1" cy="286.7"/><circle cx="467.6" cy="266.4"/><circle cx="389.2" cy="256.9"/><circle cx="423.4" cy="253.7"/><circle cx="310.2" cy="256.9"/><circle cx="350.9" cy="251.4"/><circle cx="481" cy="273"/><circle cx="455.2" cy="248.1"/><circle cx="410" cy="289.7"/><circle cx="457.9" cy="254.2"/><circle cx="464.7" cy="248.2"/><circle cx="350.5" cy="280.3"/><circle cx="347.3" cy="266.2"/><circle cx="461.3" cy="289.5"/><circle cx="339.7" cy="253.7"/><circle cx="373.8" cy="287"/><circle cx="468.8" cy="256.4"/><circle cx="390.6" cy="253.8"/><circle cx="333.6" cy="253.7"/><circle cx="424.1" cy="281.4"/><circle cx="463.9" cy="271.8"/><circle cx="395.6" cy="280.9"/><circle cx="305.2" cy="260.4"/><circle cx="357.2" cy="250.9"/><circle cx="483.8" cy="261.9"/><circle cx="423.5" cy="256.8"/><circle cx="391" cy="248.2"/><circle cx="461.4" cy="248.1"/><circle cx="324.2" cy="248.4"/><circle cx="447.4" cy="269.3"/><circle cx="475.8" cy="274"/><circle cx="335.2" cy="251"/><circle cx="449.6" cy="262.7"/><circle cx="477.7" cy="268.6"/><circle cx="429.5" cy="248.2"/><circle cx="463" cy="286.9"/><circle cx="461" cy="256.8"/><circle cx="378.5" cy="289.6"/><circle cx="313.3" cy="257.1"/><circle cx="454.2" cy="259.3"/><circle cx="454.8" cy="265.3"/><circle cx="409.1" cy="283.6"/><circle cx="380" cy="286.9"/><circle cx="431.2" cy="257.3"/><circle cx="306.4" cy="281.2"/><circle cx="325.5" cy="251.3"/><circle cx="423" cy="289.4"/><circle cx="426.1" cy="248.2"/><circle cx="340" cy="248.1"/><circle cx="357.1" cy="275.2"/><circle cx="347.9" cy="278.6"/><circle cx="344.5" cy="274.8"/><circle cx="400.4" cy="253.5"/><circle cx="365.3" cy="253.5"/><circle cx="443" cy="259.8"/><circle cx="445" cy="289.4"/><circle cx="452.2" cy="272.3"/><circle cx="468.7" cy="281.4"/><circle cx="398.5" cy="280.4"/><circle cx="335.6" cy="287.1"/><circle cx="371.7" cy="261.2"/><circle cx="326.8" cy="259.3"/><circle cx="401.4" cy="256.4"/><circle cx="437.4" cy="286.4"/><circle cx="389.4" cy="250.9"/><circle cx="443.5" cy="250.9"/><circle cx="305.7" cy="257.2"/><circle cx="483.8" cy="275.7"/><circle cx="475.1" cy="271"/><circle cx="331.9" cy="281"/><circle cx="483.5" cy="289.7"/><circle cx="446.9" cy="264.2"/><circle cx="463.1" cy="250.9"/><circle cx="315.9" cy="251"/><circle cx="360.2" cy="269.1"/><circle cx="373.1" cy="274.8"/><circle cx="322.2" cy="287"/><circle cx="352.9" cy="289.7"/><circle cx="435.3" cy="283.2"/><circle cx="346.4" cy="253.9"/><circle cx="479.5" cy="260.2"/><circle cx="450.2" cy="286.8"/><circle cx="434.2" cy="251"/><circle cx="320.5" cy="254.1"/><circle cx="459.9" cy="251"/><circle cx="331.8" cy="268.8"/><circle cx="448.7" cy="278.2"/><circle cx="480.3" cy="284"/><circle cx="392.7" cy="286.7"/><circle cx="367.8" cy="283.9"/><circle cx="354" cy="280.7"/><circle cx="352.9" cy="284.4"/><circle cx="379.3" cy="273.9"/><circle cx="342.2" cy="276.8"/><circle cx="364" cy="256.3"/><circle cx="455.5" cy="262.3"/><circle cx="447.1" cy="286.7"/><circle cx="320.7" cy="289.6"/><circle cx="421.5" cy="251.1"/><circle cx="351.1" cy="256.7"/><circle cx="406.7" cy="253.9"/><circle cx="445" cy="272.3"/><circle cx="473.5" cy="283.7"/><circle cx="308.8" cy="271.9"/><circle cx="405.4" cy="286.7"/><circle cx="323.9" cy="289.6"/><circle cx="328.7" cy="286.8"/><circle cx="458.2" cy="260.9"/><circle cx="325.5" cy="286.9"/><circle cx="464.1" cy="259.8"/><circle cx="370.8" cy="286.4"/><circle cx="351.2" cy="262.1"/><circle cx="333.7" cy="278.4"/><circle cx="391.2" cy="289.6"/><circle cx="450.4" cy="269.7"/><circle cx="381.6" cy="256.8"/><circle cx="323.9" cy="260.5"/><circle cx="374" cy="271.7"/><circle cx="478.1" cy="271.8"/><circle cx="360.9" cy="286.9"/><circle cx="466.2" cy="250.9"/><circle cx="363.2" cy="274.9"/><circle cx="404.7" cy="280.9"/><circle cx="354.3" cy="256.9"/><circle cx="375.1" cy="248.1"/><circle cx="332.5" cy="256.7"/><circle cx="459.6" cy="268"/><circle cx="317.6" cy="289.5"/><circle cx="450.3" cy="250.6"/><circle cx="383.3" cy="275.2"/><circle cx="320.6" cy="260.2"/><circle cx="405.2" cy="251.1"/><circle cx="322.9" cy="284"/><circle cx="338.2" cy="263.5"/><circle cx="368.6" cy="266.2"/><circle cx="348.3" cy="262.6"/><circle cx="429.3" cy="254.8"/><circle cx="438.7" cy="254.6"/><circle cx="344.7" cy="287"/><circle cx="417" cy="289.4"/><circle cx="407.7" cy="280.4"/><circle cx="357.2" cy="256.6"/><circle cx="418.2" cy="251.1"/><circle cx="384.9" cy="289.6"/><circle cx="355.7" cy="283.7"/><circle cx="335.2" cy="262.7"/><circle cx="343.6" cy="271.3"/><circle cx="357.9" cy="286.8"/><circle cx="356" cy="289.7"/><circle cx="371.1" cy="272"/><circle cx="376.1" cy="274.6"/><circle cx="483.1" cy="254"/><circle cx="372" cy="248.1"/><circle cx="429.4" cy="289.3"/><circle cx="480.9" cy="257.3"/><circle cx="422.9" cy="248.2"/><circle cx="320.8" cy="248.1"/><circle cx="431.4" cy="278.8"/><circle cx="338.2" cy="251"/><circle cx="305.8" cy="263.8"/><circle cx="360.1" cy="280.9"/><circle cx="386.1" cy="256.6"/><circle cx="449.8" cy="281.1"/><circle cx="386.1" cy="283.7"/><circle cx="334.4" cy="274.4"/><circle cx="437.3" cy="251.2"/><circle cx="473.5" cy="268.3"/><circle cx="467.6" cy="289.6"/><circle cx="478.9" cy="251"/><circle cx="439.1" cy="283.7"/><circle cx="416.8" cy="254.7"/><circle cx="478.8" cy="281.3"/><circle cx="476.4" cy="283.1"/><circle cx="360.1" cy="274.8"/><circle cx="309" cy="262.3"/><circle cx="343.2" cy="265.4"/><circle cx="305.2" cy="283.9"/><circle cx="440.4" cy="286.7"/><circle cx="390.7" cy="278.2"/><circle cx="344.9" cy="281.3"/><circle cx="464.7" cy="265.5"/><circle cx="340.2" cy="265.8"/><circle cx="460.2" cy="281.7"/><circle cx="309.5" cy="281.1"/><circle cx="327.1" cy="271.2"/><circle cx="415" cy="250.9"/><circle cx="387.5" cy="253.8"/><circle cx="334.8" cy="268.8"/><circle cx="457.6" cy="280.3"/><circle cx="312.7" cy="262.8"/><circle cx="318" cy="268.8"/><circle cx="322.4" cy="280.5"/><circle cx="378.6" cy="256.9"/><circle cx="438.8" cy="260"/><circle cx="317" cy="284.3"/><circle cx="328.5" cy="251"/><circle cx="448.2" cy="248.2"/><circle cx="440.4" cy="251.1"/><circle cx="442" cy="248.1"/><circle cx="454.6" cy="289.6"/><circle cx="382.4" cy="269.1"/><circle cx="385.1" cy="272.4"/><circle cx="465.7" cy="280.7"/><circle cx="344.9" cy="278.2"/><circle cx="418.3" cy="279.9"/><circle cx="358.9" cy="272.1"/>
</g>
<path d="M303.6,292.4 V245.6 H485.0 V292.4" fill="none" stroke="#7c7c7c" stroke-width="0.9"/>
<rect x="303.2" y="291.8" width="182.2" height="1.9" fill="#959595"/>
<line x1="301.7" y1="292.4" x2="303.6" y2="292.4" stroke="#666" stroke-width="0.7"/>
<text x="299.3" y="294.1" font-size="4.9" text-anchor="end" fill="#222" stroke="#222" stroke-width="0.1">0</text>
<line x1="301.7" y1="283" x2="303.6" y2="283" stroke="#666" stroke-width="0.7"/>
<text x="299.3" y="284.7" font-size="4.9" text-anchor="end" fill="#222" stroke="#222" stroke-width="0.1">1</text>
<line x1="301.7" y1="273.7" x2="303.6" y2="273.7" stroke="#666" stroke-width="0.7"/>
<text x="299.3" y="275.4" font-size="4.9" text-anchor="end" fill="#222" stroke="#222" stroke-width="0.1">2</text>
<line x1="301.7" y1="264.3" x2="303.6" y2="264.3" stroke="#666" stroke-width="0.7"/>
<text x="299.3" y="266" font-size="4.9" text-anchor="end" fill="#222" stroke="#222" stroke-width="0.1">3</text>
<line x1="301.7" y1="255" x2="303.6" y2="255" stroke="#666" stroke-width="0.7"/>
<text x="299.3" y="256.7" font-size="4.9" text-anchor="end" fill="#222" stroke="#222" stroke-width="0.1">4</text>
<line x1="301.7" y1="245.6" x2="303.6" y2="245.6" stroke="#666" stroke-width="0.7"/>
<text x="299.3" y="247.3" font-size="4.9" text-anchor="end" fill="#222" stroke="#222" stroke-width="0.1">5</text>
<line x1="303.6" y1="292.4" x2="303.6" y2="294.5" stroke="#666" stroke-width="0.7"/>
<text x="303.6" y="301.9" font-size="5.5" text-anchor="middle" fill="#222" stroke="#222" stroke-width="0.1">0</text>
<line x1="321.7" y1="292.4" x2="321.7" y2="294.5" stroke="#666" stroke-width="0.7"/>
<text x="321.7" y="301.9" font-size="5.5" text-anchor="middle" fill="#222" stroke="#222" stroke-width="0.1">2</text>
<line x1="339.9" y1="292.4" x2="339.9" y2="294.5" stroke="#666" stroke-width="0.7"/>
<text x="339.9" y="301.9" font-size="5.5" text-anchor="middle" fill="#222" stroke="#222" stroke-width="0.1">4</text>
<line x1="358" y1="292.4" x2="358" y2="294.5" stroke="#666" stroke-width="0.7"/>
<text x="358" y="301.9" font-size="5.5" text-anchor="middle" fill="#222" stroke="#222" stroke-width="0.1">6</text>
<line x1="376.2" y1="292.4" x2="376.2" y2="294.5" stroke="#666" stroke-width="0.7"/>
<text x="376.2" y="301.9" font-size="5.5" text-anchor="middle" fill="#222" stroke="#222" stroke-width="0.1">8</text>
<line x1="394.3" y1="292.4" x2="394.3" y2="294.5" stroke="#666" stroke-width="0.7"/>
<text x="394.3" y="301.9" font-size="5.5" text-anchor="middle" fill="#222" stroke="#222" stroke-width="0.1">10</text>
<line x1="412.4" y1="292.4" x2="412.4" y2="294.5" stroke="#666" stroke-width="0.7"/>
<text x="412.4" y="301.9" font-size="5.5" text-anchor="middle" fill="#222" stroke="#222" stroke-width="0.1">12</text>
<line x1="430.6" y1="292.4" x2="430.6" y2="294.5" stroke="#666" stroke-width="0.7"/>
<text x="430.6" y="301.9" font-size="5.5" text-anchor="middle" fill="#222" stroke="#222" stroke-width="0.1">14</text>
<line x1="448.7" y1="292.4" x2="448.7" y2="294.5" stroke="#666" stroke-width="0.7"/>
<text x="448.7" y="301.9" font-size="5.5" text-anchor="middle" fill="#222" stroke="#222" stroke-width="0.1">16</text>
<line x1="466.9" y1="292.4" x2="466.9" y2="294.5" stroke="#666" stroke-width="0.7"/>
<text x="466.9" y="301.9" font-size="5.5" text-anchor="middle" fill="#222" stroke="#222" stroke-width="0.1">18</text>
<line x1="485" y1="292.4" x2="485" y2="294.5" stroke="#666" stroke-width="0.7"/>
<text x="485" y="301.9" font-size="5.5" text-anchor="middle" fill="#222" stroke="#222" stroke-width="0.1">20</text>
<text x="394.3" y="312.7" font-size="6.4" text-anchor="middle" fill="#111" stroke="#111" stroke-width="0.1" textLength="85.6" lengthAdjust="spacingAndGlyphs">Distance along pore length (nm)</text>
<text x="290.3" y="269" font-size="6.0" text-anchor="middle" fill="#111" stroke="#111" stroke-width="0.1" transform="rotate(-90 290.3 269)" textLength="50.6" lengthAdjust="spacingAndGlyphs">Axial distance (nm)</text>
<text x="486.7" y="270.9" font-size="6.1" text-anchor="start" fill="#444" stroke="#444" stroke-width="0.1">BS3</text>
<rect x="301.6" y="325.8" width="181.4" height="2.4" fill="#a8a8a8"/>
<clipPath id="cp3"><rect x="302.2" y="328.1" width="180.5" height="43.8"/></clipPath>
<path d="M303.2,370.5h.01M305.9,370.4h.01M309.2,370.2h.01M312.4,370.4h.01M315.5,370.3h.01M318.6,370.4h.01M322,370.5h.01M325.1,370.5h.01M328.1,370.3h.01M331.4,370.5h.01M334.5,370.5h.01M338,370.3h.01M341.2,370.2h.01M344.3,370.4h.01M347.4,370.5h.01M350.4,370.5h.01M353.7,370.5h.01M356.7,370.3h.01M360.1,370.3h.01M363.2,370.5h.01M366.5,370.3h.01M369.8,370.5h.01M373,370.5h.01M376.3,370.5h.01M379.4,370.5h.01M382.4,370.5h.01M385.9,370.5h.01M389.1,370.5h.01M392.4,370.5h.01M395.6,370.5h.01M398.9,370.5h.01M402,370.5h.01M405.1,370.5h.01M408.2,370.3h.01M411.3,370.4h.01M414.6,369.9h.01M418,370.2h.01M421.1,370.4h.01M424.7,370.4h.01M427.8,370.5h.01M431,370.4h.01M434.2,370.2h.01M437.3,370.4h.01M440.5,370.5h.01M443.6,370.2h.01M446.8,370.5h.01M449.9,370.4h.01M452.9,370.2h.01M456.2,370.2h.01M459.9,370.5h.01M462.9,370.1h.01M466.2,370.5h.01M469.2,370.5h.01M472.7,370.3h.01M475.9,370.5h.01M479,370.5h.01M481.8,370.4h.01M304.2,367.7h.01M307.3,367.7h.01M310.9,367.6h.01M314,367.2h.01M317,367.5h.01M320.4,367.8h.01M323.5,367.7h.01M326.6,367.4h.01M329.9,367.8h.01M333,367.7h.01M336,367.8h.01M340,367.5h.01M343,367.7h.01M346.1,367.5h.01M349.2,367.4h.01M352.2,367.8h.01M355.4,367.4h.01M358.4,367.6h.01M361.5,367.5h.01M365.2,367.5h.01M368.4,367.6h.01M372.1,367.4h.01M375.1,367.7h.01M378.2,367.5h.01M381.3,367.4h.01M384.4,367.6h.01M387.4,367.7h.01M390.7,367.8h.01M394,367.8h.01M397.3,367.8h.01M400.4,367.8h.01M403.5,367.7h.01M406.6,367.6h.01M409.6,367.5h.01M412.7,367.5h.01M416.4,367.5h.01M419.8,367.5h.01M422.9,367.8h.01M426,367.5h.01M429.3,367.7h.01M432.5,367.6h.01M435.8,367.5h.01M438.9,367.7h.01M441.9,367.5h.01M445.3,367.5h.01M448.3,367.6h.01M451.3,367.5h.01M454.4,367.6h.01M458.1,367.8h.01M461.1,367.6h.01M464.7,367.7h.01M467.8,367.6h.01M471,367.7h.01M474.5,367.7h.01M477.6,367.7h.01M480.9,367.5h.01M303.2,364.9h.01M306.1,364.1h.01M309,365.1h.01M312.1,364.7h.01M315.9,364.5h.01M318.9,365h.01M321.9,365h.01M325,364.7h.01M328,364.4h.01M331.1,364.9h.01M335.8,363.5h.01M338,365.4h.01M340.9,364.5h.01M344,364.8h.01M347.7,364.6h.01M350.6,363.6h.01M353.5,364.9h.01M357,364.7h.01M360,364.5h.01M363.4,364.9h.01M366.5,364.6h.01M370.2,365h.01M373.5,363.8h.01M376.3,364.9h.01M379.3,364.5h.01M382.5,364.5h.01M385.8,364.8h.01M388.9,365h.01M392.4,365.1h.01M395.7,365.2h.01M398.8,364.9h.01M401.9,365h.01M405,364.9h.01M408.1,364.8h.01M411.1,364.6h.01M414.5,365h.01M424,364.9h.01M427.7,364.9h.01M433.9,364.8h.01M437,364.6h.01M440.1,365h.01M443.5,364.9h.01M446.4,364h.01M449.8,364.8h.01M452.9,364.9h.01M456,365.1h.01M459,364.8h.01M462.7,365h.01M465.7,364.9h.01M468.7,364.4h.01M471.8,364.6h.01M475,364.6h.01M478,364.6h.01M481.2,364.3h.01M303.9,361.9h.01M307.3,359.9h.01M310.1,362.3h.01M313.8,362.1h.01M315.8,359.7h.01M317.9,362h.01M321.7,361.9h.01M327.4,361.3h.01M330.3,361.8h.01M333.2,362.4h.01M335.7,360.3h.01M338.7,362.4h.01M341.6,361.4h.01M345.4,362.4h.01M348.4,361.5h.01M353.2,361.9h.01M356.3,361.6h.01M359.2,360.7h.01M362,362.2h.01M365,361.8h.01M368,361.8h.01M371,362h.01M374.5,360.7h.01M377,358.9h.01M380.4,361.5h.01M384.6,362h.01M387.8,361.4h.01M390.7,362.4h.01M393.5,361.3h.01M396.4,362.2h.01M400.1,361.6h.01M403.4,362.3h.01M406.4,362h.01M409.5,361.4h.01M438.8,362.1h.01M441.9,362.3h.01M444.7,361.4h.01M448.5,361.8h.01M451.2,360.8h.01M453.9,361.9h.01M456.9,362.2h.01M461,362.5h.01M463.6,361h.01M466.5,362h.01M469.4,361.3h.01M474.5,361.5h.01M477.2,359.6h.01M479.2,361.8h.01M303.2,359h.01M308.7,356.7h.01M310.3,359.3h.01M313.1,358.2h.01M317.6,357.2h.01M319.7,359.4h.01M322.4,358.1h.01M325,359.7h.01M329.6,358.8h.01M332.7,359.3h.01M337,357.5h.01M339.3,359.4h.01M343.1,358.6h.01M346,359.3h.01M348.6,357.8h.01M350.8,359.8h.01M353.8,358.7h.01M356.7,358.4h.01M362,359.1h.01M364.9,358.6h.01M368,358.4h.01M371.1,359h.01M374.3,357.6h.01M377.4,362h.01M380,358.2h.01M382.8,359.4h.01M385.9,359h.01M390.8,359.2h.01M394.2,358.2h.01M397.1,359.2h.01M399.9,357.8h.01M402.4,359.2h.01M405.5,359.1h.01M408.4,358.4h.01M440.8,359.4h.01M443.8,358.4h.01M446.9,359.2h.01M450,357.8h.01M453.3,358.6h.01M456.2,359.1h.01M459.1,360.1h.01M463.3,357.8h.01M466.2,359.1h.01M469,358.1h.01M471.8,359.4h.01M474.5,358.3h.01M480.5,358.7h.01M481.8,361.3h.01M305.4,357.5h.01M306.3,354.8h.01M311.6,355.4h.01M314.7,355.5h.01M317.7,354.1h.01M320.3,355.8h.01M323.2,355.1h.01M326.1,355.2h.01M328.9,355.7h.01M331.6,356.4h.01M334.5,356.2h.01M338.5,354.7h.01M340.8,356.7h.01M345.9,356.3h.01M348.8,354.5h.01M351.3,356.3h.01M354.6,355.8h.01M357.6,355.3h.01M359.6,357.5h.01M364.9,355.5h.01M367.9,355.3h.01M370.8,356h.01M373.4,354.6h.01M377.5,355.8h.01M380.5,355h.01M383.2,356.3h.01M386.2,355.8h.01M389.1,356.6h.01M392,356h.01M397.3,356.1h.01M399.9,354.7h.01M403.3,356.2h.01M406.4,356h.01M441.3,356.3h.01M444.4,355.5h.01M447.5,356.2h.01M450.1,354.7h.01M453,355.5h.01M456.9,356.1h.01M459.7,357.2h.01M461.9,355.1h.01M465.9,356h.01M469.6,355.1h.01M472.6,355.9h.01M475.5,355.4h.01M478.3,356.6h.01M481.8,355.4h.01M303.2,350.5h.01M306,351.9h.01M309.1,353.7h.01M311.9,352.3h.01M314.9,352.3h.01M318.8,351.3h.01M321.5,352.8h.01M324.6,351.7h.01M327.7,352.5h.01M330.7,353.1h.01M333.7,353.2h.01M336.6,352.2h.01M340.4,352.3h.01M343.2,354.8h.01M346.1,353.1h.01M351.2,352.5h.01M354.2,352.7h.01M357.2,352.3h.01M360.3,352h.01M364.3,349.9h.01M366.3,352.6h.01M369.8,352.7h.01M372.6,351.7h.01M375.9,353.1h.01M378.8,352.4h.01M381.8,352h.01M384.5,353.2h.01M387.6,352.8h.01M394.7,354.7h.01M393.8,351.8h.01M397.3,353.1h.01M401.7,352.2h.01M404.7,352.3h.01M407.7,352.9h.01M442.4,353.4h.01M446.6,353.1h.01M449.3,351.7h.01M452.3,352.3h.01M455.3,353.5h.01M459.1,353.9h.01M461.5,351.9h.01M464.3,353.2h.01M467.2,353.4h.01M471.7,352.7h.01M474.7,352.5h.01M478,353.4h.01M480.9,352.4h.01M303.4,353.6h.01M306.2,349h.01M308.8,350.6h.01M311.4,349.3h.01M316.6,349.3h.01M321.4,349.7h.01M324.1,348.5h.01M326.8,349.4h.01M329.7,349.9h.01M332.6,350.3h.01M335.4,349.3h.01M338.5,349.7h.01M341.5,349.3h.01M343.5,351.6h.01M348.8,350.5h.01M352,349.4h.01M355.2,349.7h.01M358.3,349.5h.01M361.3,348.9h.01M363.2,352.8h.01M367.3,349.7h.01M370.4,349.7h.01M375.2,350h.01M378,349.3h.01M381,349h.01M383.9,349.8h.01M386.9,349.3h.01M389.7,350.5h.01M394,348.8h.01M396.8,350h.01M399.9,349.8h.01M402.9,349.3h.01M406.7,349.8h.01M441.2,350.1h.01M444.1,350.9h.01M446.7,350.3h.01M450.8,348.9h.01M454.8,350.6h.01M457.7,350h.01M460.5,348.9h.01M463.5,348.8h.01M465.9,350.5h.01M469.1,351h.01M471.7,349.6h.01M474.7,349.5h.01M479.8,349.4h.01M303.2,347.2h.01M306.8,343.2h.01M308.9,347.5h.01M314,348h.01M316.1,345.9h.01M318.9,347.3h.01M321.8,346.6h.01M325.6,345.9h.01M328.6,346.8h.01M331.6,347.4h.01M334.3,346.1h.01M337.2,346.7h.01M340.3,346.6h.01M343.9,346.9h.01M346.7,348.2h.01M349.7,347.3h.01M352.6,346.2h.01M355.9,346.3h.01M359.1,346.6h.01M363.6,346.7h.01M366.4,345.4h.01M368.9,347h.01M372.2,347h.01M376,347h.01M379.2,346.4h.01M382.4,346.2h.01M385.4,346.5h.01M388.5,346.5h.01M391.2,347.7h.01M395.4,346.3h.01M401.2,346.7h.01M398.2,347.3h.01M404.6,346.8h.01M407.7,346.8h.01M441.2,346.2h.01M443.9,347.8h.01M448,347.8h.01M449.5,345.5h.01M453.5,347.9h.01M457.4,346.9h.01M459.9,345.2h.01M462.9,345.7h.01M466.1,347.3h.01M469,348.1h.01M473,346.7h.01M476.4,346.9h.01M479.3,346.1h.01M481.8,347.2h.01M303.6,344.1h.01M306.2,346.1h.01M310.6,344.9h.01M313.4,343.7h.01M318.2,343.7h.01M321.4,343.6h.01M324.5,343h.01M326.9,340.8h.01M327.9,343.7h.01M332.4,341.8h.01M336.2,343.8h.01M339.2,343.7h.01M342.1,344.1h.01M344.1,340.8h.01M347.9,344.8h.01M350.7,343.7h.01M354.3,343.5h.01M358.5,343.5h.01M361.5,344.5h.01M364.2,343.3h.01M368.1,342.4h.01M370.5,344.4h.01M373.4,343.4h.01M376.4,343.9h.01M380.7,343.6h.01M383.8,343.4h.01M386.9,343.8h.01M390,343.4h.01M392.7,344.7h.01M395.8,343.2h.01M398.7,344.2h.01M401.6,343.5h.01M405.8,343.9h.01M408.9,343.8h.01M412.1,343.7h.01M440.9,343h.01M443.5,344.2h.01M446.4,345.3h.01M450.5,342.7h.01M453.4,342.9h.01M455,345.3h.01M457.2,343.1h.01M464,342.7h.01M466.8,344.1h.01M469.6,345.1h.01M472,343.4h.01M475,343.7h.01M478,343.3h.01M481.8,344h.01M303.2,338.8h.01M304.8,341.1h.01M309.5,342h.01M311.5,337.6h.01M315.6,341.5h.01M318.4,340.5h.01M321.4,340.6h.01M324.3,339.9h.01M329.8,340.3h.01M330.8,344.4h.01M335.2,340.9h.01M338.1,340.8h.01M341.1,340.6h.01M345.1,343.8h.01M347.7,341.6h.01M350.6,340.5h.01M353.6,340.4h.01M356.5,341.3h.01M359.2,340h.01M361.8,341.4h.01M365.6,340.5h.01M369.9,339.8h.01M372.9,340.3h.01M376,340.8h.01M379,340.9h.01M382.7,340.4h.01M385.7,340.9h.01M388.6,340.4h.01M393.1,341.6h.01M395.9,340.4h.01M399.1,341.1h.01M402.4,340.5h.01M405.4,340.7h.01M408.5,340.7h.01M411.6,340.6h.01M414.7,340.2h.01M438.7,339.9h.01M443.3,341h.01M446.8,340.9h.01M449.7,339.9h.01M453.2,339.9h.01M456.3,340.1h.01M460.1,342.2h.01M462.3,340.2h.01M464.4,338h.01M469.2,342h.01M472.8,340.5h.01M476,340.7h.01M479.1,340.4h.01M481.8,340.8h.01M305.7,338.1h.01M308.6,337.5h.01M312.2,340.7h.01M314.5,338.6h.01M317.4,337.6h.01M320.5,337.6h.01M323.5,336.9h.01M326.6,337.6h.01M331.7,337.9h.01M334.6,337.8h.01M337.6,337.7h.01M340.6,337.4h.01M343.6,337.5h.01M346.4,338.8h.01M349.2,337.3h.01M352.2,337.5h.01M355.5,337.6h.01M358.9,337h.01M361.7,338.2h.01M364.7,337.3h.01M367.7,337.5h.01M371.6,337.3h.01M374.6,337.6h.01M377.6,338.1h.01M380.7,338h.01M384.7,337.8h.01M387.7,337.3h.01M391.3,339h.01M394.1,337.8h.01M397.9,338h.01M400.8,337.7h.01M403.9,337.7h.01M406.9,337.9h.01M410.1,337.8h.01M413.4,337.4h.01M416.8,337.8h.01M420.5,335.6h.01M432.3,337.7h.01M435.4,337.9h.01M438.9,336.9h.01M441.9,337.5h.01M444.9,338.3h.01M447.9,337.5h.01M451.4,337.4h.01M454.4,337.1h.01M457.3,337h.01M459.4,339.2h.01M467.2,337.3h.01M466.4,340.6h.01M470.1,338.9h.01M474,337.7h.01M477.1,337.7h.01M480.2,337.5h.01M303.2,335h.01M306,334.9h.01M309.7,334.6h.01M312.8,334.8h.01M315.9,334.8h.01M318.9,334.8h.01M321.9,334.4h.01M325.1,334.3h.01M328.2,334.9h.01M331.3,334.8h.01M334.8,334.7h.01M338,334.6h.01M341.6,334.5h.01M344.7,334.5h.01M347.7,334.5h.01M350.7,334.5h.01M353.8,334.7h.01M356.8,334.7h.01M360.6,334.4h.01M363.5,334.3h.01M366.6,334.4h.01M369.6,334.9h.01M373.3,334.6h.01M376.5,335.1h.01M379.6,335h.01M382.7,334.9h.01M385.8,334.8h.01M389.5,334.8h.01M392.6,335.1h.01M395.7,335.2h.01M398.7,335h.01M401.8,334.7h.01M405.4,335.1h.01M408.5,334.9h.01M411.6,334.9h.01M414.6,334.5h.01M417.6,334.6h.01M424.3,334.4h.01M427.5,334.8h.01M430.9,334.8h.01M434,334.8h.01M437,334.5h.01M440.4,334.2h.01M443.6,334.9h.01M446.7,334.7h.01M449.7,334.8h.01M452.8,334.4h.01M455.8,334.3h.01M459.5,335h.01M462.4,334.6h.01M465.5,334.7h.01M469.6,335.5h.01M472.5,335h.01M475.5,335h.01M478.5,334.8h.01M481.8,335h.01M304.4,331.8h.01M307.7,332.1h.01M311.1,331.8h.01M314.2,332h.01M317.3,331.9h.01M320.3,331.7h.01M323.5,331.7h.01M327.1,331.9h.01M330.1,332h.01M333.4,331.9h.01M336.5,331.9h.01M339.7,332h.01M342.9,331.6h.01M346.1,331.7h.01M349.2,331.7h.01M352.3,331.8h.01M355.4,331.9h.01M358.5,332h.01M361.9,331.7h.01M365.1,331.6h.01M368.6,331.9h.01M371.8,331.8h.01M374.9,331.9h.01M378,332.2h.01M381.1,332h.01M384.2,331.8h.01M387.5,332.1h.01M390.5,331.9h.01M393.7,332.1h.01M397.1,332.3h.01M400.2,331.9h.01M403.5,332.1h.01M406.6,332.1h.01M409.6,332h.01M412.8,331.9h.01M415.9,331.6h.01M419.6,332.1h.01M422.7,331.7h.01M426,331.7h.01M429.1,331.9h.01M432.2,331.9h.01M435.3,331.8h.01M438.4,331.7h.01M441.7,331.5h.01M444.7,331.9h.01M447.8,331.7h.01M450.9,331.9h.01M454.3,331.6h.01M457.5,331.7h.01M460.5,332h.01M463.7,331.7h.01M466.9,332h.01M470,332.1h.01M473.1,331.8h.01M476.6,332.1h.01M480,332h.01M303.2,329.1h.01M306,329.1h.01M309.2,328.9h.01M312.5,329h.01M315.6,329.2h.01M318.7,329h.01M321.9,328.9h.01M325.4,329.3h.01M328.5,329h.01M331.7,329.3h.01M334.8,328.9h.01M338,329.1h.01M341.2,328.9h.01M344.6,328.9h.01M347.7,328.9h.01M350.9,329h.01M353.9,329.1h.01M357,329.3h.01M360.1,329.1h.01M363.4,329h.01M367.1,329.1h.01M370.2,329.2h.01M373.2,328.9h.01M376.4,329.1h.01M379.5,329.3h.01M382.5,329.1h.01M385.8,328.9h.01M388.9,329.2h.01M392.1,329.2h.01M395.2,328.9h.01M398.3,328.9h.01M401.7,329.1h.01M404.8,329.2h.01M407.9,329.3h.01M411.2,329.2h.01M414.3,328.9h.01M417.7,329.1h.01M420.8,329.1h.01M424.3,328.9h.01M427.6,329.1h.01M430.7,329.1h.01M433.7,329.1h.01M436.8,329h.01M439.9,328.9h.01M443.3,328.9h.01M446.4,328.9h.01M449.4,329h.01M452.5,329.1h.01M455.9,328.9h.01M459.2,329.1h.01M462.3,328.9h.01M465.4,329.1h.01M468.5,329.4h.01M471.6,328.9h.01M475,329.3h.01M478.1,329.1h.01M481.2,328.9h.01" fill="none" stroke="#002020" stroke-width="6.4" stroke-linecap="round" clip-path="url(#cp3)"/>
<path d="M418,364.9h.01M421,364.4h.01M430.8,364.7h.01M413.1,362.1h.01M416.2,362.3h.01M419.2,361.7h.01M422.3,361.5h.01M425.5,362.2h.01M429.2,361.7h.01M432.3,361.8h.01M435.4,361.9h.01M411.5,358.1h.01M414.3,359.2h.01M425.4,359.1h.01M430.7,358.9h.01M434.5,358.2h.01M437.4,359.4h.01M409.6,355.4h.01M413,355.3h.01M423.5,356.5h.01M438.1,356.4h.01M411.1,352.6h.01M414.3,352.5h.01M436.6,353.5h.01M439.5,353.7h.01M410.1,349.6h.01M413.2,349.5h.01M435.7,349.5h.01M438.4,350.9h.01M410.7,346.5h.01M413.9,346.4h.01M416.9,345.9h.01M438,347.4h.01M415.1,343.3h.01M418.9,343.6h.01M421.7,344.4h.01M430.2,343.5h.01M433,344.3h.01M435.9,345.1h.01M417.6,340.8h.01M421.8,341.3h.01M425.5,340.6h.01M428.8,340.6h.01M432,340.8h.01M435,341.6h.01M437.8,342.9h.01M419.9,338.8h.01M426.1,337.5h.01M429.2,337.5h.01M423,337.3h.01" fill="none" stroke="#001a1a" stroke-width="3.7" stroke-linecap="round"/>
<g class="p">
<circle cx="335.2" cy="340.9"/><circle cx="481.8" cy="347.2"/><circle cx="361.3" cy="348.9"/><circle cx="457.4" cy="346.9"/><circle cx="406.9" cy="337.9"/><circle cx="392.7" cy="344.7"/><circle cx="334.8" cy="334.7"/><circle cx="442.4" cy="353.4"/><circle cx="472" cy="343.4"/><circle cx="469.6" cy="355.1"/><circle cx="377.6" cy="338.1"/><circle cx="344.1" cy="340.8"/><circle cx="450.5" cy="342.7"/><circle cx="321.7" cy="361.9"/><circle cx="342.1" cy="344.1"/><circle cx="357.6" cy="355.3"/><circle cx="463.3" cy="357.8"/><circle cx="481.8" cy="340.8"/><circle cx="429.3" cy="367.7"/><circle cx="324.5" cy="343"/><circle cx="430.2" cy="343.5"/><circle cx="443.9" cy="347.8"/><circle cx="393.5" cy="361.3"/><circle cx="439.5" cy="353.7"/><circle cx="469.4" cy="361.3"/><circle cx="368.1" cy="342.4"/><circle cx="416.9" cy="345.9"/><circle cx="356.3" cy="361.6"/><circle cx="361.7" cy="338.2"/><circle cx="461.9" cy="355.1"/><circle cx="318.9" cy="365"/><circle cx="361.9" cy="331.7"/><circle cx="384.4" cy="367.6"/><circle cx="461" cy="362.5"/><circle cx="363.4" cy="329"/><circle cx="303.2" cy="364.9"/><circle cx="478" cy="343.3"/><circle cx="472.5" cy="335"/><circle cx="366.3" cy="352.6"/><circle cx="479" cy="370.5"/><circle cx="312.4" cy="370.4"/><circle cx="425.5" cy="362.2"/><circle cx="403.9" cy="337.7"/><circle cx="314" cy="367.2"/><circle cx="459.4" cy="339.2"/><circle cx="394.7" cy="354.7"/><circle cx="435.7" cy="349.5"/><circle cx="339.2" cy="343.7"/><circle cx="398.2" cy="347.3"/><circle cx="402.4" cy="359.2"/><circle cx="394.1" cy="337.8"/><circle cx="369.9" cy="339.8"/><circle cx="323.2" cy="355.1"/><circle cx="358.5" cy="332"/><circle cx="378" cy="332.2"/><circle cx="456.9" cy="362.2"/><circle cx="382.8" cy="359.4"/><circle cx="461.5" cy="351.9"/><circle cx="481.2" cy="328.9"/><circle cx="462.7" cy="365"/><circle cx="447.5" cy="356.2"/><circle cx="396.8" cy="350"/><circle cx="386.2" cy="355.8"/><circle cx="407.7" cy="346.8"/><circle cx="346.1" cy="353.1"/><circle cx="378.8" cy="352.4"/><circle cx="462.3" cy="340.2"/><circle cx="350.7" cy="343.7"/><circle cx="323.5" cy="367.7"/><circle cx="365.1" cy="331.6"/><circle cx="363.2" cy="370.5"/><circle cx="477.2" cy="359.6"/><circle cx="328.1" cy="370.3"/><circle cx="437.4" cy="359.4"/><circle cx="385.9" cy="370.5"/><circle cx="346.1" cy="367.5"/><circle cx="318.7" cy="329"/><circle cx="475.9" cy="370.5"/><circle cx="318.4" cy="340.5"/><circle cx="331.4" cy="370.5"/><circle cx="353.8" cy="358.7"/><circle cx="417.7" cy="329.1"/><circle cx="475.5" cy="335"/><circle cx="398.9" cy="370.5"/><circle cx="350.7" cy="334.5"/><circle cx="350.6" cy="363.6"/><circle cx="479.8" cy="349.4"/><circle cx="373" cy="370.5"/><circle cx="379.4" cy="370.5"/><circle cx="332.4" cy="341.8"/><circle cx="441.9" cy="362.3"/><circle cx="311.4" cy="349.3"/><circle cx="394.2" cy="358.2"/><circle cx="480.9" cy="367.5"/><circle cx="350.9" cy="329"/><circle cx="443.6" cy="370.2"/><circle cx="479.1" cy="340.4"/><circle cx="327.9" cy="343.7"/><circle cx="306.2" cy="349"/><circle cx="309.1" cy="353.7"/><circle cx="415.1" cy="343.3"/><circle cx="307.3" cy="367.7"/><circle cx="469.1" cy="351"/><circle cx="406.7" cy="349.8"/><circle cx="332.7" cy="359.3"/><circle cx="385.8" cy="334.8"/><circle cx="306.1" cy="364.1"/><circle cx="353.2" cy="361.9"/><circle cx="431.3" cy="351.2"/><circle cx="395.7" cy="335.2"/><circle cx="397.1" cy="359.2"/><circle cx="376.3" cy="370.5"/><circle cx="464.3" cy="353.2"/><circle cx="372.2" cy="347"/><circle cx="309.5" cy="342"/><circle cx="324.6" cy="351.7"/><circle cx="340" cy="367.5"/><circle cx="440.5" cy="370.5"/><circle cx="459.1" cy="353.9"/><circle cx="397.3" cy="356.1"/><circle cx="476" cy="340.7"/><circle cx="334.6" cy="337.8"/><circle cx="309.2" cy="370.2"/><circle cx="411.6" cy="340.6"/><circle cx="364.9" cy="355.5"/><circle cx="379" cy="340.9"/><circle cx="374.3" cy="357.6"/><circle cx="426.1" cy="337.5"/><circle cx="358.3" cy="349.5"/><circle cx="341.2" cy="370.2"/><circle cx="360.1" cy="329.1"/><circle cx="437" cy="334.5"/><circle cx="409.6" cy="332"/><circle cx="424.3" cy="328.9"/><circle cx="388.6" cy="340.4"/><circle cx="352.6" cy="346.2"/><circle cx="325.1" cy="370.5"/><circle cx="478" cy="364.6"/><circle cx="381" cy="349"/><circle cx="398.3" cy="328.9"/><circle cx="346.7" cy="348.2"/><circle cx="348.8" cy="350.5"/><circle cx="321.9" cy="365"/><circle cx="441.9" cy="337.5"/><circle cx="309.7" cy="334.6"/><circle cx="428.8" cy="340.6"/><circle cx="417.6" cy="334.6"/><circle cx="440.8" cy="359.4"/><circle cx="421.7" cy="344.4"/><circle cx="318.6" cy="370.4"/><circle cx="352" cy="349.4"/><circle cx="397.1" cy="332.3"/><circle cx="374.5" cy="360.7"/><circle cx="446.9" cy="359.2"/><circle cx="453" cy="355.5"/><circle cx="319.7" cy="359.4"/><circle cx="321.8" cy="346.6"/><circle cx="427.6" cy="329.1"/><circle cx="317" cy="367.5"/><circle cx="330.8" cy="344.4"/><circle cx="383.9" cy="349.8"/><circle cx="323.5" cy="331.7"/><circle cx="304.2" cy="367.7"/><circle cx="459.9" cy="370.5"/><circle cx="379.3" cy="364.5"/><circle cx="332.6" cy="350.3"/><circle cx="481.8" cy="344"/><circle cx="371" cy="362"/><circle cx="347.9" cy="344.8"/><circle cx="443.3" cy="341"/><circle cx="330.1" cy="332"/><circle cx="406.4" cy="362"/><circle cx="367.3" cy="349.7"/><circle cx="382.4" cy="346.2"/><circle cx="443.6" cy="334.9"/><circle cx="367.9" cy="355.3"/><circle cx="314.2" cy="332"/><circle cx="456" cy="365.1"/><circle cx="361.5" cy="344.5"/><circle cx="453.2" cy="339.9"/><circle cx="359.6" cy="357.5"/><circle cx="480" cy="332"/><circle cx="363.2" cy="352.8"/><circle cx="314" cy="348"/><circle cx="315.9" cy="334.8"/><circle cx="393.7" cy="332.1"/><circle cx="333.2" cy="362.4"/><circle cx="344.3" cy="370.4"/><circle cx="438.8" cy="362.1"/><circle cx="308.7" cy="356.7"/><circle cx="331.3" cy="334.8"/><circle cx="399.9" cy="357.8"/><circle cx="443.8" cy="358.4"/><circle cx="405" cy="364.9"/><circle cx="432" cy="340.8"/><circle cx="368" cy="361.8"/><circle cx="474.5" cy="367.7"/><circle cx="441.2" cy="346.2"/><circle cx="416.4" cy="367.5"/><circle cx="324.3" cy="339.9"/><circle cx="397.3" cy="353.1"/><circle cx="474.7" cy="349.5"/><circle cx="481.2" cy="364.3"/><circle cx="465.7" cy="364.9"/><circle cx="405.1" cy="370.5"/><circle cx="325" cy="364.7"/><circle cx="355.2" cy="349.7"/><circle cx="452.9" cy="370.2"/><circle cx="471.7" cy="349.6"/><circle cx="452.5" cy="329.1"/><circle cx="338" cy="334.6"/><circle cx="391.3" cy="339"/><circle cx="437" cy="364.6"/><circle cx="351.2" cy="352.5"/><circle cx="398.7" cy="335"/><circle cx="451.4" cy="337.4"/><circle cx="440.4" cy="334.2"/><circle cx="379.6" cy="335"/><circle cx="303.4" cy="353.6"/><circle cx="311.1" cy="331.8"/><circle cx="355.4" cy="367.4"/><circle cx="305.9" cy="370.4"/><circle cx="369.6" cy="334.9"/><circle cx="348.6" cy="357.8"/><circle cx="466.4" cy="340.6"/><circle cx="321.4" cy="349.7"/><circle cx="397.3" cy="367.8"/><circle cx="371.1" cy="359"/><circle cx="466.8" cy="344.1"/><circle cx="333.4" cy="331.9"/><circle cx="435" cy="341.6"/><circle cx="398.8" cy="364.9"/><circle cx="430.8" cy="364.7"/><circle cx="367.7" cy="337.5"/><circle cx="430.7" cy="329.1"/><circle cx="432.5" cy="367.6"/><circle cx="318.2" cy="343.7"/><circle cx="449.7" cy="334.8"/><circle cx="468.7" cy="364.4"/><circle cx="325.1" cy="334.3"/><circle cx="410.7" cy="346.5"/><circle cx="338" cy="365.4"/><circle cx="470" cy="332.1"/><circle cx="343.2" cy="354.8"/><circle cx="360.6" cy="334.4"/><circle cx="336.2" cy="343.8"/><circle cx="476.6" cy="332.1"/><circle cx="392.6" cy="335.1"/><circle cx="450" cy="357.8"/><circle cx="435.4" cy="337.9"/><circle cx="389.7" cy="350.5"/><circle cx="329.6" cy="358.8"/><circle cx="376.4" cy="343.9"/><circle cx="353.7" cy="370.5"/><circle cx="311.9" cy="352.3"/><circle cx="427.5" cy="334.8"/><circle cx="455.3" cy="353.5"/><circle cx="384.7" cy="337.8"/><circle cx="349.2" cy="331.7"/><circle cx="318.8" cy="351.3"/><circle cx="363.4" cy="364.9"/><circle cx="304.8" cy="341.1"/><circle cx="339.7" cy="332"/><circle cx="432.3" cy="337.7"/><circle cx="303.2" cy="359"/><circle cx="334.3" cy="346.1"/><circle cx="383.8" cy="343.4"/><circle cx="329.9" cy="367.8"/><circle cx="335.7" cy="360.3"/><circle cx="464" cy="342.7"/><circle cx="364.2" cy="343.3"/><circle cx="303.2" cy="335"/><circle cx="315.6" cy="329.2"/><circle cx="478.5" cy="334.8"/><circle cx="372.6" cy="351.7"/><circle cx="403.5" cy="367.7"/><circle cx="385.9" cy="359"/><circle cx="476.4" cy="346.9"/><circle cx="377.4" cy="362"/><circle cx="414.3" cy="352.5"/><circle cx="430.7" cy="358.9"/><circle cx="323.5" cy="336.9"/><circle cx="366.5" cy="370.3"/><circle cx="339.3" cy="359.4"/><circle cx="306" cy="351.9"/><circle cx="450.1" cy="354.7"/><circle cx="331.7" cy="337.9"/><circle cx="394" cy="348.8"/><circle cx="387.6" cy="352.8"/><circle cx="455" cy="345.3"/><circle cx="389.5" cy="334.8"/><circle cx="418.9" cy="343.6"/><circle cx="303.6" cy="344.1"/><circle cx="409.5" cy="361.4"/><circle cx="422.7" cy="331.7"/><circle cx="376.5" cy="335.1"/><circle cx="306" cy="334.9"/><circle cx="480.2" cy="337.5"/><circle cx="434.2" cy="370.2"/><circle cx="444.7" cy="331.9"/><circle cx="446.4" cy="328.9"/><circle cx="478.1" cy="329.1"/><circle cx="373.2" cy="328.9"/><circle cx="387.5" cy="332.1"/><circle cx="360" cy="364.5"/><circle cx="377" cy="358.9"/><circle cx="321.9" cy="334.4"/><circle cx="363.6" cy="346.7"/><circle cx="444.4" cy="355.5"/><circle cx="362" cy="362.2"/><circle cx="414.6" cy="369.9"/><circle cx="328.9" cy="355.7"/><circle cx="466.2" cy="359.1"/><circle cx="434" cy="334.8"/><circle cx="340.9" cy="364.5"/><circle cx="469" cy="348.1"/><circle cx="326.6" cy="337.6"/><circle cx="322" cy="370.5"/><circle cx="381.8" cy="352"/><circle cx="401.7" cy="352.2"/><circle cx="305.4" cy="357.5"/><circle cx="341.6" cy="361.4"/><circle cx="435.9" cy="345.1"/><circle cx="366.6" cy="334.4"/><circle cx="317.4" cy="337.6"/><circle cx="306.2" cy="346.1"/><circle cx="330.3" cy="361.8"/><circle cx="317.9" cy="362"/><circle cx="407.9" cy="329.3"/><circle cx="465.5" cy="334.7"/><circle cx="462.9" cy="370.1"/><circle cx="460.5" cy="332"/><circle cx="466.9" cy="332"/><circle cx="441.3" cy="356.3"/><circle cx="436.8" cy="329"/><circle cx="423.5" cy="356.5"/><circle cx="317.7" cy="354.1"/><circle cx="387.7" cy="337.3"/><circle cx="419.9" cy="338.8"/><circle cx="453.9" cy="361.9"/><circle cx="382.7" cy="340.4"/><circle cx="452.9" cy="364.9"/><circle cx="459.1" cy="360.1"/><circle cx="377.5" cy="355.8"/><circle cx="398.7" cy="344.2"/><circle cx="404.7" cy="352.3"/><circle cx="410.1" cy="349.6"/><circle cx="314.7" cy="355.5"/><circle cx="345.9" cy="356.3"/><circle cx="463.5" cy="348.8"/><circle cx="306.8" cy="343.2"/><circle cx="401.6" cy="343.5"/><circle cx="440.1" cy="365"/><circle cx="381.1" cy="332"/><circle cx="376.3" cy="364.9"/><circle cx="413" cy="355.3"/><circle cx="326.9" cy="340.8"/><circle cx="477.6" cy="367.7"/><circle cx="457.3" cy="337"/><circle cx="314.9" cy="352.3"/><circle cx="411.2" cy="329.2"/><circle cx="373.3" cy="334.6"/><circle cx="401.2" cy="346.7"/><circle cx="418" cy="370.2"/><circle cx="456.3" cy="340.1"/><circle cx="405.4" cy="340.7"/><circle cx="317.6" cy="357.2"/><circle cx="472.8" cy="340.5"/><circle cx="422.3" cy="361.5"/><circle cx="347.7" cy="334.5"/><circle cx="385.7" cy="340.9"/><circle cx="326.8" cy="349.4"/><circle cx="318.9" cy="347.3"/><circle cx="411.6" cy="334.9"/><circle cx="355.4" cy="331.9"/><circle cx="405.4" cy="335.1"/><circle cx="421" cy="364.4"/><circle cx="335.4" cy="349.3"/><circle cx="467.2" cy="337.3"/><circle cx="393.1" cy="341.6"/><circle cx="355.5" cy="337.6"/><circle cx="368.4" cy="367.6"/><circle cx="303.2" cy="350.5"/><circle cx="381.3" cy="367.4"/><circle cx="460.5" cy="348.9"/><circle cx="453.3" cy="358.6"/><circle cx="325.6" cy="345.9"/><circle cx="309.2" cy="328.9"/><circle cx="380.7" cy="343.6"/><circle cx="311.5" cy="337.6"/><circle cx="391.2" cy="347.7"/><circle cx="392" cy="356"/><circle cx="469.2" cy="370.5"/><circle cx="384.6" cy="362"/><circle cx="345.1" cy="343.8"/><circle cx="408.4" cy="358.4"/><circle cx="324.1" cy="348.5"/><circle cx="453.5" cy="347.9"/><circle cx="305.7" cy="338.1"/><circle cx="463.7" cy="331.7"/><circle cx="340.4" cy="352.3"/><circle cx="411.1" cy="352.6"/><circle cx="479.3" cy="346.1"/><circle cx="408.5" cy="340.7"/><circle cx="356.7" cy="370.3"/><circle cx="312.5" cy="329"/><circle cx="395.8" cy="343.2"/><circle cx="438.4" cy="331.7"/><circle cx="328.6" cy="346.8"/><circle cx="412.8" cy="331.9"/><circle cx="444.7" cy="361.4"/><circle cx="370.8" cy="356"/><circle cx="380" cy="358.2"/><circle cx="344.6" cy="328.9"/><circle cx="448.5" cy="361.8"/><circle cx="416.2" cy="362.3"/><circle cx="459" cy="364.8"/><circle cx="417.6" cy="340.8"/><circle cx="354.6" cy="355.8"/><circle cx="466.2" cy="370.5"/><circle cx="308.6" cy="337.5"/><circle cx="419.8" cy="367.5"/><circle cx="338.5" cy="349.7"/><circle cx="310.3" cy="359.3"/><circle cx="409.6" cy="355.4"/><circle cx="368" cy="358.4"/><circle cx="462.9" cy="345.7"/><circle cx="427.8" cy="370.5"/><circle cx="344.7" cy="334.5"/><circle cx="309" cy="365.1"/><circle cx="347.7" cy="341.6"/><circle cx="387.4" cy="367.7"/><circle cx="462.3" cy="328.9"/><circle cx="449.5" cy="345.5"/><circle cx="438.9" cy="367.7"/><circle cx="403.4" cy="362.3"/><circle cx="457.2" cy="343.1"/><circle cx="479.2" cy="361.8"/><circle cx="318.9" cy="334.8"/><circle cx="472.7" cy="370.3"/><circle cx="337.6" cy="337.7"/><circle cx="411.3" cy="370.4"/><circle cx="405.5" cy="359.1"/><circle cx="334.5" cy="356.2"/><circle cx="348.4" cy="361.5"/><circle cx="370.5" cy="344.4"/><circle cx="436.6" cy="353.5"/><circle cx="321.9" cy="328.9"/><circle cx="303.9" cy="361.9"/><circle cx="327.1" cy="331.9"/><circle cx="426" cy="367.5"/><circle cx="338.1" cy="340.8"/><circle cx="357.2" cy="352.3"/><circle cx="365.2" cy="367.5"/><circle cx="419.2" cy="361.7"/><circle cx="334.8" cy="328.9"/><circle cx="317.3" cy="331.9"/><circle cx="441.2" cy="350.1"/><circle cx="385.8" cy="364.8"/><circle cx="390.7" cy="367.8"/><circle cx="353.5" cy="364.9"/><circle cx="329.8" cy="340.3"/><circle cx="334.5" cy="370.5"/><circle cx="390.5" cy="331.9"/><circle cx="448" cy="347.8"/><circle cx="388.5" cy="346.5"/><circle cx="470.1" cy="338.9"/><circle cx="453.4" cy="342.9"/><circle cx="353.8" cy="334.7"/><circle cx="352.2" cy="337.5"/><circle cx="444.1" cy="350.9"/><circle cx="475" cy="343.7"/><circle cx="465.4" cy="329.1"/><circle cx="401.8" cy="334.7"/><circle cx="454.8" cy="350.6"/><circle cx="345.4" cy="362.4"/><circle cx="397.9" cy="338"/><circle cx="433" cy="344.3"/><circle cx="459.5" cy="335"/><circle cx="365" cy="361.8"/><circle cx="350.6" cy="340.5"/><circle cx="399.9" cy="354.7"/><circle cx="388.9" cy="329.2"/><circle cx="450.8" cy="348.9"/><circle cx="423" cy="337.3"/><circle cx="379.2" cy="346.4"/><circle cx="465.9" cy="356"/><circle cx="443.5" cy="344.2"/><circle cx="384.5" cy="353.2"/><circle cx="376" cy="340.8"/><circle cx="452.3" cy="352.3"/><circle cx="427.7" cy="364.9"/><circle cx="313.1" cy="358.2"/><circle cx="346" cy="359.3"/><circle cx="446.8" cy="340.9"/><circle cx="443.5" cy="364.9"/><circle cx="320.4" cy="367.8"/><circle cx="361.8" cy="341.4"/><circle cx="464.4" cy="338"/><circle cx="433.9" cy="364.8"/><circle cx="316.1" cy="345.9"/><circle cx="307.3" cy="359.9"/><circle cx="435.3" cy="331.8"/><circle cx="315.5" cy="370.3"/><circle cx="449.3" cy="351.7"/><circle cx="429.1" cy="331.9"/><circle cx="307.7" cy="332.1"/><circle cx="326.1" cy="355.2"/><circle cx="376" cy="347"/><circle cx="370.4" cy="349.7"/><circle cx="471.8" cy="364.6"/><circle cx="457.7" cy="350"/><circle cx="346.1" cy="331.7"/><circle cx="414.3" cy="359.2"/><circle cx="464.7" cy="367.7"/><circle cx="365.6" cy="340.5"/><circle cx="396.4" cy="362.2"/><circle cx="314.5" cy="338.6"/><circle cx="382.5" cy="364.5"/><circle cx="438.9" cy="336.9"/><circle cx="430.9" cy="334.8"/><circle cx="331.1" cy="364.9"/><circle cx="340.3" cy="346.6"/><circle cx="454.4" cy="337.1"/><circle cx="331.6" cy="356.4"/><circle cx="474.5" cy="361.5"/><circle cx="424.3" cy="334.4"/><circle cx="352.3" cy="331.8"/><circle cx="446.7" cy="334.7"/><circle cx="315.8" cy="359.7"/><circle cx="411.5" cy="358.1"/><circle cx="448.3" cy="367.6"/><circle cx="481.8" cy="355.4"/><circle cx="462.4" cy="334.6"/><circle cx="440.9" cy="343"/><circle cx="359.2" cy="340"/><circle cx="414.7" cy="340.2"/><circle cx="429.2" cy="361.7"/><circle cx="412.1" cy="343.7"/><circle cx="395.6" cy="370.5"/><circle cx="451.3" cy="367.5"/><circle cx="312.1" cy="364.7"/><circle cx="429.2" cy="337.5"/><circle cx="306.3" cy="354.8"/><circle cx="458.1" cy="367.8"/><circle cx="467.8" cy="367.6"/><circle cx="362" cy="359.1"/><circle cx="326.6" cy="367.4"/><circle cx="328" cy="364.4"/><circle cx="432.2" cy="331.9"/><circle cx="454.3" cy="331.6"/><circle cx="475" cy="329.3"/><circle cx="449.8" cy="364.8"/><circle cx="336.6" cy="352.2"/><circle cx="424" cy="364.9"/><circle cx="382.5" cy="329.1"/><circle cx="349.2" cy="367.4"/><circle cx="343.1" cy="358.6"/><circle cx="373.4" cy="354.6"/><circle cx="316.6" cy="349.3"/><circle cx="375.9" cy="353.1"/><circle cx="313.4" cy="343.7"/><circle cx="421.1" cy="370.4"/><circle cx="380.5" cy="355"/><circle cx="412.7" cy="367.5"/><circle cx="320.5" cy="337.6"/><circle cx="358.5" cy="343.5"/><circle cx="368.6" cy="331.9"/><circle cx="395.2" cy="328.9"/><circle cx="481.8" cy="335"/><circle cx="331.7" cy="329.3"/><circle cx="354.2" cy="352.7"/><circle cx="394" cy="367.8"/><circle cx="438.7" cy="339.9"/><circle cx="303.2" cy="338.8"/><circle cx="469.6" cy="345.1"/><circle cx="414.6" cy="334.5"/><circle cx="384.2" cy="331.8"/><circle cx="434.5" cy="358.2"/><circle cx="425.5" cy="340.6"/><circle cx="390.8" cy="359.2"/><circle cx="406.6" cy="367.6"/><circle cx="435.4" cy="361.9"/><circle cx="414.5" cy="365"/><circle cx="342.9" cy="331.6"/><circle cx="385.4" cy="346.5"/><circle cx="341.5" cy="349.3"/><circle cx="383.2" cy="356.3"/><circle cx="337.2" cy="346.7"/><circle cx="320.3" cy="355.8"/><circle cx="471.7" cy="352.7"/><circle cx="431" cy="370.4"/><circle cx="340.8" cy="356.7"/><circle cx="403.3" cy="356.2"/><circle cx="446.4" cy="345.3"/><circle cx="321.4" cy="343.6"/><circle cx="416.8" cy="337.8"/><circle cx="438" cy="347.4"/><circle cx="366.5" cy="364.6"/><circle cx="410.1" cy="337.8"/><circle cx="337" cy="357.5"/><circle cx="413.9" cy="346.4"/><circle cx="406.6" cy="332.1"/><circle cx="303.2" cy="347.2"/><circle cx="456.2" cy="370.2"/><circle cx="388.9" cy="365"/><circle cx="359.2" cy="360.7"/><circle cx="447.8" cy="331.7"/><circle cx="330.7" cy="353.1"/><circle cx="351.3" cy="356.3"/><circle cx="426" cy="331.7"/><circle cx="399.9" cy="349.8"/><circle cx="308.8" cy="350.6"/><circle cx="370.2" cy="365"/><circle cx="352.2" cy="367.8"/><circle cx="374.9" cy="331.9"/><circle cx="467.2" cy="353.4"/><circle cx="338.5" cy="354.7"/><circle cx="413.1" cy="362.1"/><circle cx="407.7" cy="352.9"/><circle cx="368.9" cy="347"/><circle cx="392.4" cy="370.5"/><circle cx="471.8" cy="359.4"/><circle cx="450.9" cy="331.9"/><circle cx="395.9" cy="340.4"/><circle cx="447.9" cy="337.5"/><circle cx="446.7" cy="350.3"/><circle cx="360.1" cy="370.3"/><circle cx="357" cy="364.7"/><circle cx="364.9" cy="358.6"/><circle cx="438.1" cy="356.4"/><circle cx="386.9" cy="343.8"/><circle cx="372.1" cy="367.4"/><circle cx="306" cy="329.1"/><circle cx="380.7" cy="338"/><circle cx="343.6" cy="337.5"/><circle cx="387.8" cy="361.4"/><circle cx="473" cy="346.7"/><circle cx="340.6" cy="337.4"/><circle cx="463.6" cy="361"/><circle cx="338" cy="329.1"/><circle cx="370.2" cy="329.2"/><circle cx="389.1" cy="370.5"/><circle cx="328.2" cy="334.9"/><circle cx="402.4" cy="340.5"/><circle cx="356.7" cy="358.4"/><circle cx="445.3" cy="367.5"/><circle cx="325" cy="359.7"/><circle cx="415.9" cy="331.6"/><circle cx="333.7" cy="353.2"/><circle cx="478.3" cy="356.6"/><circle cx="399.1" cy="341.1"/><circle cx="460.1" cy="342.2"/><circle cx="329.7" cy="349.9"/><circle cx="382.4" cy="370.5"/><circle cx="421.8" cy="341.3"/><circle cx="359.1" cy="346.6"/><circle cx="469" cy="358.1"/><circle cx="346.4" cy="338.8"/><circle cx="310.6" cy="344.9"/><circle cx="373.4" cy="343.4"/><circle cx="390.7" cy="362.4"/><circle cx="390" cy="343.4"/><circle cx="469.2" cy="342"/><circle cx="435.8" cy="367.5"/><circle cx="434.5" cy="351.7"/><circle cx="355.9" cy="346.3"/><circle cx="474.7" cy="352.5"/><circle cx="401.7" cy="329.1"/><circle cx="474" cy="337.7"/><circle cx="400.1" cy="361.6"/><circle cx="400.4" cy="367.8"/><circle cx="341.2" cy="328.9"/><circle cx="413.2" cy="349.5"/><circle cx="475.5" cy="355.4"/><circle cx="350.4" cy="370.5"/><circle cx="481.8" cy="370.4"/><circle cx="367.1" cy="329.1"/><circle cx="373.5" cy="363.8"/><circle cx="475" cy="364.6"/><circle cx="441.7" cy="331.5"/><circle cx="380.4" cy="361.5"/><circle cx="357" cy="329.3"/><circle cx="333" cy="367.7"/><circle cx="372.9" cy="340.3"/><circle cx="378" cy="349.3"/><circle cx="469.6" cy="335.5"/><circle cx="457.5" cy="331.7"/><circle cx="385.8" cy="328.9"/><circle cx="331.6" cy="347.4"/><circle cx="459.9" cy="345.2"/><circle cx="375.1" cy="367.7"/><circle cx="468.5" cy="329.4"/><circle cx="347.4" cy="370.5"/><circle cx="406.4" cy="356"/><circle cx="452.8" cy="334.4"/><circle cx="432.3" cy="361.8"/><circle cx="310.9" cy="367.6"/><circle cx="364.7" cy="337.3"/><circle cx="443.3" cy="328.9"/><circle cx="392.1" cy="329.2"/><circle cx="327.7" cy="352.5"/><circle cx="404.6" cy="346.8"/><circle cx="336" cy="367.8"/><circle cx="371.8" cy="331.8"/><circle cx="376.4" cy="329.1"/><circle cx="455.8" cy="334.3"/><circle cx="322.4" cy="358.1"/><circle cx="438.4" cy="350.9"/><circle cx="418" cy="364.9"/><circle cx="310.1" cy="362.3"/><circle cx="369.8" cy="370.5"/><circle cx="392.4" cy="365.1"/><circle cx="422.9" cy="367.8"/><circle cx="320.3" cy="331.7"/><circle cx="379.5" cy="329.3"/><circle cx="354.3" cy="343.5"/><circle cx="358.4" cy="367.6"/><circle cx="303.2" cy="329.1"/><circle cx="455.9" cy="328.9"/><circle cx="401.9" cy="365"/><circle cx="395.4" cy="346.3"/><circle cx="444.9" cy="338.3"/><circle cx="477.1" cy="337.7"/><circle cx="378.2" cy="367.5"/><circle cx="353.9" cy="329.1"/><circle cx="454.4" cy="367.6"/><circle cx="408.5" cy="334.9"/><circle cx="356.5" cy="341.3"/><circle cx="358.9" cy="337"/><circle cx="465.9" cy="350.5"/><circle cx="414.3" cy="328.9"/><circle cx="420.8" cy="329.1"/><circle cx="338" cy="370.3"/><circle cx="382.7" cy="334.9"/><circle cx="459.2" cy="329.1"/><circle cx="303.2" cy="370.5"/><circle cx="328.5" cy="329"/><circle cx="349.2" cy="337.3"/><circle cx="400.2" cy="331.9"/><circle cx="456.9" cy="356.1"/><circle cx="363.5" cy="334.3"/><circle cx="341.1" cy="340.6"/><circle cx="312.8" cy="334.8"/><circle cx="446.6" cy="353.1"/><circle cx="472.6" cy="355.9"/><circle cx="313.8" cy="362.1"/><circle cx="449.4" cy="329"/><circle cx="400.8" cy="337.7"/><circle cx="424.7" cy="370.4"/><circle cx="461.1" cy="367.6"/><circle cx="481.8" cy="361.3"/><circle cx="321.4" cy="340.6"/><circle cx="361.5" cy="367.5"/><circle cx="327.4" cy="361.3"/><circle cx="335.8" cy="363.5"/><circle cx="369.8" cy="352.7"/><circle cx="409.6" cy="367.5"/><circle cx="356.8" cy="334.7"/><circle cx="364.3" cy="349.9"/><circle cx="347.7" cy="364.6"/><circle cx="437.8" cy="342.9"/><circle cx="449.7" cy="339.9"/><circle cx="343.5" cy="351.6"/><circle cx="433.7" cy="329.1"/><circle cx="360.3" cy="352"/><circle cx="348.8" cy="354.5"/><circle cx="471" cy="367.7"/><circle cx="466.1" cy="347.3"/><circle cx="471.6" cy="328.9"/><circle cx="480.5" cy="358.7"/><circle cx="343" cy="367.7"/><circle cx="405.8" cy="343.9"/><circle cx="456.2" cy="359.1"/><circle cx="439.9" cy="328.9"/><circle cx="437.3" cy="370.4"/><circle cx="404.8" cy="329.2"/><circle cx="402.9" cy="349.3"/><circle cx="451.2" cy="360.8"/><circle cx="449.9" cy="370.4"/><circle cx="386.9" cy="349.3"/><circle cx="344" cy="364.8"/><circle cx="325.4" cy="329.3"/><circle cx="374.6" cy="337.6"/><circle cx="321.5" cy="352.8"/><circle cx="304.4" cy="331.8"/><circle cx="478" cy="353.4"/><circle cx="311.6" cy="355.4"/><circle cx="336.5" cy="331.9"/><circle cx="411.1" cy="364.6"/><circle cx="395.7" cy="365.2"/><circle cx="441.9" cy="367.5"/><circle cx="389.1" cy="356.6"/><circle cx="315.6" cy="341.5"/><circle cx="349.7" cy="347.3"/><circle cx="371.6" cy="337.3"/><circle cx="408.9" cy="343.8"/><circle cx="338.7" cy="362.4"/><circle cx="413.4" cy="337.4"/><circle cx="459.7" cy="357.2"/><circle cx="312.2" cy="340.7"/><circle cx="408.2" cy="370.3"/><circle cx="341.6" cy="334.5"/><circle cx="446.4" cy="364"/><circle cx="474.5" cy="358.3"/><circle cx="402" cy="370.5"/><circle cx="343.9" cy="346.9"/><circle cx="393.8" cy="351.8"/><circle cx="350.8" cy="359.8"/><circle cx="375.2" cy="350"/><circle cx="353.6" cy="340.4"/><circle cx="420.5" cy="335.6"/><circle cx="347.7" cy="328.9"/><circle cx="480.9" cy="352.4"/><circle cx="315.9" cy="364.5"/><circle cx="366.4" cy="345.4"/><circle cx="425.4" cy="359.1"/><circle cx="446.8" cy="370.5"/><circle cx="473.1" cy="331.8"/><circle cx="408.1" cy="364.8"/><circle cx="466.5" cy="362"/><circle cx="308.9" cy="347.5"/><circle cx="403.5" cy="332.1"/><circle cx="419.6" cy="332.1"/>
</g>
<path d="M301.6,373.2 V326.4 H483.0 V373.2" fill="none" stroke="#7c7c7c" stroke-width="0.9"/>
<line x1="301.6" y1="373.2" x2="483.0" y2="373.2" stroke="#777" stroke-width="1.1"/>
<line x1="299.7" y1="373.2" x2="301.6" y2="373.2" stroke="#666" stroke-width="0.7"/>
<text x="298.3" y="373.2" font-size="4.8" text-anchor="middle" fill="#222" stroke="#222" stroke-width="0.1" transform="rotate(-90 298.3 373.2)">0</text>
<line x1="299.7" y1="363.8" x2="301.6" y2="363.8" stroke="#666" stroke-width="0.7"/>
<text x="298.3" y="363.8" font-size="4.8" text-anchor="middle" fill="#222" stroke="#222" stroke-width="0.1" transform="rotate(-90 298.3 363.8)">1</text>
<line x1="299.7" y1="354.5" x2="301.6" y2="354.5" stroke="#666" stroke-width="0.7"/>
<text x="298.3" y="354.5" font-size="4.8" text-anchor="middle" fill="#222" stroke="#222" stroke-width="0.1" transform="rotate(-90 298.3 354.5)">2</text>
<line x1="299.7" y1="345.1" x2="301.6" y2="345.1" stroke="#666" stroke-width="0.7"/>
<text x="298.3" y="345.1" font-size="4.8" text-anchor="middle" fill="#222" stroke="#222" stroke-width="0.1" transform="rotate(-90 298.3 345.1)">3</text>
<line x1="299.7" y1="335.8" x2="301.6" y2="335.8" stroke="#666" stroke-width="0.7"/>
<text x="298.3" y="335.8" font-size="4.8" text-anchor="middle" fill="#222" stroke="#222" stroke-width="0.1" transform="rotate(-90 298.3 335.8)">4</text>
<line x1="299.7" y1="326.4" x2="301.6" y2="326.4" stroke="#666" stroke-width="0.7"/>
<text x="298.3" y="326.4" font-size="4.8" text-anchor="middle" fill="#222" stroke="#222" stroke-width="0.1" transform="rotate(-90 298.3 326.4)">5</text>
<line x1="301.6" y1="373.2" x2="301.6" y2="375.3" stroke="#666" stroke-width="0.7"/>
<text x="301.6" y="382.7" font-size="5.5" text-anchor="middle" fill="#222" stroke="#222" stroke-width="0.1">0</text>
<line x1="319.7" y1="373.2" x2="319.7" y2="375.3" stroke="#666" stroke-width="0.7"/>
<text x="319.7" y="382.7" font-size="5.5" text-anchor="middle" fill="#222" stroke="#222" stroke-width="0.1">2</text>
<line x1="337.9" y1="373.2" x2="337.9" y2="375.3" stroke="#666" stroke-width="0.7"/>
<text x="337.9" y="382.7" font-size="5.5" text-anchor="middle" fill="#222" stroke="#222" stroke-width="0.1">4</text>
<line x1="356" y1="373.2" x2="356" y2="375.3" stroke="#666" stroke-width="0.7"/>
<text x="356" y="382.7" font-size="5.5" text-anchor="middle" fill="#222" stroke="#222" stroke-width="0.1">6</text>
<line x1="374.2" y1="373.2" x2="374.2" y2="375.3" stroke="#666" stroke-width="0.7"/>
<text x="374.2" y="382.7" font-size="5.5" text-anchor="middle" fill="#222" stroke="#222" stroke-width="0.1">8</text>
<line x1="392.3" y1="373.2" x2="392.3" y2="375.3" stroke="#666" stroke-width="0.7"/>
<text x="392.3" y="382.7" font-size="5.5" text-anchor="middle" fill="#222" stroke="#222" stroke-width="0.1">10</text>
<line x1="410.4" y1="373.2" x2="410.4" y2="375.3" stroke="#666" stroke-width="0.7"/>
<text x="410.4" y="382.7" font-size="5.5" text-anchor="middle" fill="#222" stroke="#222" stroke-width="0.1">12</text>
<line x1="428.6" y1="373.2" x2="428.6" y2="375.3" stroke="#666" stroke-width="0.7"/>
<text x="428.6" y="382.7" font-size="5.5" text-anchor="middle" fill="#222" stroke="#222" stroke-width="0.1">14</text>
<line x1="446.7" y1="373.2" x2="446.7" y2="375.3" stroke="#666" stroke-width="0.7"/>
<text x="446.7" y="382.7" font-size="5.5" text-anchor="middle" fill="#222" stroke="#222" stroke-width="0.1">16</text>
<line x1="464.9" y1="373.2" x2="464.9" y2="375.3" stroke="#666" stroke-width="0.7"/>
<text x="464.9" y="382.7" font-size="5.5" text-anchor="middle" fill="#222" stroke="#222" stroke-width="0.1">18</text>
<line x1="483" y1="373.2" x2="483" y2="375.3" stroke="#666" stroke-width="0.7"/>
<text x="483" y="382.7" font-size="5.5" text-anchor="middle" fill="#222" stroke="#222" stroke-width="0.1">20</text>
<text x="392.3" y="393.5" font-size="6.4" text-anchor="middle" fill="#111" stroke="#111" stroke-width="0.1" textLength="85.6" lengthAdjust="spacingAndGlyphs">Distance along pore length (nm)</text>
<text x="289.9" y="349.8" font-size="6.0" text-anchor="middle" fill="#111" stroke="#111" stroke-width="0.1" transform="rotate(-90 289.9 349.8)" textLength="50.6" lengthAdjust="spacingAndGlyphs">Axial distance (nm)</text>
<text x="484.7" y="351.7" font-size="6.1" text-anchor="start" fill="#444" stroke="#444" stroke-width="0.1">BS4</text>
<rect x="299.4" y="404.4" width="181.6" height="2.4" fill="#a8a8a8"/>
<clipPath id="cp4"><rect x="300" y="406.7" width="180.7" height="44"/></clipPath>
<path d="M301,448.9h.01M303.8,449.1h.01M306.8,449.2h.01M309.9,449.1h.01M313,449h.01M316,449.3h.01M319.1,449.3h.01M322.6,449.1h.01M325.7,449.1h.01M328.8,449.3h.01M331.9,449.3h.01M335.2,449.1h.01M338.3,449h.01M341.4,449.3h.01M344.5,449.3h.01M347.5,449.2h.01M351.4,449.3h.01M354.5,449.3h.01M357.7,449.2h.01M361,448.9h.01M364,448.8h.01M367.1,449.2h.01M370.2,449.1h.01M373.7,449.3h.01M376.7,449.1h.01M380.1,448.9h.01M383.3,448.9h.01M386.7,449h.01M389.9,449.1h.01M393,449.3h.01M396.1,449.2h.01M399.3,449.1h.01M402.6,449.2h.01M405.7,449h.01M408.9,449h.01M412,448.8h.01M415.6,449.2h.01M418.8,449.3h.01M422,449.2h.01M425.1,449.3h.01M428.2,449.3h.01M431.3,448.9h.01M434.8,449h.01M437.9,448.9h.01M440.9,449.1h.01M444,449.3h.01M447.4,449.1h.01M450.5,449h.01M453.6,449.2h.01M456.8,449.3h.01M459.9,449.3h.01M462.9,449.2h.01M466.5,449h.01M469.6,449.1h.01M472.9,449.3h.01M476,449.3h.01M479.4,449.3h.01M302.4,446.3h.01M305.5,446.3h.01M308.5,446.1h.01M311.6,446.2h.01M314.7,446.4h.01M317.7,446.1h.01M320.8,446.6h.01M324.2,446.4h.01M327.3,446.3h.01M330.3,446.4h.01M333.4,446.6h.01M336.7,446.3h.01M339.8,446.3h.01M343.1,446.6h.01M346.1,446.5h.01M349.4,446.9h.01M352.6,446.3h.01M355.9,446.5h.01M359.2,446.4h.01M362.4,445.7h.01M365.5,445.9h.01M368.6,446.5h.01M372,446.6h.01M375.6,445.7h.01M378.6,446.1h.01M381.7,446.2h.01M385.2,446.4h.01M388.3,446.4h.01M391.3,446h.01M394.4,446.4h.01M397.6,446.4h.01M401.1,446.4h.01M404.3,446.1h.01M407.3,446.3h.01M410.4,446.2h.01M414,446.5h.01M417.1,446.3h.01M420.3,446.4h.01M423.4,446.2h.01M426.7,446.5h.01M429.8,446.2h.01M433.2,446.5h.01M436.3,446.2h.01M439.5,446.3h.01M442.9,446.1h.01M446,446.2h.01M449.3,446h.01M452.4,445.8h.01M455.4,446.4h.01M458.5,445.8h.01M461.5,446.5h.01M464.6,446.6h.01M468.2,446.4h.01M471.4,446.5h.01M474.5,446.4h.01M477.7,446.6h.01M301,443.7h.01M303.9,443.7h.01M306.9,443h.01M310.4,443.3h.01M313.6,443.4h.01M316.7,443.1h.01M319.7,443.6h.01M322.7,443.8h.01M325.8,443.4h.01M330.2,443.2h.01M333.2,443.5h.01M336.1,443.2h.01M339,443.1h.01M341.8,443.9h.01M346.9,443.4h.01M349.8,444h.01M351.8,441.8h.01M354.4,443.7h.01M359.4,443.3h.01M362.3,442.5h.01M365.3,442.6h.01M368.2,443.4h.01M371.8,443.5h.01M374.7,442.5h.01M377.8,443h.01M380.7,443.3h.01M383.8,443.6h.01M387.8,443.5h.01M390.7,442.6h.01M393.6,443.3h.01M396.5,442.6h.01M399.3,443.8h.01M402.4,443.5h.01M406.8,443.2h.01M409.9,443.1h.01M412.9,443.5h.01M416,443.3h.01M419.1,442.7h.01M422.2,443.1h.01M425.7,443.4h.01M428.8,443.2h.01M431.8,443.7h.01M434.9,443.3h.01M438,443.5h.01M441.1,443.6h.01M444.6,443.4h.01M447.7,443.2h.01M450.8,443h.01M454.9,443.3h.01M458.1,442.7h.01M461,443.3h.01M464,443.6h.01M467.6,443.4h.01M470.7,443.5h.01M473.8,443.3h.01M477,443.5h.01M479.8,442.7h.01M302.3,441h.01M305.2,440.1h.01M308.8,440.6h.01M311.9,440.5h.01M315,440.5h.01M318.7,440.6h.01M322.2,440.7h.01M328,441.2h.01M325.2,440.3h.01M331.4,440.3h.01M334.4,440.6h.01M337.5,440.4h.01M341.6,440h.01M343.9,442h.01M346.3,440.4h.01M351.6,438.5h.01M354.2,440.2h.01M356.8,441.7h.01M360.1,440.2h.01M364.1,439.5h.01M367.1,440.1h.01M370,441h.01M372.2,439.3h.01M377.4,439.8h.01M380.2,440.4h.01M383,440.6h.01M385.8,441.3h.01M388.6,440.3h.01M391.6,439.2h.01M394.7,439.9h.01M398.9,440.6h.01M404.5,441.2h.01M401.9,439.5h.01M408.2,440.4h.01M411.1,440.3h.01M414.3,440.7h.01M417.1,439.7h.01M421.1,440.1h.01M424.2,440.6h.01M428.2,440.1h.01M431.2,440.7h.01M434.1,440.2h.01M437.2,440.5h.01M440.3,440.5h.01M443.2,439.4h.01M446,440.5h.01M449.1,440.3h.01M453,440.9h.01M456.1,440.3h.01M459.7,439.9h.01M462.7,440.6h.01M465.6,441.1h.01M469.3,440.7h.01M472.4,440.5h.01M474.9,438.7h.01M477.5,440.4h.01M301,438.5h.01M303.5,437.4h.01M307.3,437.8h.01M310.4,437.8h.01M313.4,437.6h.01M316.6,437.8h.01M320.6,438.1h.01M323.5,436.9h.01M326.6,437.5h.01M329.6,437.7h.01M332.6,437.3h.01M335.6,437.8h.01M337.8,435.7h.01M342.9,437.1h.01M345.9,437.4h.01M348.7,438.6h.01M354.2,437h.01M356.8,438.6h.01M359,436.7h.01M361.7,437.6h.01M364.4,436.3h.01M367.1,436.9h.01M370.1,437.2h.01M374.9,438.5h.01M377,436.7h.01M380.1,437.3h.01M383.1,437.5h.01M386.1,438.1h.01M388.9,437.3h.01M394.5,436.5h.01M397.2,438.1h.01M398.8,435.5h.01M403.3,436.6h.01M405.8,438.4h.01M409.2,437.5h.01M413,437.8h.01M416.3,436.7h.01M419.3,437.5h.01M423,437.6h.01M426,438h.01M429,437.1h.01M432,437.7h.01M435.8,437.6h.01M438.8,437.7h.01M441.6,436.7h.01M444.6,436.5h.01M448,437.3h.01M451,437.9h.01M454.1,438h.01M457.6,437.7h.01M460.7,436.8h.01M463.7,437.5h.01M467,438.6h.01M470.6,437.9h.01M473.1,436.1h.01M477.6,437.1h.01M302.2,434.5h.01M305.5,435.2h.01M308.6,434.9h.01M311.4,433.8h.01M314.9,434.9h.01M317.9,434.6h.01M320.9,435h.01M323.6,433.8h.01M326.6,434.5h.01M329.9,434.7h.01M333.9,434.5h.01M336.5,433h.01M340.6,435h.01M343.4,434h.01M346.4,434.4h.01M349.2,433.9h.01M352,435.2h.01M356.4,435h.01M359.1,433.5h.01M362.1,434.1h.01M365.6,433.6h.01M368.7,434.1h.01M371.5,434.5h.01M374.5,435.4h.01M378.8,434.3h.01M381.8,434.8h.01M384.8,434.9h.01M387.7,434.4h.01M391.6,435.9h.01M393.5,433.5h.01M396.6,433.3h.01M401.6,434.3h.01M404.6,433.6h.01M407.1,435.2h.01M410.7,434.8h.01M413.6,434.8h.01M416.3,433.4h.01M419.7,434.3h.01M422.8,434.4h.01M425.9,434.6h.01M429,434h.01M432,434.1h.01M435.8,434.5h.01M438.7,433.2h.01M442.8,434h.01M446.1,433.7h.01M449.4,434.4h.01M452.5,434.8h.01M455.5,435.4h.01M458.4,434.5h.01M462.6,434.3h.01M465.7,434.5h.01M468.1,436.1h.01M469.8,433.7h.01M475.4,432.6h.01M478.1,434h.01M301,431.7h.01M303.7,431.7h.01M306.7,432.3h.01M309.3,430.7h.01M313.9,431.9h.01M317,431.6h.01M320.3,431.9h.01M323.2,430.7h.01M326.1,431.4h.01M329.1,431.1h.01M331.8,432.3h.01M334.2,431h.01M339.5,432h.01M342.7,431h.01M345.8,431.3h.01M348.8,430.8h.01M351.7,432h.01M355.1,432.2h.01M357.8,430.7h.01M360.9,431.1h.01M364,430.9h.01M367.5,431.1h.01M371.7,428.6h.01M373.6,432.1h.01M376.6,432.3h.01M380.4,431.8h.01M383.4,432h.01M386.2,431.1h.01M390.4,433h.01M391.9,430.4h.01M394.9,430.6h.01M399.5,432.1h.01M402.5,431.2h.01M405.6,430.6h.01M409,432.2h.01M412.4,431.9h.01M415.2,430.6h.01M418.4,431.4h.01M421.4,431.6h.01M424.4,431.8h.01M427.9,431.3h.01M430.3,429.3h.01M435.8,431.4h.01M438.5,429.9h.01M441.2,431.3h.01M444.3,431.1h.01M448.3,431.5h.01M451.3,431.9h.01M454.7,429.8h.01M456.1,432.5h.01M458.9,431.6h.01M464.3,431.6h.01M467.4,431.9h.01M470.2,430.8h.01M472.5,433.1h.01M477,430h.01M479.8,431.3h.01M301,428.5h.01M304,428.5h.01M307,428.5h.01M312.1,429.5h.01M314.9,428.2h.01M318.1,428.6h.01M321.1,428.5h.01M324.5,427.9h.01M327.4,428.6h.01M331.7,429h.01M334.7,428h.01M337.2,429.9h.01M338.9,427.7h.01M342,428.1h.01M345,428.2h.01M348.8,427.7h.01M351.6,429h.01M354.6,429.1h.01M359.7,428.1h.01M362.7,427.9h.01M365.7,428.3h.01M368.7,428.2h.01M370.5,431.6h.01M374.7,428.1h.01M377.5,429.2h.01M380.6,428.9h.01M383.7,428.9h.01M388.8,429.5h.01M390.3,426.8h.01M393.3,427.7h.01M397.8,429.7h.01M399.8,427.4h.01M402.7,428.3h.01M407.3,427.6h.01M409.9,429.2h.01M412.8,428.6h.01M417,428.1h.01M420,428.7h.01M423,428.9h.01M427.8,426.8h.01M425.9,429.1h.01M432.8,431h.01M433.3,427.9h.01M436.4,427.7h.01M441.6,428.2h.01M444.6,428h.01M447.5,428.5h.01M450.8,428.8h.01M453.4,427.3h.01M459,428.4h.01M461.6,430.2h.01M464.1,428.6h.01M467.1,428.8h.01M470.7,427.7h.01M473.2,430.1h.01M474.6,427.5h.01M477.4,426.9h.01M301,424.2h.01M303.4,425.4h.01M308.5,425.7h.01M311.4,426.5h.01M314,424.9h.01M316.9,425.8h.01M319.6,425h.01M322.5,425.7h.01M326.6,425.5h.01M329.7,426.6h.01M333.4,425.4h.01M336.7,425.7h.01M340.7,425.2h.01M343.6,425.2h.01M346.5,425.4h.01M349.4,424.7h.01M352.1,425.9h.01M354.9,425h.01M356.9,427.3h.01M361,425.2h.01M364.1,425.1h.01M367.1,425.5h.01M370.5,425.7h.01M373.6,425.1h.01M376.6,425.6h.01M380.8,425.9h.01M384,425.7h.01M386.8,426.9h.01M388.6,424.2h.01M392.7,424.6h.01M396.2,427.2h.01M398.9,424.4h.01M401.9,425.1h.01M404.9,426h.01M409.6,425.5h.01M412.7,425.5h.01M415.7,425.2h.01M418.7,425.5h.01M421.7,426h.01M424.8,426.2h.01M428.8,423.8h.01M430.8,426.3h.01M434.7,425h.01M437.6,424.9h.01M440.6,425.3h.01M443.5,425.1h.01M446.4,425.4h.01M449.2,426.1h.01M451.7,424.7h.01M456.5,426.8h.01M460.2,425.6h.01M463.6,425.6h.01M466.6,425.8h.01M469.6,424.8h.01M472.5,425.1h.01M475.6,424.4h.01M479.8,426.5h.01M303.2,421.9h.01M306,423.8h.01M308.6,422.3h.01M311.6,423.3h.01M314.6,421.8h.01M317.6,422.5h.01M321.3,422.4h.01M324.2,423.3h.01M328.3,422.8h.01M330.9,423.8h.01M333.4,422.2h.01M336.3,422.6h.01M339.2,422.6h.01M344.1,422.1h.01M346.9,421.5h.01M349.9,421.8h.01M352.8,422.6h.01M357.7,424.4h.01M359.7,422.3h.01M362.7,422.3h.01M365.9,422.6h.01M368.9,422.9h.01M371.9,422.4h.01M376,422.3h.01M378.9,423.5h.01M382,423.2h.01M385,422.5h.01M388.8,421h.01M391.7,421.7h.01M394.6,421.4h.01M395.8,424.2h.01M401.2,422.3h.01M404.4,422.9h.01M407.5,422.8h.01M409.4,420.2h.01M414.1,422h.01M417.8,422.4h.01M420.8,421.8h.01M423.5,423.6h.01M426.3,422.1h.01M430.2,421.1h.01M432,423.5h.01M436.1,422.1h.01M439.4,422.3h.01M442.4,422.2h.01M446,422.1h.01M449.1,422.9h.01M452.8,422h.01M454.6,424.3h.01M456.5,422h.01M460.8,422.4h.01M463.9,422.7h.01M467,419.7h.01M471,422h.01M474,421.8h.01M477.4,421.9h.01M479.8,423.3h.01M301,420h.01M304.9,419.2h.01M307.9,419.2h.01M310.9,420.1h.01M313.6,418.8h.01M316.6,419.3h.01M319.6,419.8h.01M325.1,418.3h.01M326.1,421h.01M328.7,419.3h.01M332.7,419.2h.01M336.3,419.5h.01M339.3,418.7h.01M341.4,420.8h.01M345.8,416.9h.01M348.8,419h.01M351.8,419.6h.01M355.8,421.9h.01M357.6,419.1h.01M360.5,419.5h.01M364.5,419.7h.01M368,419.1h.01M371.8,419.3h.01M375,419.2h.01M378,419.8h.01M382.3,420.1h.01M384.2,417.1h.01M386.2,419.6h.01M391.2,418.7h.01M396.3,419h.01M398.2,421.4h.01M400.5,419.2h.01M403.5,420h.01M406.4,419.5h.01M412.3,419.3h.01M411.1,422.8h.01M415.8,419.4h.01M418.8,419.4h.01M421.6,418.1h.01M423.6,420.4h.01M427.9,419.4h.01M433.1,420.6h.01M435.6,419h.01M439.3,419.3h.01M442.3,419h.01M445.4,418.9h.01M448.3,419.8h.01M451.3,419.2h.01M454.5,419.3h.01M457.7,419.2h.01M460.7,419.2h.01M464,419.6h.01M467.2,422.7h.01M470,419.1h.01M473,418.8h.01M476.2,418.9h.01M479.8,419.9h.01M302,417.1h.01M304.9,416h.01M308.2,416h.01M311.2,416.9h.01M315,416h.01M318.1,416.5h.01M321.3,416.6h.01M324.3,415.5h.01M327.5,416.3h.01M330.6,416.5h.01M334.2,416.4h.01M337.2,416.4h.01M340.9,415.9h.01M343.2,418.4h.01M348.6,416h.01M351.5,416.5h.01M354.7,419h.01M354.5,415.9h.01M359.7,416h.01M362.4,417.3h.01M364.9,416h.01M369.2,416.2h.01M372.6,416.2h.01M375.6,416.1h.01M378.5,416.7h.01M381.4,417.1h.01M387.1,416.5h.01M389.8,415.8h.01M392.8,415.9h.01M395.6,416h.01M398.6,416.8h.01M402.6,416.8h.01M406.5,416.3h.01M409.4,417.1h.01M412.3,416.1h.01M415.4,416.3h.01M418.7,416.2h.01M423.6,415.8h.01M425.3,418.1h.01M427.9,416.2h.01M430.9,416.3h.01M434,416.3h.01M437.5,416.7h.01M440.6,416.4h.01M443.7,416.2h.01M446.7,416h.01M449.8,416.6h.01M452.9,416.6h.01M456.8,416.3h.01M459.9,416.1h.01M462.8,416.8h.01M466.1,416.7h.01M469.1,416.1h.01M472.2,415.8h.01M475.9,415.4h.01M478.6,416.9h.01M301,414.2h.01M303.6,413.2h.01M306.7,413.4h.01M310.4,413.6h.01M313.5,413.2h.01M316.6,413.3h.01M319.7,413.7h.01M322.6,413h.01M326.6,413.2h.01M329.7,413.4h.01M332.9,413.6h.01M336,413.6h.01M339.1,413.3h.01M342.5,413.1h.01M345.7,413.7h.01M348.8,413.1h.01M351.8,413.2h.01M354.9,412.9h.01M357.9,413.5h.01M361.9,413.6h.01M365.5,413h.01M368.5,413.1h.01M371.5,413.2h.01M374.6,413.1h.01M377.6,413.5h.01M380.7,414h.01M383.8,413.7h.01M387.1,413.3h.01M390.6,412.9h.01M394,413h.01M397.2,413.4h.01M400.4,414.4h.01M403.3,413.2h.01M406.4,413.2h.01M409.4,413.9h.01M413.2,413.2h.01M416.3,413.3h.01M419.2,413.1h.01M422.2,413.2h.01M425.6,413.4h.01M428.7,413.3h.01M431.8,413.2h.01M434.8,413.2h.01M437.9,413.6h.01M441.7,413.4h.01M444.8,413.2h.01M447.9,413.1h.01M451.2,413.7h.01M454.8,413.9h.01M458.3,413.4h.01M461.4,413.4h.01M464.4,414.1h.01M467.4,413.5h.01M470.5,413.1h.01M473.7,413h.01M478.5,413.8h.01M302.3,410.3h.01M305.5,410.4h.01M308.6,410.9h.01M312.3,410.3h.01M315.4,410.4h.01M318.6,410.7h.01M321.7,410.2h.01M324.7,410.7h.01M328,410.3h.01M331.3,410.7h.01M334.5,410.8h.01M337.6,410.6h.01M340.7,410.6h.01M343.9,410.3h.01M346.9,410.7h.01M350.2,410.3h.01M353.5,410.1h.01M356.7,410.4h.01M359.8,411h.01M362.9,410.6h.01M366.4,410.2h.01M369.6,410.2h.01M372.8,410.3h.01M375.9,410.4h.01M379.3,410.8h.01M382.3,410.4h.01M385.5,410.3h.01M388.6,410.5h.01M392.3,410.3h.01M395.5,410.3h.01M398.6,410.6h.01M401.7,410.5h.01M404.8,410.4h.01M408,410.5h.01M411.1,410.7h.01M414.4,410.2h.01M417.5,410.3h.01M420.6,410.3h.01M423.7,410.7h.01M427,410.6h.01M430.1,410.4h.01M433.3,410.4h.01M436.4,410.5h.01M439.6,410.6h.01M443,410.5h.01M446.1,410.4h.01M449.9,410.6h.01M452.9,411.1h.01M456,410.9h.01M459.1,410.4h.01M462.1,410.3h.01M465.1,411h.01M468.2,410.5h.01M472.1,410.3h.01M475.3,410.3h.01M478.7,410.6h.01M301,407.5h.01M304.1,407.7h.01M307.3,407.6h.01M310.4,407.8h.01M313.8,407.5h.01M316.9,407.5h.01M319.9,407.7h.01M323.3,407.5h.01M326.4,407.5h.01M329.7,407.5h.01M332.8,407.9h.01M335.9,407.9h.01M339,407.7h.01M342.1,407.8h.01M345.6,407.5h.01M348.7,407.5h.01M351.8,407.5h.01M355.3,407.5h.01M358.6,408.1h.01M361.6,407.5h.01M364.6,407.7h.01M367.9,407.5h.01M371.3,407.6h.01M374.5,407.5h.01M377.7,407.8h.01M380.8,407.5h.01M383.9,407.6h.01M387.4,407.7h.01M390.8,407.5h.01M393.9,407.5h.01M397.1,407.5h.01M400.2,407.6h.01M403.2,407.7h.01M406.5,407.7h.01M409.7,407.9h.01M412.7,407.5h.01M416,407.6h.01M419,407.5h.01M422.2,407.5h.01M425.3,408.1h.01M428.5,407.7h.01M431.6,407.7h.01M434.8,407.5h.01M438,407.8h.01M441.1,407.7h.01M444.3,407.5h.01M447.6,407.6h.01M450.7,407.5h.01M453.8,407.5h.01M457,407.8h.01M460.5,407.5h.01M463.7,407.5h.01M466.8,407.7h.01M470,407.9h.01M473.7,407.5h.01M476.8,407.5h.01M479.8,407.7h.01" fill="none" stroke="#002020" stroke-width="6.4" stroke-linecap="round" clip-path="url(#cp4)"/>
<path d="" fill="none" stroke="#001a1a" stroke-width="3.7" stroke-linecap="round"/>
<g class="p">
<circle cx="331.9" cy="449.3"/><circle cx="450.5" cy="449"/><circle cx="479.4" cy="449.3"/><circle cx="359.4" cy="443.3"/><circle cx="370.1" cy="437.2"/><circle cx="345" cy="428.2"/><circle cx="381.7" cy="446.2"/><circle cx="469.6" cy="424.8"/><circle cx="449.2" cy="426.1"/><circle cx="397.2" cy="438.1"/><circle cx="425.3" cy="408.1"/><circle cx="398.6" cy="410.6"/><circle cx="351.4" cy="449.3"/><circle cx="328" cy="441.2"/><circle cx="477" cy="430"/><circle cx="371.9" cy="422.4"/><circle cx="454.1" cy="438"/><circle cx="420.6" cy="410.3"/><circle cx="434.8" cy="407.5"/><circle cx="405.8" cy="438.4"/><circle cx="401.9" cy="439.5"/><circle cx="372.8" cy="410.3"/><circle cx="447.6" cy="407.6"/><circle cx="326.6" cy="425.5"/><circle cx="408.2" cy="440.4"/><circle cx="457.6" cy="437.7"/><circle cx="327.4" cy="428.6"/><circle cx="313.6" cy="418.8"/><circle cx="439.5" cy="446.3"/><circle cx="301" cy="448.9"/><circle cx="314.9" cy="434.9"/><circle cx="475.6" cy="424.4"/><circle cx="342.5" cy="413.1"/><circle cx="367.5" cy="431.1"/><circle cx="383" cy="440.6"/><circle cx="388.3" cy="446.4"/><circle cx="427.9" cy="419.4"/><circle cx="456.5" cy="422"/><circle cx="356.8" cy="441.7"/><circle cx="433.1" cy="420.6"/><circle cx="465.6" cy="441.1"/><circle cx="459.7" cy="439.9"/><circle cx="451.3" cy="431.9"/><circle cx="313.9" cy="431.9"/><circle cx="407.5" cy="422.8"/><circle cx="388.9" cy="437.3"/><circle cx="396.2" cy="427.2"/><circle cx="313.8" cy="407.5"/><circle cx="361" cy="448.9"/><circle cx="400.4" cy="414.4"/><circle cx="333.9" cy="434.5"/><circle cx="331.7" cy="429"/><circle cx="370.2" cy="449.1"/><circle cx="449.1" cy="422.9"/><circle cx="462.6" cy="434.3"/><circle cx="318.6" cy="410.7"/><circle cx="409" cy="432.2"/><circle cx="390.8" cy="407.5"/><circle cx="330.9" cy="423.8"/><circle cx="349.2" cy="433.9"/><circle cx="308.6" cy="410.9"/><circle cx="390.3" cy="426.8"/><circle cx="414.3" cy="440.7"/><circle cx="339" cy="443.1"/><circle cx="460.5" cy="407.5"/><circle cx="372.6" cy="416.2"/><circle cx="479.8" cy="442.7"/><circle cx="313" cy="449"/><circle cx="412.3" cy="416.1"/><circle cx="454.5" cy="419.3"/><circle cx="417.5" cy="410.3"/><circle cx="473.1" cy="436.1"/><circle cx="329.9" cy="434.7"/><circle cx="454.7" cy="429.8"/><circle cx="385" cy="422.5"/><circle cx="427.8" cy="426.8"/><circle cx="408" cy="410.5"/><circle cx="462.9" cy="449.2"/><circle cx="359.2" cy="446.4"/><circle cx="377.4" cy="439.8"/><circle cx="372" cy="446.6"/><circle cx="368.2" cy="443.4"/><circle cx="452.9" cy="416.6"/><circle cx="301" cy="414.2"/><circle cx="424.4" cy="431.8"/><circle cx="453.4" cy="427.3"/><circle cx="436.4" cy="410.5"/><circle cx="312.1" cy="429.5"/><circle cx="477" cy="443.5"/><circle cx="352.1" cy="425.9"/><circle cx="427" cy="410.6"/><circle cx="405.7" cy="449"/><circle cx="434.8" cy="449"/><circle cx="465.7" cy="434.5"/><circle cx="362.9" cy="410.6"/><circle cx="322.7" cy="443.8"/><circle cx="437.2" cy="440.5"/><circle cx="330.2" cy="443.2"/><circle cx="425.6" cy="413.4"/><circle cx="365.7" cy="428.3"/><circle cx="409.2" cy="437.5"/><circle cx="449.8" cy="416.6"/><circle cx="452.9" cy="411.1"/><circle cx="315" cy="440.5"/><circle cx="430.8" cy="426.3"/><circle cx="417.8" cy="422.4"/><circle cx="372.2" cy="439.3"/><circle cx="421.7" cy="426"/><circle cx="320.8" cy="446.6"/><circle cx="429" cy="434"/><circle cx="353.5" cy="410.1"/><circle cx="453" cy="440.9"/><circle cx="392.8" cy="415.9"/><circle cx="396.6" cy="433.3"/><circle cx="434" cy="416.3"/><circle cx="425.1" cy="449.3"/><circle cx="360.9" cy="431.1"/><circle cx="345.6" cy="407.5"/><circle cx="475.4" cy="432.6"/><circle cx="469.8" cy="433.7"/><circle cx="346.9" cy="410.7"/><circle cx="388.8" cy="429.5"/><circle cx="354.9" cy="425"/><circle cx="371.5" cy="413.2"/><circle cx="310.4" cy="407.8"/><circle cx="351.8" cy="407.5"/><circle cx="387.1" cy="413.3"/><circle cx="375.9" cy="410.4"/><circle cx="383.7" cy="428.9"/><circle cx="435.6" cy="419"/><circle cx="402.6" cy="416.8"/><circle cx="318.1" cy="416.5"/><circle cx="479.8" cy="407.7"/><circle cx="444.6" cy="428"/><circle cx="303.4" cy="425.4"/><circle cx="309.3" cy="430.7"/><circle cx="380.2" cy="440.4"/><circle cx="336.3" cy="419.5"/><circle cx="304.1" cy="407.7"/><circle cx="412.9" cy="443.5"/><circle cx="460.7" cy="419.2"/><circle cx="322.6" cy="449.1"/><circle cx="431.3" cy="448.9"/><circle cx="433.3" cy="427.9"/><circle cx="361" cy="425.2"/><circle cx="404.3" cy="446.1"/><circle cx="449.9" cy="410.6"/><circle cx="444.6" cy="443.4"/><circle cx="305.5" cy="410.4"/><circle cx="311.2" cy="416.9"/><circle cx="375" cy="419.2"/><circle cx="323.6" cy="433.8"/><circle cx="355.3" cy="407.5"/><circle cx="430.3" cy="429.3"/><circle cx="474.6" cy="427.5"/><circle cx="351.8" cy="419.6"/><circle cx="460.8" cy="422.4"/><circle cx="404.5" cy="441.2"/><circle cx="384.8" cy="434.9"/><circle cx="377.7" cy="407.8"/><circle cx="317.6" cy="422.5"/><circle cx="364.4" cy="436.3"/><circle cx="387.4" cy="407.7"/><circle cx="446" cy="440.5"/><circle cx="399.5" cy="432.1"/><circle cx="403.2" cy="407.7"/><circle cx="478.6" cy="416.9"/><circle cx="381.8" cy="434.8"/><circle cx="439.4" cy="422.3"/><circle cx="445.4" cy="418.9"/><circle cx="413.6" cy="434.8"/><circle cx="448" cy="437.3"/><circle cx="423" cy="428.9"/><circle cx="316.7" cy="443.1"/><circle cx="434.9" cy="443.3"/><circle cx="311.4" cy="433.8"/><circle cx="337.2" cy="429.9"/><circle cx="439.6" cy="410.6"/><circle cx="345.9" cy="437.4"/><circle cx="325.2" cy="440.3"/><circle cx="364.9" cy="416"/><circle cx="461" cy="443.3"/><circle cx="477.5" cy="440.4"/><circle cx="400.5" cy="419.2"/><circle cx="356.4" cy="435"/><circle cx="397.2" cy="413.4"/><circle cx="373.6" cy="425.1"/><circle cx="470.7" cy="427.7"/><circle cx="337.2" cy="416.4"/><circle cx="314.7" cy="446.4"/><circle cx="458.4" cy="434.5"/><circle cx="385.8" cy="441.3"/><circle cx="440.6" cy="425.3"/><circle cx="386.7" cy="449"/><circle cx="472.5" cy="425.1"/><circle cx="477.4" cy="421.9"/><circle cx="414.4" cy="410.2"/><circle cx="343.6" cy="425.2"/><circle cx="475.9" cy="415.4"/><circle cx="411.1" cy="440.3"/><circle cx="334.2" cy="431"/><circle cx="302.3" cy="441"/><circle cx="394.9" cy="430.6"/><circle cx="413" cy="437.8"/><circle cx="348.8" cy="430.8"/><circle cx="308.8" cy="440.6"/><circle cx="328.8" cy="449.3"/><circle cx="387.7" cy="434.4"/><circle cx="469.1" cy="416.1"/><circle cx="426" cy="438"/><circle cx="377.5" cy="429.2"/><circle cx="324.5" cy="427.9"/><circle cx="473.7" cy="407.5"/><circle cx="311.6" cy="423.3"/><circle cx="371.5" cy="434.5"/><circle cx="354.6" cy="429.1"/><circle cx="428.8" cy="423.8"/><circle cx="380.4" cy="431.8"/><circle cx="342" cy="428.1"/><circle cx="346.1" cy="446.5"/><circle cx="418.7" cy="425.5"/><circle cx="415.4" cy="416.3"/><circle cx="307.3" cy="407.6"/><circle cx="310.4" cy="437.8"/><circle cx="423.5" cy="423.6"/><circle cx="421.1" cy="440.1"/><circle cx="332.7" cy="419.2"/><circle cx="385.5" cy="410.3"/><circle cx="380.1" cy="448.9"/><circle cx="415.7" cy="425.2"/><circle cx="401.9" cy="425.1"/><circle cx="456.5" cy="426.8"/><circle cx="339.8" cy="446.3"/><circle cx="374.9" cy="438.5"/><circle cx="404.6" cy="433.6"/><circle cx="336.1" cy="443.2"/><circle cx="368.9" cy="422.9"/><circle cx="329.7" cy="407.5"/><circle cx="344.5" cy="449.3"/><circle cx="354.5" cy="449.3"/><circle cx="362.1" cy="434.1"/><circle cx="453.8" cy="407.5"/><circle cx="365.3" cy="442.6"/><circle cx="464.4" cy="414.1"/><circle cx="386.2" cy="419.6"/><circle cx="331.8" cy="432.3"/><circle cx="351.8" cy="441.8"/><circle cx="380.6" cy="428.9"/><circle cx="419.3" cy="437.5"/><circle cx="316.6" cy="413.3"/><circle cx="431.2" cy="440.7"/><circle cx="466.6" cy="425.8"/><circle cx="317.9" cy="434.6"/><circle cx="376" cy="422.3"/><circle cx="433.3" cy="410.4"/><circle cx="340.9" cy="415.9"/><circle cx="395.8" cy="424.2"/><circle cx="362.4" cy="445.7"/><circle cx="342.1" cy="407.8"/><circle cx="364.1" cy="439.5"/><circle cx="443.2" cy="439.4"/><circle cx="336.7" cy="425.7"/><circle cx="469.3" cy="440.7"/><circle cx="417.1" cy="439.7"/><circle cx="343.2" cy="418.4"/><circle cx="383.1" cy="437.5"/><circle cx="367.1" cy="440.1"/><circle cx="407.3" cy="446.3"/><circle cx="383.8" cy="413.7"/><circle cx="399.3" cy="449.1"/><circle cx="345.8" cy="431.3"/><circle cx="345.8" cy="416.9"/><circle cx="479.8" cy="419.9"/><circle cx="306.9" cy="443"/><circle cx="421.4" cy="431.6"/><circle cx="462.7" cy="440.6"/><circle cx="434.1" cy="440.2"/><circle cx="326.4" cy="407.5"/><circle cx="466.8" cy="407.7"/><circle cx="326.1" cy="421"/><circle cx="388.6" cy="424.2"/><circle cx="313.5" cy="413.2"/><circle cx="428.2" cy="440.1"/><circle cx="391.2" cy="418.7"/><circle cx="452.4" cy="445.8"/><circle cx="403.3" cy="413.2"/><circle cx="402.6" cy="449.2"/><circle cx="422.2" cy="413.2"/><circle cx="401.1" cy="446.4"/><circle cx="476.2" cy="418.9"/><circle cx="456" cy="410.9"/><circle cx="305.5" cy="446.3"/><circle cx="352" cy="435.2"/><circle cx="409.6" cy="425.5"/><circle cx="336.3" cy="422.6"/><circle cx="316.6" cy="437.8"/><circle cx="384.2" cy="417.1"/><circle cx="339.3" cy="418.7"/><circle cx="365.5" cy="413"/><circle cx="314" cy="424.9"/><circle cx="468.2" cy="446.4"/><circle cx="326.6" cy="434.5"/><circle cx="310.9" cy="420.1"/><circle cx="331.3" cy="410.7"/><circle cx="306.8" cy="449.2"/><circle cx="449.1" cy="440.3"/><circle cx="433.2" cy="446.5"/><circle cx="336" cy="413.6"/><circle cx="340.7" cy="410.6"/><circle cx="302.2" cy="434.5"/><circle cx="467.4" cy="413.5"/><circle cx="444.3" cy="407.5"/><circle cx="355.9" cy="446.5"/><circle cx="423.6" cy="420.4"/><circle cx="391.6" cy="435.9"/><circle cx="354.2" cy="437"/><circle cx="339.5" cy="432"/><circle cx="391.7" cy="421.7"/><circle cx="346.9" cy="443.4"/><circle cx="412.3" cy="419.3"/><circle cx="338.9" cy="427.7"/><circle cx="416.3" cy="436.7"/><circle cx="320.6" cy="438.1"/><circle cx="444.8" cy="413.2"/><circle cx="450.8" cy="443"/><circle cx="306.7" cy="413.4"/><circle cx="424.8" cy="426.2"/><circle cx="351.6" cy="429"/><circle cx="316.9" cy="407.5"/><circle cx="478.7" cy="410.6"/><circle cx="378.9" cy="423.5"/><circle cx="450.7" cy="407.5"/><circle cx="332.8" cy="407.9"/><circle cx="356.8" cy="438.6"/><circle cx="444" cy="449.3"/><circle cx="322.6" cy="413"/><circle cx="470" cy="419.1"/><circle cx="416.3" cy="413.3"/><circle cx="367.1" cy="425.5"/><circle cx="397.6" cy="446.4"/><circle cx="328" cy="410.3"/><circle cx="327.5" cy="416.3"/><circle cx="378" cy="419.8"/><circle cx="328.3" cy="422.8"/><circle cx="384" cy="425.7"/><circle cx="406.4" cy="419.5"/><circle cx="348.8" cy="419"/><circle cx="441.6" cy="436.7"/><circle cx="426.3" cy="422.1"/><circle cx="380.8" cy="407.5"/><circle cx="383.8" cy="443.6"/><circle cx="333.4" cy="425.4"/><circle cx="434.7" cy="425"/><circle cx="397.8" cy="429.7"/><circle cx="459.1" cy="410.4"/><circle cx="398.6" cy="416.8"/><circle cx="458.1" cy="442.7"/><circle cx="397.1" cy="407.5"/><circle cx="313.6" cy="443.4"/><circle cx="423" cy="437.6"/><circle cx="415.6" cy="449.2"/><circle cx="474" cy="421.8"/><circle cx="456.8" cy="416.3"/><circle cx="303.7" cy="431.7"/><circle cx="418.8" cy="449.3"/><circle cx="388.6" cy="410.5"/><circle cx="362.7" cy="422.3"/><circle cx="417" cy="428.1"/><circle cx="308.6" cy="434.9"/><circle cx="430.1" cy="410.4"/><circle cx="443.7" cy="416.2"/><circle cx="432.8" cy="431"/><circle cx="430.2" cy="421.1"/><circle cx="351.8" cy="413.2"/><circle cx="354.5" cy="415.9"/><circle cx="310.4" cy="443.3"/><circle cx="334.7" cy="428"/><circle cx="467.1" cy="428.8"/><circle cx="446" cy="446.2"/><circle cx="341.8" cy="443.9"/><circle cx="470" cy="407.9"/><circle cx="361.7" cy="437.6"/><circle cx="398.8" cy="435.5"/><circle cx="462.8" cy="416.8"/><circle cx="440.3" cy="440.5"/><circle cx="415.8" cy="419.4"/><circle cx="416.3" cy="433.4"/><circle cx="461.4" cy="413.4"/><circle cx="351.7" cy="432"/><circle cx="391.9" cy="430.4"/><circle cx="428.5" cy="407.7"/><circle cx="343.4" cy="434"/><circle cx="393.5" cy="433.5"/><circle cx="354.9" cy="412.9"/><circle cx="425.9" cy="434.6"/><circle cx="393.6" cy="443.3"/><circle cx="323.3" cy="407.5"/><circle cx="361.6" cy="407.5"/><circle cx="414.1" cy="422"/><circle cx="364.1" cy="425.1"/><circle cx="343.9" cy="410.3"/><circle cx="449.3" cy="446"/><circle cx="450.8" cy="428.8"/><circle cx="389.8" cy="415.8"/><circle cx="471" cy="422"/><circle cx="359.7" cy="416"/><circle cx="374.5" cy="435.4"/><circle cx="364" cy="448.8"/><circle cx="303.9" cy="443.7"/><circle cx="365.9" cy="422.6"/><circle cx="368.7" cy="434.1"/><circle cx="467.4" cy="431.9"/><circle cx="318.1" cy="428.6"/><circle cx="391.3" cy="446"/><circle cx="409.4" cy="417.1"/><circle cx="316.6" cy="419.3"/><circle cx="301" cy="424.2"/><circle cx="360.1" cy="440.2"/><circle cx="468.1" cy="436.1"/><circle cx="326.6" cy="437.5"/><circle cx="418.8" cy="419.4"/><circle cx="301" cy="438.5"/><circle cx="432" cy="423.5"/><circle cx="454.8" cy="413.9"/><circle cx="409.9" cy="429.2"/><circle cx="355.8" cy="421.9"/><circle cx="387.8" cy="443.5"/><circle cx="464.6" cy="446.6"/><circle cx="342.9" cy="437.1"/><circle cx="382.3" cy="420.1"/><circle cx="378.6" cy="446.1"/><circle cx="354.7" cy="419"/><circle cx="325.8" cy="443.4"/><circle cx="420.8" cy="421.8"/><circle cx="319.9" cy="407.7"/><circle cx="307.3" cy="437.8"/><circle cx="333.4" cy="446.6"/><circle cx="394.4" cy="446.4"/><circle cx="329.7" cy="426.6"/><circle cx="466.1" cy="416.7"/><circle cx="400.2" cy="407.6"/><circle cx="368.5" cy="413.1"/><circle cx="446.1" cy="433.7"/><circle cx="305.5" cy="435.2"/><circle cx="375.6" cy="416.1"/><circle cx="336.5" cy="433"/><circle cx="447.7" cy="443.2"/><circle cx="425.3" cy="418.1"/><circle cx="472.4" cy="440.5"/><circle cx="370" cy="441"/><circle cx="391.6" cy="439.2"/><circle cx="428.7" cy="413.3"/><circle cx="349.8" cy="444"/><circle cx="455.4" cy="446.4"/><circle cx="425.7" cy="443.4"/><circle cx="465.1" cy="411"/><circle cx="374.7" cy="428.1"/><circle cx="386.1" cy="438.1"/><circle cx="438.5" cy="429.9"/><circle cx="435.8" cy="437.6"/><circle cx="468.2" cy="410.5"/><circle cx="390.6" cy="412.9"/><circle cx="443.5" cy="425.1"/><circle cx="446.4" cy="425.4"/><circle cx="350.2" cy="410.3"/><circle cx="412" cy="448.8"/><circle cx="435.8" cy="431.4"/><circle cx="301" cy="443.7"/><circle cx="406.8" cy="443.2"/><circle cx="427.9" cy="431.3"/><circle cx="431.6" cy="407.7"/><circle cx="308.6" cy="422.3"/><circle cx="321.3" cy="422.4"/><circle cx="323.5" cy="436.9"/><circle cx="442.9" cy="446.1"/><circle cx="319.7" cy="413.7"/><circle cx="409.9" cy="443.1"/><circle cx="316.9" cy="425.8"/><circle cx="332.6" cy="437.3"/><circle cx="444.3" cy="431.1"/><circle cx="423.4" cy="446.2"/><circle cx="399.3" cy="443.8"/><circle cx="439.3" cy="419.3"/><circle cx="470.5" cy="413.1"/><circle cx="407.3" cy="427.6"/><circle cx="404.9" cy="426"/><circle cx="308.2" cy="416"/><circle cx="466.5" cy="449"/><circle cx="467.6" cy="443.4"/><circle cx="403.3" cy="436.6"/><circle cx="333.2" cy="443.5"/><circle cx="370.5" cy="425.7"/><circle cx="365.5" cy="445.9"/><circle cx="337.8" cy="435.7"/><circle cx="329.7" cy="413.4"/><circle cx="371.3" cy="407.6"/><circle cx="359" cy="436.7"/><circle cx="373.7" cy="449.3"/><circle cx="408.9" cy="449"/><circle cx="449.4" cy="434.4"/><circle cx="303.5" cy="437.4"/><circle cx="470.2" cy="430.8"/><circle cx="461.5" cy="446.5"/><circle cx="322.5" cy="425.7"/><circle cx="431.8" cy="443.7"/><circle cx="457.7" cy="419.2"/><circle cx="356.7" cy="410.4"/><circle cx="380.1" cy="437.3"/><circle cx="308.5" cy="446.1"/><circle cx="304" cy="428.5"/><circle cx="429.8" cy="446.2"/><circle cx="394.5" cy="436.5"/><circle cx="477.4" cy="426.9"/><circle cx="453.6" cy="449.2"/><circle cx="340.6" cy="435"/><circle cx="406.5" cy="407.7"/><circle cx="306.7" cy="432.3"/><circle cx="342.7" cy="431"/><circle cx="348.6" cy="416"/><circle cx="330.6" cy="416.5"/><circle cx="436.4" cy="427.7"/><circle cx="475.3" cy="410.3"/><circle cx="349.4" cy="446.9"/><circle cx="361.9" cy="413.6"/><circle cx="385.2" cy="446.4"/><circle cx="422.2" cy="443.1"/><circle cx="448.3" cy="419.8"/><circle cx="476" cy="449.3"/><circle cx="359.7" cy="422.3"/><circle cx="351.6" cy="438.5"/><circle cx="393" cy="449.3"/><circle cx="305.2" cy="440.1"/><circle cx="479.8" cy="423.3"/><circle cx="462.1" cy="410.3"/><circle cx="428.8" cy="443.2"/><circle cx="359.8" cy="411"/><circle cx="383.9" cy="407.6"/><circle cx="308.5" cy="425.7"/><circle cx="477.6" cy="437.1"/><circle cx="411.1" cy="422.8"/><circle cx="302.4" cy="446.3"/><circle cx="434.8" cy="413.2"/><circle cx="339.2" cy="422.6"/><circle cx="452.5" cy="434.8"/><circle cx="343.1" cy="446.6"/><circle cx="346.5" cy="425.4"/><circle cx="448.3" cy="431.5"/><circle cx="477.7" cy="446.6"/><circle cx="307.9" cy="419.2"/><circle cx="312.3" cy="410.3"/><circle cx="409.4" cy="413.9"/><circle cx="464.3" cy="431.6"/><circle cx="446.7" cy="416"/><circle cx="322.2" cy="440.7"/><circle cx="479.8" cy="431.3"/><circle cx="356.9" cy="427.3"/><circle cx="348.8" cy="413.1"/><circle cx="467" cy="438.6"/><circle cx="345.7" cy="413.7"/><circle cx="451.7" cy="424.7"/><circle cx="451.3" cy="419.2"/><circle cx="352.8" cy="422.6"/><circle cx="380.8" cy="425.9"/><circle cx="419.7" cy="434.3"/><circle cx="359.7" cy="428.1"/><circle cx="412.7" cy="425.5"/><circle cx="428.2" cy="449.3"/><circle cx="371.8" cy="443.5"/><circle cx="447.4" cy="449.1"/><circle cx="392.3" cy="410.3"/><circle cx="318.7" cy="440.6"/><circle cx="378.8" cy="434.3"/><circle cx="404.4" cy="422.9"/><circle cx="302" cy="417.1"/><circle cx="317" cy="431.6"/><circle cx="478.1" cy="434"/><circle cx="404.8" cy="410.4"/><circle cx="452.8" cy="422"/><circle cx="317.7" cy="446.1"/><circle cx="367.1" cy="436.9"/><circle cx="422.2" cy="407.5"/><circle cx="348.7" cy="407.5"/><circle cx="341.4" cy="449.3"/><circle cx="376.6" cy="432.3"/><circle cx="321.7" cy="410.2"/><circle cx="474.9" cy="438.7"/><circle cx="402.4" cy="443.5"/><circle cx="457" cy="407.8"/><circle cx="346.4" cy="434.4"/><circle cx="357.7" cy="424.4"/><circle cx="304.9" cy="416"/><circle cx="472.2" cy="415.8"/><circle cx="438.8" cy="437.7"/><circle cx="380.7" cy="443.3"/><circle cx="360.5" cy="419.5"/><circle cx="335.2" cy="449.1"/><circle cx="454.6" cy="424.3"/><circle cx="411.1" cy="410.7"/><circle cx="458.9" cy="431.6"/><circle cx="376.7" cy="449.1"/><circle cx="412.7" cy="407.5"/><circle cx="354.4" cy="443.7"/><circle cx="476.8" cy="407.5"/><circle cx="405.6" cy="430.6"/><circle cx="380.7" cy="414"/><circle cx="429" cy="437.1"/><circle cx="412.4" cy="431.9"/><circle cx="315" cy="416"/><circle cx="390.7" cy="442.6"/><circle cx="461.6" cy="430.2"/><circle cx="455.5" cy="435.4"/><circle cx="371.8" cy="419.3"/><circle cx="473" cy="418.8"/><circle cx="336.7" cy="446.3"/><circle cx="364.6" cy="407.7"/><circle cx="463.9" cy="422.7"/><circle cx="473.8" cy="443.3"/><circle cx="382" cy="423.2"/><circle cx="330.3" cy="446.4"/><circle cx="444.6" cy="436.5"/><circle cx="367.9" cy="407.5"/><circle cx="348.8" cy="427.7"/><circle cx="311.4" cy="426.5"/><circle cx="379.3" cy="410.8"/><circle cx="329.1" cy="431.1"/><circle cx="441.1" cy="407.7"/><circle cx="320.9" cy="435"/><circle cx="369.6" cy="410.2"/><circle cx="388.6" cy="440.3"/><circle cx="438.7" cy="433.2"/><circle cx="343.9" cy="442"/><circle cx="388.8" cy="421"/><circle cx="446" cy="422.1"/><circle cx="464" cy="443.6"/><circle cx="472.9" cy="449.3"/><circle cx="456.1" cy="432.5"/><circle cx="334.5" cy="410.8"/><circle cx="357.6" cy="419.1"/><circle cx="366.4" cy="410.2"/><circle cx="406.5" cy="416.3"/><circle cx="309.9" cy="449.1"/><circle cx="454.9" cy="443.3"/><circle cx="314.9" cy="428.2"/><circle cx="319.1" cy="449.3"/><circle cx="436.1" cy="422.1"/><circle cx="349.4" cy="424.7"/><circle cx="406.4" cy="413.2"/><circle cx="425.9" cy="429.1"/><circle cx="437.5" cy="416.7"/><circle cx="474.5" cy="446.4"/><circle cx="377" cy="436.7"/><circle cx="463.6" cy="425.6"/><circle cx="427.9" cy="416.2"/><circle cx="470.6" cy="437.9"/><circle cx="438" cy="407.8"/><circle cx="463.7" cy="437.5"/><circle cx="316" cy="449.3"/><circle cx="389.9" cy="449.1"/><circle cx="398.9" cy="440.6"/><circle cx="413.2" cy="413.2"/><circle cx="432" cy="434.1"/><circle cx="368.7" cy="428.2"/><circle cx="437.9" cy="413.6"/><circle cx="310.4" cy="413.6"/><circle cx="339" cy="407.7"/><circle cx="440.9" cy="449.1"/><circle cx="458.3" cy="413.4"/><circle cx="458.5" cy="445.8"/><circle cx="325.1" cy="418.3"/><circle cx="392.7" cy="424.6"/><circle cx="394" cy="413"/><circle cx="401.2" cy="422.3"/><circle cx="409.4" cy="420.2"/><circle cx="416" cy="443.3"/><circle cx="369.2" cy="416.2"/><circle cx="368.6" cy="446.5"/><circle cx="367.1" cy="449.2"/><circle cx="352.6" cy="446.3"/><circle cx="327.3" cy="446.3"/><circle cx="325.7" cy="449.1"/><circle cx="339.1" cy="413.3"/><circle cx="420" cy="428.7"/><circle cx="355.1" cy="432.2"/><circle cx="459.9" cy="449.3"/><circle cx="393.9" cy="407.5"/><circle cx="394.7" cy="439.9"/><circle cx="387.1" cy="416.5"/><circle cx="374.5" cy="407.5"/><circle cx="311.6" cy="446.2"/><circle cx="328.7" cy="419.3"/><circle cx="395.6" cy="416"/><circle cx="368" cy="419.1"/><circle cx="412.8" cy="428.6"/><circle cx="358.6" cy="408.1"/><circle cx="473.2" cy="430.1"/><circle cx="311.9" cy="440.5"/><circle cx="377.6" cy="413.5"/><circle cx="340.7" cy="425.2"/><circle cx="326.6" cy="413.2"/><circle cx="419.1" cy="442.7"/><circle cx="416" cy="407.6"/><circle cx="396.3" cy="419"/><circle cx="303.8" cy="449.1"/><circle cx="335.6" cy="437.8"/><circle cx="435.8" cy="434.5"/><circle cx="329.6" cy="437.7"/><circle cx="378.5" cy="416.7"/><circle cx="460.7" cy="436.8"/><circle cx="375.6" cy="445.7"/><circle cx="432" cy="437.7"/><circle cx="371.7" cy="428.6"/><circle cx="364" cy="430.9"/><circle cx="420.3" cy="446.4"/><circle cx="472.5" cy="433.1"/><circle cx="357.8" cy="430.7"/><circle cx="440.6" cy="416.4"/><circle cx="401.7" cy="410.5"/><circle cx="381.4" cy="417.1"/><circle cx="424.2" cy="440.6"/><circle cx="436.3" cy="446.2"/><circle cx="341.6" cy="440"/><circle cx="376.6" cy="425.6"/><circle cx="324.2" cy="423.3"/><circle cx="362.3" cy="442.5"/><circle cx="338.3" cy="449"/><circle cx="442.3" cy="419"/><circle cx="399.8" cy="427.4"/><circle cx="443" cy="410.5"/><circle cx="362.4" cy="417.3"/><circle cx="469.6" cy="449.1"/><circle cx="421.6" cy="418.1"/><circle cx="396.1" cy="449.2"/><circle cx="349.9" cy="421.8"/><circle cx="419" cy="407.5"/><circle cx="335.9" cy="407.9"/><circle cx="337.5" cy="440.4"/><circle cx="357.9" cy="413.5"/><circle cx="351.5" cy="416.5"/><circle cx="473.7" cy="413"/><circle cx="321.3" cy="416.6"/><circle cx="441.6" cy="428.2"/><circle cx="402.5" cy="431.2"/><circle cx="364.5" cy="419.7"/><circle cx="459" cy="428.4"/><circle cx="377.8" cy="443"/><circle cx="307" cy="428.5"/><circle cx="341.4" cy="420.8"/><circle cx="332.9" cy="413.6"/><circle cx="390.4" cy="433"/><circle cx="374.7" cy="442.5"/><circle cx="442.8" cy="434"/><circle cx="437.9" cy="448.9"/><circle cx="374.6" cy="413.1"/><circle cx="418.4" cy="431.4"/><circle cx="419.2" cy="413.1"/><circle cx="357.7" cy="449.2"/><circle cx="323.2" cy="430.7"/><circle cx="394.6" cy="421.4"/><circle cx="320.3" cy="431.9"/><circle cx="422.8" cy="434.4"/><circle cx="441.2" cy="431.3"/><circle cx="359.1" cy="433.5"/><circle cx="333.4" cy="422.2"/><circle cx="451.2" cy="413.7"/><circle cx="334.2" cy="416.4"/><circle cx="447.5" cy="428.5"/><circle cx="431.8" cy="413.2"/><circle cx="471.4" cy="446.5"/><circle cx="398.2" cy="421.4"/><circle cx="370.5" cy="431.6"/><circle cx="410.4" cy="446.2"/><circle cx="301" cy="431.7"/><circle cx="319.7" cy="443.6"/><circle cx="470.7" cy="443.5"/><circle cx="460.2" cy="425.6"/><circle cx="414" cy="446.5"/><circle cx="423.6" cy="415.8"/><circle cx="354.2" cy="440.2"/><circle cx="438" cy="443.5"/><circle cx="302.3" cy="410.3"/><circle cx="441.7" cy="413.4"/><circle cx="403.5" cy="420"/><circle cx="313.4" cy="437.6"/><circle cx="467" cy="419.7"/><circle cx="415.2" cy="430.6"/><circle cx="344.1" cy="422.1"/><circle cx="347.5" cy="449.2"/><circle cx="382.3" cy="410.4"/><circle cx="437.6" cy="424.9"/><circle cx="303.2" cy="421.9"/><circle cx="478.5" cy="413.8"/><circle cx="303.6" cy="413.2"/><circle cx="467.2" cy="422.7"/><circle cx="447.9" cy="413.1"/><circle cx="442.4" cy="422.2"/><circle cx="395.5" cy="410.3"/><circle cx="422" cy="449.2"/><circle cx="331.4" cy="440.3"/><circle cx="410.7" cy="434.8"/><circle cx="383.4" cy="432"/><circle cx="417.1" cy="446.3"/><circle cx="383.3" cy="448.9"/><circle cx="479.8" cy="426.5"/><circle cx="324.3" cy="415.5"/><circle cx="346.3" cy="440.4"/><circle cx="304.9" cy="419.2"/><circle cx="334.4" cy="440.6"/><circle cx="430.9" cy="416.3"/><circle cx="456.1" cy="440.3"/><circle cx="456.8" cy="449.3"/><circle cx="324.2" cy="446.4"/><circle cx="407.1" cy="435.2"/><circle cx="402.7" cy="428.3"/><circle cx="324.7" cy="410.7"/><circle cx="306" cy="423.8"/><circle cx="373.6" cy="432.1"/><circle cx="401.6" cy="434.3"/><circle cx="301" cy="407.5"/><circle cx="451" cy="437.9"/><circle cx="418.7" cy="416.2"/><circle cx="463.7" cy="407.5"/><circle cx="472.1" cy="410.3"/><circle cx="326.1" cy="431.4"/><circle cx="321.1" cy="428.5"/><circle cx="346.9" cy="421.5"/><circle cx="393.3" cy="427.7"/><circle cx="337.6" cy="410.6"/><circle cx="398.9" cy="424.4"/><circle cx="301" cy="428.5"/><circle cx="459.9" cy="416.1"/><circle cx="464" cy="419.6"/><circle cx="315.4" cy="410.4"/><circle cx="386.2" cy="431.1"/><circle cx="464.1" cy="428.6"/><circle cx="441.1" cy="443.6"/><circle cx="365.6" cy="433.6"/><circle cx="446.1" cy="410.4"/><circle cx="423.7" cy="410.7"/><circle cx="319.6" cy="425"/><circle cx="426.7" cy="446.5"/><circle cx="314.6" cy="421.8"/><circle cx="396.5" cy="442.6"/><circle cx="348.7" cy="438.6"/><circle cx="362.7" cy="427.9"/><circle cx="319.6" cy="419.8"/><circle cx="301" cy="420"/><circle cx="386.8" cy="426.9"/><circle cx="409.7" cy="407.9"/>
</g>
<path d="M299.4,452.0 V405.0 H481.0 V452.0" fill="none" stroke="#7c7c7c" stroke-width="0.9"/>
<line x1="299.4" y1="452.0" x2="481.0" y2="452.0" stroke="#777" stroke-width="1.1"/>
<line x1="297.5" y1="452" x2="299.4" y2="452" stroke="#666" stroke-width="0.7"/>
<text x="296.4" y="453.7" font-size="4.9" text-anchor="end" fill="#222" stroke="#222" stroke-width="0.1">0</text>
<line x1="297.5" y1="442.6" x2="299.4" y2="442.6" stroke="#666" stroke-width="0.7"/>
<text x="296.4" y="444.3" font-size="4.9" text-anchor="end" fill="#222" stroke="#222" stroke-width="0.1">1</text>
<line x1="297.5" y1="433.2" x2="299.4" y2="433.2" stroke="#666" stroke-width="0.7"/>
<text x="296.4" y="434.9" font-size="4.9" text-anchor="end" fill="#222" stroke="#222" stroke-width="0.1">2</text>
<line x1="297.5" y1="423.8" x2="299.4" y2="423.8" stroke="#666" stroke-width="0.7"/>
<text x="296.4" y="425.5" font-size="4.9" text-anchor="end" fill="#222" stroke="#222" stroke-width="0.1">3</text>
<line x1="297.5" y1="414.4" x2="299.4" y2="414.4" stroke="#666" stroke-width="0.7"/>
<text x="296.4" y="416.1" font-size="4.9" text-anchor="end" fill="#222" stroke="#222" stroke-width="0.1">4</text>
<line x1="297.5" y1="405" x2="299.4" y2="405" stroke="#666" stroke-width="0.7"/>
<text x="296.4" y="406.7" font-size="4.9" text-anchor="end" fill="#222" stroke="#222" stroke-width="0.1">5</text>
<line x1="299.4" y1="452.0" x2="299.4" y2="454.1" stroke="#666" stroke-width="0.7"/>
<text x="299.4" y="461.5" font-size="5.5" text-anchor="middle" fill="#222" stroke="#222" stroke-width="0.1">0</text>
<line x1="317.6" y1="452.0" x2="317.6" y2="454.1" stroke="#666" stroke-width="0.7"/>
<text x="317.6" y="461.5" font-size="5.5" text-anchor="middle" fill="#222" stroke="#222" stroke-width="0.1">2</text>
<line x1="335.7" y1="452.0" x2="335.7" y2="454.1" stroke="#666" stroke-width="0.7"/>
<text x="335.7" y="461.5" font-size="5.5" text-anchor="middle" fill="#222" stroke="#222" stroke-width="0.1">4</text>
<line x1="353.9" y1="452.0" x2="353.9" y2="454.1" stroke="#666" stroke-width="0.7"/>
<text x="353.9" y="461.5" font-size="5.5" text-anchor="middle" fill="#222" stroke="#222" stroke-width="0.1">6</text>
<line x1="372" y1="452.0" x2="372" y2="454.1" stroke="#666" stroke-width="0.7"/>
<text x="372" y="461.5" font-size="5.5" text-anchor="middle" fill="#222" stroke="#222" stroke-width="0.1">8</text>
<line x1="390.2" y1="452.0" x2="390.2" y2="454.1" stroke="#666" stroke-width="0.7"/>
<text x="390.2" y="461.5" font-size="5.5" text-anchor="middle" fill="#222" stroke="#222" stroke-width="0.1">10</text>
<line x1="408.4" y1="452.0" x2="408.4" y2="454.1" stroke="#666" stroke-width="0.7"/>
<text x="408.4" y="461.5" font-size="5.5" text-anchor="middle" fill="#222" stroke="#222" stroke-width="0.1">12</text>
<line x1="426.5" y1="452.0" x2="426.5" y2="454.1" stroke="#666" stroke-width="0.7"/>
<text x="426.5" y="461.5" font-size="5.5" text-anchor="middle" fill="#222" stroke="#222" stroke-width="0.1">14</text>
<line x1="444.7" y1="452.0" x2="444.7" y2="454.1" stroke="#666" stroke-width="0.7"/>
<text x="444.7" y="461.5" font-size="5.5" text-anchor="middle" fill="#222" stroke="#222" stroke-width="0.1">16</text>
<line x1="462.8" y1="452.0" x2="462.8" y2="454.1" stroke="#666" stroke-width="0.7"/>
<text x="462.8" y="461.5" font-size="5.5" text-anchor="middle" fill="#222" stroke="#222" stroke-width="0.1">18</text>
<line x1="481" y1="452.0" x2="481" y2="454.1" stroke="#666" stroke-width="0.7"/>
<text x="481" y="461.5" font-size="5.5" text-anchor="middle" fill="#222" stroke="#222" stroke-width="0.1">20</text>
<text x="390.2" y="472.3" font-size="6.4" text-anchor="middle" fill="#111" stroke="#111" stroke-width="0.1" textLength="85.6" lengthAdjust="spacingAndGlyphs">Distance along pore length (nm)</text>
<text x="287.6" y="428.5" font-size="6.0" text-anchor="middle" fill="#111" stroke="#111" stroke-width="0.1" transform="rotate(-90 287.6 428.5)" textLength="50.6" lengthAdjust="spacingAndGlyphs">Axial distance (nm)</text>
<text x="482.7" y="430.4" font-size="6.1" text-anchor="start" fill="#444" stroke="#444" stroke-width="0.1">BS5</text>
<text x="389" y="482.3" font-size="9.6" text-anchor="middle" fill="#111" font-weight="bold" font-family='"Liberation Serif", "Times New Roman", serif'>(d)</text>
</g>
</svg>
</body></html>
